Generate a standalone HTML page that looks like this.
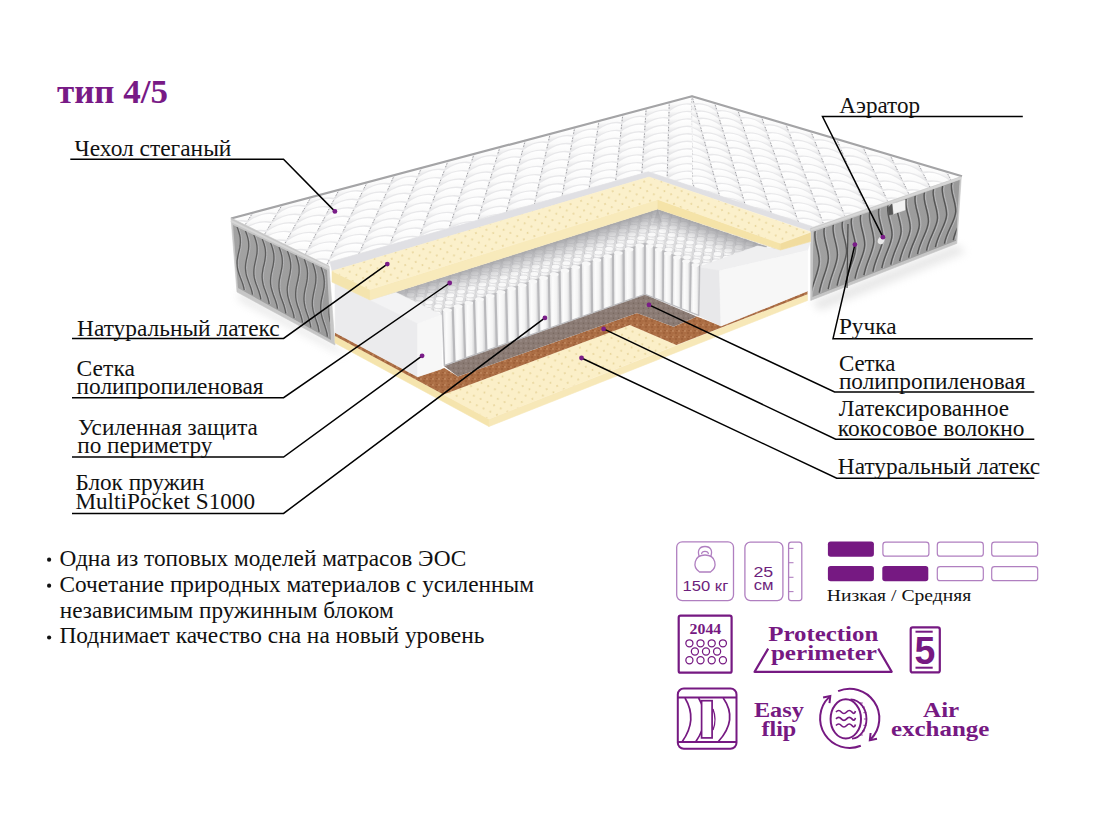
<!DOCTYPE html>
<html><head><meta charset="utf-8"><title>тип 4/5</title>
<style>
html,body{margin:0;padding:0;background:#fff;}
body{width:1100px;height:814px;overflow:hidden;font-family:"Liberation Serif",serif;}
svg{display:block;}
</style></head><body>
<svg width="1100" height="814" viewBox="0 0 1100 814">
<rect width="1100" height="814" fill="#fff"/>

<defs>
  <filter id="blur4" x="-20%" y="-20%" width="140%" height="140%"><feGaussianBlur stdDeviation="4"/></filter>
  <filter id="blur2" x="-20%" y="-20%" width="140%" height="140%"><feGaussianBlur stdDeviation="1.5"/></filter>
  <filter id="blur1" x="-20%" y="-20%" width="140%" height="140%"><feGaussianBlur stdDeviation="0.6"/></filter>
  <pattern id="latexdots" patternUnits="userSpaceOnUse" width="11" height="10" patternTransform="rotate(-17)">
    <rect width="11" height="10" fill="none"/>
    <circle cx="2" cy="2" r="0.95" fill="#e6d398"/>
    <circle cx="7.5" cy="7" r="0.95" fill="#e6d398"/>
  </pattern>
  <pattern id="coco" patternUnits="userSpaceOnUse" width="6" height="6">
    <rect width="6" height="6" fill="#ab6d44"/>
    <circle cx="1" cy="1" r="0.9" fill="#c18a60"/>
    <circle cx="4" cy="3" r="0.8" fill="#92552f"/>
    <circle cx="2" cy="5" r="0.7" fill="#b98054"/>
    <circle cx="5" cy="0.5" r="0.6" fill="#93552f"/>
  </pattern>
  <pattern id="mesh" patternUnits="userSpaceOnUse" width="5" height="5">
    <rect width="5" height="5" fill="#8b7b74"/>
    <circle cx="1" cy="1" r="0.8" fill="#a0928c"/>
    <circle cx="3.5" cy="3.2" r="0.8" fill="#76675f"/>
  </pattern>
  <linearGradient id="gPanelL" x1="0" y1="0" x2="1" y2="0">
    <stop offset="0" stop-color="#a2a2a2"/>
    <stop offset="1" stop-color="#9a9a9a"/>
  </linearGradient>
  <linearGradient id="gPanelR" x1="0" y1="0" x2="1" y2="0">
    <stop offset="0" stop-color="#a0a0a0"/>
    <stop offset="1" stop-color="#9a9a9a"/>
  </linearGradient>
  <linearGradient id="gSpringTop" x1="0" y1="0" x2="0" y2="1">
    <stop offset="0" stop-color="#b5b5b8"/>
    <stop offset="0.5" stop-color="#d2d2d4"/>
    <stop offset="1" stop-color="#e8e8ea"/>
  </linearGradient>
  <linearGradient id="gPillow" x1="0" y1="0" x2="0" y2="1">
    <stop offset="0" stop-color="#ffffff"/>
    <stop offset="0.55" stop-color="#fafafa"/>
    <stop offset="1" stop-color="#e4e4e6"/>
  </linearGradient>
  <linearGradient id="gShL" gradientUnits="userSpaceOnUse" x1="514" y1="254.5" x2="520" y2="274">
    <stop offset="0" stop-color="#9c9ca0" stop-opacity="0.85"/>
    <stop offset="1" stop-color="#b0b0b4" stop-opacity="0"/>
  </linearGradient>
  <linearGradient id="gShR" gradientUnits="userSpaceOnUse" x1="712" y1="228" x2="705.5" y2="247">
    <stop offset="0" stop-color="#9c9ca0" stop-opacity="0.85"/>
    <stop offset="1" stop-color="#b0b0b4" stop-opacity="0"/>
  </linearGradient>
  <linearGradient id="gCyl" x1="0" y1="0" x2="1" y2="0">
    <stop offset="0" stop-color="#e9e9ea"/>
    <stop offset="0.3" stop-color="#fcfcfc"/>
    <stop offset="0.7" stop-color="#f3f3f3"/>
    <stop offset="1" stop-color="#d2d2d4"/>
  </linearGradient>
</defs>

<g filter="url(#blur4)" opacity="0.35">
<polygon points="238.0,292.0 335.0,346.0 345.0,356.0 240.0,300.0" fill="#b0b0b0"  stroke="#b0b0b0" stroke-width="0.6" stroke-linejoin="round"/>
<polygon points="812.0,302.0 957.0,245.0 965.0,252.0 820.0,310.0" fill="#b8b8b8"  stroke="#b8b8b8" stroke-width="0.6" stroke-linejoin="round"/>
</g>
<polygon points="231.0,218.0 692.0,96.0 962.0,176.0 812.0,227.0 648.2,171.8 330.0,262.0 328.0,266.0" fill="#f4f4f4"  stroke="#f4f4f4" stroke-width="0.6" stroke-linejoin="round"/>
<clipPath id="cpTop"><polygon points="231.0,218.0 692.0,96.0 962.0,176.0 812.0,227.0 648.2,171.8 330.0,262.0 328.0,266.0"/></clipPath>
<g clip-path="url(#cpTop)">
<clipPath id="cpQL"><polygon points="150.0,60.0 692.0,96.0 696.9,496.0 150.0,500.0"/></clipPath>
<clipPath id="cpQR"><polygon points="692.0,96.0 1000.0,60.0 1000.0,500.0 696.9,496.0"/></clipPath>
<g clip-path="url(#cpQL)">
<rect x="200" y="80" width="800" height="240" fill="#e8e8ea"/>
<path d="M193.6,229.5 Q208.0,218.1 222.5,221.5 L217.3,228.5 Q202.7,225.9 188.2,236.3 Z" fill="url(#gPillow)"/>
<path d="M223.7,221.5 Q237.9,210.4 252.1,213.7 L247.2,220.6 Q232.9,218.1 218.6,228.3 Z" fill="url(#gPillow)"/>
<path d="M253.3,213.7 Q267.3,202.7 281.3,206.0 L276.7,212.9 Q262.6,210.4 248.5,220.5 Z" fill="url(#gPillow)"/>
<path d="M282.5,206.0 Q296.3,195.2 310.0,198.4 L305.7,205.3 Q291.8,202.9 277.9,212.7 Z" fill="url(#gPillow)"/>
<path d="M311.2,198.4 Q324.8,187.8 338.3,190.9 L334.3,197.8 Q320.6,195.4 307.0,205.1 Z" fill="url(#gPillow)"/>
<path d="M339.5,190.9 Q352.9,180.5 366.2,183.6 L362.4,190.4 Q349.0,188.1 335.5,197.6 Z" fill="url(#gPillow)"/>
<path d="M367.4,183.6 Q380.5,173.3 393.6,176.4 L390.1,183.1 Q376.9,180.9 363.7,190.3 Z" fill="url(#gPillow)"/>
<path d="M394.8,176.4 Q407.7,166.2 420.6,169.2 L417.4,176.0 Q404.4,173.8 391.4,183.0 Z" fill="url(#gPillow)"/>
<path d="M421.8,169.2 Q434.5,159.2 447.2,162.2 L444.3,168.9 Q431.5,166.8 418.7,175.8 Z" fill="url(#gPillow)"/>
<path d="M448.4,162.2 Q460.9,152.4 473.3,155.3 L470.8,161.9 Q458.2,159.9 445.6,168.8 Z" fill="url(#gPillow)"/>
<path d="M474.5,155.3 Q486.8,145.6 499.1,148.5 L496.9,155.1 Q484.4,153.1 472.0,161.8 Z" fill="url(#gPillow)"/>
<path d="M500.3,148.5 Q512.4,139.0 524.5,141.8 L522.5,148.3 Q510.3,146.3 498.1,154.9 Z" fill="url(#gPillow)"/>
<path d="M525.7,141.8 Q537.6,132.4 549.4,135.2 L547.8,141.6 Q535.8,139.7 523.8,148.2 Z" fill="url(#gPillow)"/>
<path d="M550.6,135.2 Q562.3,126.0 574.0,128.7 L572.7,135.1 Q560.9,133.2 549.0,141.5 Z" fill="url(#gPillow)"/>
<path d="M575.2,128.7 Q586.7,119.6 598.2,122.3 L597.2,128.6 Q585.6,126.8 573.9,134.9 Z" fill="url(#gPillow)"/>
<path d="M599.4,122.3 Q610.8,113.4 622.1,116.0 L621.3,122.2 Q609.9,120.4 598.4,128.5 Z" fill="url(#gPillow)"/>
<path d="M623.3,116.0 Q634.4,107.2 645.6,109.8 L645.1,115.9 Q633.8,114.2 622.5,122.1 Z" fill="url(#gPillow)"/>
<path d="M646.8,109.8 Q657.7,101.1 668.7,103.7 L668.5,109.7 Q657.4,108.0 646.3,115.8 Z" fill="url(#gPillow)"/>
<path d="M669.9,103.7 Q680.6,95.2 691.4,97.7 L691.5,103.5 Q680.6,101.9 669.7,109.5 Z" fill="url(#gPillow)"/>
<path d="M692.6,97.7 Q692.0,92.2 691.4,97.7 L691.5,103.5 Q692.1,98.9 692.7,103.5 Z" fill="url(#gPillow)"/>
<path d="M187.6,238.0 Q202.1,226.8 216.7,230.2 L211.4,237.2 Q196.8,234.5 182.1,244.8 Z" fill="url(#gPillow)"/>
<path d="M218.0,230.1 Q232.3,219.0 246.6,222.4 L241.7,229.3 Q227.3,226.7 212.8,236.9 Z" fill="url(#gPillow)"/>
<path d="M247.9,222.2 Q262.0,211.3 276.1,214.7 L271.5,221.5 Q257.3,219.0 243.1,229.0 Z" fill="url(#gPillow)"/>
<path d="M277.4,214.5 Q291.3,203.7 305.2,207.0 L300.8,213.9 Q286.9,211.4 272.9,221.2 Z" fill="url(#gPillow)"/>
<path d="M306.5,206.9 Q320.2,196.3 333.8,199.5 L329.8,206.4 Q316.0,204.0 302.2,213.6 Z" fill="url(#gPillow)"/>
<path d="M335.1,199.4 Q348.6,189.0 362.0,192.2 L358.2,199.0 Q344.7,196.6 331.1,206.1 Z" fill="url(#gPillow)"/>
<path d="M363.3,192.0 Q376.5,181.7 389.8,184.9 L386.3,191.7 Q372.9,189.4 359.6,198.7 Z" fill="url(#gPillow)"/>
<path d="M391.0,184.7 Q404.1,174.6 417.1,177.7 L413.9,184.4 Q400.8,182.2 387.6,191.4 Z" fill="url(#gPillow)"/>
<path d="M418.3,177.6 Q431.2,167.6 444.0,170.6 L441.1,177.3 Q428.2,175.2 415.3,184.1 Z" fill="url(#gPillow)"/>
<path d="M445.3,170.5 Q457.9,160.7 470.5,163.7 L468.0,170.3 Q455.2,168.2 442.5,177.0 Z" fill="url(#gPillow)"/>
<path d="M471.8,163.5 Q484.2,153.9 496.6,156.8 L494.4,163.4 Q481.8,161.3 469.3,170.0 Z" fill="url(#gPillow)"/>
<path d="M497.9,156.7 Q510.1,147.2 522.3,150.0 L520.4,156.6 Q508.0,154.5 495.7,163.1 Z" fill="url(#gPillow)"/>
<path d="M523.6,149.9 Q535.6,140.5 547.6,143.4 L546.0,149.8 Q533.8,147.8 521.6,156.3 Z" fill="url(#gPillow)"/>
<path d="M548.9,143.2 Q560.7,134.0 572.5,136.8 L571.2,143.1 Q559.2,141.2 547.2,149.5 Z" fill="url(#gPillow)"/>
<path d="M573.8,136.6 Q585.4,127.6 597.1,130.3 L596.0,136.6 Q584.2,134.7 572.5,142.9 Z" fill="url(#gPillow)"/>
<path d="M598.3,130.1 Q609.8,121.2 621.2,123.9 L620.5,130.0 Q608.9,128.3 597.3,136.3 Z" fill="url(#gPillow)"/>
<path d="M622.5,123.7 Q633.7,114.9 645.0,117.6 L644.6,123.6 Q633.1,121.9 621.7,129.8 Z" fill="url(#gPillow)"/>
<path d="M646.2,117.4 Q657.3,108.7 668.5,111.3 L668.3,117.3 Q657.0,115.6 645.8,123.3 Z" fill="url(#gPillow)"/>
<path d="M669.7,111.2 Q680.6,102.6 691.5,105.2 L691.6,111.0 Q680.5,109.4 669.5,117.0 Z" fill="url(#gPillow)"/>
<path d="M692.7,105.1 Q692.1,99.6 691.5,105.1 L691.6,110.9 Q692.2,106.3 692.8,110.9 Z" fill="url(#gPillow)"/>
<path d="M181.5,246.6 Q196.2,235.4 210.9,238.9 L205.6,245.9 Q190.9,243.1 176.1,253.4 Z" fill="url(#gPillow)"/>
<path d="M212.3,238.6 Q226.7,227.6 241.1,231.1 L236.2,238.0 Q221.7,235.3 207.1,245.4 Z" fill="url(#gPillow)"/>
<path d="M242.6,230.7 Q256.8,219.9 271.0,223.3 L266.3,230.2 Q252.0,227.6 237.7,237.5 Z" fill="url(#gPillow)"/>
<path d="M272.4,223.0 Q286.4,212.3 300.4,215.7 L296.0,222.5 Q281.9,220.0 267.8,229.7 Z" fill="url(#gPillow)"/>
<path d="M301.7,215.4 Q315.5,204.8 329.3,208.1 L325.3,215.0 Q311.4,212.5 297.5,222.1 Z" fill="url(#gPillow)"/>
<path d="M330.7,207.8 Q344.3,197.5 357.8,200.7 L354.1,207.5 Q340.4,205.1 326.7,214.5 Z" fill="url(#gPillow)"/>
<path d="M359.2,200.4 Q372.5,190.2 385.9,193.4 L382.5,200.2 Q369.0,197.8 355.5,207.1 Z" fill="url(#gPillow)"/>
<path d="M387.3,193.1 Q400.4,183.1 413.6,186.2 L410.4,192.9 Q397.1,190.6 383.9,199.7 Z" fill="url(#gPillow)"/>
<path d="M414.9,185.9 Q427.9,176.0 440.8,179.1 L438.0,185.8 Q424.9,183.5 411.8,192.5 Z" fill="url(#gPillow)"/>
<path d="M442.1,178.8 Q454.9,169.0 467.7,172.1 L465.1,178.7 Q452.2,176.5 439.3,185.3 Z" fill="url(#gPillow)"/>
<path d="M469.0,171.7 Q481.5,162.1 494.1,165.1 L491.9,171.7 Q479.2,169.6 466.5,178.2 Z" fill="url(#gPillow)"/>
<path d="M495.4,164.8 Q507.8,155.4 520.2,158.3 L518.2,164.8 Q505.7,162.7 493.2,171.3 Z" fill="url(#gPillow)"/>
<path d="M521.4,158.0 Q533.6,148.7 545.8,151.5 L544.2,158.0 Q531.8,156.0 519.5,164.3 Z" fill="url(#gPillow)"/>
<path d="M547.1,151.2 Q559.1,142.0 571.1,144.8 L569.7,151.2 Q557.6,149.3 545.5,157.5 Z" fill="url(#gPillow)"/>
<path d="M572.3,144.5 Q584.1,135.5 595.9,138.2 L594.9,144.5 Q582.9,142.7 571.0,150.8 Z" fill="url(#gPillow)"/>
<path d="M597.2,138.0 Q608.8,129.0 620.4,131.7 L619.7,137.9 Q607.9,136.1 596.1,144.1 Z" fill="url(#gPillow)"/>
<path d="M621.6,131.4 Q633.1,122.7 644.5,125.3 L644.0,131.4 Q632.5,129.6 620.9,137.5 Z" fill="url(#gPillow)"/>
<path d="M645.7,125.0 Q657.0,116.3 668.2,118.9 L668.1,124.9 Q656.7,123.2 645.3,130.9 Z" fill="url(#gPillow)"/>
<path d="M669.4,118.6 Q680.5,110.1 691.6,112.6 L691.7,118.5 Q680.5,116.8 669.3,124.5 Z" fill="url(#gPillow)"/>
<path d="M692.8,112.5 Q692.2,107.0 691.6,112.5 L691.7,118.3 Q692.3,113.7 692.9,118.3 Z" fill="url(#gPillow)"/>
<path d="M175.5,255.2 Q190.3,244.0 205.0,247.6 L199.8,254.6 Q185.0,251.8 170.1,262.0 Z" fill="url(#gPillow)"/>
<path d="M206.6,247.1 Q221.1,236.2 235.7,239.7 L230.7,246.7 Q216.1,243.9 201.4,253.9 Z" fill="url(#gPillow)"/>
<path d="M237.2,239.3 Q251.5,228.5 265.8,232.0 L261.2,238.9 Q246.7,236.2 232.3,246.0 Z" fill="url(#gPillow)"/>
<path d="M267.3,231.5 Q281.4,220.9 295.5,224.3 L291.2,231.2 Q277.0,228.6 262.7,238.2 Z" fill="url(#gPillow)"/>
<path d="M297.0,223.8 Q310.9,213.4 324.8,216.7 L320.7,223.6 Q306.7,221.0 292.7,230.5 Z" fill="url(#gPillow)"/>
<path d="M326.3,216.3 Q339.9,206.0 353.6,209.3 L349.9,216.1 Q336.1,213.6 322.3,223.0 Z" fill="url(#gPillow)"/>
<path d="M355.1,208.8 Q368.6,198.7 382.1,201.9 L378.6,208.7 Q365.0,206.3 351.4,215.5 Z" fill="url(#gPillow)"/>
<path d="M383.5,201.5 Q396.8,191.5 410.1,194.7 L406.9,201.4 Q393.5,199.1 380.1,208.1 Z" fill="url(#gPillow)"/>
<path d="M411.5,194.2 Q424.6,184.4 437.7,187.5 L434.8,194.2 Q421.6,191.9 408.4,200.8 Z" fill="url(#gPillow)"/>
<path d="M439.0,187.0 Q451.9,177.3 464.8,180.4 L462.3,187.1 Q449.3,184.8 436.2,193.6 Z" fill="url(#gPillow)"/>
<path d="M466.2,180.0 Q478.9,170.4 491.6,173.4 L489.4,180.0 Q476.5,177.9 463.7,186.5 Z" fill="url(#gPillow)"/>
<path d="M493.0,173.0 Q505.5,163.6 518.0,166.5 L516.1,173.0 Q503.4,170.9 490.8,179.4 Z" fill="url(#gPillow)"/>
<path d="M519.3,166.1 Q531.6,156.8 544.0,159.7 L542.3,166.1 Q529.9,164.1 517.4,172.4 Z" fill="url(#gPillow)"/>
<path d="M545.3,159.2 Q557.4,150.1 569.6,152.9 L568.2,159.3 Q555.9,157.3 543.7,165.5 Z" fill="url(#gPillow)"/>
<path d="M570.9,152.5 Q582.8,143.4 594.8,146.2 L593.7,152.5 Q581.6,150.6 569.5,158.7 Z" fill="url(#gPillow)"/>
<path d="M596.0,145.8 Q607.8,136.9 619.6,139.6 L618.8,145.8 Q606.9,143.9 595.0,151.9 Z" fill="url(#gPillow)"/>
<path d="M620.8,139.2 Q632.4,130.4 644.0,133.0 L643.5,139.1 Q631.8,137.3 620.1,145.2 Z" fill="url(#gPillow)"/>
<path d="M645.2,132.6 Q656.6,123.9 668.0,126.5 L667.8,132.5 Q656.3,130.8 644.8,138.5 Z" fill="url(#gPillow)"/>
<path d="M669.2,126.1 Q680.5,117.6 691.7,120.1 L691.8,125.9 Q680.4,124.3 669.1,131.9 Z" fill="url(#gPillow)"/>
<path d="M692.9,119.9 Q692.3,114.4 691.7,119.9 L691.8,125.7 Q692.4,121.1 693.0,125.7 Z" fill="url(#gPillow)"/>
<path d="M169.5,263.7 Q184.4,252.6 199.2,256.3 L194.0,263.3 Q179.0,260.4 164.1,270.5 Z" fill="url(#gPillow)"/>
<path d="M200.9,255.7 Q215.5,244.8 230.2,248.4 L225.2,255.3 Q210.5,252.5 195.7,262.5 Z" fill="url(#gPillow)"/>
<path d="M231.8,247.8 Q246.2,237.0 260.6,240.6 L256.0,247.5 Q241.5,244.8 226.9,254.5 Z" fill="url(#gPillow)"/>
<path d="M262.2,240.0 Q276.5,229.4 290.7,232.9 L286.3,239.8 Q272.0,237.1 257.7,246.7 Z" fill="url(#gPillow)"/>
<path d="M292.2,232.3 Q306.3,221.9 320.3,225.3 L316.2,232.2 Q302.1,229.6 288.0,239.0 Z" fill="url(#gPillow)"/>
<path d="M321.8,224.7 Q335.6,214.5 349.5,217.9 L345.7,224.7 Q331.8,222.1 317.8,231.4 Z" fill="url(#gPillow)"/>
<path d="M351.0,217.2 Q364.6,207.1 378.2,210.5 L374.8,217.2 Q361.0,214.8 347.3,223.9 Z" fill="url(#gPillow)"/>
<path d="M379.7,209.8 Q393.1,199.9 406.6,203.2 L403.4,209.9 Q389.9,207.5 376.3,216.5 Z" fill="url(#gPillow)"/>
<path d="M408.0,202.5 Q421.3,192.7 434.5,195.9 L431.6,202.6 Q418.3,200.3 404.9,209.1 Z" fill="url(#gPillow)"/>
<path d="M435.9,195.3 Q449.0,185.7 462.0,188.8 L459.5,195.4 Q446.3,193.2 433.1,201.9 Z" fill="url(#gPillow)"/>
<path d="M463.4,188.2 Q476.3,178.7 489.1,181.7 L486.9,188.3 Q473.9,186.1 460.9,194.7 Z" fill="url(#gPillow)"/>
<path d="M490.5,181.1 Q503.2,171.8 515.8,174.8 L513.9,181.3 Q501.1,179.1 488.3,187.6 Z" fill="url(#gPillow)"/>
<path d="M517.2,174.1 Q529.7,164.9 542.2,167.8 L540.5,174.3 Q527.9,172.2 515.3,180.5 Z" fill="url(#gPillow)"/>
<path d="M543.5,167.2 Q555.8,158.1 568.1,161.0 L566.7,167.3 Q554.3,165.3 541.9,173.5 Z" fill="url(#gPillow)"/>
<path d="M569.4,160.4 Q581.5,151.4 593.6,154.2 L592.6,160.5 Q580.3,158.5 568.1,166.6 Z" fill="url(#gPillow)"/>
<path d="M594.9,153.6 Q606.8,144.7 618.7,147.4 L618.0,153.6 Q605.9,151.8 593.9,159.7 Z" fill="url(#gPillow)"/>
<path d="M620.0,146.9 Q631.7,138.1 643.5,140.8 L643.0,146.8 Q631.1,145.1 619.3,152.9 Z" fill="url(#gPillow)"/>
<path d="M644.7,140.2 Q656.3,131.5 667.8,134.1 L667.6,140.1 Q655.9,138.4 644.3,146.1 Z" fill="url(#gPillow)"/>
<path d="M669.0,133.6 Q680.4,125.0 691.8,127.6 L691.9,133.4 Q680.4,131.8 668.9,139.4 Z" fill="url(#gPillow)"/>
<path d="M693.0,127.3 Q692.4,121.8 691.8,127.3 L691.9,133.1 Q692.5,128.5 693.1,133.1 Z" fill="url(#gPillow)"/>
<path d="M163.5,272.3 Q178.4,261.3 193.4,265.0 L188.2,272.0 Q173.1,269.0 158.0,279.1 Z" fill="url(#gPillow)"/>
<path d="M195.2,264.2 Q209.9,253.4 224.7,257.1 L219.7,264.0 Q204.9,261.1 190.0,271.0 Z" fill="url(#gPillow)"/>
<path d="M226.4,256.3 Q240.9,245.6 255.5,249.3 L250.8,256.2 Q236.2,253.4 221.5,263.1 Z" fill="url(#gPillow)"/>
<path d="M257.2,248.5 Q271.5,238.0 285.8,241.6 L281.5,248.4 Q267.0,245.7 252.6,255.2 Z" fill="url(#gPillow)"/>
<path d="M287.5,240.8 Q301.6,230.4 315.8,233.9 L311.7,240.8 Q297.5,238.1 283.2,247.5 Z" fill="url(#gPillow)"/>
<path d="M317.4,233.1 Q331.3,223.0 345.3,226.4 L341.5,233.2 Q327.5,230.6 313.4,239.8 Z" fill="url(#gPillow)"/>
<path d="M346.9,225.6 Q360.6,215.6 374.4,219.0 L370.9,225.8 Q357.1,223.2 343.2,232.3 Z" fill="url(#gPillow)"/>
<path d="M375.9,218.2 Q389.5,208.3 403.1,211.6 L399.9,218.4 Q386.2,215.9 372.5,224.8 Z" fill="url(#gPillow)"/>
<path d="M404.6,210.9 Q418.0,201.1 431.3,204.4 L428.5,211.1 Q415.0,208.7 401.5,217.4 Z" fill="url(#gPillow)"/>
<path d="M432.8,203.6 Q446.0,194.0 459.2,197.2 L456.6,203.8 Q443.3,201.5 430.0,210.1 Z" fill="url(#gPillow)"/>
<path d="M460.6,196.4 Q473.6,186.9 486.6,190.1 L484.4,196.6 Q471.3,194.4 458.1,202.9 Z" fill="url(#gPillow)"/>
<path d="M488.1,189.3 Q500.9,180.0 513.7,183.0 L511.7,189.5 Q498.8,187.3 485.9,195.7 Z" fill="url(#gPillow)"/>
<path d="M515.1,182.2 Q527.7,173.0 540.3,176.0 L538.7,182.4 Q525.9,180.3 513.2,188.6 Z" fill="url(#gPillow)"/>
<path d="M541.7,175.2 Q554.1,166.2 566.6,169.0 L565.2,175.4 Q552.7,173.4 540.1,181.5 Z" fill="url(#gPillow)"/>
<path d="M567.9,168.3 Q580.2,159.3 592.4,162.1 L591.4,168.4 Q579.0,166.5 566.6,174.5 Z" fill="url(#gPillow)"/>
<path d="M593.8,161.4 Q605.8,152.6 617.9,155.3 L617.1,161.5 Q604.9,159.6 592.7,167.5 Z" fill="url(#gPillow)"/>
<path d="M619.2,154.6 Q631.1,145.8 643.0,148.5 L642.5,154.6 Q630.5,152.8 618.4,160.6 Z" fill="url(#gPillow)"/>
<path d="M644.2,147.8 Q655.9,139.2 667.6,141.8 L667.4,147.7 Q655.6,146.0 643.7,153.7 Z" fill="url(#gPillow)"/>
<path d="M668.8,141.0 Q680.4,132.5 691.9,135.0 L692.0,140.9 Q680.3,139.2 668.6,146.9 Z" fill="url(#gPillow)"/>
<path d="M693.1,134.7 Q692.5,129.2 691.9,134.7 L691.9,140.5 Q692.5,135.9 693.1,140.5 Z" fill="url(#gPillow)"/>
<path d="M157.4,280.8 Q172.5,269.9 187.6,273.7 L182.4,280.7 Q167.2,277.7 152.0,287.6 Z" fill="url(#gPillow)"/>
<path d="M189.4,272.8 Q204.3,262.0 219.2,265.8 L214.2,272.7 Q199.3,269.7 184.3,279.5 Z" fill="url(#gPillow)"/>
<path d="M221.0,264.8 Q235.6,254.2 250.3,257.9 L245.7,264.8 Q230.9,261.9 216.1,271.6 Z" fill="url(#gPillow)"/>
<path d="M252.1,257.0 Q266.5,246.5 281.0,250.2 L276.7,257.1 Q262.1,254.2 247.5,263.7 Z" fill="url(#gPillow)"/>
<path d="M282.7,249.2 Q297.0,239.0 311.3,242.5 L307.2,249.4 Q292.8,246.6 278.5,255.9 Z" fill="url(#gPillow)"/>
<path d="M313.0,241.6 Q327.0,231.5 341.1,235.0 L337.4,241.8 Q323.2,239.1 309.0,248.3 Z" fill="url(#gPillow)"/>
<path d="M342.8,234.0 Q356.7,224.1 370.5,227.5 L367.1,234.3 Q353.1,231.7 339.1,240.7 Z" fill="url(#gPillow)"/>
<path d="M372.2,226.6 Q385.9,216.8 399.6,220.1 L396.4,226.9 Q382.6,224.3 368.8,233.2 Z" fill="url(#gPillow)"/>
<path d="M401.1,219.2 Q414.6,209.5 428.2,212.8 L425.3,219.5 Q411.7,217.0 398.0,225.8 Z" fill="url(#gPillow)"/>
<path d="M429.7,211.9 Q443.0,202.3 456.3,205.6 L453.8,212.2 Q440.4,209.8 426.9,218.4 Z" fill="url(#gPillow)"/>
<path d="M457.9,204.6 Q471.0,195.2 484.1,198.4 L481.9,204.9 Q468.6,202.7 455.4,211.1 Z" fill="url(#gPillow)"/>
<path d="M485.6,197.4 Q498.6,188.2 511.5,191.2 L509.6,197.7 Q496.5,195.5 483.4,203.9 Z" fill="url(#gPillow)"/>
<path d="M513.0,190.3 Q525.7,181.1 538.5,184.1 L536.9,190.6 Q524.0,188.5 511.1,196.7 Z" fill="url(#gPillow)"/>
<path d="M539.9,183.2 Q552.5,174.2 565.1,177.1 L563.8,183.5 Q551.0,181.4 538.3,189.5 Z" fill="url(#gPillow)"/>
<path d="M566.5,176.2 Q578.9,167.3 591.3,170.1 L590.2,176.4 Q577.7,174.4 565.2,182.4 Z" fill="url(#gPillow)"/>
<path d="M592.6,169.2 Q604.8,160.4 617.1,163.2 L616.3,169.3 Q603.9,167.4 591.6,175.4 Z" fill="url(#gPillow)"/>
<path d="M618.4,162.3 Q630.4,153.6 642.4,156.2 L642.0,162.3 Q629.8,160.5 617.6,168.3 Z" fill="url(#gPillow)"/>
<path d="M643.7,155.4 Q655.6,146.8 667.4,149.4 L667.2,155.3 Q655.2,153.6 643.2,161.3 Z" fill="url(#gPillow)"/>
<path d="M668.6,148.5 Q680.3,140.0 692.0,142.5 L692.0,148.3 Q680.2,146.7 668.4,154.3 Z" fill="url(#gPillow)"/>
<path d="M693.2,142.1 Q692.6,136.6 692.0,142.1 L692.0,147.9 Q692.6,143.3 693.2,147.9 Z" fill="url(#gPillow)"/>
<path d="M151.4,289.4 Q166.6,278.5 181.8,282.4 L176.5,289.4 Q161.3,286.3 146.0,296.2 Z" fill="url(#gPillow)"/>
<path d="M183.7,281.3 Q198.7,270.6 213.7,274.5 L208.7,281.4 Q193.7,278.4 178.6,288.1 Z" fill="url(#gPillow)"/>
<path d="M215.6,273.3 Q230.4,262.8 245.1,266.6 L240.5,273.5 Q225.6,270.5 210.7,280.1 Z" fill="url(#gPillow)"/>
<path d="M247.0,265.5 Q261.6,255.1 276.2,258.8 L271.8,265.7 Q257.1,262.8 242.4,272.2 Z" fill="url(#gPillow)"/>
<path d="M278.0,257.7 Q292.4,247.5 306.8,251.1 L302.7,258.0 Q288.2,255.2 273.7,264.4 Z" fill="url(#gPillow)"/>
<path d="M308.6,250.0 Q322.7,240.0 336.9,243.5 L333.2,250.4 Q318.9,247.6 304.6,256.7 Z" fill="url(#gPillow)"/>
<path d="M338.7,242.4 Q352.7,232.5 366.7,236.0 L363.2,242.8 Q349.1,240.2 335.0,249.1 Z" fill="url(#gPillow)"/>
<path d="M368.4,234.9 Q382.2,225.2 396.0,228.6 L392.9,235.3 Q379.0,232.8 365.0,241.6 Z" fill="url(#gPillow)"/>
<path d="M397.7,227.5 Q411.3,217.9 425.0,221.2 L422.1,227.9 Q408.4,225.4 394.6,234.1 Z" fill="url(#gPillow)"/>
<path d="M426.6,220.1 Q440.1,210.7 453.5,213.9 L451.0,220.6 Q437.4,218.1 423.8,226.7 Z" fill="url(#gPillow)"/>
<path d="M455.1,212.8 Q468.4,203.5 481.6,206.7 L479.4,213.3 Q466.0,210.9 452.6,219.3 Z" fill="url(#gPillow)"/>
<path d="M483.2,205.6 Q496.3,196.4 509.4,199.5 L507.4,206.0 Q494.2,203.7 481.0,212.0 Z" fill="url(#gPillow)"/>
<path d="M510.9,198.4 Q523.8,189.3 536.7,192.3 L535.1,198.7 Q522.0,196.6 508.9,204.8 Z" fill="url(#gPillow)"/>
<path d="M538.1,191.2 Q550.9,182.2 563.6,185.2 L562.3,191.5 Q549.4,189.5 536.5,197.5 Z" fill="url(#gPillow)"/>
<path d="M565.0,184.1 Q577.6,175.2 590.1,178.1 L589.1,184.4 Q576.4,182.4 563.7,190.4 Z" fill="url(#gPillow)"/>
<path d="M591.5,177.0 Q603.8,168.2 616.2,171.0 L615.5,177.2 Q603.0,175.3 590.4,183.2 Z" fill="url(#gPillow)"/>
<path d="M617.5,170.0 Q629.7,161.3 641.9,164.0 L641.5,170.0 Q629.1,168.2 616.8,176.0 Z" fill="url(#gPillow)"/>
<path d="M643.2,163.0 Q655.2,154.4 667.2,157.0 L667.0,162.9 Q654.9,161.2 642.7,168.9 Z" fill="url(#gPillow)"/>
<path d="M668.4,156.0 Q680.2,147.5 692.1,150.0 L692.1,155.8 Q680.2,154.2 668.2,161.8 Z" fill="url(#gPillow)"/>
<path d="M693.3,149.5 Q692.7,144.0 692.1,149.5 L692.1,155.3 Q692.7,150.7 693.3,155.3 Z" fill="url(#gPillow)"/>
<path d="M145.4,297.9 Q160.7,287.1 176.0,291.1 L170.7,298.1 Q155.3,294.9 140.0,304.7 Z" fill="url(#gPillow)"/>
<path d="M178.0,289.8 Q193.1,279.2 208.2,283.1 L203.2,290.0 Q188.1,287.0 172.9,296.6 Z" fill="url(#gPillow)"/>
<path d="M210.2,281.8 Q225.1,271.4 240.0,275.2 L235.3,282.1 Q220.3,279.1 205.4,288.6 Z" fill="url(#gPillow)"/>
<path d="M241.9,274.0 Q256.6,263.7 271.3,267.4 L267.0,274.3 Q252.2,271.4 237.4,280.7 Z" fill="url(#gPillow)"/>
<path d="M273.2,266.2 Q287.8,256.0 302.3,259.7 L298.2,266.6 Q283.6,263.7 269.0,272.9 Z" fill="url(#gPillow)"/>
<path d="M304.1,258.5 Q318.4,248.5 332.8,252.1 L329.0,258.9 Q314.6,256.1 300.1,265.2 Z" fill="url(#gPillow)"/>
<path d="M334.6,250.8 Q348.7,241.0 362.9,244.6 L359.4,251.3 Q345.2,248.6 330.9,257.5 Z" fill="url(#gPillow)"/>
<path d="M364.6,243.3 Q378.6,233.6 392.5,237.1 L389.4,243.8 Q375.3,241.2 361.2,249.9 Z" fill="url(#gPillow)"/>
<path d="M394.3,235.8 Q408.0,226.3 421.8,229.7 L419.0,236.4 Q405.1,233.8 391.2,242.4 Z" fill="url(#gPillow)"/>
<path d="M423.5,228.4 Q437.1,219.0 450.7,222.3 L448.1,228.9 Q434.4,226.5 420.7,235.0 Z" fill="url(#gPillow)"/>
<path d="M452.3,221.1 Q465.7,211.7 479.2,215.0 L476.9,221.6 Q463.4,219.2 449.8,227.6 Z" fill="url(#gPillow)"/>
<path d="M480.7,213.8 Q494.0,204.5 507.2,207.7 L505.3,214.2 Q491.9,211.9 478.5,220.2 Z" fill="url(#gPillow)"/>
<path d="M508.7,206.5 Q521.8,197.4 534.9,200.5 L533.2,206.9 Q520.0,204.7 506.8,212.9 Z" fill="url(#gPillow)"/>
<path d="M536.3,199.2 Q549.2,190.3 562.1,193.2 L560.8,199.6 Q547.8,197.5 534.7,205.6 Z" fill="url(#gPillow)"/>
<path d="M563.5,192.0 Q576.3,183.2 589.0,186.0 L587.9,192.3 Q575.1,190.3 562.2,198.3 Z" fill="url(#gPillow)"/>
<path d="M590.3,184.9 Q602.9,176.1 615.4,178.9 L614.6,185.0 Q602.0,183.1 589.3,191.0 Z" fill="url(#gPillow)"/>
<path d="M616.7,177.7 Q629.1,169.0 641.4,171.7 L640.9,177.8 Q628.5,176.0 616.0,183.7 Z" fill="url(#gPillow)"/>
<path d="M642.7,170.6 Q654.8,162.0 667.0,164.6 L666.8,170.5 Q654.5,168.8 642.2,176.5 Z" fill="url(#gPillow)"/>
<path d="M668.2,163.4 Q680.2,154.9 692.1,157.5 L692.2,163.3 Q680.1,161.6 668.0,169.3 Z" fill="url(#gPillow)"/>
<path d="M693.3,156.9 Q692.7,151.4 692.1,156.9 L692.2,162.7 Q692.8,158.1 693.4,162.7 Z" fill="url(#gPillow)"/>
<path d="M139.4,306.5 Q154.8,295.8 170.1,299.8 L164.9,306.7 Q149.4,303.5 133.9,313.3 Z" fill="url(#gPillow)"/>
<path d="M172.3,298.4 Q187.5,287.8 202.7,291.8 L197.8,298.7 Q182.5,295.6 167.2,305.2 Z" fill="url(#gPillow)"/>
<path d="M204.8,290.4 Q219.8,280.0 234.8,283.9 L230.2,290.8 Q215.1,287.7 200.0,297.1 Z" fill="url(#gPillow)"/>
<path d="M236.9,282.4 Q251.7,272.2 266.5,276.1 L262.1,282.9 Q247.2,279.9 232.3,289.2 Z" fill="url(#gPillow)"/>
<path d="M268.5,274.6 Q283.1,264.6 297.8,268.3 L293.7,275.2 Q279.0,272.2 264.2,281.4 Z" fill="url(#gPillow)"/>
<path d="M299.7,266.9 Q314.1,257.0 328.6,260.7 L324.8,267.5 Q310.3,264.6 295.7,273.6 Z" fill="url(#gPillow)"/>
<path d="M330.5,259.2 Q344.8,249.5 359.0,253.1 L355.6,259.9 Q341.2,257.1 326.8,265.9 Z" fill="url(#gPillow)"/>
<path d="M360.9,251.7 Q374.9,242.0 389.0,245.6 L385.9,252.3 Q371.7,249.6 357.5,258.3 Z" fill="url(#gPillow)"/>
<path d="M390.8,244.2 Q404.7,234.6 418.6,238.1 L415.8,244.8 Q401.8,242.2 387.7,250.7 Z" fill="url(#gPillow)"/>
<path d="M420.4,236.7 Q434.1,227.3 447.9,230.7 L445.3,237.3 Q431.4,234.8 417.6,243.2 Z" fill="url(#gPillow)"/>
<path d="M449.5,229.3 Q463.1,220.0 476.7,223.3 L474.4,229.9 Q460.7,227.4 447.0,235.8 Z" fill="url(#gPillow)"/>
<path d="M478.3,221.9 Q491.7,212.7 505.1,215.9 L503.1,222.5 Q489.6,220.1 476.1,228.3 Z" fill="url(#gPillow)"/>
<path d="M506.6,214.6 Q519.8,205.5 533.0,208.6 L531.4,215.1 Q518.1,212.8 504.7,220.9 Z" fill="url(#gPillow)"/>
<path d="M534.6,207.3 Q547.6,198.3 560.6,201.3 L559.3,207.7 Q546.1,205.5 532.9,213.6 Z" fill="url(#gPillow)"/>
<path d="M562.1,200.0 Q574.9,191.1 587.8,194.0 L586.8,200.3 Q573.8,198.2 560.8,206.2 Z" fill="url(#gPillow)"/>
<path d="M589.2,192.7 Q601.9,183.9 614.6,186.7 L613.8,192.9 Q601.0,191.0 588.2,198.8 Z" fill="url(#gPillow)"/>
<path d="M615.9,185.4 Q628.4,176.7 640.9,179.5 L640.4,185.5 Q627.8,183.7 615.2,191.5 Z" fill="url(#gPillow)"/>
<path d="M642.2,178.2 Q654.5,169.6 666.8,172.2 L666.6,178.1 Q654.1,176.4 641.7,184.1 Z" fill="url(#gPillow)"/>
<path d="M668.0,170.9 Q680.1,162.4 692.2,164.9 L692.3,170.7 Q680.1,169.1 667.8,176.7 Z" fill="url(#gPillow)"/>
<path d="M693.4,164.3 Q692.8,158.8 692.2,164.3 L692.3,170.1 Q692.9,165.5 693.5,170.1 Z" fill="url(#gPillow)"/>
<path d="M133.3,315.0 Q148.8,304.4 164.3,308.5 L159.1,315.4 Q143.5,312.2 127.9,321.8 Z" fill="url(#gPillow)"/>
<path d="M166.6,306.9 Q181.9,296.4 197.2,300.5 L192.3,307.4 Q176.9,304.2 161.5,313.7 Z" fill="url(#gPillow)"/>
<path d="M199.4,298.9 Q214.5,288.6 229.6,292.5 L225.0,299.4 Q209.8,296.3 194.6,305.6 Z" fill="url(#gPillow)"/>
<path d="M231.8,290.9 Q246.7,280.8 261.7,284.7 L257.3,291.6 Q242.3,288.5 227.2,297.7 Z" fill="url(#gPillow)"/>
<path d="M263.8,283.1 Q278.5,273.1 293.2,276.9 L289.2,283.8 Q274.3,280.8 259.5,289.8 Z" fill="url(#gPillow)"/>
<path d="M295.3,275.3 Q309.8,265.5 324.4,269.2 L320.7,276.1 Q306.0,273.1 291.3,282.0 Z" fill="url(#gPillow)"/>
<path d="M326.4,267.7 Q340.8,257.9 355.2,261.6 L351.7,268.4 Q337.2,265.6 322.7,274.3 Z" fill="url(#gPillow)"/>
<path d="M357.1,260.0 Q371.3,250.5 385.5,254.1 L382.4,260.8 Q368.0,258.0 353.7,266.7 Z" fill="url(#gPillow)"/>
<path d="M387.4,252.5 Q401.4,243.0 415.5,246.5 L412.6,253.2 Q398.5,250.6 384.3,259.1 Z" fill="url(#gPillow)"/>
<path d="M417.3,245.0 Q431.1,235.6 445.0,239.1 L442.5,245.7 Q428.5,243.1 414.5,251.5 Z" fill="url(#gPillow)"/>
<path d="M446.7,237.5 Q460.5,228.3 474.2,231.6 L471.9,238.2 Q458.1,235.7 444.2,244.0 Z" fill="url(#gPillow)"/>
<path d="M475.8,230.1 Q489.4,220.9 502.9,224.2 L501.0,230.7 Q487.3,228.3 473.6,236.5 Z" fill="url(#gPillow)"/>
<path d="M504.5,222.7 Q517.9,213.6 531.2,216.8 L529.6,223.2 Q516.1,220.9 502.6,229.0 Z" fill="url(#gPillow)"/>
<path d="M532.8,215.3 Q546.0,206.3 559.1,209.4 L557.8,215.7 Q544.5,213.6 531.2,221.6 Z" fill="url(#gPillow)"/>
<path d="M560.6,207.9 Q573.6,199.0 586.6,202.0 L585.6,208.3 Q572.5,206.2 559.3,214.1 Z" fill="url(#gPillow)"/>
<path d="M588.1,200.5 Q600.9,191.7 613.7,194.6 L613.0,200.8 Q600.0,198.8 587.0,206.6 Z" fill="url(#gPillow)"/>
<path d="M615.1,193.1 Q627.7,184.5 640.4,187.2 L639.9,193.3 Q627.1,191.4 614.3,199.2 Z" fill="url(#gPillow)"/>
<path d="M641.7,185.8 Q654.1,177.2 666.6,179.8 L666.4,185.7 Q653.8,184.0 641.2,191.7 Z" fill="url(#gPillow)"/>
<path d="M667.8,178.4 Q680.1,169.9 692.3,172.4 L692.4,178.2 Q680.0,176.6 667.6,184.2 Z" fill="url(#gPillow)"/>
<path d="M693.5,171.7 Q692.9,166.2 692.3,171.7 L692.4,177.5 Q693.0,172.9 693.6,177.5 Z" fill="url(#gPillow)"/>
<path d="M127.3,323.6 Q142.9,313.0 158.5,317.2 L153.3,324.1 Q137.6,320.8 121.9,330.4 Z" fill="url(#gPillow)"/>
<path d="M160.9,315.4 Q176.3,305.0 191.7,309.2 L186.8,316.1 Q171.3,312.8 155.8,322.2 Z" fill="url(#gPillow)"/>
<path d="M194.0,307.4 Q209.3,297.1 224.5,301.2 L219.8,308.1 Q204.5,304.9 189.2,314.2 Z" fill="url(#gPillow)"/>
<path d="M226.7,299.4 Q241.8,289.3 256.8,293.3 L252.5,300.2 Q237.3,297.1 222.2,306.2 Z" fill="url(#gPillow)"/>
<path d="M259.0,291.6 Q273.9,281.6 288.7,285.5 L284.7,292.4 Q269.7,289.3 254.7,298.3 Z" fill="url(#gPillow)"/>
<path d="M290.9,283.8 Q305.5,274.0 320.2,277.8 L316.5,284.6 Q301.7,281.6 286.9,290.5 Z" fill="url(#gPillow)"/>
<path d="M322.3,276.1 Q336.8,266.4 351.3,270.1 L347.9,276.9 Q333.2,274.0 318.6,282.7 Z" fill="url(#gPillow)"/>
<path d="M353.3,268.4 Q367.7,258.9 382.0,262.5 L378.9,269.3 Q364.4,266.5 349.9,275.0 Z" fill="url(#gPillow)"/>
<path d="M383.9,260.8 Q398.1,251.4 412.3,255.0 L409.5,261.7 Q395.2,258.9 380.8,267.4 Z" fill="url(#gPillow)"/>
<path d="M414.2,253.2 Q428.2,244.0 442.2,247.4 L439.6,254.1 Q425.5,251.4 411.4,259.8 Z" fill="url(#gPillow)"/>
<path d="M444.0,245.7 Q457.8,236.5 471.7,239.9 L469.4,246.5 Q455.4,244.0 441.5,252.2 Z" fill="url(#gPillow)"/>
<path d="M473.4,238.2 Q487.1,229.1 500.7,232.4 L498.8,238.9 Q485.0,236.5 471.2,244.7 Z" fill="url(#gPillow)"/>
<path d="M502.4,230.7 Q515.9,221.8 529.4,224.9 L527.8,231.4 Q514.1,229.1 500.5,237.1 Z" fill="url(#gPillow)"/>
<path d="M531.0,223.3 Q544.3,214.4 557.7,217.4 L556.3,223.8 Q542.8,221.6 529.4,229.6 Z" fill="url(#gPillow)"/>
<path d="M559.2,215.8 Q572.3,207.0 585.5,209.9 L584.4,216.2 Q571.1,214.1 557.8,222.0 Z" fill="url(#gPillow)"/>
<path d="M586.9,208.3 Q599.9,199.6 612.9,202.4 L612.1,208.6 Q599.0,206.6 585.9,214.5 Z" fill="url(#gPillow)"/>
<path d="M614.2,200.8 Q627.0,192.2 639.8,194.9 L639.4,201.0 Q626.4,199.1 613.5,206.9 Z" fill="url(#gPillow)"/>
<path d="M641.1,193.4 Q653.8,184.8 666.4,187.4 L666.2,193.3 Q653.4,191.6 640.7,199.3 Z" fill="url(#gPillow)"/>
<path d="M667.6,185.8 Q680.0,177.3 692.4,179.9 L692.5,185.7 Q680.0,184.0 667.4,191.7 Z" fill="url(#gPillow)"/>
<path d="M693.6,179.1 Q693.0,173.6 692.4,179.1 L692.5,184.9 Q693.1,180.3 693.7,184.9 Z" fill="url(#gPillow)"/>
<path d="M155.2,324.0 Q170.7,313.6 186.2,317.8 L181.3,324.7 Q165.7,321.4 150.0,330.8 Z" fill="url(#gPillow)"/>
<path d="M188.6,315.9 Q204.0,305.7 219.3,309.9 L214.7,316.7 Q199.2,313.5 183.8,322.7 Z" fill="url(#gPillow)"/>
<path d="M221.7,307.9 Q236.8,297.9 252.0,302.0 L247.6,308.8 Q232.4,305.6 217.1,314.7 Z" fill="url(#gPillow)"/>
<path d="M254.3,300.0 Q269.2,290.2 284.2,294.1 L280.2,301.0 Q265.1,297.8 250.0,306.8 Z" fill="url(#gPillow)"/>
<path d="M286.4,292.2 Q301.2,282.5 316.1,286.4 L312.3,293.2 Q297.4,290.1 282.4,298.9 Z" fill="url(#gPillow)"/>
<path d="M318.2,284.5 Q332.8,274.9 347.5,278.7 L344.0,285.4 Q329.3,282.5 314.5,291.1 Z" fill="url(#gPillow)"/>
<path d="M349.5,276.8 Q364.0,267.3 378.5,271.0 L375.4,277.8 Q360.8,274.9 346.2,283.4 Z" fill="url(#gPillow)"/>
<path d="M380.5,269.1 Q394.8,259.8 409.1,263.4 L406.3,270.1 Q391.8,267.3 377.4,275.7 Z" fill="url(#gPillow)"/>
<path d="M411.0,261.5 Q425.2,252.3 439.4,255.8 L436.8,262.4 Q422.5,259.8 408.2,268.1 Z" fill="url(#gPillow)"/>
<path d="M441.2,253.9 Q455.2,244.8 469.2,248.2 L466.9,254.8 Q452.8,252.2 438.7,260.4 Z" fill="url(#gPillow)"/>
<path d="M470.9,246.4 Q484.8,237.3 498.6,240.7 L496.6,247.2 Q482.7,244.7 468.7,252.8 Z" fill="url(#gPillow)"/>
<path d="M500.3,238.8 Q513.9,229.9 527.6,233.1 L525.9,239.5 Q512.2,237.2 498.4,245.2 Z" fill="url(#gPillow)"/>
<path d="M529.2,231.3 Q542.7,222.4 556.2,225.5 L554.8,231.9 Q541.2,229.6 527.6,237.6 Z" fill="url(#gPillow)"/>
<path d="M557.7,223.7 Q571.0,214.9 584.3,217.9 L583.3,224.2 Q569.8,222.1 556.4,229.9 Z" fill="url(#gPillow)"/>
<path d="M585.8,216.1 Q598.9,207.4 612.0,210.3 L611.3,216.5 Q598.0,214.5 584.8,222.3 Z" fill="url(#gPillow)"/>
<path d="M613.4,208.6 Q626.4,199.9 639.3,202.7 L638.9,208.7 Q625.8,206.9 612.7,214.6 Z" fill="url(#gPillow)"/>
<path d="M640.6,200.9 Q653.4,192.4 666.2,195.0 L666.0,201.0 Q653.1,199.2 640.2,206.9 Z" fill="url(#gPillow)"/>
<path d="M667.4,193.3 Q680.0,184.8 692.5,187.3 L692.6,193.2 Q679.9,191.5 667.2,199.1 Z" fill="url(#gPillow)"/>
<path d="M693.7,186.5 Q693.1,181.0 692.5,186.5 L692.6,192.3 Q693.2,187.7 693.8,192.3 Z" fill="url(#gPillow)"/>
<path d="M183.2,324.4 Q198.7,314.3 214.1,318.5 L209.5,325.4 Q193.9,322.0 178.4,331.2 Z" fill="url(#gPillow)"/>
<path d="M216.6,316.4 Q231.9,306.5 247.1,310.6 L242.8,317.4 Q227.4,314.2 212.0,323.2 Z" fill="url(#gPillow)"/>
<path d="M249.5,308.5 Q264.6,298.7 279.7,302.7 L275.7,309.6 Q260.4,306.4 245.2,315.2 Z" fill="url(#gPillow)"/>
<path d="M282.0,300.7 Q296.9,291.0 311.9,294.9 L308.1,301.7 Q293.1,298.6 278.0,307.4 Z" fill="url(#gPillow)"/>
<path d="M314.1,292.9 Q328.9,283.3 343.7,287.2 L340.2,294.0 Q325.3,291.0 310.4,299.5 Z" fill="url(#gPillow)"/>
<path d="M345.8,285.1 Q360.4,275.7 375.0,279.5 L371.9,286.2 Q357.1,283.3 342.4,291.8 Z" fill="url(#gPillow)"/>
<path d="M377.1,277.5 Q391.5,268.2 406.0,271.8 L403.1,278.5 Q388.5,275.7 374.0,284.0 Z" fill="url(#gPillow)"/>
<path d="M407.9,269.8 Q422.2,260.6 436.5,264.2 L434.0,270.8 Q419.6,268.1 405.1,276.3 Z" fill="url(#gPillow)"/>
<path d="M438.4,262.2 Q452.5,253.1 466.7,256.5 L464.4,263.1 Q450.2,260.5 435.9,268.7 Z" fill="url(#gPillow)"/>
<path d="M468.5,254.5 Q482.5,245.5 496.4,248.9 L494.5,255.4 Q480.4,252.9 466.3,261.0 Z" fill="url(#gPillow)"/>
<path d="M498.2,246.9 Q512.0,238.0 525.8,241.2 L524.1,247.7 Q510.2,245.3 496.2,253.3 Z" fill="url(#gPillow)"/>
<path d="M527.4,239.3 Q541.0,230.4 554.7,233.6 L553.3,239.9 Q539.6,237.7 525.8,245.6 Z" fill="url(#gPillow)"/>
<path d="M556.2,231.6 Q569.7,222.9 583.2,225.9 L582.1,232.2 Q568.5,230.0 554.9,237.9 Z" fill="url(#gPillow)"/>
<path d="M584.6,224.0 Q597.9,215.3 611.2,218.2 L610.5,224.3 Q597.0,222.3 583.6,230.1 Z" fill="url(#gPillow)"/>
<path d="M612.6,216.3 Q625.7,207.6 638.8,210.4 L638.3,216.5 Q625.1,214.6 611.9,222.3 Z" fill="url(#gPillow)"/>
<path d="M640.1,208.5 Q653.0,200.0 665.9,202.6 L665.8,208.6 Q652.7,206.8 639.7,214.5 Z" fill="url(#gPillow)"/>
<path d="M667.2,200.8 Q679.9,192.3 692.6,194.8 L692.7,200.6 Q679.9,199.0 667.0,206.6 Z" fill="url(#gPillow)"/>
<path d="M693.8,193.9 Q693.2,188.4 692.6,193.9 L692.7,199.7 Q693.3,195.1 693.9,199.7 Z" fill="url(#gPillow)"/>
<path d="M211.5,324.9 Q226.9,315.0 242.3,319.2 L237.9,326.1 Q222.4,322.7 207.0,331.7 Z" fill="url(#gPillow)"/>
<path d="M244.8,317.0 Q260.0,307.2 275.2,311.3 L271.2,318.2 Q255.8,314.9 240.5,323.7 Z" fill="url(#gPillow)"/>
<path d="M277.6,309.1 Q292.6,299.5 307.7,303.5 L304.0,310.3 Q288.8,307.1 273.6,315.8 Z" fill="url(#gPillow)"/>
<path d="M310.0,301.3 Q324.9,291.8 339.8,295.7 L336.4,302.5 Q321.3,299.4 306.3,307.9 Z" fill="url(#gPillow)"/>
<path d="M342.0,293.5 Q356.8,284.2 371.5,288.0 L368.4,294.7 Q353.5,291.7 338.6,300.1 Z" fill="url(#gPillow)"/>
<path d="M373.6,285.8 Q388.2,276.5 402.8,280.3 L400.0,287.0 Q385.2,284.1 370.5,292.4 Z" fill="url(#gPillow)"/>
<path d="M404.8,278.1 Q419.3,268.9 433.7,272.6 L431.2,279.2 Q416.6,276.4 402.0,284.6 Z" fill="url(#gPillow)"/>
<path d="M435.6,270.4 Q449.9,261.3 464.2,264.9 L461.9,271.4 Q447.5,268.8 433.1,276.9 Z" fill="url(#gPillow)"/>
<path d="M466.0,262.7 Q480.2,253.7 494.3,257.1 L492.3,263.7 Q478.1,261.1 463.8,269.1 Z" fill="url(#gPillow)"/>
<path d="M496.0,255.0 Q510.0,246.1 523.9,249.4 L522.3,255.8 Q508.2,253.4 494.1,261.4 Z" fill="url(#gPillow)"/>
<path d="M525.6,247.3 Q539.4,238.5 553.2,241.6 L551.8,248.0 Q537.9,245.7 524.0,253.6 Z" fill="url(#gPillow)"/>
<path d="M554.8,239.5 Q568.4,230.8 582.0,233.8 L581.0,240.1 Q567.2,238.0 553.5,245.8 Z" fill="url(#gPillow)"/>
<path d="M583.5,231.8 Q596.9,223.1 610.4,226.0 L609.6,232.2 Q596.0,230.2 582.5,237.9 Z" fill="url(#gPillow)"/>
<path d="M611.8,224.0 Q625.0,215.4 638.3,218.1 L637.8,224.2 Q624.4,222.3 611.0,230.0 Z" fill="url(#gPillow)"/>
<path d="M639.6,216.1 Q652.7,207.6 665.7,210.2 L665.5,216.2 Q652.4,214.4 639.2,222.1 Z" fill="url(#gPillow)"/>
<path d="M667.0,208.3 Q679.8,199.7 692.7,202.3 L692.8,208.1 Q679.8,206.5 666.8,214.1 Z" fill="url(#gPillow)"/>
<path d="M693.9,201.3 Q693.3,195.8 692.7,201.3 L692.8,207.1 Q693.4,202.5 694.0,207.1 Z" fill="url(#gPillow)"/>
<path d="M240.0,325.4 Q255.4,315.8 270.7,319.9 L266.6,326.8 Q251.2,323.4 235.7,332.2 Z" fill="url(#gPillow)"/>
<path d="M273.2,317.5 Q288.3,308.0 303.5,312.1 L299.8,318.9 Q284.5,315.6 269.2,324.2 Z" fill="url(#gPillow)"/>
<path d="M305.9,309.7 Q320.9,300.3 336.0,304.3 L332.5,311.0 Q317.4,307.9 302.2,316.4 Z" fill="url(#gPillow)"/>
<path d="M338.2,301.9 Q353.1,292.6 368.0,296.5 L364.8,303.2 Q349.8,300.2 334.8,308.5 Z" fill="url(#gPillow)"/>
<path d="M370.2,294.1 Q384.9,284.9 399.6,288.7 L396.8,295.4 Q381.9,292.5 367.1,300.7 Z" fill="url(#gPillow)"/>
<path d="M401.7,286.3 Q416.3,277.3 430.9,280.9 L428.3,287.6 Q413.6,284.8 398.9,292.9 Z" fill="url(#gPillow)"/>
<path d="M432.9,278.6 Q447.3,269.6 461.7,273.2 L459.5,279.7 Q444.9,277.0 430.4,285.1 Z" fill="url(#gPillow)"/>
<path d="M463.6,270.8 Q477.9,261.9 492.1,265.4 L490.2,271.9 Q475.8,269.3 461.4,277.3 Z" fill="url(#gPillow)"/>
<path d="M493.9,263.1 Q508.0,254.2 522.1,257.6 L520.5,264.0 Q506.2,261.5 492.0,269.5 Z" fill="url(#gPillow)"/>
<path d="M523.8,255.3 Q537.8,246.5 551.7,249.7 L550.4,256.1 Q536.3,253.7 522.2,261.6 Z" fill="url(#gPillow)"/>
<path d="M553.3,247.5 Q567.1,238.7 580.8,241.8 L579.8,248.1 Q565.9,245.9 552.0,253.7 Z" fill="url(#gPillow)"/>
<path d="M582.4,239.6 Q595.9,230.9 609.5,233.9 L608.8,240.0 Q595.1,238.0 581.3,245.7 Z" fill="url(#gPillow)"/>
<path d="M611.0,231.7 Q624.4,223.1 637.8,225.9 L637.3,231.9 Q623.8,230.0 610.2,237.7 Z" fill="url(#gPillow)"/>
<path d="M639.1,223.7 Q652.3,215.2 665.5,217.8 L665.3,223.8 Q652.0,222.0 638.7,229.7 Z" fill="url(#gPillow)"/>
<path d="M666.8,215.7 Q679.8,207.2 692.8,209.7 L692.9,215.6 Q679.7,213.9 666.6,221.5 Z" fill="url(#gPillow)"/>
<path d="M694.0,208.7 Q693.4,203.2 692.8,208.7 L692.9,214.5 Q693.5,209.9 694.1,214.5 Z" fill="url(#gPillow)"/>
<path d="M268.7,326.0 Q284.0,316.5 299.4,320.6 L295.6,327.4 Q280.2,324.1 264.7,332.7 Z" fill="url(#gPillow)"/>
<path d="M301.8,318.1 Q317.0,308.7 332.1,312.8 L328.7,319.6 Q313.4,316.4 298.1,324.8 Z" fill="url(#gPillow)"/>
<path d="M334.5,310.2 Q349.5,301.0 364.5,304.9 L361.3,311.7 Q346.2,308.6 331.1,316.9 Z" fill="url(#gPillow)"/>
<path d="M366.7,302.4 Q381.6,293.3 396.5,297.1 L393.6,303.8 Q378.6,300.8 363.6,309.0 Z" fill="url(#gPillow)"/>
<path d="M398.6,294.6 Q413.3,285.6 428.0,289.3 L425.5,295.9 Q410.6,293.1 395.8,301.2 Z" fill="url(#gPillow)"/>
<path d="M430.1,286.8 Q444.6,277.9 459.2,281.5 L457.0,288.1 Q442.3,285.3 427.6,293.3 Z" fill="url(#gPillow)"/>
<path d="M461.1,279.0 Q475.6,270.1 490.0,273.6 L488.0,280.1 Q473.5,277.5 458.9,285.4 Z" fill="url(#gPillow)"/>
<path d="M491.8,271.2 Q506.0,262.4 520.3,265.7 L518.7,272.2 Q504.3,269.7 489.9,277.5 Z" fill="url(#gPillow)"/>
<path d="M522.0,263.3 Q536.1,254.6 550.2,257.8 L548.9,264.1 Q534.6,261.8 520.4,269.6 Z" fill="url(#gPillow)"/>
<path d="M551.8,255.4 Q565.8,246.7 579.7,249.8 L578.6,256.1 Q564.6,253.8 550.5,261.6 Z" fill="url(#gPillow)"/>
<path d="M581.2,247.4 Q595.0,238.8 608.7,241.7 L607.9,247.9 Q594.1,245.8 580.2,253.6 Z" fill="url(#gPillow)"/>
<path d="M610.1,239.4 Q623.7,230.8 637.2,233.6 L636.8,239.7 Q623.1,237.8 609.4,245.4 Z" fill="url(#gPillow)"/>
<path d="M638.6,231.3 Q652.0,222.8 665.3,225.4 L665.1,231.4 Q651.6,229.6 638.1,237.3 Z" fill="url(#gPillow)"/>
<path d="M666.6,223.2 Q679.7,214.7 692.9,217.2 L693.0,223.0 Q679.7,221.4 666.4,229.0 Z" fill="url(#gPillow)"/>
<path d="M694.1,216.1 Q693.5,210.6 692.9,216.1 L693.0,221.9 Q693.6,217.3 694.2,221.9 Z" fill="url(#gPillow)"/>
<path d="M330.7,318.6 Q345.8,309.4 361.0,313.4 L357.8,320.2 Q342.6,317.0 327.3,325.2 Z" fill="url(#gPillow)"/>
<path d="M363.3,310.8 Q378.3,301.7 393.3,305.6 L390.4,312.3 Q375.3,309.2 360.2,317.3 Z" fill="url(#gPillow)"/>
<path d="M395.5,302.9 Q410.4,293.9 425.2,297.7 L422.7,304.3 Q407.7,301.4 392.7,309.5 Z" fill="url(#gPillow)"/>
<path d="M427.3,295.0 Q442.0,286.1 456.7,289.8 L454.5,296.4 Q439.6,293.6 424.8,301.5 Z" fill="url(#gPillow)"/>
<path d="M458.7,287.2 Q473.2,278.3 487.8,281.9 L485.9,288.4 Q471.2,285.7 456.5,293.6 Z" fill="url(#gPillow)"/>
<path d="M489.7,279.3 Q504.1,270.5 518.5,273.9 L516.8,280.3 Q502.3,277.8 487.8,285.6 Z" fill="url(#gPillow)"/>
<path d="M520.3,271.3 Q534.5,262.6 548.7,265.8 L547.4,272.2 Q533.0,269.8 518.6,277.6 Z" fill="url(#gPillow)"/>
<path d="M550.4,263.3 Q564.5,254.6 578.5,257.7 L577.5,264.0 Q563.3,261.8 549.1,269.5 Z" fill="url(#gPillow)"/>
<path d="M580.1,255.2 Q594.0,246.6 607.9,249.6 L607.1,255.8 Q593.1,253.7 579.1,261.4 Z" fill="url(#gPillow)"/>
<path d="M609.3,247.1 Q623.0,238.5 636.7,241.4 L636.3,247.4 Q622.4,245.5 608.6,253.2 Z" fill="url(#gPillow)"/>
<path d="M638.1,238.9 Q651.6,230.4 665.1,233.1 L664.9,239.0 Q651.3,237.2 637.6,244.8 Z" fill="url(#gPillow)"/>
<path d="M666.4,230.7 Q679.7,222.1 693.0,224.7 L693.1,230.5 Q679.6,228.9 666.2,236.5 Z" fill="url(#gPillow)"/>
<path d="M694.2,223.5 Q693.6,218.0 693.0,223.5 L693.0,229.2 Q693.6,224.7 694.2,229.2 Z" fill="url(#gPillow)"/>
<path d="M359.9,319.1 Q375.0,310.1 390.1,314.0 L387.3,320.7 Q372.0,317.6 356.8,325.7 Z" fill="url(#gPillow)"/>
<path d="M392.4,311.2 Q407.4,302.2 422.4,306.1 L419.8,312.7 Q404.7,309.7 389.6,317.7 Z" fill="url(#gPillow)"/>
<path d="M424.5,303.3 Q439.4,294.4 454.2,298.1 L452.0,304.7 Q437.0,301.8 422.0,309.8 Z" fill="url(#gPillow)"/>
<path d="M456.2,295.3 Q470.9,286.5 485.6,290.1 L483.7,296.6 Q468.9,293.9 454.0,301.8 Z" fill="url(#gPillow)"/>
<path d="M487.6,287.3 Q502.1,278.6 516.7,282.0 L515.0,288.5 Q500.3,285.9 485.7,293.7 Z" fill="url(#gPillow)"/>
<path d="M518.5,279.3 Q532.8,270.6 547.2,273.9 L545.9,280.3 Q531.4,277.9 516.9,285.6 Z" fill="url(#gPillow)"/>
<path d="M548.9,271.2 Q563.1,262.6 577.4,265.7 L576.3,272.0 Q562.0,269.7 547.6,277.4 Z" fill="url(#gPillow)"/>
<path d="M578.9,263.1 Q593.0,254.5 607.0,257.4 L606.3,263.6 Q592.1,261.5 577.9,269.2 Z" fill="url(#gPillow)"/>
<path d="M608.5,254.8 Q622.4,246.2 636.2,249.1 L635.7,255.2 Q621.8,253.2 607.8,260.9 Z" fill="url(#gPillow)"/>
<path d="M637.6,246.5 Q651.2,238.0 664.9,240.7 L664.7,246.6 Q650.9,244.8 637.1,252.4 Z" fill="url(#gPillow)"/>
<path d="M666.2,238.1 Q679.6,229.6 693.1,232.1 L693.2,238.0 Q679.6,236.3 666.0,243.9 Z" fill="url(#gPillow)"/>
<path d="M694.3,230.9 Q693.7,225.4 693.1,230.9 L693.1,236.6 Q693.7,232.1 694.3,236.6 Z" fill="url(#gPillow)"/>
<path d="M389.3,319.5 Q404.4,310.6 419.5,314.4 L417.0,321.1 Q401.7,318.1 386.5,326.0 Z" fill="url(#gPillow)"/>
<path d="M421.7,311.5 Q436.7,302.7 451.7,306.4 L449.5,313.0 Q434.4,310.1 419.2,318.0 Z" fill="url(#gPillow)"/>
<path d="M453.8,303.5 Q468.6,294.7 483.5,298.3 L481.5,304.8 Q466.6,302.1 451.6,309.9 Z" fill="url(#gPillow)"/>
<path d="M485.4,295.4 Q500.1,286.7 514.8,290.2 L513.2,296.6 Q498.4,294.0 483.5,301.8 Z" fill="url(#gPillow)"/>
<path d="M516.7,287.3 Q531.2,278.7 545.7,282.0 L544.4,288.3 Q529.7,285.9 515.1,293.6 Z" fill="url(#gPillow)"/>
<path d="M547.5,279.1 Q561.8,270.5 576.2,273.7 L575.2,280.0 Q560.7,277.7 546.1,285.4 Z" fill="url(#gPillow)"/>
<path d="M577.8,270.9 Q592.0,262.3 606.2,265.3 L605.4,271.5 Q591.1,269.3 576.8,277.0 Z" fill="url(#gPillow)"/>
<path d="M607.7,262.5 Q621.7,254.0 635.7,256.8 L635.2,262.9 Q621.1,260.9 606.9,268.6 Z" fill="url(#gPillow)"/>
<path d="M637.1,254.1 Q650.9,245.6 664.7,248.3 L664.5,254.2 Q650.6,252.4 636.6,260.0 Z" fill="url(#gPillow)"/>
<path d="M666.0,245.6 Q679.6,237.1 693.2,239.6 L693.2,245.4 Q679.5,243.8 665.8,251.4 Z" fill="url(#gPillow)"/>
<path d="M694.3,238.3 Q693.7,232.8 693.1,238.3 L693.2,244.0 Q693.8,239.5 694.4,244.0 Z" fill="url(#gPillow)"/>
<path d="M419.0,319.7 Q434.1,310.9 449.2,314.7 L447.0,321.3 Q431.7,318.4 416.5,326.2 Z" fill="url(#gPillow)"/>
<path d="M451.4,311.6 Q466.3,302.9 481.3,306.6 L479.4,313.1 Q464.3,310.3 449.2,318.1 Z" fill="url(#gPillow)"/>
<path d="M483.3,303.5 Q498.2,294.8 513.0,298.3 L511.4,304.8 Q496.4,302.2 481.4,309.9 Z" fill="url(#gPillow)"/>
<path d="M514.9,295.3 Q529.6,286.7 544.3,290.0 L542.9,296.4 Q528.1,293.9 513.3,301.6 Z" fill="url(#gPillow)"/>
<path d="M546.0,287.1 Q560.5,278.5 575.0,281.6 L574.0,287.9 Q559.3,285.6 544.7,293.3 Z" fill="url(#gPillow)"/>
<path d="M576.7,278.7 Q591.0,270.1 605.3,273.2 L604.6,279.3 Q590.1,277.2 575.6,284.8 Z" fill="url(#gPillow)"/>
<path d="M606.9,270.2 Q621.0,261.7 635.2,264.6 L634.7,270.6 Q620.4,268.6 606.1,276.3 Z" fill="url(#gPillow)"/>
<path d="M636.6,261.7 Q650.5,253.2 664.5,255.9 L664.3,261.8 Q650.2,260.0 636.1,267.6 Z" fill="url(#gPillow)"/>
<path d="M665.8,253.1 Q679.5,244.5 693.3,247.1 L693.3,252.9 Q679.5,251.3 665.6,258.9 Z" fill="url(#gPillow)"/>
<path d="M694.4,245.7 Q693.8,240.2 693.2,245.7 L693.3,251.4 Q693.9,246.9 694.5,251.4 Z" fill="url(#gPillow)"/>
<path d="M448.9,319.8 Q464.0,311.1 479.2,314.8 L477.2,321.3 Q462.0,318.5 446.7,326.2 Z" fill="url(#gPillow)"/>
<path d="M481.2,311.6 Q496.2,303.0 511.2,306.5 L509.5,312.9 Q494.4,310.3 479.3,318.0 Z" fill="url(#gPillow)"/>
<path d="M513.1,303.3 Q527.9,294.7 542.8,298.1 L541.4,304.5 Q526.5,302.0 511.5,309.6 Z" fill="url(#gPillow)"/>
<path d="M544.5,295.0 Q559.2,286.4 573.9,289.6 L572.8,295.9 Q558.0,293.5 543.2,301.2 Z" fill="url(#gPillow)"/>
<path d="M575.5,286.5 Q590.0,278.0 604.5,281.0 L603.8,287.2 Q589.1,285.0 574.5,292.6 Z" fill="url(#gPillow)"/>
<path d="M606.0,278.0 Q620.3,269.4 634.6,272.3 L634.2,278.4 Q619.7,276.4 605.3,284.0 Z" fill="url(#gPillow)"/>
<path d="M636.1,269.3 Q650.2,260.8 664.3,263.5 L664.1,269.4 Q649.8,267.6 635.6,275.2 Z" fill="url(#gPillow)"/>
<path d="M665.6,260.5 Q679.5,252.0 693.3,254.6 L693.4,260.4 Q679.4,258.7 665.4,266.3 Z" fill="url(#gPillow)"/>
<path d="M694.5,253.1 Q693.9,247.6 693.3,253.1 L693.4,258.8 Q694.0,254.3 694.6,258.8 Z" fill="url(#gPillow)"/>
<path d="M479.1,319.7 Q494.2,311.1 509.4,314.7 L507.7,321.1 Q492.5,318.4 477.2,326.1 Z" fill="url(#gPillow)"/>
<path d="M511.3,311.3 Q526.3,302.8 541.3,306.2 L539.9,312.5 Q524.8,310.0 509.7,317.6 Z" fill="url(#gPillow)"/>
<path d="M543.1,302.9 Q557.9,294.3 572.7,297.6 L571.7,303.9 Q556.7,301.5 541.8,309.1 Z" fill="url(#gPillow)"/>
<path d="M574.4,294.3 Q589.0,285.8 603.7,288.9 L602.9,295.0 Q588.1,292.9 573.4,300.5 Z" fill="url(#gPillow)"/>
<path d="M605.2,285.7 Q619.7,277.1 634.1,280.0 L633.7,286.1 Q619.1,284.1 604.5,291.7 Z" fill="url(#gPillow)"/>
<path d="M635.5,276.9 Q649.8,268.4 664.1,271.1 L663.9,277.0 Q649.5,275.2 635.1,282.8 Z" fill="url(#gPillow)"/>
<path d="M665.3,268.0 Q679.4,259.5 693.4,262.0 L693.5,267.8 Q679.3,266.2 665.2,273.8 Z" fill="url(#gPillow)"/>
<path d="M694.6,260.5 Q694.0,255.0 693.4,260.5 L693.5,266.2 Q694.1,261.7 694.7,266.2 Z" fill="url(#gPillow)"/>
<path d="M509.5,319.3 Q524.7,310.8 539.8,314.2 L538.4,320.6 Q523.2,318.0 507.9,325.6 Z" fill="url(#gPillow)"/>
<path d="M541.6,310.8 Q556.6,302.3 571.6,305.6 L570.5,311.8 Q555.4,309.4 540.3,317.0 Z" fill="url(#gPillow)"/>
<path d="M573.2,302.2 Q588.0,293.6 602.8,296.7 L602.1,302.9 Q587.2,300.7 572.2,308.3 Z" fill="url(#gPillow)"/>
<path d="M604.4,293.4 Q619.0,284.9 633.6,287.8 L633.1,293.8 Q618.4,291.8 603.7,299.4 Z" fill="url(#gPillow)"/>
<path d="M635.0,284.5 Q649.4,276.0 663.9,278.7 L663.7,284.6 Q649.1,282.8 634.6,290.4 Z" fill="url(#gPillow)"/>
<path d="M665.1,275.5 Q679.3,266.9 693.5,269.5 L693.6,275.3 Q679.3,273.7 665.0,281.3 Z" fill="url(#gPillow)"/>
<path d="M694.7,267.9 Q694.1,262.4 693.5,267.9 L693.6,273.6 Q694.2,269.1 694.8,273.6 Z" fill="url(#gPillow)"/>
<path d="M540.2,318.7 Q555.3,310.2 570.4,313.5 L569.3,319.8 Q554.1,317.4 538.8,324.9 Z" fill="url(#gPillow)"/>
<path d="M572.1,310.0 Q587.1,301.5 602.0,304.6 L601.2,310.8 Q586.2,308.5 571.1,316.1 Z" fill="url(#gPillow)"/>
<path d="M603.6,301.1 Q618.3,292.6 633.1,295.5 L632.6,301.6 Q617.7,299.5 602.8,307.1 Z" fill="url(#gPillow)"/>
<path d="M634.5,292.1 Q649.1,283.6 663.6,286.3 L663.5,292.3 Q648.8,290.4 634.1,298.0 Z" fill="url(#gPillow)"/>
<path d="M664.9,282.9 Q679.3,274.4 693.6,277.0 L693.7,282.8 Q679.2,281.1 664.8,288.7 Z" fill="url(#gPillow)"/>
<path d="M694.8,275.3 Q694.2,269.8 693.6,275.3 L693.7,281.0 Q694.3,276.5 694.9,281.0 Z" fill="url(#gPillow)"/>
<path d="M571.0,317.8 Q586.1,309.3 601.2,312.4 L600.4,318.6 Q585.2,316.4 569.9,323.9 Z" fill="url(#gPillow)"/>
<path d="M602.8,308.8 Q617.7,300.3 632.6,303.3 L632.1,309.3 Q617.1,307.3 602.0,314.8 Z" fill="url(#gPillow)"/>
<path d="M634.0,299.7 Q648.7,291.2 663.4,293.9 L663.2,299.9 Q648.4,298.0 633.6,305.6 Z" fill="url(#gPillow)"/>
<path d="M664.7,290.4 Q679.2,281.9 693.7,284.4 L693.8,290.3 Q679.2,288.6 664.5,296.2 Z" fill="url(#gPillow)"/>
<path d="M694.9,282.7 Q694.3,277.2 693.7,282.7 L693.8,288.4 Q694.4,283.9 695.0,288.4 Z" fill="url(#gPillow)"/>
<path d="M569.8,325.6 Q585.1,317.2 600.3,320.3 L599.6,326.5 Q584.2,324.2 568.8,331.7 Z" fill="url(#gPillow)"/>
<path d="M601.9,316.5 Q617.0,308.0 632.1,311.0 L631.6,317.1 Q616.4,315.0 601.2,322.6 Z" fill="url(#gPillow)"/>
<path d="M633.5,307.3 Q648.4,298.8 663.2,301.5 L663.0,307.5 Q648.0,305.6 633.0,313.2 Z" fill="url(#gPillow)"/>
<path d="M664.5,297.9 Q679.2,289.3 693.8,291.9 L693.9,297.7 Q679.1,296.1 664.3,303.7 Z" fill="url(#gPillow)"/>
<path d="M695.0,290.1 Q694.4,284.6 693.8,290.1 L693.9,295.8 Q694.5,291.3 695.1,295.8 Z" fill="url(#gPillow)"/>
<path d="M601.1,324.2 Q616.3,315.8 631.5,318.7 L631.1,324.8 Q615.7,322.7 600.4,330.3 Z" fill="url(#gPillow)"/>
<path d="M633.0,314.9 Q648.0,306.4 663.0,309.1 L662.8,315.1 Q647.7,313.2 632.5,320.8 Z" fill="url(#gPillow)"/>
<path d="M664.3,305.3 Q679.1,296.8 693.9,299.4 L694.0,305.2 Q679.1,303.5 664.1,311.1 Z" fill="url(#gPillow)"/>
<path d="M695.1,297.5 Q694.5,292.0 693.9,297.5 L694.0,303.2 Q694.6,298.7 695.2,303.2 Z" fill="url(#gPillow)"/>
<path d="M632.5,322.4 Q647.6,314.0 662.8,316.7 L662.6,322.7 Q647.3,320.8 632.0,328.4 Z" fill="url(#gPillow)"/>
<path d="M664.1,312.8 Q679.1,304.3 694.0,306.8 L694.1,312.7 Q679.0,311.0 663.9,318.6 Z" fill="url(#gPillow)"/>
<path d="M695.2,304.9 Q694.6,299.4 694.0,304.9 L694.1,310.6 Q694.7,306.1 695.3,310.6 Z" fill="url(#gPillow)"/>
<path d="M663.9,320.3 Q679.0,311.8 694.1,314.3 L694.2,320.1 Q678.9,318.5 663.7,326.1 Z" fill="url(#gPillow)"/>
<path d="M695.3,312.3 Q694.7,306.8 694.1,312.3 L694.1,318.0 Q694.7,313.5 695.3,318.0 Z" fill="url(#gPillow)"/>
<path d="M695.4,319.7 Q694.8,314.2 694.2,319.7 L694.2,325.4 Q694.8,320.9 695.4,325.4 Z" fill="url(#gPillow)"/>
<line x1="191.6" y1="230.5" x2="187.8" y2="235.9" stroke="#a2a2a6" stroke-width="1.0" stroke-dasharray="1.5 1.3"/>
<line x1="221.8" y1="222.6" x2="218.2" y2="227.9" stroke="#a2a2a6" stroke-width="1.0" stroke-dasharray="1.5 1.3"/>
<line x1="251.5" y1="214.7" x2="248.1" y2="220.1" stroke="#a2a2a6" stroke-width="1.0" stroke-dasharray="1.5 1.3"/>
<line x1="280.8" y1="207.0" x2="277.6" y2="212.4" stroke="#a2a2a6" stroke-width="1.0" stroke-dasharray="1.5 1.3"/>
<line x1="309.6" y1="199.4" x2="306.6" y2="204.8" stroke="#a2a2a6" stroke-width="1.0" stroke-dasharray="1.5 1.3"/>
<line x1="337.9" y1="191.9" x2="335.1" y2="197.3" stroke="#a2a2a6" stroke-width="1.0" stroke-dasharray="1.5 1.3"/>
<line x1="365.9" y1="184.6" x2="363.3" y2="189.9" stroke="#a2a2a6" stroke-width="1.0" stroke-dasharray="1.5 1.3"/>
<line x1="393.3" y1="177.3" x2="391.0" y2="182.6" stroke="#a2a2a6" stroke-width="1.0" stroke-dasharray="1.5 1.3"/>
<line x1="420.4" y1="170.2" x2="418.2" y2="175.4" stroke="#a2a2a6" stroke-width="1.0" stroke-dasharray="1.5 1.3"/>
<line x1="447.1" y1="163.2" x2="445.1" y2="168.4" stroke="#a2a2a6" stroke-width="1.0" stroke-dasharray="1.5 1.3"/>
<line x1="473.3" y1="156.2" x2="471.6" y2="161.4" stroke="#a2a2a6" stroke-width="1.0" stroke-dasharray="1.5 1.3"/>
<line x1="499.2" y1="149.4" x2="497.6" y2="154.6" stroke="#a2a2a6" stroke-width="1.0" stroke-dasharray="1.5 1.3"/>
<line x1="524.6" y1="142.7" x2="523.3" y2="147.8" stroke="#a2a2a6" stroke-width="1.0" stroke-dasharray="1.5 1.3"/>
<line x1="549.6" y1="136.1" x2="548.5" y2="141.1" stroke="#a2a2a6" stroke-width="1.0" stroke-dasharray="1.5 1.3"/>
<line x1="574.3" y1="129.6" x2="573.4" y2="134.6" stroke="#a2a2a6" stroke-width="1.0" stroke-dasharray="1.5 1.3"/>
<line x1="598.6" y1="123.2" x2="597.9" y2="128.1" stroke="#a2a2a6" stroke-width="1.0" stroke-dasharray="1.5 1.3"/>
<line x1="622.5" y1="116.9" x2="622.0" y2="121.7" stroke="#a2a2a6" stroke-width="1.0" stroke-dasharray="1.5 1.3"/>
<line x1="646.0" y1="110.6" x2="645.7" y2="115.4" stroke="#a2a2a6" stroke-width="1.0" stroke-dasharray="1.5 1.3"/>
<line x1="669.2" y1="104.5" x2="669.1" y2="109.2" stroke="#a2a2a6" stroke-width="1.0" stroke-dasharray="1.5 1.3"/>
<line x1="692.0" y1="98.5" x2="692.1" y2="103.1" stroke="#a2a2a6" stroke-width="1.0" stroke-dasharray="1.5 1.3"/>
<line x1="185.6" y1="239.1" x2="181.8" y2="244.5" stroke="#a2a2a6" stroke-width="1.0" stroke-dasharray="1.5 1.3"/>
<line x1="216.1" y1="231.1" x2="212.5" y2="236.5" stroke="#a2a2a6" stroke-width="1.0" stroke-dasharray="1.5 1.3"/>
<line x1="246.1" y1="223.2" x2="242.7" y2="228.6" stroke="#a2a2a6" stroke-width="1.0" stroke-dasharray="1.5 1.3"/>
<line x1="275.7" y1="215.5" x2="272.5" y2="220.9" stroke="#a2a2a6" stroke-width="1.0" stroke-dasharray="1.5 1.3"/>
<line x1="304.8" y1="207.9" x2="301.8" y2="213.2" stroke="#a2a2a6" stroke-width="1.0" stroke-dasharray="1.5 1.3"/>
<line x1="333.5" y1="200.4" x2="330.7" y2="205.7" stroke="#a2a2a6" stroke-width="1.0" stroke-dasharray="1.5 1.3"/>
<line x1="361.8" y1="193.0" x2="359.2" y2="198.3" stroke="#a2a2a6" stroke-width="1.0" stroke-dasharray="1.5 1.3"/>
<line x1="389.6" y1="185.7" x2="387.2" y2="191.0" stroke="#a2a2a6" stroke-width="1.0" stroke-dasharray="1.5 1.3"/>
<line x1="417.0" y1="178.5" x2="414.8" y2="183.8" stroke="#a2a2a6" stroke-width="1.0" stroke-dasharray="1.5 1.3"/>
<line x1="444.0" y1="171.4" x2="442.0" y2="176.7" stroke="#a2a2a6" stroke-width="1.0" stroke-dasharray="1.5 1.3"/>
<line x1="470.5" y1="164.5" x2="468.8" y2="169.6" stroke="#a2a2a6" stroke-width="1.0" stroke-dasharray="1.5 1.3"/>
<line x1="496.7" y1="157.6" x2="495.2" y2="162.7" stroke="#a2a2a6" stroke-width="1.0" stroke-dasharray="1.5 1.3"/>
<line x1="522.5" y1="150.8" x2="521.1" y2="155.9" stroke="#a2a2a6" stroke-width="1.0" stroke-dasharray="1.5 1.3"/>
<line x1="547.9" y1="144.1" x2="546.7" y2="149.2" stroke="#a2a2a6" stroke-width="1.0" stroke-dasharray="1.5 1.3"/>
<line x1="572.8" y1="137.5" x2="571.9" y2="142.5" stroke="#a2a2a6" stroke-width="1.0" stroke-dasharray="1.5 1.3"/>
<line x1="597.5" y1="131.0" x2="596.7" y2="135.9" stroke="#a2a2a6" stroke-width="1.0" stroke-dasharray="1.5 1.3"/>
<line x1="621.7" y1="124.6" x2="621.2" y2="129.4" stroke="#a2a2a6" stroke-width="1.0" stroke-dasharray="1.5 1.3"/>
<line x1="645.5" y1="118.2" x2="645.2" y2="123.0" stroke="#a2a2a6" stroke-width="1.0" stroke-dasharray="1.5 1.3"/>
<line x1="669.0" y1="112.0" x2="668.9" y2="116.7" stroke="#a2a2a6" stroke-width="1.0" stroke-dasharray="1.5 1.3"/>
<line x1="692.1" y1="105.9" x2="692.2" y2="110.5" stroke="#a2a2a6" stroke-width="1.0" stroke-dasharray="1.5 1.3"/>
<line x1="179.6" y1="247.6" x2="175.8" y2="253.0" stroke="#a2a2a6" stroke-width="1.0" stroke-dasharray="1.5 1.3"/>
<line x1="210.4" y1="239.6" x2="206.8" y2="245.0" stroke="#a2a2a6" stroke-width="1.0" stroke-dasharray="1.5 1.3"/>
<line x1="240.7" y1="231.8" x2="237.3" y2="237.1" stroke="#a2a2a6" stroke-width="1.0" stroke-dasharray="1.5 1.3"/>
<line x1="270.6" y1="224.0" x2="267.4" y2="229.4" stroke="#a2a2a6" stroke-width="1.0" stroke-dasharray="1.5 1.3"/>
<line x1="300.1" y1="216.4" x2="297.1" y2="221.7" stroke="#a2a2a6" stroke-width="1.0" stroke-dasharray="1.5 1.3"/>
<line x1="329.1" y1="208.8" x2="326.3" y2="214.1" stroke="#a2a2a6" stroke-width="1.0" stroke-dasharray="1.5 1.3"/>
<line x1="357.7" y1="201.4" x2="355.1" y2="206.7" stroke="#a2a2a6" stroke-width="1.0" stroke-dasharray="1.5 1.3"/>
<line x1="385.8" y1="194.1" x2="383.4" y2="199.3" stroke="#a2a2a6" stroke-width="1.0" stroke-dasharray="1.5 1.3"/>
<line x1="413.5" y1="186.9" x2="411.4" y2="192.1" stroke="#a2a2a6" stroke-width="1.0" stroke-dasharray="1.5 1.3"/>
<line x1="440.8" y1="179.7" x2="438.9" y2="184.9" stroke="#a2a2a6" stroke-width="1.0" stroke-dasharray="1.5 1.3"/>
<line x1="467.8" y1="172.7" x2="466.0" y2="177.9" stroke="#a2a2a6" stroke-width="1.0" stroke-dasharray="1.5 1.3"/>
<line x1="494.3" y1="165.7" x2="492.7" y2="170.9" stroke="#a2a2a6" stroke-width="1.0" stroke-dasharray="1.5 1.3"/>
<line x1="520.4" y1="158.9" x2="519.0" y2="164.0" stroke="#a2a2a6" stroke-width="1.0" stroke-dasharray="1.5 1.3"/>
<line x1="546.1" y1="152.1" x2="544.9" y2="157.2" stroke="#a2a2a6" stroke-width="1.0" stroke-dasharray="1.5 1.3"/>
<line x1="571.4" y1="145.4" x2="570.5" y2="150.4" stroke="#a2a2a6" stroke-width="1.0" stroke-dasharray="1.5 1.3"/>
<line x1="596.3" y1="138.8" x2="595.6" y2="143.7" stroke="#a2a2a6" stroke-width="1.0" stroke-dasharray="1.5 1.3"/>
<line x1="620.9" y1="132.3" x2="620.3" y2="137.1" stroke="#a2a2a6" stroke-width="1.0" stroke-dasharray="1.5 1.3"/>
<line x1="645.0" y1="125.8" x2="644.7" y2="130.6" stroke="#a2a2a6" stroke-width="1.0" stroke-dasharray="1.5 1.3"/>
<line x1="668.8" y1="119.4" x2="668.7" y2="124.1" stroke="#a2a2a6" stroke-width="1.0" stroke-dasharray="1.5 1.3"/>
<line x1="692.2" y1="113.3" x2="692.3" y2="117.9" stroke="#a2a2a6" stroke-width="1.0" stroke-dasharray="1.5 1.3"/>
<line x1="173.6" y1="256.2" x2="169.8" y2="261.6" stroke="#a2a2a6" stroke-width="1.0" stroke-dasharray="1.5 1.3"/>
<line x1="204.7" y1="248.2" x2="201.1" y2="253.5" stroke="#a2a2a6" stroke-width="1.0" stroke-dasharray="1.5 1.3"/>
<line x1="235.3" y1="240.3" x2="232.0" y2="245.6" stroke="#a2a2a6" stroke-width="1.0" stroke-dasharray="1.5 1.3"/>
<line x1="265.6" y1="232.5" x2="262.4" y2="237.8" stroke="#a2a2a6" stroke-width="1.0" stroke-dasharray="1.5 1.3"/>
<line x1="295.3" y1="224.8" x2="292.3" y2="230.2" stroke="#a2a2a6" stroke-width="1.0" stroke-dasharray="1.5 1.3"/>
<line x1="324.7" y1="217.3" x2="321.9" y2="222.6" stroke="#a2a2a6" stroke-width="1.0" stroke-dasharray="1.5 1.3"/>
<line x1="353.6" y1="209.8" x2="351.0" y2="215.1" stroke="#a2a2a6" stroke-width="1.0" stroke-dasharray="1.5 1.3"/>
<line x1="382.0" y1="202.4" x2="379.7" y2="207.7" stroke="#a2a2a6" stroke-width="1.0" stroke-dasharray="1.5 1.3"/>
<line x1="410.1" y1="195.2" x2="407.9" y2="200.4" stroke="#a2a2a6" stroke-width="1.0" stroke-dasharray="1.5 1.3"/>
<line x1="437.7" y1="188.0" x2="435.8" y2="193.2" stroke="#a2a2a6" stroke-width="1.0" stroke-dasharray="1.5 1.3"/>
<line x1="465.0" y1="180.9" x2="463.2" y2="186.1" stroke="#a2a2a6" stroke-width="1.0" stroke-dasharray="1.5 1.3"/>
<line x1="491.8" y1="173.9" x2="490.3" y2="179.0" stroke="#a2a2a6" stroke-width="1.0" stroke-dasharray="1.5 1.3"/>
<line x1="518.2" y1="167.0" x2="516.9" y2="172.1" stroke="#a2a2a6" stroke-width="1.0" stroke-dasharray="1.5 1.3"/>
<line x1="544.3" y1="160.1" x2="543.2" y2="165.2" stroke="#a2a2a6" stroke-width="1.0" stroke-dasharray="1.5 1.3"/>
<line x1="569.9" y1="153.3" x2="569.0" y2="158.3" stroke="#a2a2a6" stroke-width="1.0" stroke-dasharray="1.5 1.3"/>
<line x1="595.2" y1="146.6" x2="594.5" y2="151.6" stroke="#a2a2a6" stroke-width="1.0" stroke-dasharray="1.5 1.3"/>
<line x1="620.0" y1="140.0" x2="619.5" y2="144.8" stroke="#a2a2a6" stroke-width="1.0" stroke-dasharray="1.5 1.3"/>
<line x1="644.5" y1="133.4" x2="644.2" y2="138.2" stroke="#a2a2a6" stroke-width="1.0" stroke-dasharray="1.5 1.3"/>
<line x1="668.6" y1="126.9" x2="668.5" y2="131.6" stroke="#a2a2a6" stroke-width="1.0" stroke-dasharray="1.5 1.3"/>
<line x1="692.3" y1="120.7" x2="692.4" y2="125.3" stroke="#a2a2a6" stroke-width="1.0" stroke-dasharray="1.5 1.3"/>
<line x1="167.5" y1="264.7" x2="163.7" y2="270.1" stroke="#a2a2a6" stroke-width="1.0" stroke-dasharray="1.5 1.3"/>
<line x1="199.0" y1="256.7" x2="195.4" y2="262.1" stroke="#a2a2a6" stroke-width="1.0" stroke-dasharray="1.5 1.3"/>
<line x1="230.0" y1="248.8" x2="226.6" y2="254.2" stroke="#a2a2a6" stroke-width="1.0" stroke-dasharray="1.5 1.3"/>
<line x1="260.5" y1="241.0" x2="257.3" y2="246.3" stroke="#a2a2a6" stroke-width="1.0" stroke-dasharray="1.5 1.3"/>
<line x1="290.6" y1="233.3" x2="287.6" y2="238.6" stroke="#a2a2a6" stroke-width="1.0" stroke-dasharray="1.5 1.3"/>
<line x1="320.2" y1="225.7" x2="317.4" y2="231.0" stroke="#a2a2a6" stroke-width="1.0" stroke-dasharray="1.5 1.3"/>
<line x1="349.5" y1="218.2" x2="346.9" y2="223.5" stroke="#a2a2a6" stroke-width="1.0" stroke-dasharray="1.5 1.3"/>
<line x1="378.3" y1="210.8" x2="375.9" y2="216.1" stroke="#a2a2a6" stroke-width="1.0" stroke-dasharray="1.5 1.3"/>
<line x1="406.7" y1="203.5" x2="404.5" y2="208.7" stroke="#a2a2a6" stroke-width="1.0" stroke-dasharray="1.5 1.3"/>
<line x1="434.6" y1="196.3" x2="432.7" y2="201.5" stroke="#a2a2a6" stroke-width="1.0" stroke-dasharray="1.5 1.3"/>
<line x1="462.2" y1="189.1" x2="460.4" y2="194.3" stroke="#a2a2a6" stroke-width="1.0" stroke-dasharray="1.5 1.3"/>
<line x1="489.4" y1="182.1" x2="487.8" y2="187.2" stroke="#a2a2a6" stroke-width="1.0" stroke-dasharray="1.5 1.3"/>
<line x1="516.1" y1="175.1" x2="514.8" y2="180.2" stroke="#a2a2a6" stroke-width="1.0" stroke-dasharray="1.5 1.3"/>
<line x1="542.5" y1="168.1" x2="541.4" y2="173.2" stroke="#a2a2a6" stroke-width="1.0" stroke-dasharray="1.5 1.3"/>
<line x1="568.5" y1="161.3" x2="567.5" y2="166.2" stroke="#a2a2a6" stroke-width="1.0" stroke-dasharray="1.5 1.3"/>
<line x1="594.0" y1="154.4" x2="593.3" y2="159.4" stroke="#a2a2a6" stroke-width="1.0" stroke-dasharray="1.5 1.3"/>
<line x1="619.2" y1="147.7" x2="618.7" y2="152.6" stroke="#a2a2a6" stroke-width="1.0" stroke-dasharray="1.5 1.3"/>
<line x1="644.0" y1="141.0" x2="643.7" y2="145.8" stroke="#a2a2a6" stroke-width="1.0" stroke-dasharray="1.5 1.3"/>
<line x1="668.4" y1="134.4" x2="668.3" y2="139.1" stroke="#a2a2a6" stroke-width="1.0" stroke-dasharray="1.5 1.3"/>
<line x1="692.4" y1="128.1" x2="692.5" y2="132.7" stroke="#a2a2a6" stroke-width="1.0" stroke-dasharray="1.5 1.3"/>
<line x1="161.5" y1="273.3" x2="157.7" y2="278.7" stroke="#a2a2a6" stroke-width="1.0" stroke-dasharray="1.5 1.3"/>
<line x1="193.3" y1="265.2" x2="189.7" y2="270.6" stroke="#a2a2a6" stroke-width="1.0" stroke-dasharray="1.5 1.3"/>
<line x1="224.6" y1="257.3" x2="221.2" y2="262.7" stroke="#a2a2a6" stroke-width="1.0" stroke-dasharray="1.5 1.3"/>
<line x1="255.4" y1="249.5" x2="252.2" y2="254.8" stroke="#a2a2a6" stroke-width="1.0" stroke-dasharray="1.5 1.3"/>
<line x1="285.8" y1="241.8" x2="282.8" y2="247.1" stroke="#a2a2a6" stroke-width="1.0" stroke-dasharray="1.5 1.3"/>
<line x1="315.8" y1="234.1" x2="313.0" y2="239.5" stroke="#a2a2a6" stroke-width="1.0" stroke-dasharray="1.5 1.3"/>
<line x1="345.4" y1="226.6" x2="342.8" y2="231.9" stroke="#a2a2a6" stroke-width="1.0" stroke-dasharray="1.5 1.3"/>
<line x1="374.5" y1="219.2" x2="372.1" y2="224.5" stroke="#a2a2a6" stroke-width="1.0" stroke-dasharray="1.5 1.3"/>
<line x1="403.2" y1="211.8" x2="401.0" y2="217.1" stroke="#a2a2a6" stroke-width="1.0" stroke-dasharray="1.5 1.3"/>
<line x1="431.5" y1="204.6" x2="429.6" y2="209.8" stroke="#a2a2a6" stroke-width="1.0" stroke-dasharray="1.5 1.3"/>
<line x1="459.4" y1="197.3" x2="457.7" y2="202.5" stroke="#a2a2a6" stroke-width="1.0" stroke-dasharray="1.5 1.3"/>
<line x1="486.9" y1="190.2" x2="485.4" y2="195.4" stroke="#a2a2a6" stroke-width="1.0" stroke-dasharray="1.5 1.3"/>
<line x1="514.0" y1="183.1" x2="512.7" y2="188.2" stroke="#a2a2a6" stroke-width="1.0" stroke-dasharray="1.5 1.3"/>
<line x1="540.7" y1="176.1" x2="539.6" y2="181.2" stroke="#a2a2a6" stroke-width="1.0" stroke-dasharray="1.5 1.3"/>
<line x1="567.0" y1="169.2" x2="566.1" y2="174.2" stroke="#a2a2a6" stroke-width="1.0" stroke-dasharray="1.5 1.3"/>
<line x1="592.9" y1="162.3" x2="592.2" y2="167.2" stroke="#a2a2a6" stroke-width="1.0" stroke-dasharray="1.5 1.3"/>
<line x1="618.4" y1="155.4" x2="617.9" y2="160.3" stroke="#a2a2a6" stroke-width="1.0" stroke-dasharray="1.5 1.3"/>
<line x1="643.5" y1="148.6" x2="643.2" y2="153.4" stroke="#a2a2a6" stroke-width="1.0" stroke-dasharray="1.5 1.3"/>
<line x1="668.2" y1="141.8" x2="668.1" y2="146.5" stroke="#a2a2a6" stroke-width="1.0" stroke-dasharray="1.5 1.3"/>
<line x1="692.5" y1="135.5" x2="692.5" y2="140.1" stroke="#a2a2a6" stroke-width="1.0" stroke-dasharray="1.5 1.3"/>
<line x1="155.5" y1="281.8" x2="151.7" y2="287.2" stroke="#a2a2a6" stroke-width="1.0" stroke-dasharray="1.5 1.3"/>
<line x1="187.6" y1="273.8" x2="184.0" y2="279.2" stroke="#a2a2a6" stroke-width="1.0" stroke-dasharray="1.5 1.3"/>
<line x1="219.2" y1="265.8" x2="215.8" y2="271.2" stroke="#a2a2a6" stroke-width="1.0" stroke-dasharray="1.5 1.3"/>
<line x1="250.3" y1="258.0" x2="247.1" y2="263.3" stroke="#a2a2a6" stroke-width="1.0" stroke-dasharray="1.5 1.3"/>
<line x1="281.1" y1="250.2" x2="278.1" y2="255.6" stroke="#a2a2a6" stroke-width="1.0" stroke-dasharray="1.5 1.3"/>
<line x1="311.4" y1="242.6" x2="308.6" y2="247.9" stroke="#a2a2a6" stroke-width="1.0" stroke-dasharray="1.5 1.3"/>
<line x1="341.3" y1="235.0" x2="338.7" y2="240.3" stroke="#a2a2a6" stroke-width="1.0" stroke-dasharray="1.5 1.3"/>
<line x1="370.7" y1="227.5" x2="368.3" y2="232.8" stroke="#a2a2a6" stroke-width="1.0" stroke-dasharray="1.5 1.3"/>
<line x1="399.8" y1="220.2" x2="397.6" y2="225.4" stroke="#a2a2a6" stroke-width="1.0" stroke-dasharray="1.5 1.3"/>
<line x1="428.4" y1="212.8" x2="426.4" y2="218.0" stroke="#a2a2a6" stroke-width="1.0" stroke-dasharray="1.5 1.3"/>
<line x1="456.6" y1="205.6" x2="454.9" y2="210.7" stroke="#a2a2a6" stroke-width="1.0" stroke-dasharray="1.5 1.3"/>
<line x1="484.5" y1="198.4" x2="482.9" y2="203.5" stroke="#a2a2a6" stroke-width="1.0" stroke-dasharray="1.5 1.3"/>
<line x1="511.9" y1="191.2" x2="510.6" y2="196.3" stroke="#a2a2a6" stroke-width="1.0" stroke-dasharray="1.5 1.3"/>
<line x1="538.9" y1="184.1" x2="537.8" y2="189.2" stroke="#a2a2a6" stroke-width="1.0" stroke-dasharray="1.5 1.3"/>
<line x1="565.5" y1="177.1" x2="564.6" y2="182.1" stroke="#a2a2a6" stroke-width="1.0" stroke-dasharray="1.5 1.3"/>
<line x1="591.8" y1="170.1" x2="591.0" y2="175.0" stroke="#a2a2a6" stroke-width="1.0" stroke-dasharray="1.5 1.3"/>
<line x1="617.6" y1="163.1" x2="617.1" y2="168.0" stroke="#a2a2a6" stroke-width="1.0" stroke-dasharray="1.5 1.3"/>
<line x1="643.0" y1="156.2" x2="642.7" y2="161.0" stroke="#a2a2a6" stroke-width="1.0" stroke-dasharray="1.5 1.3"/>
<line x1="668.0" y1="149.3" x2="667.9" y2="154.0" stroke="#a2a2a6" stroke-width="1.0" stroke-dasharray="1.5 1.3"/>
<line x1="692.6" y1="142.9" x2="692.6" y2="147.5" stroke="#a2a2a6" stroke-width="1.0" stroke-dasharray="1.5 1.3"/>
<line x1="149.5" y1="290.4" x2="145.7" y2="295.8" stroke="#a2a2a6" stroke-width="1.0" stroke-dasharray="1.5 1.3"/>
<line x1="181.8" y1="282.3" x2="178.3" y2="287.7" stroke="#a2a2a6" stroke-width="1.0" stroke-dasharray="1.5 1.3"/>
<line x1="213.8" y1="274.3" x2="210.4" y2="279.7" stroke="#a2a2a6" stroke-width="1.0" stroke-dasharray="1.5 1.3"/>
<line x1="245.3" y1="266.5" x2="242.1" y2="271.8" stroke="#a2a2a6" stroke-width="1.0" stroke-dasharray="1.5 1.3"/>
<line x1="276.3" y1="258.7" x2="273.3" y2="264.0" stroke="#a2a2a6" stroke-width="1.0" stroke-dasharray="1.5 1.3"/>
<line x1="307.0" y1="251.0" x2="304.2" y2="256.3" stroke="#a2a2a6" stroke-width="1.0" stroke-dasharray="1.5 1.3"/>
<line x1="337.2" y1="243.4" x2="334.6" y2="248.7" stroke="#a2a2a6" stroke-width="1.0" stroke-dasharray="1.5 1.3"/>
<line x1="367.0" y1="235.9" x2="364.6" y2="241.2" stroke="#a2a2a6" stroke-width="1.0" stroke-dasharray="1.5 1.3"/>
<line x1="396.3" y1="228.5" x2="394.2" y2="233.7" stroke="#a2a2a6" stroke-width="1.0" stroke-dasharray="1.5 1.3"/>
<line x1="425.3" y1="221.1" x2="423.3" y2="226.3" stroke="#a2a2a6" stroke-width="1.0" stroke-dasharray="1.5 1.3"/>
<line x1="453.9" y1="213.8" x2="452.1" y2="219.0" stroke="#a2a2a6" stroke-width="1.0" stroke-dasharray="1.5 1.3"/>
<line x1="482.0" y1="206.5" x2="480.5" y2="211.7" stroke="#a2a2a6" stroke-width="1.0" stroke-dasharray="1.5 1.3"/>
<line x1="509.8" y1="199.3" x2="508.4" y2="204.4" stroke="#a2a2a6" stroke-width="1.0" stroke-dasharray="1.5 1.3"/>
<line x1="537.1" y1="192.1" x2="536.0" y2="197.2" stroke="#a2a2a6" stroke-width="1.0" stroke-dasharray="1.5 1.3"/>
<line x1="564.1" y1="185.0" x2="563.2" y2="190.0" stroke="#a2a2a6" stroke-width="1.0" stroke-dasharray="1.5 1.3"/>
<line x1="590.6" y1="177.9" x2="589.9" y2="182.8" stroke="#a2a2a6" stroke-width="1.0" stroke-dasharray="1.5 1.3"/>
<line x1="616.8" y1="170.8" x2="616.2" y2="175.7" stroke="#a2a2a6" stroke-width="1.0" stroke-dasharray="1.5 1.3"/>
<line x1="642.5" y1="163.8" x2="642.2" y2="168.6" stroke="#a2a2a6" stroke-width="1.0" stroke-dasharray="1.5 1.3"/>
<line x1="667.8" y1="156.8" x2="667.6" y2="161.5" stroke="#a2a2a6" stroke-width="1.0" stroke-dasharray="1.5 1.3"/>
<line x1="692.7" y1="150.3" x2="692.7" y2="154.9" stroke="#a2a2a6" stroke-width="1.0" stroke-dasharray="1.5 1.3"/>
<line x1="143.4" y1="299.0" x2="139.6" y2="304.3" stroke="#a2a2a6" stroke-width="1.0" stroke-dasharray="1.5 1.3"/>
<line x1="176.1" y1="290.9" x2="172.5" y2="296.2" stroke="#a2a2a6" stroke-width="1.0" stroke-dasharray="1.5 1.3"/>
<line x1="208.4" y1="282.9" x2="205.0" y2="288.2" stroke="#a2a2a6" stroke-width="1.0" stroke-dasharray="1.5 1.3"/>
<line x1="240.2" y1="275.0" x2="237.0" y2="280.3" stroke="#a2a2a6" stroke-width="1.0" stroke-dasharray="1.5 1.3"/>
<line x1="271.6" y1="267.2" x2="268.6" y2="272.5" stroke="#a2a2a6" stroke-width="1.0" stroke-dasharray="1.5 1.3"/>
<line x1="302.5" y1="259.5" x2="299.7" y2="264.8" stroke="#a2a2a6" stroke-width="1.0" stroke-dasharray="1.5 1.3"/>
<line x1="333.1" y1="251.8" x2="330.5" y2="257.1" stroke="#a2a2a6" stroke-width="1.0" stroke-dasharray="1.5 1.3"/>
<line x1="363.2" y1="244.3" x2="360.8" y2="249.6" stroke="#a2a2a6" stroke-width="1.0" stroke-dasharray="1.5 1.3"/>
<line x1="392.9" y1="236.8" x2="390.7" y2="242.0" stroke="#a2a2a6" stroke-width="1.0" stroke-dasharray="1.5 1.3"/>
<line x1="422.2" y1="229.4" x2="420.2" y2="234.6" stroke="#a2a2a6" stroke-width="1.0" stroke-dasharray="1.5 1.3"/>
<line x1="451.1" y1="222.0" x2="449.3" y2="227.2" stroke="#a2a2a6" stroke-width="1.0" stroke-dasharray="1.5 1.3"/>
<line x1="479.6" y1="214.7" x2="478.0" y2="219.8" stroke="#a2a2a6" stroke-width="1.0" stroke-dasharray="1.5 1.3"/>
<line x1="507.7" y1="207.4" x2="506.3" y2="212.5" stroke="#a2a2a6" stroke-width="1.0" stroke-dasharray="1.5 1.3"/>
<line x1="535.3" y1="200.2" x2="534.2" y2="205.2" stroke="#a2a2a6" stroke-width="1.0" stroke-dasharray="1.5 1.3"/>
<line x1="562.6" y1="192.9" x2="561.7" y2="197.9" stroke="#a2a2a6" stroke-width="1.0" stroke-dasharray="1.5 1.3"/>
<line x1="589.5" y1="185.7" x2="588.8" y2="190.7" stroke="#a2a2a6" stroke-width="1.0" stroke-dasharray="1.5 1.3"/>
<line x1="615.9" y1="178.5" x2="615.4" y2="183.4" stroke="#a2a2a6" stroke-width="1.0" stroke-dasharray="1.5 1.3"/>
<line x1="642.0" y1="171.4" x2="641.6" y2="176.2" stroke="#a2a2a6" stroke-width="1.0" stroke-dasharray="1.5 1.3"/>
<line x1="667.6" y1="164.2" x2="667.4" y2="168.9" stroke="#a2a2a6" stroke-width="1.0" stroke-dasharray="1.5 1.3"/>
<line x1="692.8" y1="157.7" x2="692.8" y2="162.3" stroke="#a2a2a6" stroke-width="1.0" stroke-dasharray="1.5 1.3"/>
<line x1="137.4" y1="307.5" x2="133.6" y2="312.9" stroke="#a2a2a6" stroke-width="1.0" stroke-dasharray="1.5 1.3"/>
<line x1="170.4" y1="299.4" x2="166.8" y2="304.8" stroke="#a2a2a6" stroke-width="1.0" stroke-dasharray="1.5 1.3"/>
<line x1="203.0" y1="291.4" x2="199.6" y2="296.7" stroke="#a2a2a6" stroke-width="1.0" stroke-dasharray="1.5 1.3"/>
<line x1="235.1" y1="283.5" x2="231.9" y2="288.8" stroke="#a2a2a6" stroke-width="1.0" stroke-dasharray="1.5 1.3"/>
<line x1="266.8" y1="275.6" x2="263.8" y2="281.0" stroke="#a2a2a6" stroke-width="1.0" stroke-dasharray="1.5 1.3"/>
<line x1="298.1" y1="267.9" x2="295.3" y2="273.2" stroke="#a2a2a6" stroke-width="1.0" stroke-dasharray="1.5 1.3"/>
<line x1="329.0" y1="260.2" x2="326.4" y2="265.5" stroke="#a2a2a6" stroke-width="1.0" stroke-dasharray="1.5 1.3"/>
<line x1="359.4" y1="252.7" x2="357.0" y2="257.9" stroke="#a2a2a6" stroke-width="1.0" stroke-dasharray="1.5 1.3"/>
<line x1="389.4" y1="245.1" x2="387.3" y2="250.4" stroke="#a2a2a6" stroke-width="1.0" stroke-dasharray="1.5 1.3"/>
<line x1="419.1" y1="237.7" x2="417.1" y2="242.9" stroke="#a2a2a6" stroke-width="1.0" stroke-dasharray="1.5 1.3"/>
<line x1="448.3" y1="230.2" x2="446.6" y2="235.4" stroke="#a2a2a6" stroke-width="1.0" stroke-dasharray="1.5 1.3"/>
<line x1="477.1" y1="222.8" x2="475.6" y2="228.0" stroke="#a2a2a6" stroke-width="1.0" stroke-dasharray="1.5 1.3"/>
<line x1="505.5" y1="215.5" x2="504.2" y2="220.6" stroke="#a2a2a6" stroke-width="1.0" stroke-dasharray="1.5 1.3"/>
<line x1="533.6" y1="208.2" x2="532.4" y2="213.2" stroke="#a2a2a6" stroke-width="1.0" stroke-dasharray="1.5 1.3"/>
<line x1="561.2" y1="200.8" x2="560.2" y2="205.8" stroke="#a2a2a6" stroke-width="1.0" stroke-dasharray="1.5 1.3"/>
<line x1="588.3" y1="193.5" x2="587.6" y2="198.5" stroke="#a2a2a6" stroke-width="1.0" stroke-dasharray="1.5 1.3"/>
<line x1="615.1" y1="186.3" x2="614.6" y2="191.1" stroke="#a2a2a6" stroke-width="1.0" stroke-dasharray="1.5 1.3"/>
<line x1="641.5" y1="179.0" x2="641.1" y2="183.8" stroke="#a2a2a6" stroke-width="1.0" stroke-dasharray="1.5 1.3"/>
<line x1="667.4" y1="171.7" x2="667.2" y2="176.4" stroke="#a2a2a6" stroke-width="1.0" stroke-dasharray="1.5 1.3"/>
<line x1="692.9" y1="165.1" x2="692.9" y2="169.7" stroke="#a2a2a6" stroke-width="1.0" stroke-dasharray="1.5 1.3"/>
<line x1="131.4" y1="316.1" x2="127.6" y2="321.5" stroke="#a2a2a6" stroke-width="1.0" stroke-dasharray="1.5 1.3"/>
<line x1="164.7" y1="307.9" x2="161.1" y2="313.3" stroke="#a2a2a6" stroke-width="1.0" stroke-dasharray="1.5 1.3"/>
<line x1="197.6" y1="299.9" x2="194.2" y2="305.3" stroke="#a2a2a6" stroke-width="1.0" stroke-dasharray="1.5 1.3"/>
<line x1="230.1" y1="292.0" x2="226.9" y2="297.3" stroke="#a2a2a6" stroke-width="1.0" stroke-dasharray="1.5 1.3"/>
<line x1="262.1" y1="284.1" x2="259.1" y2="289.4" stroke="#a2a2a6" stroke-width="1.0" stroke-dasharray="1.5 1.3"/>
<line x1="293.7" y1="276.3" x2="290.9" y2="281.7" stroke="#a2a2a6" stroke-width="1.0" stroke-dasharray="1.5 1.3"/>
<line x1="324.9" y1="268.6" x2="322.3" y2="273.9" stroke="#a2a2a6" stroke-width="1.0" stroke-dasharray="1.5 1.3"/>
<line x1="355.6" y1="261.0" x2="353.3" y2="266.3" stroke="#a2a2a6" stroke-width="1.0" stroke-dasharray="1.5 1.3"/>
<line x1="386.0" y1="253.5" x2="383.8" y2="258.7" stroke="#a2a2a6" stroke-width="1.0" stroke-dasharray="1.5 1.3"/>
<line x1="416.0" y1="245.9" x2="414.0" y2="251.1" stroke="#a2a2a6" stroke-width="1.0" stroke-dasharray="1.5 1.3"/>
<line x1="445.5" y1="238.5" x2="443.8" y2="243.6" stroke="#a2a2a6" stroke-width="1.0" stroke-dasharray="1.5 1.3"/>
<line x1="474.7" y1="231.0" x2="473.1" y2="236.1" stroke="#a2a2a6" stroke-width="1.0" stroke-dasharray="1.5 1.3"/>
<line x1="503.4" y1="223.6" x2="502.1" y2="228.7" stroke="#a2a2a6" stroke-width="1.0" stroke-dasharray="1.5 1.3"/>
<line x1="531.8" y1="216.2" x2="530.6" y2="221.2" stroke="#a2a2a6" stroke-width="1.0" stroke-dasharray="1.5 1.3"/>
<line x1="559.7" y1="208.8" x2="558.8" y2="213.7" stroke="#a2a2a6" stroke-width="1.0" stroke-dasharray="1.5 1.3"/>
<line x1="587.2" y1="201.4" x2="586.5" y2="206.3" stroke="#a2a2a6" stroke-width="1.0" stroke-dasharray="1.5 1.3"/>
<line x1="614.3" y1="194.0" x2="613.8" y2="198.8" stroke="#a2a2a6" stroke-width="1.0" stroke-dasharray="1.5 1.3"/>
<line x1="640.9" y1="186.6" x2="640.6" y2="191.3" stroke="#a2a2a6" stroke-width="1.0" stroke-dasharray="1.5 1.3"/>
<line x1="667.2" y1="179.2" x2="667.0" y2="183.9" stroke="#a2a2a6" stroke-width="1.0" stroke-dasharray="1.5 1.3"/>
<line x1="692.9" y1="172.5" x2="693.0" y2="177.1" stroke="#a2a2a6" stroke-width="1.0" stroke-dasharray="1.5 1.3"/>
<line x1="125.4" y1="324.6" x2="121.6" y2="330.0" stroke="#a2a2a6" stroke-width="1.0" stroke-dasharray="1.5 1.3"/>
<line x1="159.0" y1="316.5" x2="155.4" y2="321.8" stroke="#a2a2a6" stroke-width="1.0" stroke-dasharray="1.5 1.3"/>
<line x1="192.2" y1="308.4" x2="188.8" y2="313.8" stroke="#a2a2a6" stroke-width="1.0" stroke-dasharray="1.5 1.3"/>
<line x1="225.0" y1="300.4" x2="221.8" y2="305.8" stroke="#a2a2a6" stroke-width="1.0" stroke-dasharray="1.5 1.3"/>
<line x1="257.3" y1="292.6" x2="254.3" y2="297.9" stroke="#a2a2a6" stroke-width="1.0" stroke-dasharray="1.5 1.3"/>
<line x1="289.3" y1="284.8" x2="286.5" y2="290.1" stroke="#a2a2a6" stroke-width="1.0" stroke-dasharray="1.5 1.3"/>
<line x1="320.8" y1="277.1" x2="318.2" y2="282.3" stroke="#a2a2a6" stroke-width="1.0" stroke-dasharray="1.5 1.3"/>
<line x1="351.9" y1="269.4" x2="349.5" y2="274.7" stroke="#a2a2a6" stroke-width="1.0" stroke-dasharray="1.5 1.3"/>
<line x1="382.6" y1="261.8" x2="380.4" y2="267.0" stroke="#a2a2a6" stroke-width="1.0" stroke-dasharray="1.5 1.3"/>
<line x1="412.9" y1="254.2" x2="410.9" y2="259.4" stroke="#a2a2a6" stroke-width="1.0" stroke-dasharray="1.5 1.3"/>
<line x1="442.7" y1="246.7" x2="441.0" y2="251.8" stroke="#a2a2a6" stroke-width="1.0" stroke-dasharray="1.5 1.3"/>
<line x1="472.2" y1="239.2" x2="470.7" y2="244.3" stroke="#a2a2a6" stroke-width="1.0" stroke-dasharray="1.5 1.3"/>
<line x1="501.3" y1="231.7" x2="500.0" y2="236.8" stroke="#a2a2a6" stroke-width="1.0" stroke-dasharray="1.5 1.3"/>
<line x1="530.0" y1="224.2" x2="528.8" y2="229.2" stroke="#a2a2a6" stroke-width="1.0" stroke-dasharray="1.5 1.3"/>
<line x1="558.2" y1="216.7" x2="557.3" y2="221.7" stroke="#a2a2a6" stroke-width="1.0" stroke-dasharray="1.5 1.3"/>
<line x1="586.1" y1="209.2" x2="585.3" y2="214.1" stroke="#a2a2a6" stroke-width="1.0" stroke-dasharray="1.5 1.3"/>
<line x1="613.5" y1="201.7" x2="612.9" y2="206.5" stroke="#a2a2a6" stroke-width="1.0" stroke-dasharray="1.5 1.3"/>
<line x1="640.4" y1="194.2" x2="640.1" y2="198.9" stroke="#a2a2a6" stroke-width="1.0" stroke-dasharray="1.5 1.3"/>
<line x1="667.0" y1="186.6" x2="666.8" y2="191.3" stroke="#a2a2a6" stroke-width="1.0" stroke-dasharray="1.5 1.3"/>
<line x1="693.0" y1="179.9" x2="693.1" y2="184.5" stroke="#a2a2a6" stroke-width="1.0" stroke-dasharray="1.5 1.3"/>
<line x1="153.3" y1="325.0" x2="149.7" y2="330.4" stroke="#a2a2a6" stroke-width="1.0" stroke-dasharray="1.5 1.3"/>
<line x1="186.8" y1="316.9" x2="183.4" y2="322.3" stroke="#a2a2a6" stroke-width="1.0" stroke-dasharray="1.5 1.3"/>
<line x1="219.9" y1="308.9" x2="216.7" y2="314.3" stroke="#a2a2a6" stroke-width="1.0" stroke-dasharray="1.5 1.3"/>
<line x1="252.6" y1="301.0" x2="249.6" y2="306.4" stroke="#a2a2a6" stroke-width="1.0" stroke-dasharray="1.5 1.3"/>
<line x1="284.8" y1="293.2" x2="282.0" y2="298.5" stroke="#a2a2a6" stroke-width="1.0" stroke-dasharray="1.5 1.3"/>
<line x1="316.7" y1="285.5" x2="314.1" y2="290.8" stroke="#a2a2a6" stroke-width="1.0" stroke-dasharray="1.5 1.3"/>
<line x1="348.1" y1="277.8" x2="345.7" y2="283.0" stroke="#a2a2a6" stroke-width="1.0" stroke-dasharray="1.5 1.3"/>
<line x1="379.1" y1="270.1" x2="377.0" y2="275.3" stroke="#a2a2a6" stroke-width="1.0" stroke-dasharray="1.5 1.3"/>
<line x1="409.7" y1="262.5" x2="407.8" y2="267.7" stroke="#a2a2a6" stroke-width="1.0" stroke-dasharray="1.5 1.3"/>
<line x1="440.0" y1="254.9" x2="438.2" y2="260.1" stroke="#a2a2a6" stroke-width="1.0" stroke-dasharray="1.5 1.3"/>
<line x1="469.8" y1="247.3" x2="468.2" y2="252.5" stroke="#a2a2a6" stroke-width="1.0" stroke-dasharray="1.5 1.3"/>
<line x1="499.2" y1="239.7" x2="497.9" y2="244.8" stroke="#a2a2a6" stroke-width="1.0" stroke-dasharray="1.5 1.3"/>
<line x1="528.2" y1="232.2" x2="527.1" y2="237.2" stroke="#a2a2a6" stroke-width="1.0" stroke-dasharray="1.5 1.3"/>
<line x1="556.8" y1="224.6" x2="555.8" y2="229.6" stroke="#a2a2a6" stroke-width="1.0" stroke-dasharray="1.5 1.3"/>
<line x1="584.9" y1="217.0" x2="584.2" y2="221.9" stroke="#a2a2a6" stroke-width="1.0" stroke-dasharray="1.5 1.3"/>
<line x1="612.6" y1="209.4" x2="612.1" y2="214.2" stroke="#a2a2a6" stroke-width="1.0" stroke-dasharray="1.5 1.3"/>
<line x1="639.9" y1="201.8" x2="639.6" y2="206.5" stroke="#a2a2a6" stroke-width="1.0" stroke-dasharray="1.5 1.3"/>
<line x1="666.8" y1="194.1" x2="666.6" y2="198.8" stroke="#a2a2a6" stroke-width="1.0" stroke-dasharray="1.5 1.3"/>
<line x1="693.1" y1="187.3" x2="693.2" y2="191.9" stroke="#a2a2a6" stroke-width="1.0" stroke-dasharray="1.5 1.3"/>
<line x1="181.4" y1="325.4" x2="178.0" y2="330.8" stroke="#a2a2a6" stroke-width="1.0" stroke-dasharray="1.5 1.3"/>
<line x1="214.8" y1="317.4" x2="211.6" y2="322.8" stroke="#a2a2a6" stroke-width="1.0" stroke-dasharray="1.5 1.3"/>
<line x1="247.8" y1="309.5" x2="244.8" y2="314.8" stroke="#a2a2a6" stroke-width="1.0" stroke-dasharray="1.5 1.3"/>
<line x1="280.4" y1="301.7" x2="277.6" y2="307.0" stroke="#a2a2a6" stroke-width="1.0" stroke-dasharray="1.5 1.3"/>
<line x1="312.6" y1="293.9" x2="310.0" y2="299.2" stroke="#a2a2a6" stroke-width="1.0" stroke-dasharray="1.5 1.3"/>
<line x1="344.3" y1="286.1" x2="342.0" y2="291.4" stroke="#a2a2a6" stroke-width="1.0" stroke-dasharray="1.5 1.3"/>
<line x1="375.7" y1="278.4" x2="373.5" y2="283.7" stroke="#a2a2a6" stroke-width="1.0" stroke-dasharray="1.5 1.3"/>
<line x1="406.6" y1="270.8" x2="404.7" y2="276.0" stroke="#a2a2a6" stroke-width="1.0" stroke-dasharray="1.5 1.3"/>
<line x1="437.2" y1="263.1" x2="435.4" y2="268.3" stroke="#a2a2a6" stroke-width="1.0" stroke-dasharray="1.5 1.3"/>
<line x1="467.3" y1="255.5" x2="465.8" y2="260.6" stroke="#a2a2a6" stroke-width="1.0" stroke-dasharray="1.5 1.3"/>
<line x1="497.1" y1="247.8" x2="495.7" y2="252.9" stroke="#a2a2a6" stroke-width="1.0" stroke-dasharray="1.5 1.3"/>
<line x1="526.4" y1="240.2" x2="525.3" y2="245.2" stroke="#a2a2a6" stroke-width="1.0" stroke-dasharray="1.5 1.3"/>
<line x1="555.3" y1="232.5" x2="554.4" y2="237.5" stroke="#a2a2a6" stroke-width="1.0" stroke-dasharray="1.5 1.3"/>
<line x1="583.8" y1="224.8" x2="583.1" y2="229.7" stroke="#a2a2a6" stroke-width="1.0" stroke-dasharray="1.5 1.3"/>
<line x1="611.8" y1="217.1" x2="611.3" y2="222.0" stroke="#a2a2a6" stroke-width="1.0" stroke-dasharray="1.5 1.3"/>
<line x1="639.4" y1="209.3" x2="639.1" y2="214.1" stroke="#a2a2a6" stroke-width="1.0" stroke-dasharray="1.5 1.3"/>
<line x1="666.5" y1="201.6" x2="666.4" y2="206.3" stroke="#a2a2a6" stroke-width="1.0" stroke-dasharray="1.5 1.3"/>
<line x1="693.2" y1="194.7" x2="693.3" y2="199.3" stroke="#a2a2a6" stroke-width="1.0" stroke-dasharray="1.5 1.3"/>
<line x1="209.8" y1="325.9" x2="206.6" y2="331.3" stroke="#a2a2a6" stroke-width="1.0" stroke-dasharray="1.5 1.3"/>
<line x1="243.1" y1="318.0" x2="240.1" y2="323.3" stroke="#a2a2a6" stroke-width="1.0" stroke-dasharray="1.5 1.3"/>
<line x1="276.0" y1="310.1" x2="273.2" y2="315.4" stroke="#a2a2a6" stroke-width="1.0" stroke-dasharray="1.5 1.3"/>
<line x1="308.5" y1="302.3" x2="305.9" y2="307.6" stroke="#a2a2a6" stroke-width="1.0" stroke-dasharray="1.5 1.3"/>
<line x1="340.6" y1="294.5" x2="338.2" y2="299.8" stroke="#a2a2a6" stroke-width="1.0" stroke-dasharray="1.5 1.3"/>
<line x1="372.2" y1="286.8" x2="370.1" y2="292.0" stroke="#a2a2a6" stroke-width="1.0" stroke-dasharray="1.5 1.3"/>
<line x1="403.5" y1="279.0" x2="401.6" y2="284.2" stroke="#a2a2a6" stroke-width="1.0" stroke-dasharray="1.5 1.3"/>
<line x1="434.4" y1="271.3" x2="432.7" y2="276.5" stroke="#a2a2a6" stroke-width="1.0" stroke-dasharray="1.5 1.3"/>
<line x1="464.9" y1="263.6" x2="463.3" y2="268.8" stroke="#a2a2a6" stroke-width="1.0" stroke-dasharray="1.5 1.3"/>
<line x1="495.0" y1="255.9" x2="493.6" y2="261.0" stroke="#a2a2a6" stroke-width="1.0" stroke-dasharray="1.5 1.3"/>
<line x1="524.6" y1="248.2" x2="523.5" y2="253.2" stroke="#a2a2a6" stroke-width="1.0" stroke-dasharray="1.5 1.3"/>
<line x1="553.8" y1="240.4" x2="552.9" y2="245.4" stroke="#a2a2a6" stroke-width="1.0" stroke-dasharray="1.5 1.3"/>
<line x1="582.6" y1="232.6" x2="581.9" y2="237.6" stroke="#a2a2a6" stroke-width="1.0" stroke-dasharray="1.5 1.3"/>
<line x1="611.0" y1="224.8" x2="610.5" y2="229.7" stroke="#a2a2a6" stroke-width="1.0" stroke-dasharray="1.5 1.3"/>
<line x1="638.9" y1="216.9" x2="638.6" y2="221.7" stroke="#a2a2a6" stroke-width="1.0" stroke-dasharray="1.5 1.3"/>
<line x1="666.3" y1="209.0" x2="666.2" y2="213.7" stroke="#a2a2a6" stroke-width="1.0" stroke-dasharray="1.5 1.3"/>
<line x1="693.3" y1="202.1" x2="693.4" y2="206.7" stroke="#a2a2a6" stroke-width="1.0" stroke-dasharray="1.5 1.3"/>
<line x1="238.3" y1="326.4" x2="235.3" y2="331.8" stroke="#a2a2a6" stroke-width="1.0" stroke-dasharray="1.5 1.3"/>
<line x1="271.6" y1="318.5" x2="268.8" y2="323.9" stroke="#a2a2a6" stroke-width="1.0" stroke-dasharray="1.5 1.3"/>
<line x1="304.4" y1="310.7" x2="301.8" y2="316.0" stroke="#a2a2a6" stroke-width="1.0" stroke-dasharray="1.5 1.3"/>
<line x1="336.8" y1="302.9" x2="334.4" y2="308.1" stroke="#a2a2a6" stroke-width="1.0" stroke-dasharray="1.5 1.3"/>
<line x1="368.8" y1="295.1" x2="366.6" y2="300.3" stroke="#a2a2a6" stroke-width="1.0" stroke-dasharray="1.5 1.3"/>
<line x1="400.4" y1="287.3" x2="398.5" y2="292.5" stroke="#a2a2a6" stroke-width="1.0" stroke-dasharray="1.5 1.3"/>
<line x1="431.6" y1="279.6" x2="429.9" y2="284.7" stroke="#a2a2a6" stroke-width="1.0" stroke-dasharray="1.5 1.3"/>
<line x1="462.4" y1="271.8" x2="460.9" y2="276.9" stroke="#a2a2a6" stroke-width="1.0" stroke-dasharray="1.5 1.3"/>
<line x1="492.8" y1="264.0" x2="491.5" y2="269.1" stroke="#a2a2a6" stroke-width="1.0" stroke-dasharray="1.5 1.3"/>
<line x1="522.8" y1="256.2" x2="521.7" y2="261.2" stroke="#a2a2a6" stroke-width="1.0" stroke-dasharray="1.5 1.3"/>
<line x1="552.4" y1="248.3" x2="551.5" y2="253.3" stroke="#a2a2a6" stroke-width="1.0" stroke-dasharray="1.5 1.3"/>
<line x1="581.5" y1="240.5" x2="580.8" y2="245.4" stroke="#a2a2a6" stroke-width="1.0" stroke-dasharray="1.5 1.3"/>
<line x1="610.2" y1="232.5" x2="609.7" y2="237.4" stroke="#a2a2a6" stroke-width="1.0" stroke-dasharray="1.5 1.3"/>
<line x1="638.4" y1="224.5" x2="638.1" y2="229.3" stroke="#a2a2a6" stroke-width="1.0" stroke-dasharray="1.5 1.3"/>
<line x1="666.1" y1="216.5" x2="666.0" y2="221.2" stroke="#a2a2a6" stroke-width="1.0" stroke-dasharray="1.5 1.3"/>
<line x1="693.4" y1="209.5" x2="693.5" y2="214.1" stroke="#a2a2a6" stroke-width="1.0" stroke-dasharray="1.5 1.3"/>
<line x1="267.1" y1="327.0" x2="264.3" y2="332.3" stroke="#a2a2a6" stroke-width="1.0" stroke-dasharray="1.5 1.3"/>
<line x1="300.3" y1="319.1" x2="297.7" y2="324.4" stroke="#a2a2a6" stroke-width="1.0" stroke-dasharray="1.5 1.3"/>
<line x1="333.0" y1="311.2" x2="330.6" y2="316.5" stroke="#a2a2a6" stroke-width="1.0" stroke-dasharray="1.5 1.3"/>
<line x1="365.4" y1="303.4" x2="363.2" y2="308.6" stroke="#a2a2a6" stroke-width="1.0" stroke-dasharray="1.5 1.3"/>
<line x1="397.3" y1="295.6" x2="395.3" y2="300.8" stroke="#a2a2a6" stroke-width="1.0" stroke-dasharray="1.5 1.3"/>
<line x1="428.9" y1="287.8" x2="427.1" y2="293.0" stroke="#a2a2a6" stroke-width="1.0" stroke-dasharray="1.5 1.3"/>
<line x1="460.0" y1="279.9" x2="458.5" y2="285.1" stroke="#a2a2a6" stroke-width="1.0" stroke-dasharray="1.5 1.3"/>
<line x1="490.7" y1="272.1" x2="489.4" y2="277.2" stroke="#a2a2a6" stroke-width="1.0" stroke-dasharray="1.5 1.3"/>
<line x1="521.0" y1="264.2" x2="519.9" y2="269.2" stroke="#a2a2a6" stroke-width="1.0" stroke-dasharray="1.5 1.3"/>
<line x1="550.9" y1="256.3" x2="550.0" y2="261.3" stroke="#a2a2a6" stroke-width="1.0" stroke-dasharray="1.5 1.3"/>
<line x1="580.4" y1="248.3" x2="579.6" y2="253.2" stroke="#a2a2a6" stroke-width="1.0" stroke-dasharray="1.5 1.3"/>
<line x1="609.4" y1="240.2" x2="608.8" y2="245.1" stroke="#a2a2a6" stroke-width="1.0" stroke-dasharray="1.5 1.3"/>
<line x1="637.9" y1="232.1" x2="637.6" y2="236.9" stroke="#a2a2a6" stroke-width="1.0" stroke-dasharray="1.5 1.3"/>
<line x1="665.9" y1="224.0" x2="665.8" y2="228.7" stroke="#a2a2a6" stroke-width="1.0" stroke-dasharray="1.5 1.3"/>
<line x1="693.5" y1="216.9" x2="693.6" y2="221.5" stroke="#a2a2a6" stroke-width="1.0" stroke-dasharray="1.5 1.3"/>
<line x1="329.2" y1="319.6" x2="326.9" y2="324.9" stroke="#a2a2a6" stroke-width="1.0" stroke-dasharray="1.5 1.3"/>
<line x1="361.9" y1="311.7" x2="359.8" y2="317.0" stroke="#a2a2a6" stroke-width="1.0" stroke-dasharray="1.5 1.3"/>
<line x1="394.2" y1="303.9" x2="392.2" y2="309.1" stroke="#a2a2a6" stroke-width="1.0" stroke-dasharray="1.5 1.3"/>
<line x1="426.1" y1="296.0" x2="424.3" y2="301.2" stroke="#a2a2a6" stroke-width="1.0" stroke-dasharray="1.5 1.3"/>
<line x1="457.5" y1="288.1" x2="456.0" y2="293.2" stroke="#a2a2a6" stroke-width="1.0" stroke-dasharray="1.5 1.3"/>
<line x1="488.6" y1="280.2" x2="487.3" y2="285.3" stroke="#a2a2a6" stroke-width="1.0" stroke-dasharray="1.5 1.3"/>
<line x1="519.2" y1="272.2" x2="518.1" y2="277.2" stroke="#a2a2a6" stroke-width="1.0" stroke-dasharray="1.5 1.3"/>
<line x1="549.5" y1="264.2" x2="548.5" y2="269.2" stroke="#a2a2a6" stroke-width="1.0" stroke-dasharray="1.5 1.3"/>
<line x1="579.2" y1="256.1" x2="578.5" y2="261.0" stroke="#a2a2a6" stroke-width="1.0" stroke-dasharray="1.5 1.3"/>
<line x1="608.5" y1="247.9" x2="608.0" y2="252.8" stroke="#a2a2a6" stroke-width="1.0" stroke-dasharray="1.5 1.3"/>
<line x1="637.4" y1="239.7" x2="637.1" y2="244.5" stroke="#a2a2a6" stroke-width="1.0" stroke-dasharray="1.5 1.3"/>
<line x1="665.7" y1="231.4" x2="665.6" y2="236.1" stroke="#a2a2a6" stroke-width="1.0" stroke-dasharray="1.5 1.3"/>
<line x1="693.6" y1="224.3" x2="693.6" y2="228.9" stroke="#a2a2a6" stroke-width="1.0" stroke-dasharray="1.5 1.3"/>
<line x1="358.5" y1="320.1" x2="356.3" y2="325.3" stroke="#a2a2a6" stroke-width="1.0" stroke-dasharray="1.5 1.3"/>
<line x1="391.1" y1="312.1" x2="389.1" y2="317.4" stroke="#a2a2a6" stroke-width="1.0" stroke-dasharray="1.5 1.3"/>
<line x1="423.3" y1="304.2" x2="421.5" y2="309.4" stroke="#a2a2a6" stroke-width="1.0" stroke-dasharray="1.5 1.3"/>
<line x1="455.1" y1="296.3" x2="453.6" y2="301.4" stroke="#a2a2a6" stroke-width="1.0" stroke-dasharray="1.5 1.3"/>
<line x1="486.5" y1="288.3" x2="485.2" y2="293.4" stroke="#a2a2a6" stroke-width="1.0" stroke-dasharray="1.5 1.3"/>
<line x1="517.5" y1="280.2" x2="516.3" y2="285.3" stroke="#a2a2a6" stroke-width="1.0" stroke-dasharray="1.5 1.3"/>
<line x1="548.0" y1="272.1" x2="547.1" y2="277.1" stroke="#a2a2a6" stroke-width="1.0" stroke-dasharray="1.5 1.3"/>
<line x1="578.1" y1="263.9" x2="577.4" y2="268.8" stroke="#a2a2a6" stroke-width="1.0" stroke-dasharray="1.5 1.3"/>
<line x1="607.7" y1="255.7" x2="607.2" y2="260.5" stroke="#a2a2a6" stroke-width="1.0" stroke-dasharray="1.5 1.3"/>
<line x1="636.9" y1="247.3" x2="636.5" y2="252.1" stroke="#a2a2a6" stroke-width="1.0" stroke-dasharray="1.5 1.3"/>
<line x1="665.5" y1="238.9" x2="665.4" y2="243.6" stroke="#a2a2a6" stroke-width="1.0" stroke-dasharray="1.5 1.3"/>
<line x1="693.7" y1="231.7" x2="693.7" y2="236.3" stroke="#a2a2a6" stroke-width="1.0" stroke-dasharray="1.5 1.3"/>
<line x1="388.0" y1="320.4" x2="386.0" y2="325.6" stroke="#a2a2a6" stroke-width="1.0" stroke-dasharray="1.5 1.3"/>
<line x1="420.5" y1="312.4" x2="418.8" y2="317.6" stroke="#a2a2a6" stroke-width="1.0" stroke-dasharray="1.5 1.3"/>
<line x1="452.7" y1="304.4" x2="451.1" y2="309.6" stroke="#a2a2a6" stroke-width="1.0" stroke-dasharray="1.5 1.3"/>
<line x1="484.4" y1="296.3" x2="483.0" y2="301.4" stroke="#a2a2a6" stroke-width="1.0" stroke-dasharray="1.5 1.3"/>
<line x1="515.7" y1="288.2" x2="514.5" y2="293.3" stroke="#a2a2a6" stroke-width="1.0" stroke-dasharray="1.5 1.3"/>
<line x1="546.5" y1="280.0" x2="545.6" y2="285.0" stroke="#a2a2a6" stroke-width="1.0" stroke-dasharray="1.5 1.3"/>
<line x1="576.9" y1="271.7" x2="576.2" y2="276.7" stroke="#a2a2a6" stroke-width="1.0" stroke-dasharray="1.5 1.3"/>
<line x1="606.9" y1="263.4" x2="606.4" y2="268.2" stroke="#a2a2a6" stroke-width="1.0" stroke-dasharray="1.5 1.3"/>
<line x1="636.4" y1="254.9" x2="636.0" y2="259.7" stroke="#a2a2a6" stroke-width="1.0" stroke-dasharray="1.5 1.3"/>
<line x1="665.3" y1="246.4" x2="665.2" y2="251.1" stroke="#a2a2a6" stroke-width="1.0" stroke-dasharray="1.5 1.3"/>
<line x1="693.8" y1="239.1" x2="693.8" y2="243.7" stroke="#a2a2a6" stroke-width="1.0" stroke-dasharray="1.5 1.3"/>
<line x1="417.7" y1="320.7" x2="416.0" y2="325.8" stroke="#a2a2a6" stroke-width="1.0" stroke-dasharray="1.5 1.3"/>
<line x1="450.2" y1="312.6" x2="448.7" y2="317.7" stroke="#a2a2a6" stroke-width="1.0" stroke-dasharray="1.5 1.3"/>
<line x1="482.3" y1="304.4" x2="480.9" y2="309.5" stroke="#a2a2a6" stroke-width="1.0" stroke-dasharray="1.5 1.3"/>
<line x1="513.9" y1="296.2" x2="512.8" y2="301.3" stroke="#a2a2a6" stroke-width="1.0" stroke-dasharray="1.5 1.3"/>
<line x1="545.1" y1="287.9" x2="544.2" y2="292.9" stroke="#a2a2a6" stroke-width="1.0" stroke-dasharray="1.5 1.3"/>
<line x1="575.8" y1="279.6" x2="575.1" y2="284.5" stroke="#a2a2a6" stroke-width="1.0" stroke-dasharray="1.5 1.3"/>
<line x1="606.1" y1="271.1" x2="605.6" y2="275.9" stroke="#a2a2a6" stroke-width="1.0" stroke-dasharray="1.5 1.3"/>
<line x1="635.8" y1="262.5" x2="635.5" y2="267.3" stroke="#a2a2a6" stroke-width="1.0" stroke-dasharray="1.5 1.3"/>
<line x1="665.1" y1="253.8" x2="665.0" y2="258.5" stroke="#a2a2a6" stroke-width="1.0" stroke-dasharray="1.5 1.3"/>
<line x1="693.9" y1="246.5" x2="693.9" y2="251.1" stroke="#a2a2a6" stroke-width="1.0" stroke-dasharray="1.5 1.3"/>
<line x1="447.8" y1="320.7" x2="446.2" y2="325.9" stroke="#a2a2a6" stroke-width="1.0" stroke-dasharray="1.5 1.3"/>
<line x1="480.1" y1="312.5" x2="478.8" y2="317.6" stroke="#a2a2a6" stroke-width="1.0" stroke-dasharray="1.5 1.3"/>
<line x1="512.1" y1="304.2" x2="511.0" y2="309.3" stroke="#a2a2a6" stroke-width="1.0" stroke-dasharray="1.5 1.3"/>
<line x1="543.6" y1="295.8" x2="542.7" y2="300.8" stroke="#a2a2a6" stroke-width="1.0" stroke-dasharray="1.5 1.3"/>
<line x1="574.7" y1="287.4" x2="574.0" y2="292.3" stroke="#a2a2a6" stroke-width="1.0" stroke-dasharray="1.5 1.3"/>
<line x1="605.3" y1="278.8" x2="604.7" y2="283.6" stroke="#a2a2a6" stroke-width="1.0" stroke-dasharray="1.5 1.3"/>
<line x1="635.3" y1="270.1" x2="635.0" y2="274.9" stroke="#a2a2a6" stroke-width="1.0" stroke-dasharray="1.5 1.3"/>
<line x1="664.9" y1="261.3" x2="664.8" y2="266.0" stroke="#a2a2a6" stroke-width="1.0" stroke-dasharray="1.5 1.3"/>
<line x1="694.0" y1="253.9" x2="694.0" y2="258.5" stroke="#a2a2a6" stroke-width="1.0" stroke-dasharray="1.5 1.3"/>
<line x1="478.0" y1="320.6" x2="476.7" y2="325.7" stroke="#a2a2a6" stroke-width="1.0" stroke-dasharray="1.5 1.3"/>
<line x1="510.3" y1="312.2" x2="509.2" y2="317.3" stroke="#a2a2a6" stroke-width="1.0" stroke-dasharray="1.5 1.3"/>
<line x1="542.2" y1="303.8" x2="541.2" y2="308.8" stroke="#a2a2a6" stroke-width="1.0" stroke-dasharray="1.5 1.3"/>
<line x1="573.5" y1="295.2" x2="572.8" y2="300.1" stroke="#a2a2a6" stroke-width="1.0" stroke-dasharray="1.5 1.3"/>
<line x1="604.4" y1="286.5" x2="603.9" y2="291.4" stroke="#a2a2a6" stroke-width="1.0" stroke-dasharray="1.5 1.3"/>
<line x1="634.8" y1="277.7" x2="634.5" y2="282.5" stroke="#a2a2a6" stroke-width="1.0" stroke-dasharray="1.5 1.3"/>
<line x1="664.7" y1="268.8" x2="664.6" y2="273.5" stroke="#a2a2a6" stroke-width="1.0" stroke-dasharray="1.5 1.3"/>
<line x1="694.0" y1="261.3" x2="694.1" y2="265.9" stroke="#a2a2a6" stroke-width="1.0" stroke-dasharray="1.5 1.3"/>
<line x1="508.5" y1="320.2" x2="507.4" y2="325.3" stroke="#a2a2a6" stroke-width="1.0" stroke-dasharray="1.5 1.3"/>
<line x1="540.7" y1="311.7" x2="539.8" y2="316.7" stroke="#a2a2a6" stroke-width="1.0" stroke-dasharray="1.5 1.3"/>
<line x1="572.4" y1="303.0" x2="571.7" y2="307.9" stroke="#a2a2a6" stroke-width="1.0" stroke-dasharray="1.5 1.3"/>
<line x1="603.6" y1="294.2" x2="603.1" y2="299.1" stroke="#a2a2a6" stroke-width="1.0" stroke-dasharray="1.5 1.3"/>
<line x1="634.3" y1="285.3" x2="634.0" y2="290.1" stroke="#a2a2a6" stroke-width="1.0" stroke-dasharray="1.5 1.3"/>
<line x1="664.5" y1="276.2" x2="664.4" y2="280.9" stroke="#a2a2a6" stroke-width="1.0" stroke-dasharray="1.5 1.3"/>
<line x1="694.1" y1="268.7" x2="694.2" y2="273.3" stroke="#a2a2a6" stroke-width="1.0" stroke-dasharray="1.5 1.3"/>
<line x1="539.2" y1="319.6" x2="538.3" y2="324.6" stroke="#a2a2a6" stroke-width="1.0" stroke-dasharray="1.5 1.3"/>
<line x1="571.3" y1="310.8" x2="570.5" y2="315.8" stroke="#a2a2a6" stroke-width="1.0" stroke-dasharray="1.5 1.3"/>
<line x1="602.8" y1="301.9" x2="602.3" y2="306.8" stroke="#a2a2a6" stroke-width="1.0" stroke-dasharray="1.5 1.3"/>
<line x1="633.8" y1="292.9" x2="633.5" y2="297.7" stroke="#a2a2a6" stroke-width="1.0" stroke-dasharray="1.5 1.3"/>
<line x1="664.3" y1="283.7" x2="664.2" y2="288.4" stroke="#a2a2a6" stroke-width="1.0" stroke-dasharray="1.5 1.3"/>
<line x1="694.2" y1="276.1" x2="694.3" y2="280.7" stroke="#a2a2a6" stroke-width="1.0" stroke-dasharray="1.5 1.3"/>
<line x1="570.1" y1="318.6" x2="569.4" y2="323.6" stroke="#a2a2a6" stroke-width="1.0" stroke-dasharray="1.5 1.3"/>
<line x1="602.0" y1="309.6" x2="601.4" y2="314.5" stroke="#a2a2a6" stroke-width="1.0" stroke-dasharray="1.5 1.3"/>
<line x1="633.3" y1="300.5" x2="633.0" y2="305.3" stroke="#a2a2a6" stroke-width="1.0" stroke-dasharray="1.5 1.3"/>
<line x1="664.1" y1="291.2" x2="664.0" y2="295.9" stroke="#a2a2a6" stroke-width="1.0" stroke-dasharray="1.5 1.3"/>
<line x1="694.3" y1="283.5" x2="694.4" y2="288.1" stroke="#a2a2a6" stroke-width="1.0" stroke-dasharray="1.5 1.3"/>
<line x1="569.0" y1="326.5" x2="568.3" y2="331.4" stroke="#a2a2a6" stroke-width="1.0" stroke-dasharray="1.5 1.3"/>
<line x1="601.1" y1="317.3" x2="600.6" y2="322.2" stroke="#a2a2a6" stroke-width="1.0" stroke-dasharray="1.5 1.3"/>
<line x1="632.8" y1="308.1" x2="632.5" y2="312.9" stroke="#a2a2a6" stroke-width="1.0" stroke-dasharray="1.5 1.3"/>
<line x1="663.9" y1="298.6" x2="663.7" y2="303.3" stroke="#a2a2a6" stroke-width="1.0" stroke-dasharray="1.5 1.3"/>
<line x1="694.4" y1="290.9" x2="694.5" y2="295.5" stroke="#a2a2a6" stroke-width="1.0" stroke-dasharray="1.5 1.3"/>
<line x1="600.3" y1="325.1" x2="599.8" y2="329.9" stroke="#a2a2a6" stroke-width="1.0" stroke-dasharray="1.5 1.3"/>
<line x1="632.3" y1="315.7" x2="632.0" y2="320.4" stroke="#a2a2a6" stroke-width="1.0" stroke-dasharray="1.5 1.3"/>
<line x1="663.7" y1="306.1" x2="663.5" y2="310.8" stroke="#a2a2a6" stroke-width="1.0" stroke-dasharray="1.5 1.3"/>
<line x1="694.5" y1="298.2" x2="694.6" y2="302.9" stroke="#a2a2a6" stroke-width="1.0" stroke-dasharray="1.5 1.3"/>
<line x1="631.8" y1="323.3" x2="631.4" y2="328.0" stroke="#a2a2a6" stroke-width="1.0" stroke-dasharray="1.5 1.3"/>
<line x1="663.5" y1="313.6" x2="663.3" y2="318.3" stroke="#a2a2a6" stroke-width="1.0" stroke-dasharray="1.5 1.3"/>
<line x1="694.6" y1="305.6" x2="694.7" y2="310.3" stroke="#a2a2a6" stroke-width="1.0" stroke-dasharray="1.5 1.3"/>
<line x1="663.3" y1="321.0" x2="663.1" y2="325.7" stroke="#a2a2a6" stroke-width="1.0" stroke-dasharray="1.5 1.3"/>
<line x1="694.7" y1="313.0" x2="694.7" y2="317.7" stroke="#a2a2a6" stroke-width="1.0" stroke-dasharray="1.5 1.3"/>
<line x1="694.8" y1="320.4" x2="694.8" y2="325.1" stroke="#a2a2a6" stroke-width="1.0" stroke-dasharray="1.5 1.3"/>
</g>
<g clip-path="url(#cpQR)">
<rect x="200" y="80" width="800" height="240" fill="#e8e8ea"/>
<path d="M670.3,91.0 Q680.9,88.8 691.6,97.7 L693.4,103.2 Q682.6,95.3 671.9,96.6 Z" fill="url(#gPillow)"/>
<path d="M692.8,97.7 Q703.5,95.4 714.2,104.3 L716.1,109.9 Q705.4,101.9 694.6,103.3 Z" fill="url(#gPillow)"/>
<path d="M715.4,104.3 Q726.3,102.1 737.3,111.2 L739.5,116.9 Q728.4,108.7 717.4,110.1 Z" fill="url(#gPillow)"/>
<path d="M738.5,111.2 Q749.8,108.8 761.1,118.2 L763.5,124.1 Q752.1,115.7 740.7,117.1 Z" fill="url(#gPillow)"/>
<path d="M762.3,118.2 Q773.9,115.8 785.5,125.4 L788.1,131.5 Q776.4,122.8 764.7,124.3 Z" fill="url(#gPillow)"/>
<path d="M786.7,125.4 Q798.6,123.0 810.5,132.8 L813.4,139.1 Q801.4,130.1 789.4,131.7 Z" fill="url(#gPillow)"/>
<path d="M811.7,132.8 Q824.0,130.3 836.2,140.5 L839.3,146.8 Q827.0,137.6 814.7,139.3 Z" fill="url(#gPillow)"/>
<path d="M837.4,140.5 Q850.0,137.8 862.6,148.3 L866.0,154.8 Q853.3,145.3 840.6,147.1 Z" fill="url(#gPillow)"/>
<path d="M863.8,148.3 Q876.8,145.6 889.7,156.3 L893.4,163.0 Q880.4,153.2 867.3,155.0 Z" fill="url(#gPillow)"/>
<path d="M890.9,156.3 Q904.2,153.5 917.5,164.5 L921.5,171.4 Q908.1,161.3 894.7,163.2 Z" fill="url(#gPillow)"/>
<path d="M918.7,164.5 Q932.4,161.6 946.1,173.0 L950.3,180.0 Q936.6,169.6 922.8,171.6 Z" fill="url(#gPillow)"/>
<path d="M947.3,173.0 Q961.4,170.0 975.4,181.6 L980.0,188.8 Q965.8,178.1 951.7,180.2 Z" fill="url(#gPillow)"/>
<path d="M976.6,181.6 Q976.0,174.2 975.4,181.6 L980.0,189.0 Q980.6,182.5 981.2,189.0 Z" fill="url(#gPillow)"/>
<path d="M672.1,98.2 Q682.8,96.0 693.6,104.8 L695.4,110.3 Q684.5,102.4 673.7,103.7 Z" fill="url(#gPillow)"/>
<path d="M694.8,104.9 Q705.6,102.7 716.3,111.5 L718.3,117.1 Q707.4,109.2 696.6,110.5 Z" fill="url(#gPillow)"/>
<path d="M717.6,111.8 Q728.7,109.5 739.7,118.6 L741.9,124.3 Q730.7,116.1 719.6,117.6 Z" fill="url(#gPillow)"/>
<path d="M741.0,118.8 Q752.4,116.4 763.7,125.8 L766.1,131.7 Q754.7,123.3 743.2,124.8 Z" fill="url(#gPillow)"/>
<path d="M765.0,126.0 Q776.7,123.6 788.4,133.2 L791.0,139.2 Q779.2,130.6 767.5,132.1 Z" fill="url(#gPillow)"/>
<path d="M789.7,133.4 Q801.7,130.9 813.7,140.8 L816.6,147.0 Q804.5,138.1 792.4,139.7 Z" fill="url(#gPillow)"/>
<path d="M815.0,141.0 Q827.3,138.4 839.7,148.5 L842.8,154.9 Q830.4,145.7 818.0,147.5 Z" fill="url(#gPillow)"/>
<path d="M841.0,148.8 Q853.7,146.1 866.4,156.5 L869.8,163.1 Q857.0,153.6 844.2,155.4 Z" fill="url(#gPillow)"/>
<path d="M867.7,156.8 Q880.7,154.1 893.8,164.7 L897.4,171.4 Q884.3,161.7 871.2,163.6 Z" fill="url(#gPillow)"/>
<path d="M895.1,165.0 Q908.5,162.2 921.9,173.1 L925.9,180.0 Q912.4,170.0 898.9,172.0 Z" fill="url(#gPillow)"/>
<path d="M923.3,173.4 Q937.0,170.5 950.8,181.8 L955.0,188.8 Q941.2,178.5 927.3,180.5 Z" fill="url(#gPillow)"/>
<path d="M952.2,182.1 Q966.3,179.1 980.5,190.6 L985.0,197.8 Q970.8,187.2 956.5,189.3 Z" fill="url(#gPillow)"/>
<path d="M981.7,190.8 Q981.1,183.4 980.5,190.8 L985.2,198.1 Q985.8,191.6 986.4,198.1 Z" fill="url(#gPillow)"/>
<path d="M673.9,105.4 Q684.7,103.2 695.5,111.9 L697.3,117.5 Q686.4,109.6 675.5,110.9 Z" fill="url(#gPillow)"/>
<path d="M696.8,112.2 Q707.7,109.9 718.5,118.7 L720.4,124.3 Q709.5,116.4 698.6,117.8 Z" fill="url(#gPillow)"/>
<path d="M719.8,119.2 Q731.0,116.9 742.1,125.9 L744.3,131.7 Q733.1,123.5 721.8,125.0 Z" fill="url(#gPillow)"/>
<path d="M743.5,126.4 Q754.9,124.0 766.4,133.3 L768.8,139.2 Q757.2,130.8 745.7,132.4 Z" fill="url(#gPillow)"/>
<path d="M767.7,133.8 Q779.5,131.3 791.3,140.9 L793.9,147.0 Q782.1,138.3 770.2,139.9 Z" fill="url(#gPillow)"/>
<path d="M792.7,141.4 Q804.8,138.9 816.9,148.7 L819.7,154.9 Q807.6,146.0 795.4,147.7 Z" fill="url(#gPillow)"/>
<path d="M818.3,149.2 Q830.7,146.6 843.2,156.6 L846.3,163.0 Q833.8,153.9 821.2,155.6 Z" fill="url(#gPillow)"/>
<path d="M844.6,157.2 Q857.4,154.5 870.1,164.8 L873.5,171.4 Q860.7,161.9 847.8,163.8 Z" fill="url(#gPillow)"/>
<path d="M871.6,165.3 Q884.7,162.5 897.8,173.2 L901.5,179.9 Q888.3,170.2 875.1,172.1 Z" fill="url(#gPillow)"/>
<path d="M899.3,173.7 Q912.8,170.9 926.3,181.8 L930.2,188.6 Q916.7,178.7 903.1,180.7 Z" fill="url(#gPillow)"/>
<path d="M927.8,182.3 Q941.6,179.4 955.5,190.6 L959.7,197.6 Q945.8,187.3 931.8,189.4 Z" fill="url(#gPillow)"/>
<path d="M957.0,191.1 Q971.3,188.1 985.5,199.6 L990.0,206.8 Q975.7,196.2 961.4,198.4 Z" fill="url(#gPillow)"/>
<path d="M986.9,199.9 Q986.3,192.5 985.7,199.9 L990.3,207.2 Q990.9,200.7 991.5,207.2 Z" fill="url(#gPillow)"/>
<path d="M675.7,112.5 Q686.6,110.3 697.5,119.1 L699.3,124.6 Q688.3,116.8 677.3,118.1 Z" fill="url(#gPillow)"/>
<path d="M698.8,119.4 Q709.7,117.1 720.7,125.9 L722.6,131.5 Q711.6,123.6 700.6,125.0 Z" fill="url(#gPillow)"/>
<path d="M722.1,126.6 Q733.3,124.3 744.5,133.3 L746.7,139.1 Q735.4,130.9 724.1,132.4 Z" fill="url(#gPillow)"/>
<path d="M745.9,134.0 Q757.5,131.6 769.0,140.9 L771.4,146.8 Q759.8,138.4 748.2,140.0 Z" fill="url(#gPillow)"/>
<path d="M770.5,141.6 Q782.3,139.1 794.2,148.6 L796.8,154.7 Q784.9,146.1 772.9,147.7 Z" fill="url(#gPillow)"/>
<path d="M795.7,149.4 Q807.9,146.8 820.1,156.6 L822.9,162.8 Q810.7,154.0 798.4,155.7 Z" fill="url(#gPillow)"/>
<path d="M821.6,157.4 Q834.1,154.7 846.6,164.7 L849.7,171.1 Q837.1,162.0 824.5,163.8 Z" fill="url(#gPillow)"/>
<path d="M848.2,165.5 Q861.0,162.8 873.9,173.1 L877.3,179.6 Q864.3,170.2 851.4,172.1 Z" fill="url(#gPillow)"/>
<path d="M875.5,173.9 Q888.7,171.0 901.9,181.6 L905.6,188.3 Q892.3,178.7 878.9,180.7 Z" fill="url(#gPillow)"/>
<path d="M903.5,182.4 Q917.1,179.5 930.7,190.4 L934.6,197.3 Q920.9,187.3 907.3,189.4 Z" fill="url(#gPillow)"/>
<path d="M932.3,191.2 Q946.3,188.2 960.2,199.4 L964.5,206.4 Q950.4,196.2 936.4,198.4 Z" fill="url(#gPillow)"/>
<path d="M961.9,200.2 Q976.2,197.1 990.6,208.6 L995.1,215.8 Q980.7,205.3 966.2,207.5 Z" fill="url(#gPillow)"/>
<path d="M992.0,209.0 Q991.4,201.6 990.8,209.0 L995.4,216.3 Q996.0,209.9 996.6,216.3 Z" fill="url(#gPillow)"/>
<path d="M677.5,119.7 Q688.5,117.5 699.5,126.2 L701.3,131.7 Q690.2,123.9 679.1,125.3 Z" fill="url(#gPillow)"/>
<path d="M700.8,126.7 Q711.8,124.3 722.8,133.1 L724.8,138.7 Q713.7,130.8 702.6,132.3 Z" fill="url(#gPillow)"/>
<path d="M724.3,134.1 Q735.6,131.7 746.9,140.7 L749.1,146.4 Q737.7,138.3 726.3,139.9 Z" fill="url(#gPillow)"/>
<path d="M748.4,141.6 Q760.1,139.2 771.7,148.4 L774.1,154.3 Q762.4,146.0 750.7,147.6 Z" fill="url(#gPillow)"/>
<path d="M773.2,149.4 Q785.2,146.9 797.1,156.4 L799.7,162.4 Q787.7,153.9 775.7,155.5 Z" fill="url(#gPillow)"/>
<path d="M798.7,157.4 Q811.0,154.7 823.2,164.5 L826.1,170.7 Q813.8,161.9 801.4,163.7 Z" fill="url(#gPillow)"/>
<path d="M824.9,165.5 Q837.5,162.8 850.1,172.8 L853.2,179.2 Q840.5,170.1 827.8,172.0 Z" fill="url(#gPillow)"/>
<path d="M851.7,173.9 Q864.7,171.1 877.7,181.4 L881.0,187.9 Q868.0,178.6 854.9,180.5 Z" fill="url(#gPillow)"/>
<path d="M879.3,182.4 Q892.7,179.5 906.0,190.1 L909.6,196.8 Q896.2,187.2 882.8,189.2 Z" fill="url(#gPillow)"/>
<path d="M907.7,191.2 Q921.4,188.2 935.1,199.0 L939.0,205.9 Q925.2,196.0 911.5,198.1 Z" fill="url(#gPillow)"/>
<path d="M936.8,200.1 Q950.9,197.1 964.9,208.2 L969.2,215.2 Q955.0,205.1 940.9,207.3 Z" fill="url(#gPillow)"/>
<path d="M966.7,209.3 Q981.2,206.2 995.6,217.6 L1000.1,224.8 Q985.6,214.3 971.1,216.6 Z" fill="url(#gPillow)"/>
<path d="M997.1,218.2 Q996.5,210.8 995.9,218.2 L1000.5,225.5 Q1001.1,219.0 1001.7,225.5 Z" fill="url(#gPillow)"/>
<path d="M679.3,126.9 Q690.4,124.6 701.5,133.3 L703.2,138.9 Q692.1,131.1 680.9,132.4 Z" fill="url(#gPillow)"/>
<path d="M702.8,133.9 Q713.9,131.6 725.0,140.3 L726.9,145.9 Q715.8,138.1 704.6,139.5 Z" fill="url(#gPillow)"/>
<path d="M726.5,141.5 Q737.9,139.1 749.3,148.1 L751.5,153.8 Q740.0,145.7 728.5,147.3 Z" fill="url(#gPillow)"/>
<path d="M750.9,149.3 Q762.6,146.8 774.3,156.0 L776.7,161.9 Q764.9,153.6 753.1,155.2 Z" fill="url(#gPillow)"/>
<path d="M776.0,157.2 Q788.0,154.6 800.0,164.1 L802.6,170.2 Q790.5,161.6 778.4,163.3 Z" fill="url(#gPillow)"/>
<path d="M801.7,165.4 Q814.1,162.7 826.4,172.4 L829.3,178.6 Q816.8,169.9 804.4,171.6 Z" fill="url(#gPillow)"/>
<path d="M828.1,173.7 Q840.8,170.9 853.5,180.9 L856.7,187.3 Q843.9,178.3 831.1,180.1 Z" fill="url(#gPillow)"/>
<path d="M855.3,182.2 Q868.4,179.4 881.4,189.6 L884.8,196.2 Q871.7,186.9 858.5,188.8 Z" fill="url(#gPillow)"/>
<path d="M883.2,190.9 Q896.6,188.0 910.0,198.5 L913.7,205.2 Q900.2,195.7 886.7,197.7 Z" fill="url(#gPillow)"/>
<path d="M911.9,199.9 Q925.7,196.9 939.4,207.7 L943.4,214.5 Q929.5,204.7 915.7,206.8 Z" fill="url(#gPillow)"/>
<path d="M941.3,209.0 Q955.5,205.9 969.6,217.0 L973.9,224.0 Q959.6,213.9 945.4,216.2 Z" fill="url(#gPillow)"/>
<path d="M971.6,218.4 Q986.1,215.2 1000.6,226.6 L1005.2,233.8 Q990.6,223.4 975.9,225.7 Z" fill="url(#gPillow)"/>
<path d="M1002.2,227.3 Q1001.6,219.9 1001.0,227.3 L1005.6,234.6 Q1006.2,228.1 1006.8,234.6 Z" fill="url(#gPillow)"/>
<path d="M681.1,134.1 Q692.2,131.8 703.4,140.5 L705.2,146.0 Q693.9,138.2 682.7,139.6 Z" fill="url(#gPillow)"/>
<path d="M704.8,141.2 Q716.0,138.8 727.1,147.5 L729.1,153.1 Q717.9,145.3 706.6,146.8 Z" fill="url(#gPillow)"/>
<path d="M728.8,148.9 Q740.2,146.5 751.7,155.5 L753.9,161.2 Q742.3,153.1 730.8,154.7 Z" fill="url(#gPillow)"/>
<path d="M753.4,156.9 Q765.2,154.4 777.0,163.6 L779.4,169.5 Q767.5,161.2 755.6,162.8 Z" fill="url(#gPillow)"/>
<path d="M778.7,165.0 Q790.8,162.4 802.9,171.8 L805.6,177.9 Q793.4,169.4 781.2,171.1 Z" fill="url(#gPillow)"/>
<path d="M804.7,173.3 Q817.2,170.6 829.6,180.3 L832.5,186.6 Q819.9,177.8 807.4,179.6 Z" fill="url(#gPillow)"/>
<path d="M831.4,181.9 Q844.2,179.1 857.0,189.0 L860.1,195.4 Q847.3,186.4 834.4,188.3 Z" fill="url(#gPillow)"/>
<path d="M858.9,190.6 Q872.0,187.7 885.2,197.9 L888.5,204.4 Q875.3,195.2 862.1,197.2 Z" fill="url(#gPillow)"/>
<path d="M887.1,199.5 Q900.6,196.5 914.1,207.0 L917.7,213.7 Q904.2,204.2 890.6,206.3 Z" fill="url(#gPillow)"/>
<path d="M916.1,208.6 Q929.9,205.6 943.8,216.3 L947.7,223.2 Q933.8,213.4 919.8,215.6 Z" fill="url(#gPillow)"/>
<path d="M945.8,218.0 Q960.1,214.8 974.3,225.8 L978.6,232.9 Q964.2,222.8 949.9,225.1 Z" fill="url(#gPillow)"/>
<path d="M976.4,227.5 Q991.1,224.3 1005.7,235.6 L1010.2,242.8 Q995.5,232.4 980.8,234.8 Z" fill="url(#gPillow)"/>
<path d="M1007.4,236.4 Q1006.8,229.0 1006.2,236.4 L1010.8,243.7 Q1011.4,237.3 1012.0,243.7 Z" fill="url(#gPillow)"/>
<path d="M682.9,141.2 Q694.1,138.9 705.4,147.6 L707.2,153.1 Q695.8,145.4 684.5,146.8 Z" fill="url(#gPillow)"/>
<path d="M706.8,148.4 Q718.1,146.0 729.3,154.7 L731.3,160.3 Q719.9,152.5 708.6,154.0 Z" fill="url(#gPillow)"/>
<path d="M731.0,156.4 Q742.6,153.9 754.1,162.8 L756.3,168.6 Q744.7,160.6 733.0,162.1 Z" fill="url(#gPillow)"/>
<path d="M755.9,164.5 Q767.8,161.9 779.6,171.1 L782.0,177.0 Q770.1,168.8 758.1,170.4 Z" fill="url(#gPillow)"/>
<path d="M781.4,172.8 Q793.6,170.2 805.8,179.6 L808.5,185.6 Q796.2,177.2 783.9,178.9 Z" fill="url(#gPillow)"/>
<path d="M807.7,181.3 Q820.2,178.6 832.8,188.2 L835.7,194.5 Q823.0,185.7 810.4,187.6 Z" fill="url(#gPillow)"/>
<path d="M834.7,190.0 Q847.6,187.2 860.5,197.1 L863.6,203.5 Q850.6,194.5 837.7,196.5 Z" fill="url(#gPillow)"/>
<path d="M862.5,198.9 Q875.7,196.0 888.9,206.2 L892.3,212.7 Q879.0,203.5 865.7,205.5 Z" fill="url(#gPillow)"/>
<path d="M891.0,208.0 Q904.6,205.0 918.2,215.4 L921.8,222.1 Q908.1,212.7 894.5,214.8 Z" fill="url(#gPillow)"/>
<path d="M920.3,217.3 Q934.2,214.2 948.2,224.9 L952.1,231.8 Q938.1,222.0 924.0,224.3 Z" fill="url(#gPillow)"/>
<path d="M950.4,226.9 Q964.7,223.7 979.0,234.6 L983.3,241.7 Q968.8,231.6 954.4,234.0 Z" fill="url(#gPillow)"/>
<path d="M981.3,236.6 Q996.0,233.3 1010.7,244.6 L1015.3,251.8 Q1000.5,241.4 985.7,243.9 Z" fill="url(#gPillow)"/>
<path d="M1012.5,245.6 Q1011.9,238.2 1011.3,245.6 L1015.9,252.9 Q1016.5,246.4 1017.1,252.9 Z" fill="url(#gPillow)"/>
<path d="M684.7,148.4 Q696.0,146.1 707.4,154.7 L709.1,160.3 Q697.7,152.5 686.3,154.0 Z" fill="url(#gPillow)"/>
<path d="M708.8,155.7 Q720.1,153.2 731.5,161.9 L733.4,167.5 Q722.0,159.7 710.6,161.3 Z" fill="url(#gPillow)"/>
<path d="M733.2,163.8 Q744.9,161.3 756.5,170.2 L758.7,176.0 Q747.0,168.0 735.2,169.6 Z" fill="url(#gPillow)"/>
<path d="M758.3,172.1 Q770.3,169.5 782.3,178.7 L784.7,184.6 Q772.6,176.4 760.6,178.1 Z" fill="url(#gPillow)"/>
<path d="M784.2,180.6 Q796.5,177.9 808.8,187.3 L811.4,193.4 Q799.0,184.9 786.6,186.7 Z" fill="url(#gPillow)"/>
<path d="M810.7,189.3 Q823.3,186.5 836.0,196.2 L838.8,202.4 Q826.1,193.7 813.4,195.6 Z" fill="url(#gPillow)"/>
<path d="M838.0,198.2 Q851.0,195.3 863.9,205.2 L867.1,211.6 Q854.0,202.7 840.9,204.6 Z" fill="url(#gPillow)"/>
<path d="M866.0,207.3 Q879.4,204.3 892.7,214.4 L896.1,221.0 Q882.7,211.8 869.2,213.9 Z" fill="url(#gPillow)"/>
<path d="M894.8,216.6 Q908.5,213.5 922.2,223.9 L925.9,230.6 Q912.1,221.2 898.3,223.3 Z" fill="url(#gPillow)"/>
<path d="M924.5,226.1 Q938.5,222.9 952.6,233.6 L956.5,240.4 Q942.4,230.7 928.2,233.0 Z" fill="url(#gPillow)"/>
<path d="M954.9,235.8 Q969.3,232.5 983.7,243.4 L988.0,250.5 Q973.5,240.5 958.9,242.9 Z" fill="url(#gPillow)"/>
<path d="M986.1,245.7 Q1001.0,242.3 1015.8,253.6 L1020.3,260.7 Q1005.4,250.5 990.5,253.0 Z" fill="url(#gPillow)"/>
<path d="M1017.6,254.7 Q1017.0,247.3 1016.4,254.7 L1021.0,262.0 Q1021.6,255.5 1022.2,262.0 Z" fill="url(#gPillow)"/>
<path d="M686.5,155.6 Q697.9,153.2 709.3,161.9 L711.1,167.4 Q699.6,159.7 688.1,161.2 Z" fill="url(#gPillow)"/>
<path d="M710.8,162.9 Q722.2,160.5 733.6,169.1 L735.6,174.7 Q724.1,167.0 712.6,168.5 Z" fill="url(#gPillow)"/>
<path d="M735.5,171.2 Q747.2,168.7 758.9,177.6 L761.1,183.3 Q749.3,175.4 737.5,177.0 Z" fill="url(#gPillow)"/>
<path d="M760.8,179.7 Q772.9,177.1 784.9,186.2 L787.3,192.1 Q775.2,183.9 763.1,185.7 Z" fill="url(#gPillow)"/>
<path d="M786.9,188.4 Q799.3,185.7 811.7,195.1 L814.3,201.1 Q801.8,192.7 789.4,194.5 Z" fill="url(#gPillow)"/>
<path d="M813.7,197.3 Q826.4,194.5 839.2,204.1 L842.0,210.3 Q829.2,201.6 816.4,203.6 Z" fill="url(#gPillow)"/>
<path d="M841.3,206.4 Q854.3,203.5 867.4,213.3 L870.5,219.7 Q857.4,210.8 844.2,212.8 Z" fill="url(#gPillow)"/>
<path d="M869.6,215.6 Q883.0,212.6 896.4,222.7 L899.8,229.3 Q886.3,220.1 872.8,222.2 Z" fill="url(#gPillow)"/>
<path d="M898.7,225.1 Q912.5,222.0 926.3,232.3 L929.9,239.0 Q916.1,229.7 902.2,231.9 Z" fill="url(#gPillow)"/>
<path d="M928.6,234.8 Q942.8,231.6 956.9,242.2 L960.9,249.1 Q946.6,239.4 932.4,241.7 Z" fill="url(#gPillow)"/>
<path d="M959.4,244.7 Q973.9,241.4 988.4,252.3 L992.7,259.3 Q978.1,249.3 963.5,251.8 Z" fill="url(#gPillow)"/>
<path d="M991.0,254.8 Q1005.9,251.4 1020.8,262.5 L1025.3,269.7 Q1010.4,259.5 995.4,262.1 Z" fill="url(#gPillow)"/>
<path d="M1022.7,263.8 Q1022.1,256.4 1021.5,263.8 L1026.1,271.1 Q1026.7,264.6 1027.3,271.1 Z" fill="url(#gPillow)"/>
<path d="M688.3,162.8 Q699.8,160.4 711.3,169.0 L713.1,174.5 Q701.5,166.8 689.9,168.3 Z" fill="url(#gPillow)"/>
<path d="M712.8,170.1 Q724.3,167.7 735.8,176.3 L737.8,181.9 Q726.2,174.2 714.6,175.8 Z" fill="url(#gPillow)"/>
<path d="M737.7,178.7 Q749.5,176.1 761.3,185.0 L763.5,190.7 Q751.6,182.8 739.7,184.4 Z" fill="url(#gPillow)"/>
<path d="M763.3,187.3 Q775.4,184.7 787.6,193.8 L790.0,199.7 Q777.8,191.5 765.5,193.3 Z" fill="url(#gPillow)"/>
<path d="M789.6,196.2 Q802.1,193.5 814.6,202.8 L817.2,208.9 Q804.7,200.5 792.1,202.3 Z" fill="url(#gPillow)"/>
<path d="M816.7,205.3 Q829.5,202.4 842.3,212.0 L845.2,218.2 Q832.3,209.6 819.4,211.6 Z" fill="url(#gPillow)"/>
<path d="M844.6,214.5 Q857.7,211.6 870.9,221.4 L874.0,227.8 Q860.7,218.9 847.5,221.0 Z" fill="url(#gPillow)"/>
<path d="M873.2,224.0 Q886.7,220.9 900.2,231.0 L903.6,237.5 Q890.0,228.4 876.4,230.6 Z" fill="url(#gPillow)"/>
<path d="M902.6,233.6 Q916.5,230.5 930.3,240.8 L934.0,247.5 Q920.0,238.1 906.1,240.4 Z" fill="url(#gPillow)"/>
<path d="M932.8,243.5 Q947.1,240.3 961.3,250.8 L965.2,257.7 Q950.9,248.1 936.6,250.5 Z" fill="url(#gPillow)"/>
<path d="M963.9,253.6 Q978.5,250.2 993.1,261.1 L997.4,268.1 Q982.7,258.2 968.0,260.7 Z" fill="url(#gPillow)"/>
<path d="M995.8,263.9 Q1010.8,260.4 1025.8,271.5 L1030.4,278.7 Q1015.3,268.6 1000.2,271.2 Z" fill="url(#gPillow)"/>
<path d="M1027.8,273.0 Q1027.2,265.6 1026.6,273.0 L1031.2,280.3 Q1031.8,273.8 1032.4,280.3 Z" fill="url(#gPillow)"/>
<path d="M690.1,170.0 Q701.7,167.6 713.3,176.1 L715.0,181.7 Q703.4,174.0 691.7,175.5 Z" fill="url(#gPillow)"/>
<path d="M714.8,177.4 Q726.4,174.9 738.0,183.5 L739.9,189.1 Q728.3,181.4 716.6,183.0 Z" fill="url(#gPillow)"/>
<path d="M739.9,186.1 Q751.8,183.5 763.7,192.3 L765.9,198.1 Q753.9,190.2 741.9,191.9 Z" fill="url(#gPillow)"/>
<path d="M765.8,194.9 Q778.0,192.3 790.2,201.3 L792.6,207.2 Q780.3,199.1 768.0,200.9 Z" fill="url(#gPillow)"/>
<path d="M792.4,204.0 Q804.9,201.2 817.5,210.5 L820.1,216.6 Q807.5,208.2 794.8,210.1 Z" fill="url(#gPillow)"/>
<path d="M819.7,213.3 Q832.6,210.4 845.5,219.9 L848.4,226.1 Q835.4,217.5 822.4,219.5 Z" fill="url(#gPillow)"/>
<path d="M847.8,222.7 Q861.1,219.7 874.3,229.5 L877.4,235.9 Q864.1,227.0 850.8,229.1 Z" fill="url(#gPillow)"/>
<path d="M876.7,232.3 Q890.3,229.3 903.9,239.3 L907.3,245.8 Q893.6,236.7 880.0,238.9 Z" fill="url(#gPillow)"/>
<path d="M906.5,242.2 Q920.4,239.0 934.4,249.2 L938.0,255.9 Q924.0,246.6 910.0,249.0 Z" fill="url(#gPillow)"/>
<path d="M937.0,252.2 Q951.4,248.9 965.7,259.4 L969.6,266.3 Q955.2,256.7 940.8,259.2 Z" fill="url(#gPillow)"/>
<path d="M968.4,262.5 Q983.1,259.1 997.8,269.9 L1002.1,276.9 Q987.3,267.1 972.5,269.6 Z" fill="url(#gPillow)"/>
<path d="M1000.7,273.0 Q1015.8,269.5 1030.9,280.5 L1035.4,287.7 Q1020.2,277.6 1005.1,280.3 Z" fill="url(#gPillow)"/>
<path d="M1033.0,282.1 Q1032.4,274.7 1031.8,282.1 L1036.4,289.4 Q1037.0,282.9 1037.6,289.4 Z" fill="url(#gPillow)"/>
<path d="M691.9,177.1 Q703.5,174.7 715.2,183.3 L717.0,188.8 Q705.2,181.2 693.5,182.7 Z" fill="url(#gPillow)"/>
<path d="M716.8,184.6 Q728.5,182.1 740.1,190.7 L742.1,196.3 Q730.3,188.6 718.6,190.3 Z" fill="url(#gPillow)"/>
<path d="M742.2,193.5 Q754.2,190.9 766.1,199.7 L768.3,205.5 Q756.2,197.6 744.2,199.3 Z" fill="url(#gPillow)"/>
<path d="M768.3,202.6 Q780.6,199.9 792.9,208.9 L795.3,214.8 Q782.9,206.7 770.5,208.5 Z" fill="url(#gPillow)"/>
<path d="M795.1,211.8 Q807.8,209.0 820.4,218.3 L823.0,224.3 Q810.3,216.0 797.6,217.9 Z" fill="url(#gPillow)"/>
<path d="M822.7,221.2 Q835.7,218.3 848.7,227.8 L851.6,234.0 Q838.5,225.5 825.4,227.5 Z" fill="url(#gPillow)"/>
<path d="M851.1,230.9 Q864.5,227.9 877.8,237.6 L880.9,244.0 Q867.5,235.2 854.1,237.3 Z" fill="url(#gPillow)"/>
<path d="M880.3,240.7 Q894.0,237.6 907.7,247.5 L911.1,254.1 Q897.3,245.1 883.5,247.3 Z" fill="url(#gPillow)"/>
<path d="M910.3,250.7 Q924.4,247.5 938.5,257.7 L942.1,264.4 Q928.0,255.1 913.8,257.5 Z" fill="url(#gPillow)"/>
<path d="M941.2,260.9 Q955.6,257.6 970.1,268.1 L974.0,274.9 Q959.5,265.4 945.0,267.9 Z" fill="url(#gPillow)"/>
<path d="M972.9,271.4 Q987.7,267.9 1002.5,278.7 L1006.8,285.7 Q991.9,275.9 977.0,278.5 Z" fill="url(#gPillow)"/>
<path d="M1005.6,282.1 Q1020.7,278.5 1035.9,289.5 L1040.5,296.7 Q1025.2,286.6 1009.9,289.3 Z" fill="url(#gPillow)"/>
<path d="M1038.1,291.2 Q1037.5,283.8 1036.9,291.2 L1041.5,298.5 Q1042.1,292.0 1042.7,298.5 Z" fill="url(#gPillow)"/>
<path d="M693.7,184.3 Q705.4,181.9 717.2,190.4 L719.0,195.9 Q707.1,188.3 695.3,189.9 Z" fill="url(#gPillow)"/>
<path d="M718.8,191.9 Q730.6,189.4 742.3,197.9 L744.2,203.5 Q732.4,195.9 720.6,197.5 Z" fill="url(#gPillow)"/>
<path d="M744.4,200.9 Q756.5,198.3 768.5,207.1 L770.7,212.8 Q758.6,205.0 746.4,206.7 Z" fill="url(#gPillow)"/>
<path d="M770.7,210.2 Q783.1,207.5 795.5,216.5 L797.9,222.4 Q785.5,214.3 773.0,216.1 Z" fill="url(#gPillow)"/>
<path d="M797.8,219.6 Q810.6,216.8 823.3,226.0 L825.9,232.1 Q813.1,223.8 800.3,225.7 Z" fill="url(#gPillow)"/>
<path d="M825.7,229.2 Q838.8,226.3 851.9,235.7 L854.7,242.0 Q841.6,233.4 828.4,235.5 Z" fill="url(#gPillow)"/>
<path d="M854.4,239.0 Q867.8,236.0 881.3,245.7 L884.4,252.0 Q870.9,243.3 857.4,245.5 Z" fill="url(#gPillow)"/>
<path d="M883.9,249.0 Q897.7,245.9 911.5,255.8 L914.8,262.3 Q901.0,253.4 887.1,255.7 Z" fill="url(#gPillow)"/>
<path d="M914.2,259.2 Q928.4,256.0 942.5,266.1 L946.2,272.9 Q931.9,263.6 917.7,266.0 Z" fill="url(#gPillow)"/>
<path d="M945.4,269.7 Q959.9,266.3 974.4,276.7 L978.4,283.6 Q963.8,274.1 949.2,276.6 Z" fill="url(#gPillow)"/>
<path d="M977.5,280.3 Q992.4,276.8 1007.2,287.5 L1011.5,294.5 Q996.5,284.8 981.5,287.4 Z" fill="url(#gPillow)"/>
<path d="M1010.4,291.2 Q1025.7,287.5 1041.0,298.5 L1045.5,305.7 Q1030.1,295.7 1014.8,298.4 Z" fill="url(#gPillow)"/>
<path d="M1043.2,300.3 Q1042.6,293.0 1042.0,300.3 L1046.6,307.7 Q1047.2,301.2 1047.8,307.7 Z" fill="url(#gPillow)"/>
<path d="M695.5,191.5 Q707.3,189.0 719.2,197.5 L720.9,203.1 Q709.0,195.5 697.1,197.0 Z" fill="url(#gPillow)"/>
<path d="M720.8,199.1 Q732.6,196.6 744.5,205.1 L746.4,210.7 Q734.5,203.1 722.6,204.8 Z" fill="url(#gPillow)"/>
<path d="M746.6,208.4 Q758.8,205.7 770.9,214.5 L773.1,220.2 Q760.9,212.4 748.6,214.2 Z" fill="url(#gPillow)"/>
<path d="M773.2,217.8 Q785.7,215.0 798.2,224.0 L800.6,229.9 Q788.0,221.9 775.5,223.7 Z" fill="url(#gPillow)"/>
<path d="M800.6,227.4 Q813.4,224.5 826.2,233.7 L828.8,239.8 Q815.9,231.5 803.0,233.5 Z" fill="url(#gPillow)"/>
<path d="M828.7,237.2 Q841.9,234.2 855.1,243.6 L857.9,249.9 Q844.7,241.4 831.4,243.5 Z" fill="url(#gPillow)"/>
<path d="M857.7,247.2 Q871.2,244.1 884.7,253.8 L887.8,260.1 Q874.2,251.4 860.6,253.6 Z" fill="url(#gPillow)"/>
<path d="M887.5,257.4 Q901.3,254.2 915.2,264.1 L918.6,270.6 Q904.6,261.7 890.7,264.0 Z" fill="url(#gPillow)"/>
<path d="M918.1,267.8 Q932.3,264.5 946.6,274.6 L950.2,281.3 Q935.9,272.1 921.6,274.6 Z" fill="url(#gPillow)"/>
<path d="M949.6,278.4 Q964.2,275.0 978.8,285.3 L982.8,292.2 Q968.1,282.8 953.4,285.3 Z" fill="url(#gPillow)"/>
<path d="M982.0,289.2 Q997.0,285.7 1012.0,296.3 L1016.2,303.3 Q1001.1,293.6 986.0,296.3 Z" fill="url(#gPillow)"/>
<path d="M1015.3,300.3 Q1030.6,296.6 1046.0,307.5 L1050.5,314.7 Q1035.1,304.7 1019.6,307.5 Z" fill="url(#gPillow)"/>
<path d="M1048.3,309.5 Q1047.7,302.1 1047.1,309.5 L1051.7,316.8 Q1052.3,310.3 1052.9,316.8 Z" fill="url(#gPillow)"/>
<path d="M697.3,198.7 Q709.2,196.2 721.1,204.7 L722.9,210.2 Q710.9,202.6 698.9,204.2 Z" fill="url(#gPillow)"/>
<path d="M722.8,206.4 Q734.7,203.8 746.6,212.3 L748.6,217.9 Q736.6,210.3 724.6,212.0 Z" fill="url(#gPillow)"/>
<path d="M748.9,215.8 Q761.1,213.1 773.3,221.9 L775.5,227.6 Q763.2,219.8 750.9,221.6 Z" fill="url(#gPillow)"/>
<path d="M775.7,225.4 Q788.3,222.6 800.8,231.6 L803.2,237.5 Q790.6,229.4 777.9,231.4 Z" fill="url(#gPillow)"/>
<path d="M803.3,235.2 Q816.2,232.3 829.1,241.5 L831.8,247.5 Q818.8,239.3 805.8,241.3 Z" fill="url(#gPillow)"/>
<path d="M831.7,245.2 Q845.0,242.2 858.2,251.6 L861.1,257.8 Q847.8,249.3 834.4,251.5 Z" fill="url(#gPillow)"/>
<path d="M861.0,255.4 Q874.6,252.2 888.2,261.8 L891.3,268.2 Q877.6,259.6 863.9,261.8 Z" fill="url(#gPillow)"/>
<path d="M891.0,265.7 Q905.0,262.5 919.0,272.3 L922.4,278.9 Q908.3,270.0 894.3,272.4 Z" fill="url(#gPillow)"/>
<path d="M922.0,276.3 Q936.3,273.0 950.6,283.0 L954.3,289.8 Q939.9,280.6 925.5,283.1 Z" fill="url(#gPillow)"/>
<path d="M953.8,287.1 Q968.5,283.6 983.2,294.0 L987.1,300.8 Q972.3,291.4 957.6,294.1 Z" fill="url(#gPillow)"/>
<path d="M986.5,298.1 Q1001.6,294.5 1016.7,305.1 L1020.9,312.1 Q1005.7,302.5 990.6,305.2 Z" fill="url(#gPillow)"/>
<path d="M1020.1,309.3 Q1035.6,305.6 1051.1,316.5 L1055.6,323.7 Q1040.0,313.8 1024.5,316.6 Z" fill="url(#gPillow)"/>
<path d="M1053.4,318.6 Q1052.8,311.2 1052.2,318.6 L1056.9,325.9 Q1057.5,319.4 1058.1,325.9 Z" fill="url(#gPillow)"/>
<path d="M699.1,205.8 Q711.1,203.3 723.1,211.8 L724.9,217.3 Q712.8,209.8 700.7,211.4 Z" fill="url(#gPillow)"/>
<path d="M724.8,213.6 Q736.8,211.0 748.8,219.5 L750.7,225.1 Q738.7,217.5 726.6,219.3 Z" fill="url(#gPillow)"/>
<path d="M751.1,223.2 Q763.4,220.5 775.7,229.2 L777.9,235.0 Q765.5,227.2 753.1,229.0 Z" fill="url(#gPillow)"/>
<path d="M778.2,233.0 Q790.8,230.2 803.5,239.1 L805.9,245.0 Q793.1,237.0 780.4,239.0 Z" fill="url(#gPillow)"/>
<path d="M806.1,243.0 Q819.0,240.1 832.0,249.2 L834.7,255.3 Q821.6,247.1 808.5,249.1 Z" fill="url(#gPillow)"/>
<path d="M834.7,253.2 Q848.1,250.1 861.4,259.5 L864.3,265.7 Q850.9,257.3 837.4,259.5 Z" fill="url(#gPillow)"/>
<path d="M864.3,263.5 Q877.9,260.4 891.6,269.9 L894.8,276.3 Q881.0,267.7 867.2,270.0 Z" fill="url(#gPillow)"/>
<path d="M894.6,274.1 Q908.7,270.8 922.7,280.6 L926.1,287.2 Q912.0,278.3 897.8,280.7 Z" fill="url(#gPillow)"/>
<path d="M925.9,284.9 Q940.3,281.5 954.7,291.5 L958.4,298.2 Q943.8,289.1 929.3,291.6 Z" fill="url(#gPillow)"/>
<path d="M958.0,295.8 Q972.8,292.3 987.6,302.6 L991.5,309.5 Q976.6,300.1 961.8,302.8 Z" fill="url(#gPillow)"/>
<path d="M991.0,307.0 Q1006.2,303.4 1021.4,313.9 L1025.6,320.9 Q1010.3,311.4 995.1,314.1 Z" fill="url(#gPillow)"/>
<path d="M1025.0,318.4 Q1040.5,314.7 1056.1,325.5 L1060.6,332.7 Q1045.0,322.8 1029.3,325.7 Z" fill="url(#gPillow)"/>
<path d="M700.9,213.0 Q713.0,210.5 725.1,218.9 L726.8,224.5 Q714.7,216.9 702.5,218.6 Z" fill="url(#gPillow)"/>
<path d="M726.8,220.9 Q738.9,218.3 751.0,226.7 L752.9,232.3 Q740.8,224.8 728.6,226.5 Z" fill="url(#gPillow)"/>
<path d="M753.3,230.7 Q765.7,227.9 778.2,236.6 L780.3,242.4 Q767.8,234.6 755.3,236.5 Z" fill="url(#gPillow)"/>
<path d="M780.7,240.6 Q793.4,237.8 806.1,246.7 L808.5,252.6 Q795.7,244.6 782.9,246.6 Z" fill="url(#gPillow)"/>
<path d="M808.8,250.8 Q821.9,247.8 835.0,256.9 L837.6,263.0 Q824.4,254.8 811.3,256.9 Z" fill="url(#gPillow)"/>
<path d="M837.7,261.1 Q851.2,258.1 864.6,267.4 L867.5,273.6 Q854.0,265.2 840.4,267.4 Z" fill="url(#gPillow)"/>
<path d="M867.5,271.7 Q881.3,268.5 895.1,278.0 L898.2,284.4 Q884.4,275.8 870.5,278.1 Z" fill="url(#gPillow)"/>
<path d="M898.2,282.4 Q912.3,279.1 926.5,288.9 L929.9,295.4 Q915.6,286.6 901.4,289.1 Z" fill="url(#gPillow)"/>
<path d="M929.7,293.4 Q944.2,290.0 958.8,300.0 L962.4,306.7 Q947.8,297.6 933.2,300.2 Z" fill="url(#gPillow)"/>
<path d="M962.2,304.6 Q977.1,301.0 991.9,311.2 L995.9,318.1 Q980.9,308.8 965.9,311.5 Z" fill="url(#gPillow)"/>
<path d="M995.5,315.9 Q1010.8,312.2 1026.1,322.7 L1030.3,329.8 Q1014.9,320.2 999.6,323.0 Z" fill="url(#gPillow)"/>
<path d="M702.7,220.2 Q714.9,217.6 727.0,226.1 L728.8,231.6 Q716.5,224.1 704.3,225.8 Z" fill="url(#gPillow)"/>
<path d="M728.8,228.1 Q741.0,225.5 753.1,233.9 L755.1,239.5 Q742.8,232.0 730.6,233.8 Z" fill="url(#gPillow)"/>
<path d="M755.6,238.1 Q768.1,235.3 780.6,244.0 L782.7,249.7 Q770.1,242.0 757.6,243.9 Z" fill="url(#gPillow)"/>
<path d="M783.1,248.3 Q796.0,245.4 808.8,254.2 L811.2,260.1 Q798.3,252.2 785.4,254.2 Z" fill="url(#gPillow)"/>
<path d="M811.5,258.6 Q824.7,255.6 837.9,264.7 L840.5,270.7 Q827.2,262.6 814.0,264.7 Z" fill="url(#gPillow)"/>
<path d="M840.7,269.1 Q854.3,266.0 867.8,275.3 L870.6,281.5 Q857.0,273.2 843.4,275.4 Z" fill="url(#gPillow)"/>
<path d="M870.8,279.9 Q884.7,276.6 898.6,286.1 L901.7,292.5 Q887.7,284.0 873.8,286.3 Z" fill="url(#gPillow)"/>
<path d="M901.8,290.8 Q916.0,287.4 930.2,297.2 L933.6,303.7 Q919.3,294.9 905.0,297.4 Z" fill="url(#gPillow)"/>
<path d="M933.6,301.9 Q948.2,298.5 962.8,308.4 L966.5,315.1 Q951.8,306.1 937.1,308.7 Z" fill="url(#gPillow)"/>
<path d="M966.4,313.3 Q981.3,309.7 996.3,319.9 L1000.3,326.7 Q985.2,317.5 970.1,320.2 Z" fill="url(#gPillow)"/>
<path d="M704.5,227.4 Q716.7,224.8 729.0,233.2 L730.8,238.7 Q718.4,231.2 706.1,232.9 Z" fill="url(#gPillow)"/>
<path d="M730.8,235.4 Q743.0,232.7 755.3,241.1 L757.2,246.7 Q744.9,239.2 732.6,241.0 Z" fill="url(#gPillow)"/>
<path d="M757.8,245.5 Q770.4,242.7 783.0,251.4 L785.1,257.1 Q772.5,249.4 759.8,251.3 Z" fill="url(#gPillow)"/>
<path d="M785.6,255.9 Q798.5,253.0 811.4,261.8 L813.8,267.7 Q800.8,259.8 787.9,261.8 Z" fill="url(#gPillow)"/>
<path d="M814.3,266.4 Q827.5,263.4 840.8,272.4 L843.4,278.5 Q830.1,270.4 816.7,272.5 Z" fill="url(#gPillow)"/>
<path d="M843.8,277.1 Q857.4,274.0 871.0,283.2 L873.8,289.4 Q860.1,281.1 846.5,283.4 Z" fill="url(#gPillow)"/>
<path d="M874.1,288.0 Q888.1,284.8 902.0,294.2 L905.2,300.6 Q891.1,292.1 877.1,294.5 Z" fill="url(#gPillow)"/>
<path d="M905.3,299.1 Q919.7,295.8 934.0,305.4 L937.4,312.0 Q923.0,303.2 908.6,305.8 Z" fill="url(#gPillow)"/>
<path d="M937.5,310.5 Q952.2,306.9 966.9,316.9 L970.5,323.6 Q955.8,314.6 941.0,317.3 Z" fill="url(#gPillow)"/>
<path d="M706.3,234.6 Q718.6,232.0 731.0,240.3 L732.7,245.9 Q720.3,238.4 707.9,240.1 Z" fill="url(#gPillow)"/>
<path d="M732.8,242.6 Q745.1,239.9 757.5,248.3 L759.4,253.9 Q747.0,246.4 734.6,248.2 Z" fill="url(#gPillow)"/>
<path d="M760.0,253.0 Q772.7,250.1 785.4,258.8 L787.5,264.5 Q774.8,256.8 762.1,258.7 Z" fill="url(#gPillow)"/>
<path d="M788.1,263.5 Q801.1,260.6 814.1,269.3 L816.5,275.3 Q803.4,267.4 790.3,269.4 Z" fill="url(#gPillow)"/>
<path d="M817.0,274.2 Q830.3,271.1 843.7,280.1 L846.3,286.2 Q832.9,278.1 819.5,280.3 Z" fill="url(#gPillow)"/>
<path d="M846.8,285.1 Q860.5,281.9 874.1,291.1 L877.0,297.3 Q863.2,289.1 849.5,291.4 Z" fill="url(#gPillow)"/>
<path d="M877.4,296.2 Q891.4,292.9 905.5,302.3 L908.6,308.7 Q894.5,300.2 880.3,302.6 Z" fill="url(#gPillow)"/>
<path d="M908.9,307.5 Q923.3,304.1 937.8,313.7 L941.1,320.2 Q926.6,311.5 912.1,314.1 Z" fill="url(#gPillow)"/>
<path d="M941.4,319.0 Q956.2,315.4 970.9,325.3 L974.6,332.0 Q959.7,323.1 944.9,325.8 Z" fill="url(#gPillow)"/>
<path d="M708.1,241.7 Q720.5,239.1 732.9,247.5 L734.7,253.0 Q722.2,245.6 709.7,247.3 Z" fill="url(#gPillow)"/>
<path d="M734.8,249.9 Q747.2,247.1 759.6,255.5 L761.6,261.1 Q749.1,253.6 736.6,255.5 Z" fill="url(#gPillow)"/>
<path d="M762.3,260.4 Q775.0,257.5 787.8,266.1 L789.9,271.9 Q777.1,264.2 764.3,266.2 Z" fill="url(#gPillow)"/>
<path d="M790.6,271.1 Q803.7,268.1 816.7,276.9 L819.1,282.8 Q806.0,275.0 792.8,277.0 Z" fill="url(#gPillow)"/>
<path d="M819.7,282.0 Q833.2,278.9 846.6,287.9 L849.2,293.9 Q835.7,285.9 822.2,288.1 Z" fill="url(#gPillow)"/>
<path d="M849.8,293.1 Q863.5,289.9 877.3,299.0 L880.2,305.3 Q866.3,297.0 852.5,299.4 Z" fill="url(#gPillow)"/>
<path d="M880.7,304.4 Q894.8,301.0 909.0,310.4 L912.1,316.8 Q897.9,308.3 883.6,310.8 Z" fill="url(#gPillow)"/>
<path d="M912.5,315.9 Q927.0,312.4 941.5,322.0 L944.9,328.5 Q930.3,319.9 915.7,322.5 Z" fill="url(#gPillow)"/>
<path d="M709.9,248.9 Q722.4,246.3 734.9,254.6 L736.7,260.1 Q724.1,252.7 711.5,254.5 Z" fill="url(#gPillow)"/>
<path d="M736.8,257.1 Q749.3,254.4 761.8,262.7 L763.7,268.3 Q751.2,260.9 738.6,262.7 Z" fill="url(#gPillow)"/>
<path d="M764.5,267.8 Q777.3,265.0 790.2,273.5 L792.3,279.2 Q779.4,271.6 766.5,273.6 Z" fill="url(#gPillow)"/>
<path d="M793.1,278.7 Q806.2,275.7 819.4,284.5 L821.8,290.4 Q808.5,282.5 795.3,284.7 Z" fill="url(#gPillow)"/>
<path d="M822.5,289.8 Q836.0,286.7 849.5,295.6 L852.1,301.7 Q838.5,293.7 824.9,295.9 Z" fill="url(#gPillow)"/>
<path d="M852.8,301.1 Q866.6,297.8 880.5,307.0 L883.4,313.2 Q869.4,305.0 855.5,307.3 Z" fill="url(#gPillow)"/>
<path d="M884.0,312.5 Q898.2,309.2 912.4,318.5 L915.5,324.9 Q901.2,316.5 886.9,319.0 Z" fill="url(#gPillow)"/>
<path d="M711.7,256.1 Q724.3,253.4 736.9,261.7 L738.7,267.3 Q726.0,259.9 713.3,261.6 Z" fill="url(#gPillow)"/>
<path d="M738.8,264.4 Q751.4,261.6 763.9,269.9 L765.9,275.5 Q753.2,268.1 740.6,270.0 Z" fill="url(#gPillow)"/>
<path d="M766.7,275.3 Q779.7,272.4 792.6,280.9 L794.7,286.6 Q781.7,279.0 768.8,281.0 Z" fill="url(#gPillow)"/>
<path d="M795.5,286.3 Q808.8,283.3 822.1,292.0 L824.4,297.9 Q811.1,290.1 797.8,292.3 Z" fill="url(#gPillow)"/>
<path d="M825.2,297.6 Q838.8,294.4 852.4,303.3 L855.0,309.4 Q841.4,301.4 827.7,303.7 Z" fill="url(#gPillow)"/>
<path d="M855.8,309.0 Q869.7,305.8 883.7,314.9 L886.6,321.1 Q872.5,312.9 858.5,315.3 Z" fill="url(#gPillow)"/>
<path d="M887.2,320.7 Q901.6,317.3 915.9,326.6 L919.0,333.0 Q904.6,324.6 890.2,327.2 Z" fill="url(#gPillow)"/>
<path d="M713.5,263.3 Q726.2,260.6 738.8,268.9 L740.6,274.4 Q727.9,267.0 715.1,268.8 Z" fill="url(#gPillow)"/>
<path d="M740.8,271.6 Q753.5,268.8 766.1,277.1 L768.1,282.7 Q755.3,275.3 742.6,277.2 Z" fill="url(#gPillow)"/>
<path d="M769.0,282.7 Q782.0,279.8 795.0,288.3 L797.1,294.0 Q784.1,286.4 771.0,288.5 Z" fill="url(#gPillow)"/>
<path d="M798.0,293.9 Q811.4,290.9 824.7,299.6 L827.1,305.5 Q813.7,297.7 800.2,299.9 Z" fill="url(#gPillow)"/>
<path d="M827.9,305.4 Q841.6,302.2 855.3,311.1 L858.0,317.1 Q844.2,309.2 830.4,311.5 Z" fill="url(#gPillow)"/>
<path d="M858.8,317.0 Q872.8,313.7 886.9,322.8 L889.7,329.0 Q875.6,320.9 861.5,323.3 Z" fill="url(#gPillow)"/>
<path d="M715.3,270.4 Q728.0,267.7 740.8,276.0 L742.6,281.5 Q729.7,274.2 716.9,276.0 Z" fill="url(#gPillow)"/>
<path d="M742.8,278.9 Q755.5,276.0 768.3,284.3 L770.2,289.9 Q757.4,282.5 744.6,284.5 Z" fill="url(#gPillow)"/>
<path d="M771.2,290.1 Q784.3,287.2 797.4,295.6 L799.5,301.4 Q786.4,293.8 773.2,295.9 Z" fill="url(#gPillow)"/>
<path d="M800.5,301.6 Q813.9,298.5 827.4,307.1 L829.7,313.0 Q816.2,305.3 802.7,307.5 Z" fill="url(#gPillow)"/>
<path d="M830.7,313.2 Q844.5,310.0 858.2,318.8 L860.9,324.9 Q847.0,317.0 833.1,319.3 Z" fill="url(#gPillow)"/>
<path d="M717.1,277.6 Q729.9,274.9 742.8,283.1 L744.6,288.7 Q731.6,281.3 718.7,283.2 Z" fill="url(#gPillow)"/>
<path d="M744.8,286.1 Q757.6,283.3 770.4,291.5 L772.4,297.1 Q759.5,289.8 746.6,291.7 Z" fill="url(#gPillow)"/>
<path d="M773.4,297.5 Q786.6,294.6 799.8,303.0 L801.9,308.8 Q788.7,301.2 775.5,303.3 Z" fill="url(#gPillow)"/>
<path d="M803.0,309.2 Q816.5,306.1 830.0,314.7 L832.4,320.6 Q818.8,312.9 805.2,315.1 Z" fill="url(#gPillow)"/>
<path d="M718.9,284.8 Q731.8,282.0 744.8,290.3 L746.5,295.8 Q733.5,288.5 720.5,290.4 Z" fill="url(#gPillow)"/>
<path d="M746.8,293.4 Q759.7,290.5 772.6,298.7 L774.6,304.3 Q761.6,297.0 748.6,299.0 Z" fill="url(#gPillow)"/>
<path d="M775.7,305.0 Q788.9,302.0 802.2,310.4 L804.3,316.1 Q791.0,308.6 777.7,310.8 Z" fill="url(#gPillow)"/>
<path d="M805.5,316.8 Q819.1,313.6 832.7,322.2 L835.0,328.1 Q821.4,320.5 807.7,322.7 Z" fill="url(#gPillow)"/>
<path d="M720.7,292.0 Q733.7,289.2 746.7,297.4 L748.5,302.9 Q735.4,295.6 722.3,297.5 Z" fill="url(#gPillow)"/>
<path d="M748.8,300.6 Q761.8,297.7 774.8,305.9 L776.7,311.5 Q763.7,304.2 750.6,306.2 Z" fill="url(#gPillow)"/>
<path d="M777.9,312.4 Q791.2,309.4 804.6,317.8 L806.7,323.5 Q793.3,316.0 779.9,318.2 Z" fill="url(#gPillow)"/>
<path d="M722.5,299.2 Q735.6,296.4 748.7,304.5 L750.5,310.1 Q737.3,302.8 724.1,304.7 Z" fill="url(#gPillow)"/>
<path d="M750.8,307.9 Q763.9,304.9 776.9,313.1 L778.9,318.7 Q765.7,311.4 752.6,313.5 Z" fill="url(#gPillow)"/>
<path d="M780.1,319.8 Q793.6,316.8 807.0,325.2 L809.1,330.9 Q795.6,323.4 782.2,325.6 Z" fill="url(#gPillow)"/>
<path d="M724.3,306.3 Q737.5,303.5 750.7,311.7 L752.4,317.2 Q739.2,310.0 725.9,311.9 Z" fill="url(#gPillow)"/>
<path d="M752.8,315.1 Q766.0,312.2 779.1,320.3 L781.0,325.9 Q767.8,318.7 754.6,320.7 Z" fill="url(#gPillow)"/>
<path d="M726.1,313.5 Q739.3,310.7 752.6,318.8 L754.4,324.3 Q741.0,317.1 727.7,319.1 Z" fill="url(#gPillow)"/>
<path d="M727.9,320.7 Q741.2,317.8 754.6,325.9 L756.4,331.5 Q742.9,324.3 729.5,326.2 Z" fill="url(#gPillow)"/>
<line x1="670.1" y1="91.7" x2="671.2" y2="96.2" stroke="#a2a2a6" stroke-width="1.0" stroke-dasharray="1.5 1.3"/>
<line x1="692.7" y1="98.4" x2="693.9" y2="103.0" stroke="#a2a2a6" stroke-width="1.0" stroke-dasharray="1.5 1.3"/>
<line x1="715.3" y1="105.1" x2="716.7" y2="109.8" stroke="#a2a2a6" stroke-width="1.0" stroke-dasharray="1.5 1.3"/>
<line x1="738.5" y1="112.0" x2="740.0" y2="116.8" stroke="#a2a2a6" stroke-width="1.0" stroke-dasharray="1.5 1.3"/>
<line x1="762.3" y1="119.1" x2="764.0" y2="124.0" stroke="#a2a2a6" stroke-width="1.0" stroke-dasharray="1.5 1.3"/>
<line x1="786.7" y1="126.3" x2="788.6" y2="131.4" stroke="#a2a2a6" stroke-width="1.0" stroke-dasharray="1.5 1.3"/>
<line x1="811.9" y1="133.8" x2="813.9" y2="138.9" stroke="#a2a2a6" stroke-width="1.0" stroke-dasharray="1.5 1.3"/>
<line x1="837.6" y1="141.4" x2="839.9" y2="146.7" stroke="#a2a2a6" stroke-width="1.0" stroke-dasharray="1.5 1.3"/>
<line x1="864.1" y1="149.3" x2="866.5" y2="154.7" stroke="#a2a2a6" stroke-width="1.0" stroke-dasharray="1.5 1.3"/>
<line x1="891.3" y1="157.3" x2="893.9" y2="162.8" stroke="#a2a2a6" stroke-width="1.0" stroke-dasharray="1.5 1.3"/>
<line x1="919.2" y1="165.6" x2="922.0" y2="171.2" stroke="#a2a2a6" stroke-width="1.0" stroke-dasharray="1.5 1.3"/>
<line x1="947.8" y1="174.1" x2="950.9" y2="179.8" stroke="#a2a2a6" stroke-width="1.0" stroke-dasharray="1.5 1.3"/>
<line x1="977.2" y1="182.8" x2="980.4" y2="188.5" stroke="#a2a2a6" stroke-width="1.0" stroke-dasharray="1.5 1.3"/>
<line x1="671.9" y1="98.9" x2="673.0" y2="103.4" stroke="#a2a2a6" stroke-width="1.0" stroke-dasharray="1.5 1.3"/>
<line x1="694.7" y1="105.6" x2="695.9" y2="110.2" stroke="#a2a2a6" stroke-width="1.0" stroke-dasharray="1.5 1.3"/>
<line x1="717.5" y1="112.5" x2="718.9" y2="117.2" stroke="#a2a2a6" stroke-width="1.0" stroke-dasharray="1.5 1.3"/>
<line x1="740.9" y1="119.6" x2="742.5" y2="124.4" stroke="#a2a2a6" stroke-width="1.0" stroke-dasharray="1.5 1.3"/>
<line x1="765.0" y1="126.9" x2="766.8" y2="131.8" stroke="#a2a2a6" stroke-width="1.0" stroke-dasharray="1.5 1.3"/>
<line x1="789.8" y1="134.3" x2="791.6" y2="139.3" stroke="#a2a2a6" stroke-width="1.0" stroke-dasharray="1.5 1.3"/>
<line x1="815.1" y1="142.0" x2="817.2" y2="147.1" stroke="#a2a2a6" stroke-width="1.0" stroke-dasharray="1.5 1.3"/>
<line x1="841.2" y1="149.8" x2="843.5" y2="155.0" stroke="#a2a2a6" stroke-width="1.0" stroke-dasharray="1.5 1.3"/>
<line x1="868.0" y1="157.8" x2="870.4" y2="163.2" stroke="#a2a2a6" stroke-width="1.0" stroke-dasharray="1.5 1.3"/>
<line x1="895.5" y1="166.1" x2="898.1" y2="171.6" stroke="#a2a2a6" stroke-width="1.0" stroke-dasharray="1.5 1.3"/>
<line x1="923.7" y1="174.5" x2="926.5" y2="180.1" stroke="#a2a2a6" stroke-width="1.0" stroke-dasharray="1.5 1.3"/>
<line x1="952.7" y1="183.2" x2="955.7" y2="188.9" stroke="#a2a2a6" stroke-width="1.0" stroke-dasharray="1.5 1.3"/>
<line x1="982.3" y1="191.9" x2="985.5" y2="197.7" stroke="#a2a2a6" stroke-width="1.0" stroke-dasharray="1.5 1.3"/>
<line x1="673.7" y1="106.1" x2="674.8" y2="110.6" stroke="#a2a2a6" stroke-width="1.0" stroke-dasharray="1.5 1.3"/>
<line x1="696.7" y1="112.9" x2="697.9" y2="117.5" stroke="#a2a2a6" stroke-width="1.0" stroke-dasharray="1.5 1.3"/>
<line x1="719.7" y1="120.0" x2="721.1" y2="124.7" stroke="#a2a2a6" stroke-width="1.0" stroke-dasharray="1.5 1.3"/>
<line x1="743.4" y1="127.2" x2="745.0" y2="132.0" stroke="#a2a2a6" stroke-width="1.0" stroke-dasharray="1.5 1.3"/>
<line x1="767.8" y1="134.7" x2="769.5" y2="139.6" stroke="#a2a2a6" stroke-width="1.0" stroke-dasharray="1.5 1.3"/>
<line x1="792.8" y1="142.3" x2="794.7" y2="147.3" stroke="#a2a2a6" stroke-width="1.0" stroke-dasharray="1.5 1.3"/>
<line x1="818.4" y1="150.1" x2="820.5" y2="155.3" stroke="#a2a2a6" stroke-width="1.0" stroke-dasharray="1.5 1.3"/>
<line x1="844.8" y1="158.1" x2="847.0" y2="163.4" stroke="#a2a2a6" stroke-width="1.0" stroke-dasharray="1.5 1.3"/>
<line x1="871.9" y1="166.4" x2="874.3" y2="171.7" stroke="#a2a2a6" stroke-width="1.0" stroke-dasharray="1.5 1.3"/>
<line x1="899.7" y1="174.8" x2="902.3" y2="180.3" stroke="#a2a2a6" stroke-width="1.0" stroke-dasharray="1.5 1.3"/>
<line x1="928.2" y1="183.4" x2="931.0" y2="189.0" stroke="#a2a2a6" stroke-width="1.0" stroke-dasharray="1.5 1.3"/>
<line x1="957.5" y1="192.3" x2="960.6" y2="198.0" stroke="#a2a2a6" stroke-width="1.0" stroke-dasharray="1.5 1.3"/>
<line x1="987.4" y1="201.1" x2="990.6" y2="206.8" stroke="#a2a2a6" stroke-width="1.0" stroke-dasharray="1.5 1.3"/>
<line x1="675.5" y1="113.2" x2="676.6" y2="117.8" stroke="#a2a2a6" stroke-width="1.0" stroke-dasharray="1.5 1.3"/>
<line x1="698.7" y1="120.1" x2="699.9" y2="124.7" stroke="#a2a2a6" stroke-width="1.0" stroke-dasharray="1.5 1.3"/>
<line x1="722.0" y1="127.4" x2="723.4" y2="132.1" stroke="#a2a2a6" stroke-width="1.0" stroke-dasharray="1.5 1.3"/>
<line x1="745.9" y1="134.8" x2="747.5" y2="139.6" stroke="#a2a2a6" stroke-width="1.0" stroke-dasharray="1.5 1.3"/>
<line x1="770.5" y1="142.5" x2="772.2" y2="147.4" stroke="#a2a2a6" stroke-width="1.0" stroke-dasharray="1.5 1.3"/>
<line x1="795.8" y1="150.3" x2="797.7" y2="155.3" stroke="#a2a2a6" stroke-width="1.0" stroke-dasharray="1.5 1.3"/>
<line x1="821.7" y1="158.3" x2="823.8" y2="163.4" stroke="#a2a2a6" stroke-width="1.0" stroke-dasharray="1.5 1.3"/>
<line x1="848.4" y1="166.5" x2="850.6" y2="171.8" stroke="#a2a2a6" stroke-width="1.0" stroke-dasharray="1.5 1.3"/>
<line x1="875.7" y1="174.9" x2="878.2" y2="180.3" stroke="#a2a2a6" stroke-width="1.0" stroke-dasharray="1.5 1.3"/>
<line x1="903.8" y1="183.5" x2="906.5" y2="189.0" stroke="#a2a2a6" stroke-width="1.0" stroke-dasharray="1.5 1.3"/>
<line x1="932.7" y1="192.3" x2="935.6" y2="197.9" stroke="#a2a2a6" stroke-width="1.0" stroke-dasharray="1.5 1.3"/>
<line x1="962.4" y1="201.4" x2="965.4" y2="207.1" stroke="#a2a2a6" stroke-width="1.0" stroke-dasharray="1.5 1.3"/>
<line x1="992.5" y1="210.2" x2="995.8" y2="215.9" stroke="#a2a2a6" stroke-width="1.0" stroke-dasharray="1.5 1.3"/>
<line x1="677.3" y1="120.4" x2="678.4" y2="124.9" stroke="#a2a2a6" stroke-width="1.0" stroke-dasharray="1.5 1.3"/>
<line x1="700.7" y1="127.4" x2="701.9" y2="132.0" stroke="#a2a2a6" stroke-width="1.0" stroke-dasharray="1.5 1.3"/>
<line x1="724.2" y1="134.8" x2="725.6" y2="139.5" stroke="#a2a2a6" stroke-width="1.0" stroke-dasharray="1.5 1.3"/>
<line x1="748.4" y1="142.5" x2="749.9" y2="147.3" stroke="#a2a2a6" stroke-width="1.0" stroke-dasharray="1.5 1.3"/>
<line x1="773.2" y1="150.3" x2="775.0" y2="155.2" stroke="#a2a2a6" stroke-width="1.0" stroke-dasharray="1.5 1.3"/>
<line x1="798.8" y1="158.3" x2="800.7" y2="163.3" stroke="#a2a2a6" stroke-width="1.0" stroke-dasharray="1.5 1.3"/>
<line x1="825.0" y1="166.5" x2="827.1" y2="171.6" stroke="#a2a2a6" stroke-width="1.0" stroke-dasharray="1.5 1.3"/>
<line x1="851.9" y1="174.8" x2="854.2" y2="180.1" stroke="#a2a2a6" stroke-width="1.0" stroke-dasharray="1.5 1.3"/>
<line x1="879.6" y1="183.4" x2="882.1" y2="188.8" stroke="#a2a2a6" stroke-width="1.0" stroke-dasharray="1.5 1.3"/>
<line x1="908.0" y1="192.2" x2="910.7" y2="197.7" stroke="#a2a2a6" stroke-width="1.0" stroke-dasharray="1.5 1.3"/>
<line x1="937.2" y1="201.2" x2="940.1" y2="206.9" stroke="#a2a2a6" stroke-width="1.0" stroke-dasharray="1.5 1.3"/>
<line x1="967.2" y1="210.5" x2="970.3" y2="216.2" stroke="#a2a2a6" stroke-width="1.0" stroke-dasharray="1.5 1.3"/>
<line x1="997.7" y1="219.3" x2="1000.9" y2="225.1" stroke="#a2a2a6" stroke-width="1.0" stroke-dasharray="1.5 1.3"/>
<line x1="679.1" y1="127.6" x2="680.2" y2="132.1" stroke="#a2a2a6" stroke-width="1.0" stroke-dasharray="1.5 1.3"/>
<line x1="702.7" y1="134.6" x2="703.9" y2="139.2" stroke="#a2a2a6" stroke-width="1.0" stroke-dasharray="1.5 1.3"/>
<line x1="726.4" y1="142.3" x2="727.8" y2="146.9" stroke="#a2a2a6" stroke-width="1.0" stroke-dasharray="1.5 1.3"/>
<line x1="750.9" y1="150.1" x2="752.4" y2="154.9" stroke="#a2a2a6" stroke-width="1.0" stroke-dasharray="1.5 1.3"/>
<line x1="776.0" y1="158.1" x2="777.7" y2="163.0" stroke="#a2a2a6" stroke-width="1.0" stroke-dasharray="1.5 1.3"/>
<line x1="801.8" y1="166.2" x2="803.7" y2="171.3" stroke="#a2a2a6" stroke-width="1.0" stroke-dasharray="1.5 1.3"/>
<line x1="828.3" y1="174.6" x2="830.3" y2="179.8" stroke="#a2a2a6" stroke-width="1.0" stroke-dasharray="1.5 1.3"/>
<line x1="855.5" y1="183.2" x2="857.8" y2="188.5" stroke="#a2a2a6" stroke-width="1.0" stroke-dasharray="1.5 1.3"/>
<line x1="883.5" y1="192.0" x2="885.9" y2="197.3" stroke="#a2a2a6" stroke-width="1.0" stroke-dasharray="1.5 1.3"/>
<line x1="912.2" y1="201.0" x2="914.9" y2="206.4" stroke="#a2a2a6" stroke-width="1.0" stroke-dasharray="1.5 1.3"/>
<line x1="941.7" y1="210.2" x2="944.6" y2="215.8" stroke="#a2a2a6" stroke-width="1.0" stroke-dasharray="1.5 1.3"/>
<line x1="972.1" y1="219.6" x2="975.1" y2="225.3" stroke="#a2a2a6" stroke-width="1.0" stroke-dasharray="1.5 1.3"/>
<line x1="1002.8" y1="228.4" x2="1006.0" y2="234.2" stroke="#a2a2a6" stroke-width="1.0" stroke-dasharray="1.5 1.3"/>
<line x1="680.9" y1="134.8" x2="682.0" y2="139.3" stroke="#a2a2a6" stroke-width="1.0" stroke-dasharray="1.5 1.3"/>
<line x1="704.7" y1="141.9" x2="705.9" y2="146.5" stroke="#a2a2a6" stroke-width="1.0" stroke-dasharray="1.5 1.3"/>
<line x1="728.7" y1="149.7" x2="730.1" y2="154.4" stroke="#a2a2a6" stroke-width="1.0" stroke-dasharray="1.5 1.3"/>
<line x1="753.3" y1="157.7" x2="754.9" y2="162.5" stroke="#a2a2a6" stroke-width="1.0" stroke-dasharray="1.5 1.3"/>
<line x1="778.7" y1="165.9" x2="780.4" y2="170.8" stroke="#a2a2a6" stroke-width="1.0" stroke-dasharray="1.5 1.3"/>
<line x1="804.8" y1="174.2" x2="806.7" y2="179.3" stroke="#a2a2a6" stroke-width="1.0" stroke-dasharray="1.5 1.3"/>
<line x1="831.6" y1="182.8" x2="833.6" y2="187.9" stroke="#a2a2a6" stroke-width="1.0" stroke-dasharray="1.5 1.3"/>
<line x1="859.1" y1="191.5" x2="861.3" y2="196.8" stroke="#a2a2a6" stroke-width="1.0" stroke-dasharray="1.5 1.3"/>
<line x1="887.4" y1="200.5" x2="889.8" y2="205.9" stroke="#a2a2a6" stroke-width="1.0" stroke-dasharray="1.5 1.3"/>
<line x1="916.4" y1="209.7" x2="919.1" y2="215.2" stroke="#a2a2a6" stroke-width="1.0" stroke-dasharray="1.5 1.3"/>
<line x1="946.3" y1="219.1" x2="949.1" y2="224.7" stroke="#a2a2a6" stroke-width="1.0" stroke-dasharray="1.5 1.3"/>
<line x1="976.9" y1="228.7" x2="980.0" y2="234.4" stroke="#a2a2a6" stroke-width="1.0" stroke-dasharray="1.5 1.3"/>
<line x1="1007.9" y1="237.6" x2="1011.1" y2="243.3" stroke="#a2a2a6" stroke-width="1.0" stroke-dasharray="1.5 1.3"/>
<line x1="682.7" y1="142.0" x2="683.8" y2="146.5" stroke="#a2a2a6" stroke-width="1.0" stroke-dasharray="1.5 1.3"/>
<line x1="706.7" y1="149.1" x2="707.9" y2="153.7" stroke="#a2a2a6" stroke-width="1.0" stroke-dasharray="1.5 1.3"/>
<line x1="730.9" y1="157.1" x2="732.3" y2="161.8" stroke="#a2a2a6" stroke-width="1.0" stroke-dasharray="1.5 1.3"/>
<line x1="755.8" y1="165.3" x2="757.4" y2="170.1" stroke="#a2a2a6" stroke-width="1.0" stroke-dasharray="1.5 1.3"/>
<line x1="781.4" y1="173.7" x2="783.2" y2="178.6" stroke="#a2a2a6" stroke-width="1.0" stroke-dasharray="1.5 1.3"/>
<line x1="807.8" y1="182.2" x2="809.7" y2="187.2" stroke="#a2a2a6" stroke-width="1.0" stroke-dasharray="1.5 1.3"/>
<line x1="834.8" y1="191.0" x2="836.9" y2="196.1" stroke="#a2a2a6" stroke-width="1.0" stroke-dasharray="1.5 1.3"/>
<line x1="862.7" y1="199.9" x2="864.9" y2="205.2" stroke="#a2a2a6" stroke-width="1.0" stroke-dasharray="1.5 1.3"/>
<line x1="891.2" y1="209.0" x2="893.7" y2="214.4" stroke="#a2a2a6" stroke-width="1.0" stroke-dasharray="1.5 1.3"/>
<line x1="920.6" y1="218.4" x2="923.2" y2="223.9" stroke="#a2a2a6" stroke-width="1.0" stroke-dasharray="1.5 1.3"/>
<line x1="950.8" y1="228.0" x2="953.6" y2="233.6" stroke="#a2a2a6" stroke-width="1.0" stroke-dasharray="1.5 1.3"/>
<line x1="981.8" y1="237.8" x2="984.8" y2="243.5" stroke="#a2a2a6" stroke-width="1.0" stroke-dasharray="1.5 1.3"/>
<line x1="1013.0" y1="246.7" x2="1016.3" y2="252.5" stroke="#a2a2a6" stroke-width="1.0" stroke-dasharray="1.5 1.3"/>
<line x1="684.5" y1="149.1" x2="685.6" y2="153.7" stroke="#a2a2a6" stroke-width="1.0" stroke-dasharray="1.5 1.3"/>
<line x1="708.7" y1="156.4" x2="709.9" y2="160.9" stroke="#a2a2a6" stroke-width="1.0" stroke-dasharray="1.5 1.3"/>
<line x1="733.1" y1="164.6" x2="734.5" y2="169.2" stroke="#a2a2a6" stroke-width="1.0" stroke-dasharray="1.5 1.3"/>
<line x1="758.3" y1="172.9" x2="759.9" y2="177.7" stroke="#a2a2a6" stroke-width="1.0" stroke-dasharray="1.5 1.3"/>
<line x1="784.2" y1="181.5" x2="785.9" y2="186.4" stroke="#a2a2a6" stroke-width="1.0" stroke-dasharray="1.5 1.3"/>
<line x1="810.8" y1="190.2" x2="812.7" y2="195.2" stroke="#a2a2a6" stroke-width="1.0" stroke-dasharray="1.5 1.3"/>
<line x1="838.1" y1="199.1" x2="840.2" y2="204.3" stroke="#a2a2a6" stroke-width="1.0" stroke-dasharray="1.5 1.3"/>
<line x1="866.2" y1="208.3" x2="868.5" y2="213.5" stroke="#a2a2a6" stroke-width="1.0" stroke-dasharray="1.5 1.3"/>
<line x1="895.1" y1="217.6" x2="897.6" y2="223.0" stroke="#a2a2a6" stroke-width="1.0" stroke-dasharray="1.5 1.3"/>
<line x1="924.8" y1="227.1" x2="927.4" y2="232.6" stroke="#a2a2a6" stroke-width="1.0" stroke-dasharray="1.5 1.3"/>
<line x1="955.3" y1="236.9" x2="958.1" y2="242.5" stroke="#a2a2a6" stroke-width="1.0" stroke-dasharray="1.5 1.3"/>
<line x1="986.6" y1="246.8" x2="989.7" y2="252.6" stroke="#a2a2a6" stroke-width="1.0" stroke-dasharray="1.5 1.3"/>
<line x1="1018.2" y1="255.8" x2="1021.4" y2="261.6" stroke="#a2a2a6" stroke-width="1.0" stroke-dasharray="1.5 1.3"/>
<line x1="686.3" y1="156.3" x2="687.4" y2="160.8" stroke="#a2a2a6" stroke-width="1.0" stroke-dasharray="1.5 1.3"/>
<line x1="710.7" y1="163.6" x2="711.9" y2="168.2" stroke="#a2a2a6" stroke-width="1.0" stroke-dasharray="1.5 1.3"/>
<line x1="735.4" y1="172.0" x2="736.8" y2="176.7" stroke="#a2a2a6" stroke-width="1.0" stroke-dasharray="1.5 1.3"/>
<line x1="760.8" y1="180.5" x2="762.3" y2="185.3" stroke="#a2a2a6" stroke-width="1.0" stroke-dasharray="1.5 1.3"/>
<line x1="786.9" y1="189.3" x2="788.6" y2="194.2" stroke="#a2a2a6" stroke-width="1.0" stroke-dasharray="1.5 1.3"/>
<line x1="813.8" y1="198.2" x2="815.7" y2="203.2" stroke="#a2a2a6" stroke-width="1.0" stroke-dasharray="1.5 1.3"/>
<line x1="841.4" y1="207.3" x2="843.5" y2="212.4" stroke="#a2a2a6" stroke-width="1.0" stroke-dasharray="1.5 1.3"/>
<line x1="869.8" y1="216.6" x2="872.1" y2="221.9" stroke="#a2a2a6" stroke-width="1.0" stroke-dasharray="1.5 1.3"/>
<line x1="899.0" y1="226.1" x2="901.4" y2="231.5" stroke="#a2a2a6" stroke-width="1.0" stroke-dasharray="1.5 1.3"/>
<line x1="929.0" y1="235.8" x2="931.6" y2="241.3" stroke="#a2a2a6" stroke-width="1.0" stroke-dasharray="1.5 1.3"/>
<line x1="959.8" y1="245.8" x2="962.7" y2="251.4" stroke="#a2a2a6" stroke-width="1.0" stroke-dasharray="1.5 1.3"/>
<line x1="991.5" y1="255.9" x2="994.5" y2="261.7" stroke="#a2a2a6" stroke-width="1.0" stroke-dasharray="1.5 1.3"/>
<line x1="1023.3" y1="265.0" x2="1026.5" y2="270.7" stroke="#a2a2a6" stroke-width="1.0" stroke-dasharray="1.5 1.3"/>
<line x1="688.1" y1="163.5" x2="689.2" y2="168.0" stroke="#a2a2a6" stroke-width="1.0" stroke-dasharray="1.5 1.3"/>
<line x1="712.7" y1="170.9" x2="713.9" y2="175.4" stroke="#a2a2a6" stroke-width="1.0" stroke-dasharray="1.5 1.3"/>
<line x1="737.6" y1="179.4" x2="739.0" y2="184.1" stroke="#a2a2a6" stroke-width="1.0" stroke-dasharray="1.5 1.3"/>
<line x1="763.3" y1="188.1" x2="764.8" y2="192.9" stroke="#a2a2a6" stroke-width="1.0" stroke-dasharray="1.5 1.3"/>
<line x1="789.7" y1="197.1" x2="791.4" y2="202.0" stroke="#a2a2a6" stroke-width="1.0" stroke-dasharray="1.5 1.3"/>
<line x1="816.8" y1="206.2" x2="818.7" y2="211.2" stroke="#a2a2a6" stroke-width="1.0" stroke-dasharray="1.5 1.3"/>
<line x1="844.7" y1="215.5" x2="846.8" y2="220.6" stroke="#a2a2a6" stroke-width="1.0" stroke-dasharray="1.5 1.3"/>
<line x1="873.4" y1="225.0" x2="875.6" y2="230.2" stroke="#a2a2a6" stroke-width="1.0" stroke-dasharray="1.5 1.3"/>
<line x1="902.9" y1="234.7" x2="905.3" y2="240.0" stroke="#a2a2a6" stroke-width="1.0" stroke-dasharray="1.5 1.3"/>
<line x1="933.2" y1="244.6" x2="935.8" y2="250.1" stroke="#a2a2a6" stroke-width="1.0" stroke-dasharray="1.5 1.3"/>
<line x1="964.3" y1="254.7" x2="967.2" y2="260.3" stroke="#a2a2a6" stroke-width="1.0" stroke-dasharray="1.5 1.3"/>
<line x1="996.3" y1="265.0" x2="999.4" y2="270.8" stroke="#a2a2a6" stroke-width="1.0" stroke-dasharray="1.5 1.3"/>
<line x1="1028.4" y1="274.1" x2="1031.6" y2="279.9" stroke="#a2a2a6" stroke-width="1.0" stroke-dasharray="1.5 1.3"/>
<line x1="689.9" y1="170.7" x2="691.0" y2="175.2" stroke="#a2a2a6" stroke-width="1.0" stroke-dasharray="1.5 1.3"/>
<line x1="714.7" y1="178.1" x2="715.9" y2="182.7" stroke="#a2a2a6" stroke-width="1.0" stroke-dasharray="1.5 1.3"/>
<line x1="739.8" y1="186.9" x2="741.2" y2="191.5" stroke="#a2a2a6" stroke-width="1.0" stroke-dasharray="1.5 1.3"/>
<line x1="765.7" y1="195.8" x2="767.3" y2="200.6" stroke="#a2a2a6" stroke-width="1.0" stroke-dasharray="1.5 1.3"/>
<line x1="792.4" y1="204.9" x2="794.1" y2="209.8" stroke="#a2a2a6" stroke-width="1.0" stroke-dasharray="1.5 1.3"/>
<line x1="819.8" y1="214.1" x2="821.7" y2="219.2" stroke="#a2a2a6" stroke-width="1.0" stroke-dasharray="1.5 1.3"/>
<line x1="848.0" y1="223.6" x2="850.0" y2="228.8" stroke="#a2a2a6" stroke-width="1.0" stroke-dasharray="1.5 1.3"/>
<line x1="877.0" y1="233.3" x2="879.2" y2="238.6" stroke="#a2a2a6" stroke-width="1.0" stroke-dasharray="1.5 1.3"/>
<line x1="906.7" y1="243.2" x2="909.2" y2="248.6" stroke="#a2a2a6" stroke-width="1.0" stroke-dasharray="1.5 1.3"/>
<line x1="937.4" y1="253.3" x2="940.0" y2="258.8" stroke="#a2a2a6" stroke-width="1.0" stroke-dasharray="1.5 1.3"/>
<line x1="968.8" y1="263.6" x2="971.7" y2="269.2" stroke="#a2a2a6" stroke-width="1.0" stroke-dasharray="1.5 1.3"/>
<line x1="1001.2" y1="274.1" x2="1004.3" y2="279.8" stroke="#a2a2a6" stroke-width="1.0" stroke-dasharray="1.5 1.3"/>
<line x1="1033.5" y1="283.2" x2="1036.7" y2="289.0" stroke="#a2a2a6" stroke-width="1.0" stroke-dasharray="1.5 1.3"/>
<line x1="691.7" y1="177.8" x2="692.8" y2="182.4" stroke="#a2a2a6" stroke-width="1.0" stroke-dasharray="1.5 1.3"/>
<line x1="716.7" y1="185.4" x2="717.9" y2="189.9" stroke="#a2a2a6" stroke-width="1.0" stroke-dasharray="1.5 1.3"/>
<line x1="742.1" y1="194.3" x2="743.5" y2="199.0" stroke="#a2a2a6" stroke-width="1.0" stroke-dasharray="1.5 1.3"/>
<line x1="768.2" y1="203.4" x2="769.8" y2="208.2" stroke="#a2a2a6" stroke-width="1.0" stroke-dasharray="1.5 1.3"/>
<line x1="795.1" y1="212.7" x2="796.8" y2="217.6" stroke="#a2a2a6" stroke-width="1.0" stroke-dasharray="1.5 1.3"/>
<line x1="822.8" y1="222.1" x2="824.7" y2="227.2" stroke="#a2a2a6" stroke-width="1.0" stroke-dasharray="1.5 1.3"/>
<line x1="851.3" y1="231.8" x2="853.3" y2="236.9" stroke="#a2a2a6" stroke-width="1.0" stroke-dasharray="1.5 1.3"/>
<line x1="880.5" y1="241.7" x2="882.8" y2="246.9" stroke="#a2a2a6" stroke-width="1.0" stroke-dasharray="1.5 1.3"/>
<line x1="910.6" y1="251.7" x2="913.1" y2="257.1" stroke="#a2a2a6" stroke-width="1.0" stroke-dasharray="1.5 1.3"/>
<line x1="941.6" y1="262.0" x2="944.2" y2="267.5" stroke="#a2a2a6" stroke-width="1.0" stroke-dasharray="1.5 1.3"/>
<line x1="973.4" y1="272.5" x2="976.2" y2="278.1" stroke="#a2a2a6" stroke-width="1.0" stroke-dasharray="1.5 1.3"/>
<line x1="1006.0" y1="283.2" x2="1009.1" y2="288.9" stroke="#a2a2a6" stroke-width="1.0" stroke-dasharray="1.5 1.3"/>
<line x1="1038.6" y1="292.4" x2="1041.9" y2="298.1" stroke="#a2a2a6" stroke-width="1.0" stroke-dasharray="1.5 1.3"/>
<line x1="693.5" y1="185.0" x2="694.6" y2="189.5" stroke="#a2a2a6" stroke-width="1.0" stroke-dasharray="1.5 1.3"/>
<line x1="718.7" y1="192.6" x2="719.9" y2="197.2" stroke="#a2a2a6" stroke-width="1.0" stroke-dasharray="1.5 1.3"/>
<line x1="744.3" y1="201.7" x2="745.7" y2="206.4" stroke="#a2a2a6" stroke-width="1.0" stroke-dasharray="1.5 1.3"/>
<line x1="770.7" y1="211.0" x2="772.3" y2="215.8" stroke="#a2a2a6" stroke-width="1.0" stroke-dasharray="1.5 1.3"/>
<line x1="797.9" y1="220.5" x2="799.6" y2="225.4" stroke="#a2a2a6" stroke-width="1.0" stroke-dasharray="1.5 1.3"/>
<line x1="825.8" y1="230.1" x2="827.7" y2="235.1" stroke="#a2a2a6" stroke-width="1.0" stroke-dasharray="1.5 1.3"/>
<line x1="854.5" y1="240.0" x2="856.6" y2="245.1" stroke="#a2a2a6" stroke-width="1.0" stroke-dasharray="1.5 1.3"/>
<line x1="884.1" y1="250.0" x2="886.4" y2="255.3" stroke="#a2a2a6" stroke-width="1.0" stroke-dasharray="1.5 1.3"/>
<line x1="914.5" y1="260.3" x2="916.9" y2="265.6" stroke="#a2a2a6" stroke-width="1.0" stroke-dasharray="1.5 1.3"/>
<line x1="945.8" y1="270.7" x2="948.4" y2="276.2" stroke="#a2a2a6" stroke-width="1.0" stroke-dasharray="1.5 1.3"/>
<line x1="977.9" y1="281.4" x2="980.7" y2="287.0" stroke="#a2a2a6" stroke-width="1.0" stroke-dasharray="1.5 1.3"/>
<line x1="1010.9" y1="292.3" x2="1014.0" y2="298.0" stroke="#a2a2a6" stroke-width="1.0" stroke-dasharray="1.5 1.3"/>
<line x1="1043.8" y1="301.5" x2="1047.0" y2="307.3" stroke="#a2a2a6" stroke-width="1.0" stroke-dasharray="1.5 1.3"/>
<line x1="695.3" y1="192.2" x2="696.4" y2="196.7" stroke="#a2a2a6" stroke-width="1.0" stroke-dasharray="1.5 1.3"/>
<line x1="720.7" y1="199.9" x2="721.9" y2="204.4" stroke="#a2a2a6" stroke-width="1.0" stroke-dasharray="1.5 1.3"/>
<line x1="746.5" y1="209.1" x2="747.9" y2="213.8" stroke="#a2a2a6" stroke-width="1.0" stroke-dasharray="1.5 1.3"/>
<line x1="773.2" y1="218.6" x2="774.7" y2="223.4" stroke="#a2a2a6" stroke-width="1.0" stroke-dasharray="1.5 1.3"/>
<line x1="800.6" y1="228.3" x2="802.3" y2="233.2" stroke="#a2a2a6" stroke-width="1.0" stroke-dasharray="1.5 1.3"/>
<line x1="828.8" y1="238.1" x2="830.7" y2="243.1" stroke="#a2a2a6" stroke-width="1.0" stroke-dasharray="1.5 1.3"/>
<line x1="857.8" y1="248.1" x2="859.9" y2="253.3" stroke="#a2a2a6" stroke-width="1.0" stroke-dasharray="1.5 1.3"/>
<line x1="887.7" y1="258.4" x2="889.9" y2="263.6" stroke="#a2a2a6" stroke-width="1.0" stroke-dasharray="1.5 1.3"/>
<line x1="918.4" y1="268.8" x2="920.8" y2="274.2" stroke="#a2a2a6" stroke-width="1.0" stroke-dasharray="1.5 1.3"/>
<line x1="949.9" y1="279.5" x2="952.6" y2="284.9" stroke="#a2a2a6" stroke-width="1.0" stroke-dasharray="1.5 1.3"/>
<line x1="982.4" y1="290.3" x2="985.2" y2="295.9" stroke="#a2a2a6" stroke-width="1.0" stroke-dasharray="1.5 1.3"/>
<line x1="1015.8" y1="301.4" x2="1018.8" y2="307.1" stroke="#a2a2a6" stroke-width="1.0" stroke-dasharray="1.5 1.3"/>
<line x1="1048.9" y1="310.6" x2="1052.1" y2="316.4" stroke="#a2a2a6" stroke-width="1.0" stroke-dasharray="1.5 1.3"/>
<line x1="697.1" y1="199.4" x2="698.2" y2="203.9" stroke="#a2a2a6" stroke-width="1.0" stroke-dasharray="1.5 1.3"/>
<line x1="722.7" y1="207.1" x2="723.9" y2="211.7" stroke="#a2a2a6" stroke-width="1.0" stroke-dasharray="1.5 1.3"/>
<line x1="748.8" y1="216.6" x2="750.2" y2="221.3" stroke="#a2a2a6" stroke-width="1.0" stroke-dasharray="1.5 1.3"/>
<line x1="775.7" y1="226.2" x2="777.2" y2="231.0" stroke="#a2a2a6" stroke-width="1.0" stroke-dasharray="1.5 1.3"/>
<line x1="803.3" y1="236.1" x2="805.1" y2="241.0" stroke="#a2a2a6" stroke-width="1.0" stroke-dasharray="1.5 1.3"/>
<line x1="831.8" y1="246.1" x2="833.7" y2="251.1" stroke="#a2a2a6" stroke-width="1.0" stroke-dasharray="1.5 1.3"/>
<line x1="861.1" y1="256.3" x2="863.2" y2="261.4" stroke="#a2a2a6" stroke-width="1.0" stroke-dasharray="1.5 1.3"/>
<line x1="891.3" y1="266.7" x2="893.5" y2="272.0" stroke="#a2a2a6" stroke-width="1.0" stroke-dasharray="1.5 1.3"/>
<line x1="922.3" y1="277.3" x2="924.7" y2="282.7" stroke="#a2a2a6" stroke-width="1.0" stroke-dasharray="1.5 1.3"/>
<line x1="954.1" y1="288.2" x2="956.8" y2="293.7" stroke="#a2a2a6" stroke-width="1.0" stroke-dasharray="1.5 1.3"/>
<line x1="986.9" y1="299.2" x2="989.8" y2="304.8" stroke="#a2a2a6" stroke-width="1.0" stroke-dasharray="1.5 1.3"/>
<line x1="1020.6" y1="310.5" x2="1023.7" y2="316.2" stroke="#a2a2a6" stroke-width="1.0" stroke-dasharray="1.5 1.3"/>
<line x1="1054.0" y1="319.8" x2="1057.2" y2="325.5" stroke="#a2a2a6" stroke-width="1.0" stroke-dasharray="1.5 1.3"/>
<line x1="698.9" y1="206.6" x2="700.0" y2="211.1" stroke="#a2a2a6" stroke-width="1.0" stroke-dasharray="1.5 1.3"/>
<line x1="724.7" y1="214.4" x2="725.9" y2="218.9" stroke="#a2a2a6" stroke-width="1.0" stroke-dasharray="1.5 1.3"/>
<line x1="751.0" y1="224.0" x2="752.4" y2="228.7" stroke="#a2a2a6" stroke-width="1.0" stroke-dasharray="1.5 1.3"/>
<line x1="778.1" y1="233.8" x2="779.7" y2="238.6" stroke="#a2a2a6" stroke-width="1.0" stroke-dasharray="1.5 1.3"/>
<line x1="806.1" y1="243.9" x2="807.8" y2="248.8" stroke="#a2a2a6" stroke-width="1.0" stroke-dasharray="1.5 1.3"/>
<line x1="834.8" y1="254.1" x2="836.7" y2="259.1" stroke="#a2a2a6" stroke-width="1.0" stroke-dasharray="1.5 1.3"/>
<line x1="864.4" y1="264.5" x2="866.5" y2="269.6" stroke="#a2a2a6" stroke-width="1.0" stroke-dasharray="1.5 1.3"/>
<line x1="894.8" y1="275.1" x2="897.1" y2="280.3" stroke="#a2a2a6" stroke-width="1.0" stroke-dasharray="1.5 1.3"/>
<line x1="926.1" y1="285.9" x2="928.6" y2="291.3" stroke="#a2a2a6" stroke-width="1.0" stroke-dasharray="1.5 1.3"/>
<line x1="958.3" y1="296.9" x2="961.0" y2="302.4" stroke="#a2a2a6" stroke-width="1.0" stroke-dasharray="1.5 1.3"/>
<line x1="991.4" y1="308.1" x2="994.3" y2="313.7" stroke="#a2a2a6" stroke-width="1.0" stroke-dasharray="1.5 1.3"/>
<line x1="1025.5" y1="319.6" x2="1028.5" y2="325.3" stroke="#a2a2a6" stroke-width="1.0" stroke-dasharray="1.5 1.3"/>
<line x1="700.7" y1="213.7" x2="701.8" y2="218.3" stroke="#a2a2a6" stroke-width="1.0" stroke-dasharray="1.5 1.3"/>
<line x1="726.7" y1="221.6" x2="727.9" y2="226.2" stroke="#a2a2a6" stroke-width="1.0" stroke-dasharray="1.5 1.3"/>
<line x1="753.2" y1="231.4" x2="754.6" y2="236.1" stroke="#a2a2a6" stroke-width="1.0" stroke-dasharray="1.5 1.3"/>
<line x1="780.6" y1="241.5" x2="782.2" y2="246.2" stroke="#a2a2a6" stroke-width="1.0" stroke-dasharray="1.5 1.3"/>
<line x1="808.8" y1="251.7" x2="810.5" y2="256.6" stroke="#a2a2a6" stroke-width="1.0" stroke-dasharray="1.5 1.3"/>
<line x1="837.8" y1="262.0" x2="839.7" y2="267.1" stroke="#a2a2a6" stroke-width="1.0" stroke-dasharray="1.5 1.3"/>
<line x1="867.7" y1="272.6" x2="869.7" y2="277.8" stroke="#a2a2a6" stroke-width="1.0" stroke-dasharray="1.5 1.3"/>
<line x1="898.4" y1="283.4" x2="900.7" y2="288.7" stroke="#a2a2a6" stroke-width="1.0" stroke-dasharray="1.5 1.3"/>
<line x1="930.0" y1="294.4" x2="932.4" y2="299.8" stroke="#a2a2a6" stroke-width="1.0" stroke-dasharray="1.5 1.3"/>
<line x1="962.5" y1="305.6" x2="965.2" y2="311.1" stroke="#a2a2a6" stroke-width="1.0" stroke-dasharray="1.5 1.3"/>
<line x1="995.9" y1="317.0" x2="998.8" y2="322.6" stroke="#a2a2a6" stroke-width="1.0" stroke-dasharray="1.5 1.3"/>
<line x1="702.5" y1="220.9" x2="703.6" y2="225.4" stroke="#a2a2a6" stroke-width="1.0" stroke-dasharray="1.5 1.3"/>
<line x1="728.7" y1="228.9" x2="729.9" y2="233.4" stroke="#a2a2a6" stroke-width="1.0" stroke-dasharray="1.5 1.3"/>
<line x1="755.5" y1="238.9" x2="756.9" y2="243.5" stroke="#a2a2a6" stroke-width="1.0" stroke-dasharray="1.5 1.3"/>
<line x1="783.1" y1="249.1" x2="784.7" y2="253.9" stroke="#a2a2a6" stroke-width="1.0" stroke-dasharray="1.5 1.3"/>
<line x1="811.5" y1="259.4" x2="813.3" y2="264.4" stroke="#a2a2a6" stroke-width="1.0" stroke-dasharray="1.5 1.3"/>
<line x1="840.8" y1="270.0" x2="842.7" y2="275.1" stroke="#a2a2a6" stroke-width="1.0" stroke-dasharray="1.5 1.3"/>
<line x1="871.0" y1="280.8" x2="873.0" y2="285.9" stroke="#a2a2a6" stroke-width="1.0" stroke-dasharray="1.5 1.3"/>
<line x1="902.0" y1="291.8" x2="904.2" y2="297.0" stroke="#a2a2a6" stroke-width="1.0" stroke-dasharray="1.5 1.3"/>
<line x1="933.9" y1="303.0" x2="936.3" y2="308.3" stroke="#a2a2a6" stroke-width="1.0" stroke-dasharray="1.5 1.3"/>
<line x1="966.7" y1="314.3" x2="969.3" y2="319.8" stroke="#a2a2a6" stroke-width="1.0" stroke-dasharray="1.5 1.3"/>
<line x1="704.3" y1="228.1" x2="705.4" y2="232.6" stroke="#a2a2a6" stroke-width="1.0" stroke-dasharray="1.5 1.3"/>
<line x1="730.7" y1="236.1" x2="731.9" y2="240.7" stroke="#a2a2a6" stroke-width="1.0" stroke-dasharray="1.5 1.3"/>
<line x1="757.7" y1="246.3" x2="759.1" y2="251.0" stroke="#a2a2a6" stroke-width="1.0" stroke-dasharray="1.5 1.3"/>
<line x1="785.6" y1="256.7" x2="787.1" y2="261.5" stroke="#a2a2a6" stroke-width="1.0" stroke-dasharray="1.5 1.3"/>
<line x1="814.3" y1="267.2" x2="816.0" y2="272.2" stroke="#a2a2a6" stroke-width="1.0" stroke-dasharray="1.5 1.3"/>
<line x1="843.8" y1="278.0" x2="845.7" y2="283.0" stroke="#a2a2a6" stroke-width="1.0" stroke-dasharray="1.5 1.3"/>
<line x1="874.2" y1="289.0" x2="876.3" y2="294.1" stroke="#a2a2a6" stroke-width="1.0" stroke-dasharray="1.5 1.3"/>
<line x1="905.5" y1="300.1" x2="907.8" y2="305.4" stroke="#a2a2a6" stroke-width="1.0" stroke-dasharray="1.5 1.3"/>
<line x1="937.8" y1="311.5" x2="940.2" y2="316.9" stroke="#a2a2a6" stroke-width="1.0" stroke-dasharray="1.5 1.3"/>
<line x1="706.1" y1="235.3" x2="707.2" y2="239.8" stroke="#a2a2a6" stroke-width="1.0" stroke-dasharray="1.5 1.3"/>
<line x1="732.7" y1="243.4" x2="733.9" y2="247.9" stroke="#a2a2a6" stroke-width="1.0" stroke-dasharray="1.5 1.3"/>
<line x1="759.9" y1="253.7" x2="761.4" y2="258.4" stroke="#a2a2a6" stroke-width="1.0" stroke-dasharray="1.5 1.3"/>
<line x1="788.1" y1="264.3" x2="789.6" y2="269.1" stroke="#a2a2a6" stroke-width="1.0" stroke-dasharray="1.5 1.3"/>
<line x1="817.0" y1="275.0" x2="818.7" y2="280.0" stroke="#a2a2a6" stroke-width="1.0" stroke-dasharray="1.5 1.3"/>
<line x1="846.8" y1="286.0" x2="848.7" y2="291.0" stroke="#a2a2a6" stroke-width="1.0" stroke-dasharray="1.5 1.3"/>
<line x1="877.5" y1="297.1" x2="879.6" y2="302.3" stroke="#a2a2a6" stroke-width="1.0" stroke-dasharray="1.5 1.3"/>
<line x1="909.1" y1="308.5" x2="911.4" y2="313.7" stroke="#a2a2a6" stroke-width="1.0" stroke-dasharray="1.5 1.3"/>
<line x1="941.6" y1="320.0" x2="944.1" y2="325.4" stroke="#a2a2a6" stroke-width="1.0" stroke-dasharray="1.5 1.3"/>
<line x1="707.9" y1="242.4" x2="709.0" y2="247.0" stroke="#a2a2a6" stroke-width="1.0" stroke-dasharray="1.5 1.3"/>
<line x1="734.7" y1="250.6" x2="735.9" y2="255.2" stroke="#a2a2a6" stroke-width="1.0" stroke-dasharray="1.5 1.3"/>
<line x1="762.2" y1="261.2" x2="763.6" y2="265.8" stroke="#a2a2a6" stroke-width="1.0" stroke-dasharray="1.5 1.3"/>
<line x1="790.5" y1="271.9" x2="792.1" y2="276.7" stroke="#a2a2a6" stroke-width="1.0" stroke-dasharray="1.5 1.3"/>
<line x1="819.7" y1="282.8" x2="821.5" y2="287.8" stroke="#a2a2a6" stroke-width="1.0" stroke-dasharray="1.5 1.3"/>
<line x1="849.8" y1="294.0" x2="851.7" y2="299.0" stroke="#a2a2a6" stroke-width="1.0" stroke-dasharray="1.5 1.3"/>
<line x1="880.8" y1="305.3" x2="882.9" y2="310.4" stroke="#a2a2a6" stroke-width="1.0" stroke-dasharray="1.5 1.3"/>
<line x1="912.7" y1="316.8" x2="914.9" y2="322.1" stroke="#a2a2a6" stroke-width="1.0" stroke-dasharray="1.5 1.3"/>
<line x1="709.7" y1="249.6" x2="710.8" y2="254.1" stroke="#a2a2a6" stroke-width="1.0" stroke-dasharray="1.5 1.3"/>
<line x1="736.7" y1="257.8" x2="737.9" y2="262.4" stroke="#a2a2a6" stroke-width="1.0" stroke-dasharray="1.5 1.3"/>
<line x1="764.4" y1="268.6" x2="765.8" y2="273.3" stroke="#a2a2a6" stroke-width="1.0" stroke-dasharray="1.5 1.3"/>
<line x1="793.0" y1="279.5" x2="794.6" y2="284.3" stroke="#a2a2a6" stroke-width="1.0" stroke-dasharray="1.5 1.3"/>
<line x1="822.5" y1="290.6" x2="824.2" y2="295.6" stroke="#a2a2a6" stroke-width="1.0" stroke-dasharray="1.5 1.3"/>
<line x1="852.8" y1="302.0" x2="854.7" y2="307.0" stroke="#a2a2a6" stroke-width="1.0" stroke-dasharray="1.5 1.3"/>
<line x1="884.1" y1="313.5" x2="886.2" y2="318.6" stroke="#a2a2a6" stroke-width="1.0" stroke-dasharray="1.5 1.3"/>
<line x1="711.5" y1="256.8" x2="712.6" y2="261.3" stroke="#a2a2a6" stroke-width="1.0" stroke-dasharray="1.5 1.3"/>
<line x1="738.7" y1="265.1" x2="739.9" y2="269.7" stroke="#a2a2a6" stroke-width="1.0" stroke-dasharray="1.5 1.3"/>
<line x1="766.6" y1="276.0" x2="768.1" y2="280.7" stroke="#a2a2a6" stroke-width="1.0" stroke-dasharray="1.5 1.3"/>
<line x1="795.5" y1="287.1" x2="797.1" y2="291.9" stroke="#a2a2a6" stroke-width="1.0" stroke-dasharray="1.5 1.3"/>
<line x1="825.2" y1="298.4" x2="826.9" y2="303.4" stroke="#a2a2a6" stroke-width="1.0" stroke-dasharray="1.5 1.3"/>
<line x1="855.8" y1="309.9" x2="857.7" y2="315.0" stroke="#a2a2a6" stroke-width="1.0" stroke-dasharray="1.5 1.3"/>
<line x1="887.4" y1="321.6" x2="889.4" y2="326.8" stroke="#a2a2a6" stroke-width="1.0" stroke-dasharray="1.5 1.3"/>
<line x1="713.3" y1="264.0" x2="714.4" y2="268.5" stroke="#a2a2a6" stroke-width="1.0" stroke-dasharray="1.5 1.3"/>
<line x1="740.7" y1="272.3" x2="741.9" y2="276.9" stroke="#a2a2a6" stroke-width="1.0" stroke-dasharray="1.5 1.3"/>
<line x1="768.9" y1="283.5" x2="770.3" y2="288.1" stroke="#a2a2a6" stroke-width="1.0" stroke-dasharray="1.5 1.3"/>
<line x1="798.0" y1="294.8" x2="799.5" y2="299.5" stroke="#a2a2a6" stroke-width="1.0" stroke-dasharray="1.5 1.3"/>
<line x1="828.0" y1="306.2" x2="829.7" y2="311.2" stroke="#a2a2a6" stroke-width="1.0" stroke-dasharray="1.5 1.3"/>
<line x1="858.8" y1="317.9" x2="860.7" y2="323.0" stroke="#a2a2a6" stroke-width="1.0" stroke-dasharray="1.5 1.3"/>
<line x1="715.1" y1="271.2" x2="716.2" y2="275.7" stroke="#a2a2a6" stroke-width="1.0" stroke-dasharray="1.5 1.3"/>
<line x1="742.7" y1="279.6" x2="743.9" y2="284.2" stroke="#a2a2a6" stroke-width="1.0" stroke-dasharray="1.5 1.3"/>
<line x1="771.1" y1="290.9" x2="772.5" y2="295.6" stroke="#a2a2a6" stroke-width="1.0" stroke-dasharray="1.5 1.3"/>
<line x1="800.5" y1="302.4" x2="802.0" y2="307.2" stroke="#a2a2a6" stroke-width="1.0" stroke-dasharray="1.5 1.3"/>
<line x1="830.7" y1="314.0" x2="832.4" y2="319.0" stroke="#a2a2a6" stroke-width="1.0" stroke-dasharray="1.5 1.3"/>
<line x1="716.9" y1="278.3" x2="718.0" y2="282.9" stroke="#a2a2a6" stroke-width="1.0" stroke-dasharray="1.5 1.3"/>
<line x1="744.7" y1="286.8" x2="745.9" y2="291.4" stroke="#a2a2a6" stroke-width="1.0" stroke-dasharray="1.5 1.3"/>
<line x1="773.3" y1="298.3" x2="774.8" y2="303.0" stroke="#a2a2a6" stroke-width="1.0" stroke-dasharray="1.5 1.3"/>
<line x1="802.9" y1="310.0" x2="804.5" y2="314.8" stroke="#a2a2a6" stroke-width="1.0" stroke-dasharray="1.5 1.3"/>
<line x1="718.7" y1="285.5" x2="719.8" y2="290.0" stroke="#a2a2a6" stroke-width="1.0" stroke-dasharray="1.5 1.3"/>
<line x1="746.7" y1="294.1" x2="747.9" y2="298.7" stroke="#a2a2a6" stroke-width="1.0" stroke-dasharray="1.5 1.3"/>
<line x1="775.6" y1="305.7" x2="777.0" y2="310.4" stroke="#a2a2a6" stroke-width="1.0" stroke-dasharray="1.5 1.3"/>
<line x1="805.4" y1="317.6" x2="807.0" y2="322.4" stroke="#a2a2a6" stroke-width="1.0" stroke-dasharray="1.5 1.3"/>
<line x1="720.5" y1="292.7" x2="721.6" y2="297.2" stroke="#a2a2a6" stroke-width="1.0" stroke-dasharray="1.5 1.3"/>
<line x1="748.7" y1="301.3" x2="749.9" y2="305.9" stroke="#a2a2a6" stroke-width="1.0" stroke-dasharray="1.5 1.3"/>
<line x1="777.8" y1="313.2" x2="779.2" y2="317.9" stroke="#a2a2a6" stroke-width="1.0" stroke-dasharray="1.5 1.3"/>
<line x1="722.3" y1="299.9" x2="723.4" y2="304.4" stroke="#a2a2a6" stroke-width="1.0" stroke-dasharray="1.5 1.3"/>
<line x1="750.7" y1="308.6" x2="751.9" y2="313.1" stroke="#a2a2a6" stroke-width="1.0" stroke-dasharray="1.5 1.3"/>
<line x1="780.0" y1="320.6" x2="781.5" y2="325.3" stroke="#a2a2a6" stroke-width="1.0" stroke-dasharray="1.5 1.3"/>
<line x1="724.1" y1="307.0" x2="725.2" y2="311.6" stroke="#a2a2a6" stroke-width="1.0" stroke-dasharray="1.5 1.3"/>
<line x1="752.7" y1="315.8" x2="753.9" y2="320.4" stroke="#a2a2a6" stroke-width="1.0" stroke-dasharray="1.5 1.3"/>
<line x1="725.9" y1="314.2" x2="727.0" y2="318.7" stroke="#a2a2a6" stroke-width="1.0" stroke-dasharray="1.5 1.3"/>
<line x1="727.7" y1="321.4" x2="728.8" y2="325.9" stroke="#a2a2a6" stroke-width="1.0" stroke-dasharray="1.5 1.3"/>
</g>
</g>
<polyline points="231.0,218.5 692.0,96.2 962.0,176.2" fill="none" stroke="#a4a4a6" stroke-width="2.2" stroke-linejoin="round"/>
<polygon points="330.0,262.0 648.2,171.8 812.0,226.5 811.0,231.5 649.0,177.0 332.0,271.0" fill="#e0e0e4"  stroke="#e0e0e4" stroke-width="0.6" stroke-linejoin="round"/>
<polygon points="231.0,218.0 329.0,266.0 335.0,345.0 237.0,292.0" fill="#c6c6c6"  stroke="#c6c6c6" stroke-width="0.6" stroke-linejoin="round"/>
<polygon points="233.0,225.0 327.0,270.0 331.0,340.0 238.0,288.0" fill="url(#gPanelL)" />
<clipPath id="cpLP"><polygon points="233.0,225.0 327.0,270.0 331.0,340.0 238.0,288.0"/></clipPath>
<g clip-path="url(#cpLP)" fill="none">
<polyline points="229.8,222.7 230.8,225.4 231.7,228.0 232.5,230.6 233.0,233.2 233.2,235.8 233.2,238.4 233.0,241.0 232.6,243.6 232.0,246.2 231.4,248.8 230.9,251.5 230.4,254.1 230.1,256.7 230.0,259.3 230.2,261.9 230.6,264.5 231.2,267.1 232.1,269.7 233.0,272.3 234.1,275.0 235.1,277.6 235.9,280.2 236.7,282.8 237.2,285.4" stroke="#b6b6b8" stroke-width="0.9"/>
<polyline points="228.5,222.7 229.5,225.4 230.4,228.0 231.2,230.6 231.7,233.2 231.9,235.8 231.9,238.4 231.7,241.0 231.3,243.6 230.7,246.2 230.1,248.8 229.6,251.5 229.1,254.1 228.8,256.7 228.7,259.3 228.9,261.9 229.3,264.5 229.9,267.1 230.8,269.7 231.7,272.3 232.8,275.0 233.8,277.6 234.6,280.2 235.4,282.8 235.9,285.4" stroke="#5c5c5c" stroke-width="1.25"/>
<polyline points="238.3,226.8 239.3,229.4 240.1,232.0 240.9,234.7 241.4,237.3 241.6,240.0 241.6,242.6 241.4,245.2 241.0,247.9 240.4,250.5 239.8,253.1 239.2,255.8 238.8,258.4 238.4,261.0 238.4,263.7 238.5,266.3 238.9,269.0 239.6,271.6 240.4,274.2 241.4,276.9 242.4,279.5 243.4,282.1 244.3,284.8 245.0,287.4 245.5,290.0" stroke="#b6b6b8" stroke-width="0.9"/>
<polyline points="237.0,226.8 238.0,229.4 238.8,232.0 239.6,234.7 240.1,237.3 240.3,240.0 240.3,242.6 240.1,245.2 239.7,247.9 239.1,250.5 238.5,253.1 237.9,255.8 237.5,258.4 237.1,261.0 237.1,263.7 237.2,266.3 237.6,269.0 238.3,271.6 239.1,274.2 240.1,276.9 241.1,279.5 242.1,282.1 243.0,284.8 243.7,287.4 244.2,290.0" stroke="#5c5c5c" stroke-width="1.25"/>
<polyline points="246.7,230.8 247.7,233.5 248.6,236.1 249.3,238.8 249.8,241.4 250.0,244.1 250.0,246.8 249.8,249.4 249.3,252.1 248.8,254.8 248.2,257.4 247.6,260.1 247.1,262.8 246.8,265.4 246.7,268.1 246.9,270.7 247.3,273.4 247.9,276.1 248.8,278.7 249.7,281.4 250.7,284.1 251.7,286.7 252.6,289.4 253.3,292.0 253.8,294.7" stroke="#b6b6b8" stroke-width="0.9"/>
<polyline points="245.4,230.8 246.4,233.5 247.3,236.1 248.0,238.8 248.5,241.4 248.7,244.1 248.7,246.8 248.5,249.4 248.0,252.1 247.5,254.8 246.9,257.4 246.3,260.1 245.8,262.8 245.5,265.4 245.4,268.1 245.6,270.7 246.0,273.4 246.6,276.1 247.5,278.7 248.4,281.4 249.4,284.1 250.4,286.7 251.3,289.4 252.0,292.0 252.5,294.7" stroke="#5c5c5c" stroke-width="1.25"/>
<polyline points="255.1,234.8 256.1,237.5 257.0,240.2 257.7,242.9 258.2,245.6 258.4,248.3 258.4,251.0 258.2,253.6 257.7,256.3 257.2,259.0 256.6,261.7 256.0,264.4 255.5,267.1 255.2,269.8 255.1,272.5 255.2,275.2 255.6,277.8 256.3,280.5 257.1,283.2 258.1,285.9 259.1,288.6 260.1,291.3 260.9,294.0 261.7,296.7 262.1,299.4" stroke="#b6b6b8" stroke-width="0.9"/>
<polyline points="253.8,234.8 254.8,237.5 255.7,240.2 256.4,242.9 256.9,245.6 257.1,248.3 257.1,251.0 256.9,253.6 256.4,256.3 255.9,259.0 255.3,261.7 254.7,264.4 254.2,267.1 253.9,269.8 253.8,272.5 253.9,275.2 254.3,277.8 255.0,280.5 255.8,283.2 256.8,285.9 257.8,288.6 258.8,291.3 259.6,294.0 260.4,296.7 260.8,299.4" stroke="#5c5c5c" stroke-width="1.25"/>
<polyline points="263.5,238.9 264.5,241.6 265.4,244.3 266.1,247.0 266.6,249.7 266.8,252.4 266.8,255.1 266.5,257.9 266.1,260.6 265.6,263.3 264.9,266.0 264.3,268.7 263.9,271.4 263.5,274.1 263.4,276.9 263.6,279.6 264.0,282.3 264.6,285.0 265.4,287.7 266.4,290.4 267.4,293.2 268.4,295.9 269.3,298.6 270.0,301.3 270.5,304.0" stroke="#b6b6b8" stroke-width="0.9"/>
<polyline points="262.2,238.9 263.2,241.6 264.1,244.3 264.8,247.0 265.3,249.7 265.5,252.4 265.5,255.1 265.2,257.9 264.8,260.6 264.3,263.3 263.6,266.0 263.0,268.7 262.6,271.4 262.2,274.1 262.1,276.9 262.3,279.6 262.7,282.3 263.3,285.0 264.1,287.7 265.1,290.4 266.1,293.2 267.1,295.9 268.0,298.6 268.7,301.3 269.2,304.0" stroke="#5c5c5c" stroke-width="1.25"/>
<polyline points="271.9,242.9 272.9,245.6 273.8,248.4 274.5,251.1 275.0,253.8 275.2,256.6 275.2,259.3 274.9,262.1 274.5,264.8 273.9,267.6 273.3,270.3 272.7,273.0 272.2,275.8 271.9,278.5 271.8,281.3 271.9,284.0 272.3,286.7 273.0,289.5 273.8,292.2 274.7,295.0 275.7,297.7 276.7,300.4 277.6,303.2 278.3,305.9 278.8,308.7" stroke="#b6b6b8" stroke-width="0.9"/>
<polyline points="270.6,242.9 271.6,245.6 272.5,248.4 273.2,251.1 273.7,253.8 273.9,256.6 273.9,259.3 273.6,262.1 273.2,264.8 272.6,267.6 272.0,270.3 271.4,273.0 270.9,275.8 270.6,278.5 270.5,281.3 270.6,284.0 271.0,286.7 271.7,289.5 272.5,292.2 273.4,295.0 274.4,297.7 275.4,300.4 276.3,303.2 277.0,305.9 277.5,308.7" stroke="#5c5c5c" stroke-width="1.25"/>
<polyline points="280.3,246.9 281.3,249.7 282.2,252.4 282.9,255.2 283.4,258.0 283.6,260.7 283.6,263.5 283.3,266.3 282.9,269.0 282.3,271.8 281.7,274.6 281.1,277.3 280.6,280.1 280.3,282.9 280.2,285.6 280.3,288.4 280.7,291.2 281.3,293.9 282.1,296.7 283.1,299.5 284.1,302.2 285.1,305.0 285.9,307.8 286.6,310.6 287.1,313.3" stroke="#b6b6b8" stroke-width="0.9"/>
<polyline points="279.0,246.9 280.0,249.7 280.9,252.4 281.6,255.2 282.1,258.0 282.3,260.7 282.3,263.5 282.0,266.3 281.6,269.0 281.0,271.8 280.4,274.6 279.8,277.3 279.3,280.1 279.0,282.9 278.9,285.6 279.0,288.4 279.4,291.2 280.0,293.9 280.8,296.7 281.8,299.5 282.8,302.2 283.8,305.0 284.6,307.8 285.3,310.6 285.8,313.3" stroke="#5c5c5c" stroke-width="1.25"/>
<polyline points="288.7,250.9 289.7,253.7 290.6,256.5 291.3,259.3 291.8,262.1 292.0,264.9 292.0,267.7 291.7,270.5 291.3,273.3 290.7,276.1 290.1,278.9 289.5,281.7 289.0,284.5 288.6,287.2 288.5,290.0 288.7,292.8 289.0,295.6 289.7,298.4 290.5,301.2 291.4,304.0 292.4,306.8 293.4,309.6 294.3,312.4 295.0,315.2 295.4,318.0" stroke="#b6b6b8" stroke-width="0.9"/>
<polyline points="287.4,250.9 288.4,253.7 289.3,256.5 290.0,259.3 290.5,262.1 290.7,264.9 290.7,267.7 290.4,270.5 290.0,273.3 289.4,276.1 288.8,278.9 288.2,281.7 287.7,284.5 287.3,287.2 287.2,290.0 287.4,292.8 287.7,295.6 288.4,298.4 289.2,301.2 290.1,304.0 291.1,306.8 292.1,309.6 293.0,312.4 293.7,315.2 294.1,318.0" stroke="#5c5c5c" stroke-width="1.25"/>
<polyline points="297.2,255.0 298.1,257.8 299.0,260.6 299.7,263.4 300.2,266.2 300.4,269.1 300.4,271.9 300.1,274.7 299.6,277.5 299.1,280.3 298.4,283.2 297.8,286.0 297.3,288.8 297.0,291.6 296.9,294.4 297.0,297.3 297.4,300.1 298.0,302.9 298.8,305.7 299.8,308.5 300.8,311.3 301.7,314.2 302.6,317.0 303.3,319.8 303.8,322.6" stroke="#b6b6b8" stroke-width="0.9"/>
<polyline points="295.9,255.0 296.8,257.8 297.7,260.6 298.4,263.4 298.9,266.2 299.1,269.1 299.1,271.9 298.8,274.7 298.3,277.5 297.8,280.3 297.1,283.2 296.5,286.0 296.0,288.8 295.7,291.6 295.6,294.4 295.7,297.3 296.1,300.1 296.7,302.9 297.5,305.7 298.5,308.5 299.5,311.3 300.4,314.2 301.3,317.0 302.0,319.8 302.5,322.6" stroke="#5c5c5c" stroke-width="1.25"/>
<polyline points="305.6,259.0 306.5,261.8 307.4,264.7 308.1,267.5 308.6,270.4 308.8,273.2 308.7,276.1 308.5,278.9 308.0,281.8 307.5,284.6 306.8,287.4 306.2,290.3 305.7,293.1 305.4,296.0 305.2,298.8 305.4,301.7 305.8,304.5 306.4,307.4 307.2,310.2 308.1,313.1 309.1,315.9 310.1,318.7 310.9,321.6 311.6,324.4 312.1,327.3" stroke="#b6b6b8" stroke-width="0.9"/>
<polyline points="304.3,259.0 305.2,261.8 306.1,264.7 306.8,267.5 307.3,270.4 307.5,273.2 307.4,276.1 307.2,278.9 306.7,281.8 306.2,284.6 305.5,287.4 304.9,290.3 304.4,293.1 304.1,296.0 303.9,298.8 304.1,301.7 304.5,304.5 305.1,307.4 305.9,310.2 306.8,313.1 307.8,315.9 308.8,318.7 309.6,321.6 310.3,324.4 310.8,327.3" stroke="#5c5c5c" stroke-width="1.25"/>
<polyline points="314.0,263.0 314.9,265.9 315.8,268.8 316.5,271.6 317.0,274.5 317.2,277.4 317.1,280.2 316.9,283.1 316.4,286.0 315.8,288.9 315.2,291.7 314.6,294.6 314.1,297.5 313.7,300.3 313.6,303.2 313.7,306.1 314.1,309.0 314.7,311.8 315.5,314.7 316.5,317.6 317.4,320.4 318.4,323.3 319.3,326.2 319.9,329.1 320.4,331.9" stroke="#b6b6b8" stroke-width="0.9"/>
<polyline points="312.7,263.0 313.6,265.9 314.5,268.8 315.2,271.6 315.7,274.5 315.9,277.4 315.8,280.2 315.6,283.1 315.1,286.0 314.5,288.9 313.9,291.7 313.3,294.6 312.8,297.5 312.4,300.3 312.3,303.2 312.4,306.1 312.8,309.0 313.4,311.8 314.2,314.7 315.2,317.6 316.1,320.4 317.1,323.3 318.0,326.2 318.6,329.1 319.1,331.9" stroke="#5c5c5c" stroke-width="1.25"/>
<polyline points="322.4,267.0 323.3,269.9 324.2,272.8 324.9,275.7 325.3,278.6 325.6,281.5 325.5,284.4 325.3,287.3 324.8,290.2 324.2,293.1 323.6,296.0 322.9,298.9 322.4,301.8 322.1,304.7 322.0,307.6 322.1,310.5 322.5,313.4 323.1,316.3 323.9,319.2 324.8,322.1 325.8,325.0 326.7,327.9 327.6,330.8 328.3,333.7 328.7,336.6" stroke="#b6b6b8" stroke-width="0.9"/>
<polyline points="321.1,267.0 322.0,269.9 322.9,272.8 323.6,275.7 324.0,278.6 324.3,281.5 324.2,284.4 324.0,287.3 323.5,290.2 322.9,293.1 322.3,296.0 321.6,298.9 321.1,301.8 320.8,304.7 320.7,307.6 320.8,310.5 321.2,313.4 321.8,316.3 322.6,319.2 323.5,322.1 324.5,325.0 325.4,327.9 326.3,330.8 327.0,333.7 327.4,336.6" stroke="#5c5c5c" stroke-width="1.25"/>
<polyline points="330.8,271.1 331.8,274.0 332.6,276.9 333.3,279.8 333.7,282.8 334.0,285.7 333.9,288.6 333.6,291.5 333.2,294.5 332.6,297.4 331.9,300.3 331.3,303.2 330.8,306.2 330.5,309.1 330.3,312.0 330.4,314.9 330.8,317.9 331.4,320.8 332.2,323.7 333.1,326.6 334.1,329.5 335.1,332.5 335.9,335.4 336.6,338.3 337.1,341.2" stroke="#b6b6b8" stroke-width="0.9"/>
<polyline points="329.5,271.1 330.5,274.0 331.3,276.9 332.0,279.8 332.4,282.8 332.7,285.7 332.6,288.6 332.3,291.5 331.9,294.5 331.3,297.4 330.6,300.3 330.0,303.2 329.5,306.2 329.2,309.1 329.0,312.0 329.1,314.9 329.5,317.9 330.1,320.8 330.9,323.7 331.8,326.6 332.8,329.5 333.8,332.5 334.6,335.4 335.3,338.3 335.8,341.2" stroke="#5c5c5c" stroke-width="1.25"/>
<polyline points="339.2,275.1 340.2,278.1 341.0,281.0 341.7,284.0 342.1,286.9 342.4,289.9 342.3,292.8 342.0,295.8 341.6,298.7 341.0,301.6 340.3,304.6 339.7,307.5 339.2,310.5 338.8,313.4 338.7,316.4 338.8,319.3 339.2,322.3 339.8,325.2 340.6,328.2 341.5,331.1 342.5,334.1 343.4,337.0 344.3,340.0 344.9,342.9 345.4,345.9" stroke="#b6b6b8" stroke-width="0.9"/>
<polyline points="337.9,275.1 338.9,278.1 339.7,281.0 340.4,284.0 340.8,286.9 341.1,289.9 341.0,292.8 340.7,295.8 340.3,298.7 339.7,301.6 339.0,304.6 338.4,307.5 337.9,310.5 337.5,313.4 337.4,316.4 337.5,319.3 337.9,322.3 338.5,325.2 339.3,328.2 340.2,331.1 341.2,334.1 342.1,337.0 343.0,340.0 343.6,342.9 344.1,345.9" stroke="#5c5c5c" stroke-width="1.25"/>
</g>
<line x1="231" y1="221" x2="329" y2="268" stroke="#d6d6d6" stroke-width="2"/>
<polygon points="810.7,228.3 961.3,176.6 956.8,243.4 810.7,300.4" fill="#c6c6c6"  stroke="#c6c6c6" stroke-width="0.6" stroke-linejoin="round"/>
<polygon points="813.4,231.8 959.5,180.0 956.0,240.7 812.5,296.9" fill="url(#gPanelR)" />
<clipPath id="cpRP"><polygon points="813.4,231.8 959.5,180.0 956.0,240.7 812.5,296.9"/></clipPath>
<g clip-path="url(#cpRP)" fill="none">
<path d="M806.1,234.4 C803.9,243.5 810.3,254.0 810.1,265.1 C809.9,274.9 803.3,286.6 801.3,299.7" stroke="#b8b8ba" stroke-width="1.0" transform="translate(1.6,0)"/>
<path d="M806.1,234.4 C803.9,243.5 810.3,254.0 810.1,265.1 C809.9,274.9 803.3,286.6 801.3,299.7" stroke="#555" stroke-width="1.4"/>
<path d="M815.2,231.2 C813.0,240.3 819.4,250.7 819.2,261.7 C819.0,271.5 812.3,283.2 810.3,296.2" stroke="#b8b8ba" stroke-width="1.0" transform="translate(1.6,0)"/>
<path d="M815.2,231.2 C813.0,240.3 819.4,250.7 819.2,261.7 C819.0,271.5 812.3,283.2 810.3,296.2" stroke="#555" stroke-width="1.4"/>
<path d="M824.3,227.9 C822.1,237.0 828.5,247.4 828.3,258.4 C828.1,268.1 821.2,279.7 819.2,292.7" stroke="#b8b8ba" stroke-width="1.0" transform="translate(1.6,0)"/>
<path d="M824.3,227.9 C822.1,237.0 828.5,247.4 828.3,258.4 C828.1,268.1 821.2,279.7 819.2,292.7" stroke="#555" stroke-width="1.4"/>
<path d="M833.4,224.7 C831.2,233.7 837.6,244.1 837.4,255.0 C837.2,264.7 830.2,276.3 828.2,289.2" stroke="#b8b8ba" stroke-width="1.0" transform="translate(1.6,0)"/>
<path d="M833.4,224.7 C831.2,233.7 837.6,244.1 837.4,255.0 C837.2,264.7 830.2,276.3 828.2,289.2" stroke="#555" stroke-width="1.4"/>
<path d="M842.5,221.5 C840.3,230.5 846.7,240.7 846.5,251.7 C846.3,261.3 839.1,272.9 837.1,285.7" stroke="#b8b8ba" stroke-width="1.0" transform="translate(1.6,0)"/>
<path d="M842.5,221.5 C840.3,230.5 846.7,240.7 846.5,251.7 C846.3,261.3 839.1,272.9 837.1,285.7" stroke="#555" stroke-width="1.4"/>
<path d="M851.6,218.2 C849.4,227.2 855.8,237.4 855.6,248.3 C855.4,257.9 848.0,269.4 846.0,282.2" stroke="#b8b8ba" stroke-width="1.0" transform="translate(1.6,0)"/>
<path d="M851.6,218.2 C849.4,227.2 855.8,237.4 855.6,248.3 C855.4,257.9 848.0,269.4 846.0,282.2" stroke="#555" stroke-width="1.4"/>
<path d="M860.7,215.0 C858.5,223.9 864.9,234.1 864.7,244.9 C864.5,254.5 857.0,266.0 855.0,278.7" stroke="#b8b8ba" stroke-width="1.0" transform="translate(1.6,0)"/>
<path d="M860.7,215.0 C858.5,223.9 864.9,234.1 864.7,244.9 C864.5,254.5 857.0,266.0 855.0,278.7" stroke="#555" stroke-width="1.4"/>
<path d="M869.8,211.8 C867.6,220.7 874.0,230.8 873.8,241.6 C873.6,251.1 865.9,262.5 863.9,275.2" stroke="#b8b8ba" stroke-width="1.0" transform="translate(1.6,0)"/>
<path d="M869.8,211.8 C867.6,220.7 874.0,230.8 873.8,241.6 C873.6,251.1 865.9,262.5 863.9,275.2" stroke="#555" stroke-width="1.4"/>
<path d="M878.9,208.6 C876.7,217.4 883.1,227.5 882.9,238.2 C882.7,247.7 874.9,259.1 872.9,271.7" stroke="#b8b8ba" stroke-width="1.0" transform="translate(1.6,0)"/>
<path d="M878.9,208.6 C876.7,217.4 883.1,227.5 882.9,238.2 C882.7,247.7 874.9,259.1 872.9,271.7" stroke="#555" stroke-width="1.4"/>
<path d="M888.0,205.3 C885.8,214.1 892.2,224.2 892.0,234.9 C891.8,244.3 883.8,255.6 881.8,268.2" stroke="#b8b8ba" stroke-width="1.0" transform="translate(1.6,0)"/>
<path d="M888.0,205.3 C885.8,214.1 892.2,224.2 892.0,234.9 C891.8,244.3 883.8,255.6 881.8,268.2" stroke="#555" stroke-width="1.4"/>
<path d="M897.1,202.1 C894.9,210.9 901.3,220.9 901.1,231.5 C900.9,240.9 892.7,252.2 890.7,264.7" stroke="#b8b8ba" stroke-width="1.0" transform="translate(1.6,0)"/>
<path d="M897.1,202.1 C894.9,210.9 901.3,220.9 901.1,231.5 C900.9,240.9 892.7,252.2 890.7,264.7" stroke="#555" stroke-width="1.4"/>
<path d="M906.2,198.9 C904.0,207.6 910.4,217.6 910.2,228.2 C910.0,237.5 901.7,248.7 899.7,261.2" stroke="#b8b8ba" stroke-width="1.0" transform="translate(1.6,0)"/>
<path d="M906.2,198.9 C904.0,207.6 910.4,217.6 910.2,228.2 C910.0,237.5 901.7,248.7 899.7,261.2" stroke="#555" stroke-width="1.4"/>
<path d="M915.3,195.7 C913.1,204.3 919.5,214.3 919.3,224.8 C919.1,234.1 910.6,245.3 908.6,257.7" stroke="#b8b8ba" stroke-width="1.0" transform="translate(1.6,0)"/>
<path d="M915.3,195.7 C913.1,204.3 919.5,214.3 919.3,224.8 C919.1,234.1 910.6,245.3 908.6,257.7" stroke="#555" stroke-width="1.4"/>
<path d="M924.4,192.4 C922.2,201.1 928.6,211.0 928.4,221.5 C928.2,230.7 919.5,241.8 917.5,254.2" stroke="#b8b8ba" stroke-width="1.0" transform="translate(1.6,0)"/>
<path d="M924.4,192.4 C922.2,201.1 928.6,211.0 928.4,221.5 C928.2,230.7 919.5,241.8 917.5,254.2" stroke="#555" stroke-width="1.4"/>
<path d="M933.5,189.2 C931.3,197.8 937.7,207.7 937.5,218.1 C937.3,227.3 928.5,238.4 926.5,250.7" stroke="#b8b8ba" stroke-width="1.0" transform="translate(1.6,0)"/>
<path d="M933.5,189.2 C931.3,197.8 937.7,207.7 937.5,218.1 C937.3,227.3 928.5,238.4 926.5,250.7" stroke="#555" stroke-width="1.4"/>
<path d="M942.6,186.0 C940.4,194.6 946.8,204.3 946.6,214.8 C946.4,223.9 937.4,235.0 935.4,247.2" stroke="#b8b8ba" stroke-width="1.0" transform="translate(1.6,0)"/>
<path d="M942.6,186.0 C940.4,194.6 946.8,204.3 946.6,214.8 C946.4,223.9 937.4,235.0 935.4,247.2" stroke="#555" stroke-width="1.4"/>
<path d="M951.7,182.8 C949.5,191.3 955.9,201.0 955.7,211.4 C955.5,220.5 946.4,231.5 944.4,243.7" stroke="#b8b8ba" stroke-width="1.0" transform="translate(1.6,0)"/>
<path d="M951.7,182.8 C949.5,191.3 955.9,201.0 955.7,211.4 C955.5,220.5 946.4,231.5 944.4,243.7" stroke="#555" stroke-width="1.4"/>
<path d="M960.8,179.5 C958.6,188.0 965.0,197.7 964.8,208.0 C964.6,217.1 955.3,228.1 953.3,240.2" stroke="#b8b8ba" stroke-width="1.0" transform="translate(1.6,0)"/>
<path d="M960.8,179.5 C958.6,188.0 965.0,197.7 964.8,208.0 C964.6,217.1 955.3,228.1 953.3,240.2" stroke="#555" stroke-width="1.4"/>
<path d="M969.9,176.3 C967.7,184.8 974.1,194.4 973.9,204.7 C973.7,213.7 964.2,224.6 962.2,236.7" stroke="#b8b8ba" stroke-width="1.0" transform="translate(1.6,0)"/>
<path d="M969.9,176.3 C967.7,184.8 974.1,194.4 973.9,204.7 C973.7,213.7 964.2,224.6 962.2,236.7" stroke="#555" stroke-width="1.4"/>
</g>
<line x1="811" y1="230" x2="961" y2="178" stroke="#d6d6d6" stroke-width="2"/>
<line x1="848.0" y1="224.0" x2="847.0" y2="288.0" stroke="#4a4a4a" stroke-width="1.2" />
<polygon points="892.0,204.0 905.0,200.0 905.0,210.0 893.0,214.0" fill="#f2f2f2"  stroke="#f2f2f2" stroke-width="0.6" stroke-linejoin="round"/>
<polygon points="888.0,208.0 892.0,204.0 893.0,214.0 889.0,215.0" fill="#555"  stroke="#555" stroke-width="0.6" stroke-linejoin="round"/>
<ellipse cx="881" cy="240.5" rx="3.2" ry="3.8" fill="#e8e8e8" transform="rotate(20 881 240.5)"/>
<polygon points="335.0,336.0 489.0,419.0 489.0,426.5 335.0,343.0" fill="#f5e4ad"  stroke="#f5e4ad" stroke-width="0.6" stroke-linejoin="round"/>
<polygon points="489.0,419.0 807.5,294.3 807.5,300.5 489.0,426.5" fill="#f7e8b8"  stroke="#f7e8b8" stroke-width="0.6" stroke-linejoin="round"/>
<polygon points="443.5,394.5 629.8,325.0 676.4,345.0 489.0,419.0" fill="#fbefc8"  stroke="#fbefc8" stroke-width="0.6" stroke-linejoin="round"/>
<polygon points="443.5,394.5 629.8,325.0 676.4,345.0 489.0,419.0" fill="url(#latexdots)" />
<polygon points="335.0,332.6 417.7,376.8 442.0,368.7 444.3,367.9 458.0,376.6 637.0,313.0 673.5,326.7 696.7,316.5 721.0,326.0 807.5,291.0 807.5,294.3 676.4,345.0 629.8,325.0 443.5,394.5 335.0,336.0" fill="url(#coco)" />
<polygon points="444.0,366.0 645.0,294.5 696.7,316.5 673.5,326.7 637.0,313.0 458.0,376.6" fill="url(#mesh)" />
<polygon points="370.0,300.0 657.7,209.0 780.4,250.5 757.6,246.0 699.0,267.0 645.0,243.0 442.0,311.0 441.3,315.0 395.9,292.4" fill="#cbcbce"  stroke="#cbcbce" stroke-width="0.6" stroke-linejoin="round"/>
<clipPath id="cpST"><polygon points="370.0,300.0 657.7,209.0 780.4,250.5 757.6,246.0 699.0,267.0 645.0,243.0 442.0,311.0 441.3,315.0 395.9,292.4"/></clipPath>
<g clip-path="url(#cpST)">
<rect x="765.1" y="195.2" width="8.6" height="14" fill="url(#gCyl)"/>
<ellipse cx="769.4" cy="195.2" rx="4.3" ry="2.5" fill="#f9f9f9" stroke="#c4c4c8" stroke-width="0.5"/>
<rect x="476.5" y="195.2" width="8.6" height="14" fill="url(#gCyl)"/>
<ellipse cx="480.8" cy="195.2" rx="4.3" ry="2.5" fill="#f9f9f9" stroke="#c4c4c8" stroke-width="0.5"/>
<rect x="784.9" y="195.5" width="8.6" height="14" fill="url(#gCyl)"/>
<ellipse cx="789.2" cy="195.5" rx="4.3" ry="2.5" fill="#f9f9f9" stroke="#c4c4c8" stroke-width="0.5"/>
<rect x="496.3" y="195.5" width="8.6" height="14" fill="url(#gCyl)"/>
<ellipse cx="500.6" cy="195.5" rx="4.3" ry="2.5" fill="#f9f9f9" stroke="#c4c4c8" stroke-width="0.5"/>
<rect x="516.2" y="195.8" width="8.6" height="14" fill="url(#gCyl)"/>
<ellipse cx="520.5" cy="195.8" rx="4.3" ry="2.5" fill="#f9f9f9" stroke="#c4c4c8" stroke-width="0.5"/>
<rect x="536.0" y="196.0" width="8.6" height="14" fill="url(#gCyl)"/>
<ellipse cx="540.3" cy="196.0" rx="4.3" ry="2.5" fill="#f9f9f9" stroke="#c4c4c8" stroke-width="0.5"/>
<rect x="555.9" y="196.3" width="8.6" height="14" fill="url(#gCyl)"/>
<ellipse cx="560.2" cy="196.3" rx="4.3" ry="2.5" fill="#f9f9f9" stroke="#c4c4c8" stroke-width="0.5"/>
<rect x="575.7" y="196.5" width="8.6" height="14" fill="url(#gCyl)"/>
<ellipse cx="580.0" cy="196.5" rx="4.3" ry="2.5" fill="#f9f9f9" stroke="#c4c4c8" stroke-width="0.5"/>
<rect x="595.6" y="196.8" width="8.6" height="14" fill="url(#gCyl)"/>
<ellipse cx="599.9" cy="196.8" rx="4.3" ry="2.5" fill="#f9f9f9" stroke="#c4c4c8" stroke-width="0.5"/>
<rect x="615.4" y="197.0" width="8.6" height="14" fill="url(#gCyl)"/>
<ellipse cx="619.7" cy="197.0" rx="4.3" ry="2.5" fill="#f9f9f9" stroke="#c4c4c8" stroke-width="0.5"/>
<rect x="635.3" y="197.3" width="8.6" height="14" fill="url(#gCyl)"/>
<ellipse cx="639.6" cy="197.3" rx="4.3" ry="2.5" fill="#f9f9f9" stroke="#c4c4c8" stroke-width="0.5"/>
<rect x="655.1" y="197.5" width="8.6" height="14" fill="url(#gCyl)"/>
<ellipse cx="659.4" cy="197.5" rx="4.3" ry="2.5" fill="#f9f9f9" stroke="#c4c4c8" stroke-width="0.5"/>
<rect x="366.6" y="197.6" width="8.6" height="14" fill="url(#gCyl)"/>
<ellipse cx="370.9" cy="197.6" rx="4.3" ry="2.5" fill="#f9f9f9" stroke="#c4c4c8" stroke-width="0.5"/>
<rect x="675.0" y="197.8" width="8.6" height="14" fill="url(#gCyl)"/>
<ellipse cx="679.3" cy="197.8" rx="4.3" ry="2.5" fill="#f9f9f9" stroke="#c4c4c8" stroke-width="0.5"/>
<rect x="386.4" y="197.8" width="8.6" height="14" fill="url(#gCyl)"/>
<ellipse cx="390.7" cy="197.8" rx="4.3" ry="2.5" fill="#f9f9f9" stroke="#c4c4c8" stroke-width="0.5"/>
<rect x="694.8" y="198.0" width="8.6" height="14" fill="url(#gCyl)"/>
<ellipse cx="699.1" cy="198.0" rx="4.3" ry="2.5" fill="#f9f9f9" stroke="#c4c4c8" stroke-width="0.5"/>
<rect x="406.3" y="198.1" width="8.6" height="14" fill="url(#gCyl)"/>
<ellipse cx="410.6" cy="198.1" rx="4.3" ry="2.5" fill="#f9f9f9" stroke="#c4c4c8" stroke-width="0.5"/>
<rect x="714.7" y="198.3" width="8.6" height="14" fill="url(#gCyl)"/>
<ellipse cx="719.0" cy="198.3" rx="4.3" ry="2.5" fill="#f9f9f9" stroke="#c4c4c8" stroke-width="0.5"/>
<rect x="426.1" y="198.3" width="8.6" height="14" fill="url(#gCyl)"/>
<ellipse cx="430.4" cy="198.3" rx="4.3" ry="2.5" fill="#f9f9f9" stroke="#c4c4c8" stroke-width="0.5"/>
<rect x="734.6" y="198.6" width="8.6" height="14" fill="url(#gCyl)"/>
<ellipse cx="738.9" cy="198.6" rx="4.3" ry="2.5" fill="#f9f9f9" stroke="#c4c4c8" stroke-width="0.5"/>
<rect x="446.0" y="198.6" width="8.6" height="14" fill="url(#gCyl)"/>
<ellipse cx="450.3" cy="198.6" rx="4.3" ry="2.5" fill="#f9f9f9" stroke="#c4c4c8" stroke-width="0.5"/>
<rect x="754.4" y="198.8" width="8.6" height="14" fill="url(#gCyl)"/>
<ellipse cx="758.7" cy="198.8" rx="4.3" ry="2.5" fill="#f9f9f9" stroke="#c4c4c8" stroke-width="0.5"/>
<rect x="465.8" y="198.8" width="8.6" height="14" fill="url(#gCyl)"/>
<ellipse cx="470.1" cy="198.8" rx="4.3" ry="2.5" fill="#f9f9f9" stroke="#c4c4c8" stroke-width="0.5"/>
<rect x="774.3" y="199.1" width="8.6" height="14" fill="url(#gCyl)"/>
<ellipse cx="778.6" cy="199.1" rx="4.3" ry="2.5" fill="#f9f9f9" stroke="#c4c4c8" stroke-width="0.5"/>
<rect x="485.7" y="199.1" width="8.6" height="14" fill="url(#gCyl)"/>
<ellipse cx="490.0" cy="199.1" rx="4.3" ry="2.5" fill="#f9f9f9" stroke="#c4c4c8" stroke-width="0.5"/>
<rect x="794.1" y="199.3" width="8.6" height="14" fill="url(#gCyl)"/>
<ellipse cx="798.4" cy="199.3" rx="4.3" ry="2.5" fill="#f9f9f9" stroke="#c4c4c8" stroke-width="0.5"/>
<rect x="505.5" y="199.3" width="8.6" height="14" fill="url(#gCyl)"/>
<ellipse cx="509.8" cy="199.3" rx="4.3" ry="2.5" fill="#f9f9f9" stroke="#c4c4c8" stroke-width="0.5"/>
<rect x="525.4" y="199.6" width="8.6" height="14" fill="url(#gCyl)"/>
<ellipse cx="529.7" cy="199.6" rx="4.3" ry="2.5" fill="#f9f9f9" stroke="#c4c4c8" stroke-width="0.5"/>
<rect x="545.2" y="199.8" width="8.6" height="14" fill="url(#gCyl)"/>
<ellipse cx="549.5" cy="199.8" rx="4.3" ry="2.5" fill="#f9f9f9" stroke="#c4c4c8" stroke-width="0.5"/>
<rect x="565.1" y="200.1" width="8.6" height="14" fill="url(#gCyl)"/>
<ellipse cx="569.4" cy="200.1" rx="4.3" ry="2.5" fill="#f9f9f9" stroke="#c4c4c8" stroke-width="0.5"/>
<rect x="584.9" y="200.4" width="8.6" height="14" fill="url(#gCyl)"/>
<ellipse cx="589.2" cy="200.4" rx="4.3" ry="2.5" fill="#f9f9f9" stroke="#c4c4c8" stroke-width="0.5"/>
<rect x="604.8" y="200.6" width="8.6" height="14" fill="url(#gCyl)"/>
<ellipse cx="609.1" cy="200.6" rx="4.3" ry="2.5" fill="#f9f9f9" stroke="#c4c4c8" stroke-width="0.5"/>
<rect x="624.6" y="200.9" width="8.6" height="14" fill="url(#gCyl)"/>
<ellipse cx="628.9" cy="200.9" rx="4.3" ry="2.5" fill="#f9f9f9" stroke="#c4c4c8" stroke-width="0.5"/>
<rect x="644.5" y="201.1" width="8.6" height="14" fill="url(#gCyl)"/>
<ellipse cx="648.8" cy="201.1" rx="4.3" ry="2.5" fill="#f9f9f9" stroke="#c4c4c8" stroke-width="0.5"/>
<rect x="355.9" y="201.1" width="8.6" height="14" fill="url(#gCyl)"/>
<ellipse cx="360.2" cy="201.1" rx="4.3" ry="2.5" fill="#f9f9f9" stroke="#c4c4c8" stroke-width="0.5"/>
<rect x="664.3" y="201.4" width="8.6" height="14" fill="url(#gCyl)"/>
<ellipse cx="668.6" cy="201.4" rx="4.3" ry="2.5" fill="#f9f9f9" stroke="#c4c4c8" stroke-width="0.5"/>
<rect x="375.7" y="201.4" width="8.6" height="14" fill="url(#gCyl)"/>
<ellipse cx="380.0" cy="201.4" rx="4.3" ry="2.5" fill="#f9f9f9" stroke="#c4c4c8" stroke-width="0.5"/>
<rect x="684.2" y="201.6" width="8.6" height="14" fill="url(#gCyl)"/>
<ellipse cx="688.5" cy="201.6" rx="4.3" ry="2.5" fill="#f9f9f9" stroke="#c4c4c8" stroke-width="0.5"/>
<rect x="395.6" y="201.6" width="8.6" height="14" fill="url(#gCyl)"/>
<ellipse cx="399.9" cy="201.6" rx="4.3" ry="2.5" fill="#f9f9f9" stroke="#c4c4c8" stroke-width="0.5"/>
<rect x="704.0" y="201.9" width="8.6" height="14" fill="url(#gCyl)"/>
<ellipse cx="708.3" cy="201.9" rx="4.3" ry="2.5" fill="#f9f9f9" stroke="#c4c4c8" stroke-width="0.5"/>
<rect x="415.4" y="201.9" width="8.6" height="14" fill="url(#gCyl)"/>
<ellipse cx="419.7" cy="201.9" rx="4.3" ry="2.5" fill="#f9f9f9" stroke="#c4c4c8" stroke-width="0.5"/>
<rect x="723.9" y="202.1" width="8.6" height="14" fill="url(#gCyl)"/>
<ellipse cx="728.2" cy="202.1" rx="4.3" ry="2.5" fill="#f9f9f9" stroke="#c4c4c8" stroke-width="0.5"/>
<rect x="435.3" y="202.2" width="8.6" height="14" fill="url(#gCyl)"/>
<ellipse cx="439.6" cy="202.2" rx="4.3" ry="2.5" fill="#f9f9f9" stroke="#c4c4c8" stroke-width="0.5"/>
<rect x="743.7" y="202.4" width="8.6" height="14" fill="url(#gCyl)"/>
<ellipse cx="748.0" cy="202.4" rx="4.3" ry="2.5" fill="#f9f9f9" stroke="#c4c4c8" stroke-width="0.5"/>
<rect x="455.1" y="202.4" width="8.6" height="14" fill="url(#gCyl)"/>
<ellipse cx="459.4" cy="202.4" rx="4.3" ry="2.5" fill="#f9f9f9" stroke="#c4c4c8" stroke-width="0.5"/>
<rect x="763.6" y="202.6" width="8.6" height="14" fill="url(#gCyl)"/>
<ellipse cx="767.9" cy="202.6" rx="4.3" ry="2.5" fill="#f9f9f9" stroke="#c4c4c8" stroke-width="0.5"/>
<rect x="475.0" y="202.7" width="8.6" height="14" fill="url(#gCyl)"/>
<ellipse cx="479.3" cy="202.7" rx="4.3" ry="2.5" fill="#f9f9f9" stroke="#c4c4c8" stroke-width="0.5"/>
<rect x="783.4" y="202.9" width="8.6" height="14" fill="url(#gCyl)"/>
<ellipse cx="787.7" cy="202.9" rx="4.3" ry="2.5" fill="#f9f9f9" stroke="#c4c4c8" stroke-width="0.5"/>
<rect x="494.8" y="202.9" width="8.6" height="14" fill="url(#gCyl)"/>
<ellipse cx="499.1" cy="202.9" rx="4.3" ry="2.5" fill="#f9f9f9" stroke="#c4c4c8" stroke-width="0.5"/>
<rect x="514.7" y="203.2" width="8.6" height="14" fill="url(#gCyl)"/>
<ellipse cx="519.0" cy="203.2" rx="4.3" ry="2.5" fill="#f9f9f9" stroke="#c4c4c8" stroke-width="0.5"/>
<rect x="534.5" y="203.4" width="8.6" height="14" fill="url(#gCyl)"/>
<ellipse cx="538.8" cy="203.4" rx="4.3" ry="2.5" fill="#f9f9f9" stroke="#c4c4c8" stroke-width="0.5"/>
<rect x="554.4" y="203.7" width="8.6" height="14" fill="url(#gCyl)"/>
<ellipse cx="558.7" cy="203.7" rx="4.3" ry="2.5" fill="#f9f9f9" stroke="#c4c4c8" stroke-width="0.5"/>
<rect x="574.2" y="203.9" width="8.6" height="14" fill="url(#gCyl)"/>
<ellipse cx="578.5" cy="203.9" rx="4.3" ry="2.5" fill="#f9f9f9" stroke="#c4c4c8" stroke-width="0.5"/>
<rect x="594.1" y="204.2" width="8.6" height="14" fill="url(#gCyl)"/>
<ellipse cx="598.4" cy="204.2" rx="4.3" ry="2.5" fill="#f9f9f9" stroke="#c4c4c8" stroke-width="0.5"/>
<rect x="613.9" y="204.4" width="8.6" height="14" fill="url(#gCyl)"/>
<ellipse cx="618.2" cy="204.4" rx="4.3" ry="2.5" fill="#f9f9f9" stroke="#c4c4c8" stroke-width="0.5"/>
<rect x="633.8" y="204.7" width="8.6" height="14" fill="url(#gCyl)"/>
<ellipse cx="638.1" cy="204.7" rx="4.3" ry="2.5" fill="#f9f9f9" stroke="#c4c4c8" stroke-width="0.5"/>
<rect x="653.6" y="204.9" width="8.6" height="14" fill="url(#gCyl)"/>
<ellipse cx="657.9" cy="204.9" rx="4.3" ry="2.5" fill="#f9f9f9" stroke="#c4c4c8" stroke-width="0.5"/>
<rect x="365.0" y="205.0" width="8.6" height="14" fill="url(#gCyl)"/>
<ellipse cx="369.3" cy="205.0" rx="4.3" ry="2.5" fill="#f9f9f9" stroke="#c4c4c8" stroke-width="0.5"/>
<rect x="673.5" y="205.2" width="8.6" height="14" fill="url(#gCyl)"/>
<ellipse cx="677.8" cy="205.2" rx="4.3" ry="2.5" fill="#f9f9f9" stroke="#c4c4c8" stroke-width="0.5"/>
<rect x="384.9" y="205.2" width="8.6" height="14" fill="url(#gCyl)"/>
<ellipse cx="389.2" cy="205.2" rx="4.3" ry="2.5" fill="#f9f9f9" stroke="#c4c4c8" stroke-width="0.5"/>
<rect x="693.3" y="205.5" width="8.6" height="14" fill="url(#gCyl)"/>
<ellipse cx="697.6" cy="205.5" rx="4.3" ry="2.5" fill="#f9f9f9" stroke="#c4c4c8" stroke-width="0.5"/>
<rect x="404.7" y="205.5" width="8.6" height="14" fill="url(#gCyl)"/>
<ellipse cx="409.0" cy="205.5" rx="4.3" ry="2.5" fill="#f9f9f9" stroke="#c4c4c8" stroke-width="0.5"/>
<rect x="713.2" y="205.7" width="8.6" height="14" fill="url(#gCyl)"/>
<ellipse cx="717.5" cy="205.7" rx="4.3" ry="2.5" fill="#f9f9f9" stroke="#c4c4c8" stroke-width="0.5"/>
<rect x="424.6" y="205.7" width="8.6" height="14" fill="url(#gCyl)"/>
<ellipse cx="428.9" cy="205.7" rx="4.3" ry="2.5" fill="#f9f9f9" stroke="#c4c4c8" stroke-width="0.5"/>
<rect x="733.0" y="206.0" width="8.6" height="14" fill="url(#gCyl)"/>
<ellipse cx="737.3" cy="206.0" rx="4.3" ry="2.5" fill="#f9f9f9" stroke="#c4c4c8" stroke-width="0.5"/>
<rect x="444.4" y="206.0" width="8.6" height="14" fill="url(#gCyl)"/>
<ellipse cx="448.7" cy="206.0" rx="4.3" ry="2.5" fill="#f9f9f9" stroke="#c4c4c8" stroke-width="0.5"/>
<rect x="752.9" y="206.2" width="8.6" height="14" fill="url(#gCyl)"/>
<ellipse cx="757.2" cy="206.2" rx="4.3" ry="2.5" fill="#f9f9f9" stroke="#c4c4c8" stroke-width="0.5"/>
<rect x="464.3" y="206.2" width="8.6" height="14" fill="url(#gCyl)"/>
<ellipse cx="468.6" cy="206.2" rx="4.3" ry="2.5" fill="#f9f9f9" stroke="#c4c4c8" stroke-width="0.5"/>
<rect x="772.7" y="206.5" width="8.6" height="14" fill="url(#gCyl)"/>
<ellipse cx="777.0" cy="206.5" rx="4.3" ry="2.5" fill="#f9f9f9" stroke="#c4c4c8" stroke-width="0.5"/>
<rect x="484.1" y="206.5" width="8.6" height="14" fill="url(#gCyl)"/>
<ellipse cx="488.4" cy="206.5" rx="4.3" ry="2.5" fill="#f9f9f9" stroke="#c4c4c8" stroke-width="0.5"/>
<rect x="792.6" y="206.7" width="8.6" height="14" fill="url(#gCyl)"/>
<ellipse cx="796.9" cy="206.7" rx="4.3" ry="2.5" fill="#f9f9f9" stroke="#c4c4c8" stroke-width="0.5"/>
<rect x="504.0" y="206.7" width="8.6" height="14" fill="url(#gCyl)"/>
<ellipse cx="508.3" cy="206.7" rx="4.3" ry="2.5" fill="#f9f9f9" stroke="#c4c4c8" stroke-width="0.5"/>
<rect x="523.8" y="207.0" width="8.6" height="14" fill="url(#gCyl)"/>
<ellipse cx="528.1" cy="207.0" rx="4.3" ry="2.5" fill="#f9f9f9" stroke="#c4c4c8" stroke-width="0.5"/>
<rect x="543.7" y="207.3" width="8.6" height="14" fill="url(#gCyl)"/>
<ellipse cx="548.0" cy="207.3" rx="4.3" ry="2.5" fill="#f9f9f9" stroke="#c4c4c8" stroke-width="0.5"/>
<rect x="563.5" y="207.5" width="8.6" height="14" fill="url(#gCyl)"/>
<ellipse cx="567.8" cy="207.5" rx="4.3" ry="2.5" fill="#f9f9f9" stroke="#c4c4c8" stroke-width="0.5"/>
<rect x="583.4" y="207.8" width="8.6" height="14" fill="url(#gCyl)"/>
<ellipse cx="587.7" cy="207.8" rx="4.3" ry="2.5" fill="#f9f9f9" stroke="#c4c4c8" stroke-width="0.5"/>
<rect x="603.2" y="208.0" width="8.6" height="14" fill="url(#gCyl)"/>
<ellipse cx="607.5" cy="208.0" rx="4.3" ry="2.5" fill="#f9f9f9" stroke="#c4c4c8" stroke-width="0.5"/>
<rect x="623.1" y="208.3" width="8.6" height="14" fill="url(#gCyl)"/>
<ellipse cx="627.4" cy="208.3" rx="4.3" ry="2.5" fill="#f9f9f9" stroke="#c4c4c8" stroke-width="0.5"/>
<rect x="642.9" y="208.5" width="8.6" height="14" fill="url(#gCyl)"/>
<ellipse cx="647.2" cy="208.5" rx="4.3" ry="2.5" fill="#f9f9f9" stroke="#c4c4c8" stroke-width="0.5"/>
<rect x="662.8" y="208.8" width="8.6" height="14" fill="url(#gCyl)"/>
<ellipse cx="667.1" cy="208.8" rx="4.3" ry="2.5" fill="#f9f9f9" stroke="#c4c4c8" stroke-width="0.5"/>
<rect x="374.2" y="208.8" width="8.6" height="14" fill="url(#gCyl)"/>
<ellipse cx="378.5" cy="208.8" rx="4.3" ry="2.5" fill="#f9f9f9" stroke="#c4c4c8" stroke-width="0.5"/>
<rect x="682.6" y="209.0" width="8.6" height="14" fill="url(#gCyl)"/>
<ellipse cx="686.9" cy="209.0" rx="4.3" ry="2.5" fill="#f9f9f9" stroke="#c4c4c8" stroke-width="0.5"/>
<rect x="394.1" y="209.1" width="8.6" height="14" fill="url(#gCyl)"/>
<ellipse cx="398.4" cy="209.1" rx="4.3" ry="2.5" fill="#f9f9f9" stroke="#c4c4c8" stroke-width="0.5"/>
<rect x="702.5" y="209.3" width="8.6" height="14" fill="url(#gCyl)"/>
<ellipse cx="706.8" cy="209.3" rx="4.3" ry="2.5" fill="#f9f9f9" stroke="#c4c4c8" stroke-width="0.5"/>
<rect x="413.9" y="209.3" width="8.6" height="14" fill="url(#gCyl)"/>
<ellipse cx="418.2" cy="209.3" rx="4.3" ry="2.5" fill="#f9f9f9" stroke="#c4c4c8" stroke-width="0.5"/>
<rect x="722.3" y="209.5" width="8.6" height="14" fill="url(#gCyl)"/>
<ellipse cx="726.6" cy="209.5" rx="4.3" ry="2.5" fill="#f9f9f9" stroke="#c4c4c8" stroke-width="0.5"/>
<rect x="433.8" y="209.6" width="8.6" height="14" fill="url(#gCyl)"/>
<ellipse cx="438.1" cy="209.6" rx="4.3" ry="2.5" fill="#f9f9f9" stroke="#c4c4c8" stroke-width="0.5"/>
<rect x="742.2" y="209.8" width="8.6" height="14" fill="url(#gCyl)"/>
<ellipse cx="746.5" cy="209.8" rx="4.3" ry="2.5" fill="#f9f9f9" stroke="#c4c4c8" stroke-width="0.5"/>
<rect x="453.6" y="209.8" width="8.6" height="14" fill="url(#gCyl)"/>
<ellipse cx="457.9" cy="209.8" rx="4.3" ry="2.5" fill="#f9f9f9" stroke="#c4c4c8" stroke-width="0.5"/>
<rect x="762.1" y="210.1" width="8.6" height="14" fill="url(#gCyl)"/>
<ellipse cx="766.4" cy="210.1" rx="4.3" ry="2.5" fill="#f9f9f9" stroke="#c4c4c8" stroke-width="0.5"/>
<rect x="473.5" y="210.1" width="8.6" height="14" fill="url(#gCyl)"/>
<ellipse cx="477.8" cy="210.1" rx="4.3" ry="2.5" fill="#f9f9f9" stroke="#c4c4c8" stroke-width="0.5"/>
<rect x="781.9" y="210.3" width="8.6" height="14" fill="url(#gCyl)"/>
<ellipse cx="786.2" cy="210.3" rx="4.3" ry="2.5" fill="#f9f9f9" stroke="#c4c4c8" stroke-width="0.5"/>
<rect x="493.3" y="210.3" width="8.6" height="14" fill="url(#gCyl)"/>
<ellipse cx="497.6" cy="210.3" rx="4.3" ry="2.5" fill="#f9f9f9" stroke="#c4c4c8" stroke-width="0.5"/>
<rect x="513.2" y="210.6" width="8.6" height="14" fill="url(#gCyl)"/>
<ellipse cx="517.5" cy="210.6" rx="4.3" ry="2.5" fill="#f9f9f9" stroke="#c4c4c8" stroke-width="0.5"/>
<rect x="533.0" y="210.8" width="8.6" height="14" fill="url(#gCyl)"/>
<ellipse cx="537.3" cy="210.8" rx="4.3" ry="2.5" fill="#f9f9f9" stroke="#c4c4c8" stroke-width="0.5"/>
<rect x="552.9" y="211.1" width="8.6" height="14" fill="url(#gCyl)"/>
<ellipse cx="557.2" cy="211.1" rx="4.3" ry="2.5" fill="#f9f9f9" stroke="#c4c4c8" stroke-width="0.5"/>
<rect x="572.7" y="211.3" width="8.6" height="14" fill="url(#gCyl)"/>
<ellipse cx="577.0" cy="211.3" rx="4.3" ry="2.5" fill="#f9f9f9" stroke="#c4c4c8" stroke-width="0.5"/>
<rect x="592.6" y="211.6" width="8.6" height="14" fill="url(#gCyl)"/>
<ellipse cx="596.9" cy="211.6" rx="4.3" ry="2.5" fill="#f9f9f9" stroke="#c4c4c8" stroke-width="0.5"/>
<rect x="612.4" y="211.9" width="8.6" height="14" fill="url(#gCyl)"/>
<ellipse cx="616.7" cy="211.9" rx="4.3" ry="2.5" fill="#f9f9f9" stroke="#c4c4c8" stroke-width="0.5"/>
<rect x="632.3" y="212.1" width="8.6" height="14" fill="url(#gCyl)"/>
<ellipse cx="636.6" cy="212.1" rx="4.3" ry="2.5" fill="#f9f9f9" stroke="#c4c4c8" stroke-width="0.5"/>
<rect x="652.1" y="212.4" width="8.6" height="14" fill="url(#gCyl)"/>
<ellipse cx="656.4" cy="212.4" rx="4.3" ry="2.5" fill="#f9f9f9" stroke="#c4c4c8" stroke-width="0.5"/>
<rect x="363.5" y="212.4" width="8.6" height="14" fill="url(#gCyl)"/>
<ellipse cx="367.8" cy="212.4" rx="4.3" ry="2.5" fill="#f9f9f9" stroke="#c4c4c8" stroke-width="0.5"/>
<rect x="672.0" y="212.6" width="8.6" height="14" fill="url(#gCyl)"/>
<ellipse cx="676.3" cy="212.6" rx="4.3" ry="2.5" fill="#f9f9f9" stroke="#c4c4c8" stroke-width="0.5"/>
<rect x="383.4" y="212.6" width="8.6" height="14" fill="url(#gCyl)"/>
<ellipse cx="387.7" cy="212.6" rx="4.3" ry="2.5" fill="#f9f9f9" stroke="#c4c4c8" stroke-width="0.5"/>
<rect x="691.8" y="212.9" width="8.6" height="14" fill="url(#gCyl)"/>
<ellipse cx="696.1" cy="212.9" rx="4.3" ry="2.5" fill="#f9f9f9" stroke="#c4c4c8" stroke-width="0.5"/>
<rect x="403.2" y="212.9" width="8.6" height="14" fill="url(#gCyl)"/>
<ellipse cx="407.5" cy="212.9" rx="4.3" ry="2.5" fill="#f9f9f9" stroke="#c4c4c8" stroke-width="0.5"/>
<rect x="711.7" y="213.1" width="8.6" height="14" fill="url(#gCyl)"/>
<ellipse cx="716.0" cy="213.1" rx="4.3" ry="2.5" fill="#f9f9f9" stroke="#c4c4c8" stroke-width="0.5"/>
<rect x="423.1" y="213.1" width="8.6" height="14" fill="url(#gCyl)"/>
<ellipse cx="427.4" cy="213.1" rx="4.3" ry="2.5" fill="#f9f9f9" stroke="#c4c4c8" stroke-width="0.5"/>
<rect x="731.5" y="213.4" width="8.6" height="14" fill="url(#gCyl)"/>
<ellipse cx="735.8" cy="213.4" rx="4.3" ry="2.5" fill="#f9f9f9" stroke="#c4c4c8" stroke-width="0.5"/>
<rect x="442.9" y="213.4" width="8.6" height="14" fill="url(#gCyl)"/>
<ellipse cx="447.2" cy="213.4" rx="4.3" ry="2.5" fill="#f9f9f9" stroke="#c4c4c8" stroke-width="0.5"/>
<rect x="751.4" y="213.6" width="8.6" height="14" fill="url(#gCyl)"/>
<ellipse cx="755.7" cy="213.6" rx="4.3" ry="2.5" fill="#f9f9f9" stroke="#c4c4c8" stroke-width="0.5"/>
<rect x="462.8" y="213.7" width="8.6" height="14" fill="url(#gCyl)"/>
<ellipse cx="467.1" cy="213.7" rx="4.3" ry="2.5" fill="#f9f9f9" stroke="#c4c4c8" stroke-width="0.5"/>
<rect x="771.2" y="213.9" width="8.6" height="14" fill="url(#gCyl)"/>
<ellipse cx="775.5" cy="213.9" rx="4.3" ry="2.5" fill="#f9f9f9" stroke="#c4c4c8" stroke-width="0.5"/>
<rect x="482.6" y="213.9" width="8.6" height="14" fill="url(#gCyl)"/>
<ellipse cx="486.9" cy="213.9" rx="4.3" ry="2.5" fill="#f9f9f9" stroke="#c4c4c8" stroke-width="0.5"/>
<rect x="791.1" y="214.1" width="8.6" height="14" fill="url(#gCyl)"/>
<ellipse cx="795.4" cy="214.1" rx="4.3" ry="2.5" fill="#f9f9f9" stroke="#c4c4c8" stroke-width="0.5"/>
<rect x="502.5" y="214.2" width="8.6" height="14" fill="url(#gCyl)"/>
<ellipse cx="506.8" cy="214.2" rx="4.3" ry="2.5" fill="#f9f9f9" stroke="#c4c4c8" stroke-width="0.5"/>
<rect x="522.3" y="214.4" width="8.6" height="14" fill="url(#gCyl)"/>
<ellipse cx="526.6" cy="214.4" rx="4.3" ry="2.5" fill="#f9f9f9" stroke="#c4c4c8" stroke-width="0.5"/>
<rect x="542.2" y="214.7" width="8.6" height="14" fill="url(#gCyl)"/>
<ellipse cx="546.5" cy="214.7" rx="4.3" ry="2.5" fill="#f9f9f9" stroke="#c4c4c8" stroke-width="0.5"/>
<rect x="562.0" y="214.9" width="8.6" height="14" fill="url(#gCyl)"/>
<ellipse cx="566.3" cy="214.9" rx="4.3" ry="2.5" fill="#f9f9f9" stroke="#c4c4c8" stroke-width="0.5"/>
<rect x="581.9" y="215.2" width="8.6" height="14" fill="url(#gCyl)"/>
<ellipse cx="586.2" cy="215.2" rx="4.3" ry="2.5" fill="#f9f9f9" stroke="#c4c4c8" stroke-width="0.5"/>
<rect x="601.7" y="215.4" width="8.6" height="14" fill="url(#gCyl)"/>
<ellipse cx="606.0" cy="215.4" rx="4.3" ry="2.5" fill="#f9f9f9" stroke="#c4c4c8" stroke-width="0.5"/>
<rect x="621.6" y="215.7" width="8.6" height="14" fill="url(#gCyl)"/>
<ellipse cx="625.9" cy="215.7" rx="4.3" ry="2.5" fill="#f9f9f9" stroke="#c4c4c8" stroke-width="0.5"/>
<rect x="641.4" y="215.9" width="8.6" height="14" fill="url(#gCyl)"/>
<ellipse cx="645.7" cy="215.9" rx="4.3" ry="2.5" fill="#f9f9f9" stroke="#c4c4c8" stroke-width="0.5"/>
<rect x="661.3" y="216.2" width="8.6" height="14" fill="url(#gCyl)"/>
<ellipse cx="665.6" cy="216.2" rx="4.3" ry="2.5" fill="#f9f9f9" stroke="#c4c4c8" stroke-width="0.5"/>
<rect x="372.7" y="216.2" width="8.6" height="14" fill="url(#gCyl)"/>
<ellipse cx="377.0" cy="216.2" rx="4.3" ry="2.5" fill="#f9f9f9" stroke="#c4c4c8" stroke-width="0.5"/>
<rect x="681.1" y="216.4" width="8.6" height="14" fill="url(#gCyl)"/>
<ellipse cx="685.4" cy="216.4" rx="4.3" ry="2.5" fill="#f9f9f9" stroke="#c4c4c8" stroke-width="0.5"/>
<rect x="392.5" y="216.5" width="8.6" height="14" fill="url(#gCyl)"/>
<ellipse cx="396.8" cy="216.5" rx="4.3" ry="2.5" fill="#f9f9f9" stroke="#c4c4c8" stroke-width="0.5"/>
<rect x="701.0" y="216.7" width="8.6" height="14" fill="url(#gCyl)"/>
<ellipse cx="705.3" cy="216.7" rx="4.3" ry="2.5" fill="#f9f9f9" stroke="#c4c4c8" stroke-width="0.5"/>
<rect x="412.4" y="216.7" width="8.6" height="14" fill="url(#gCyl)"/>
<ellipse cx="416.7" cy="216.7" rx="4.3" ry="2.5" fill="#f9f9f9" stroke="#c4c4c8" stroke-width="0.5"/>
<rect x="720.8" y="217.0" width="8.6" height="14" fill="url(#gCyl)"/>
<ellipse cx="725.1" cy="217.0" rx="4.3" ry="2.5" fill="#f9f9f9" stroke="#c4c4c8" stroke-width="0.5"/>
<rect x="432.2" y="217.0" width="8.6" height="14" fill="url(#gCyl)"/>
<ellipse cx="436.5" cy="217.0" rx="4.3" ry="2.5" fill="#f9f9f9" stroke="#c4c4c8" stroke-width="0.5"/>
<rect x="740.7" y="217.2" width="8.6" height="14" fill="url(#gCyl)"/>
<ellipse cx="745.0" cy="217.2" rx="4.3" ry="2.5" fill="#f9f9f9" stroke="#c4c4c8" stroke-width="0.5"/>
<rect x="452.1" y="217.2" width="8.6" height="14" fill="url(#gCyl)"/>
<ellipse cx="456.4" cy="217.2" rx="4.3" ry="2.5" fill="#f9f9f9" stroke="#c4c4c8" stroke-width="0.5"/>
<rect x="760.5" y="217.5" width="8.6" height="14" fill="url(#gCyl)"/>
<ellipse cx="764.8" cy="217.5" rx="4.3" ry="2.5" fill="#f9f9f9" stroke="#c4c4c8" stroke-width="0.5"/>
<rect x="471.9" y="217.5" width="8.6" height="14" fill="url(#gCyl)"/>
<ellipse cx="476.2" cy="217.5" rx="4.3" ry="2.5" fill="#f9f9f9" stroke="#c4c4c8" stroke-width="0.5"/>
<rect x="780.4" y="217.7" width="8.6" height="14" fill="url(#gCyl)"/>
<ellipse cx="784.7" cy="217.7" rx="4.3" ry="2.5" fill="#f9f9f9" stroke="#c4c4c8" stroke-width="0.5"/>
<rect x="491.8" y="217.7" width="8.6" height="14" fill="url(#gCyl)"/>
<ellipse cx="496.1" cy="217.7" rx="4.3" ry="2.5" fill="#f9f9f9" stroke="#c4c4c8" stroke-width="0.5"/>
<rect x="511.6" y="218.0" width="8.6" height="14" fill="url(#gCyl)"/>
<ellipse cx="515.9" cy="218.0" rx="4.3" ry="2.5" fill="#f9f9f9" stroke="#c4c4c8" stroke-width="0.5"/>
<rect x="531.5" y="218.2" width="8.6" height="14" fill="url(#gCyl)"/>
<ellipse cx="535.8" cy="218.2" rx="4.3" ry="2.5" fill="#f9f9f9" stroke="#c4c4c8" stroke-width="0.5"/>
<rect x="551.3" y="218.5" width="8.6" height="14" fill="url(#gCyl)"/>
<ellipse cx="555.6" cy="218.5" rx="4.3" ry="2.5" fill="#f9f9f9" stroke="#c4c4c8" stroke-width="0.5"/>
<rect x="571.2" y="218.8" width="8.6" height="14" fill="url(#gCyl)"/>
<ellipse cx="575.5" cy="218.8" rx="4.3" ry="2.5" fill="#f9f9f9" stroke="#c4c4c8" stroke-width="0.5"/>
<rect x="591.0" y="219.0" width="8.6" height="14" fill="url(#gCyl)"/>
<ellipse cx="595.3" cy="219.0" rx="4.3" ry="2.5" fill="#f9f9f9" stroke="#c4c4c8" stroke-width="0.5"/>
<rect x="610.9" y="219.3" width="8.6" height="14" fill="url(#gCyl)"/>
<ellipse cx="615.2" cy="219.3" rx="4.3" ry="2.5" fill="#f9f9f9" stroke="#c4c4c8" stroke-width="0.5"/>
<rect x="630.7" y="219.5" width="8.6" height="14" fill="url(#gCyl)"/>
<ellipse cx="635.0" cy="219.5" rx="4.3" ry="2.5" fill="#f9f9f9" stroke="#c4c4c8" stroke-width="0.5"/>
<rect x="650.6" y="219.8" width="8.6" height="14" fill="url(#gCyl)"/>
<ellipse cx="654.9" cy="219.8" rx="4.3" ry="2.5" fill="#f9f9f9" stroke="#c4c4c8" stroke-width="0.5"/>
<rect x="362.0" y="219.8" width="8.6" height="14" fill="url(#gCyl)"/>
<ellipse cx="366.3" cy="219.8" rx="4.3" ry="2.5" fill="#f9f9f9" stroke="#c4c4c8" stroke-width="0.5"/>
<rect x="670.4" y="220.0" width="8.6" height="14" fill="url(#gCyl)"/>
<ellipse cx="674.7" cy="220.0" rx="4.3" ry="2.5" fill="#f9f9f9" stroke="#c4c4c8" stroke-width="0.5"/>
<rect x="381.8" y="220.0" width="8.6" height="14" fill="url(#gCyl)"/>
<ellipse cx="386.1" cy="220.0" rx="4.3" ry="2.5" fill="#f9f9f9" stroke="#c4c4c8" stroke-width="0.5"/>
<rect x="690.3" y="220.3" width="8.6" height="14" fill="url(#gCyl)"/>
<ellipse cx="694.6" cy="220.3" rx="4.3" ry="2.5" fill="#f9f9f9" stroke="#c4c4c8" stroke-width="0.5"/>
<rect x="401.7" y="220.3" width="8.6" height="14" fill="url(#gCyl)"/>
<ellipse cx="406.0" cy="220.3" rx="4.3" ry="2.5" fill="#f9f9f9" stroke="#c4c4c8" stroke-width="0.5"/>
<rect x="710.1" y="220.5" width="8.6" height="14" fill="url(#gCyl)"/>
<ellipse cx="714.4" cy="220.5" rx="4.3" ry="2.5" fill="#f9f9f9" stroke="#c4c4c8" stroke-width="0.5"/>
<rect x="421.6" y="220.6" width="8.6" height="14" fill="url(#gCyl)"/>
<ellipse cx="425.9" cy="220.6" rx="4.3" ry="2.5" fill="#f9f9f9" stroke="#c4c4c8" stroke-width="0.5"/>
<rect x="730.0" y="220.8" width="8.6" height="14" fill="url(#gCyl)"/>
<ellipse cx="734.3" cy="220.8" rx="4.3" ry="2.5" fill="#f9f9f9" stroke="#c4c4c8" stroke-width="0.5"/>
<rect x="441.4" y="220.8" width="8.6" height="14" fill="url(#gCyl)"/>
<ellipse cx="445.7" cy="220.8" rx="4.3" ry="2.5" fill="#f9f9f9" stroke="#c4c4c8" stroke-width="0.5"/>
<rect x="749.8" y="221.0" width="8.6" height="14" fill="url(#gCyl)"/>
<ellipse cx="754.1" cy="221.0" rx="4.3" ry="2.5" fill="#f9f9f9" stroke="#c4c4c8" stroke-width="0.5"/>
<rect x="461.3" y="221.1" width="8.6" height="14" fill="url(#gCyl)"/>
<ellipse cx="465.6" cy="221.1" rx="4.3" ry="2.5" fill="#f9f9f9" stroke="#c4c4c8" stroke-width="0.5"/>
<rect x="769.7" y="221.3" width="8.6" height="14" fill="url(#gCyl)"/>
<ellipse cx="774.0" cy="221.3" rx="4.3" ry="2.5" fill="#f9f9f9" stroke="#c4c4c8" stroke-width="0.5"/>
<rect x="481.1" y="221.3" width="8.6" height="14" fill="url(#gCyl)"/>
<ellipse cx="485.4" cy="221.3" rx="4.3" ry="2.5" fill="#f9f9f9" stroke="#c4c4c8" stroke-width="0.5"/>
<rect x="789.6" y="221.6" width="8.6" height="14" fill="url(#gCyl)"/>
<ellipse cx="793.9" cy="221.6" rx="4.3" ry="2.5" fill="#f9f9f9" stroke="#c4c4c8" stroke-width="0.5"/>
<rect x="501.0" y="221.6" width="8.6" height="14" fill="url(#gCyl)"/>
<ellipse cx="505.3" cy="221.6" rx="4.3" ry="2.5" fill="#f9f9f9" stroke="#c4c4c8" stroke-width="0.5"/>
<rect x="520.8" y="221.8" width="8.6" height="14" fill="url(#gCyl)"/>
<ellipse cx="525.1" cy="221.8" rx="4.3" ry="2.5" fill="#f9f9f9" stroke="#c4c4c8" stroke-width="0.5"/>
<rect x="540.7" y="222.1" width="8.6" height="14" fill="url(#gCyl)"/>
<ellipse cx="545.0" cy="222.1" rx="4.3" ry="2.5" fill="#f9f9f9" stroke="#c4c4c8" stroke-width="0.5"/>
<rect x="560.5" y="222.3" width="8.6" height="14" fill="url(#gCyl)"/>
<ellipse cx="564.8" cy="222.3" rx="4.3" ry="2.5" fill="#f9f9f9" stroke="#c4c4c8" stroke-width="0.5"/>
<rect x="580.4" y="222.6" width="8.6" height="14" fill="url(#gCyl)"/>
<ellipse cx="584.7" cy="222.6" rx="4.3" ry="2.5" fill="#f9f9f9" stroke="#c4c4c8" stroke-width="0.5"/>
<rect x="600.2" y="222.8" width="8.6" height="14" fill="url(#gCyl)"/>
<ellipse cx="604.5" cy="222.8" rx="4.3" ry="2.5" fill="#f9f9f9" stroke="#c4c4c8" stroke-width="0.5"/>
<rect x="620.1" y="223.1" width="8.6" height="14" fill="url(#gCyl)"/>
<ellipse cx="624.4" cy="223.1" rx="4.3" ry="2.5" fill="#f9f9f9" stroke="#c4c4c8" stroke-width="0.5"/>
<rect x="639.9" y="223.4" width="8.6" height="14" fill="url(#gCyl)"/>
<ellipse cx="644.2" cy="223.4" rx="4.3" ry="2.5" fill="#f9f9f9" stroke="#c4c4c8" stroke-width="0.5"/>
<rect x="659.8" y="223.6" width="8.6" height="14" fill="url(#gCyl)"/>
<ellipse cx="664.1" cy="223.6" rx="4.3" ry="2.5" fill="#f9f9f9" stroke="#c4c4c8" stroke-width="0.5"/>
<rect x="371.2" y="223.6" width="8.6" height="14" fill="url(#gCyl)"/>
<ellipse cx="375.5" cy="223.6" rx="4.3" ry="2.5" fill="#f9f9f9" stroke="#c4c4c8" stroke-width="0.5"/>
<rect x="679.6" y="223.9" width="8.6" height="14" fill="url(#gCyl)"/>
<ellipse cx="683.9" cy="223.9" rx="4.3" ry="2.5" fill="#f9f9f9" stroke="#c4c4c8" stroke-width="0.5"/>
<rect x="391.0" y="223.9" width="8.6" height="14" fill="url(#gCyl)"/>
<ellipse cx="395.3" cy="223.9" rx="4.3" ry="2.5" fill="#f9f9f9" stroke="#c4c4c8" stroke-width="0.5"/>
<rect x="699.5" y="224.1" width="8.6" height="14" fill="url(#gCyl)"/>
<ellipse cx="703.8" cy="224.1" rx="4.3" ry="2.5" fill="#f9f9f9" stroke="#c4c4c8" stroke-width="0.5"/>
<rect x="410.9" y="224.1" width="8.6" height="14" fill="url(#gCyl)"/>
<ellipse cx="415.2" cy="224.1" rx="4.3" ry="2.5" fill="#f9f9f9" stroke="#c4c4c8" stroke-width="0.5"/>
<rect x="719.3" y="224.4" width="8.6" height="14" fill="url(#gCyl)"/>
<ellipse cx="723.6" cy="224.4" rx="4.3" ry="2.5" fill="#f9f9f9" stroke="#c4c4c8" stroke-width="0.5"/>
<rect x="430.7" y="224.4" width="8.6" height="14" fill="url(#gCyl)"/>
<ellipse cx="435.0" cy="224.4" rx="4.3" ry="2.5" fill="#f9f9f9" stroke="#c4c4c8" stroke-width="0.5"/>
<rect x="739.2" y="224.6" width="8.6" height="14" fill="url(#gCyl)"/>
<ellipse cx="743.5" cy="224.6" rx="4.3" ry="2.5" fill="#f9f9f9" stroke="#c4c4c8" stroke-width="0.5"/>
<rect x="450.6" y="224.6" width="8.6" height="14" fill="url(#gCyl)"/>
<ellipse cx="454.9" cy="224.6" rx="4.3" ry="2.5" fill="#f9f9f9" stroke="#c4c4c8" stroke-width="0.5"/>
<rect x="759.0" y="224.9" width="8.6" height="14" fill="url(#gCyl)"/>
<ellipse cx="763.3" cy="224.9" rx="4.3" ry="2.5" fill="#f9f9f9" stroke="#c4c4c8" stroke-width="0.5"/>
<rect x="470.4" y="224.9" width="8.6" height="14" fill="url(#gCyl)"/>
<ellipse cx="474.7" cy="224.9" rx="4.3" ry="2.5" fill="#f9f9f9" stroke="#c4c4c8" stroke-width="0.5"/>
<rect x="778.9" y="225.1" width="8.6" height="14" fill="url(#gCyl)"/>
<ellipse cx="783.2" cy="225.1" rx="4.3" ry="2.5" fill="#f9f9f9" stroke="#c4c4c8" stroke-width="0.5"/>
<rect x="490.3" y="225.2" width="8.6" height="14" fill="url(#gCyl)"/>
<ellipse cx="494.6" cy="225.2" rx="4.3" ry="2.5" fill="#f9f9f9" stroke="#c4c4c8" stroke-width="0.5"/>
<rect x="510.1" y="225.4" width="8.6" height="14" fill="url(#gCyl)"/>
<ellipse cx="514.4" cy="225.4" rx="4.3" ry="2.5" fill="#f9f9f9" stroke="#c4c4c8" stroke-width="0.5"/>
<rect x="530.0" y="225.7" width="8.6" height="14" fill="url(#gCyl)"/>
<ellipse cx="534.3" cy="225.7" rx="4.3" ry="2.5" fill="#f9f9f9" stroke="#c4c4c8" stroke-width="0.5"/>
<rect x="549.8" y="225.9" width="8.6" height="14" fill="url(#gCyl)"/>
<ellipse cx="554.1" cy="225.9" rx="4.3" ry="2.5" fill="#f9f9f9" stroke="#c4c4c8" stroke-width="0.5"/>
<rect x="569.7" y="226.2" width="8.6" height="14" fill="url(#gCyl)"/>
<ellipse cx="574.0" cy="226.2" rx="4.3" ry="2.5" fill="#f9f9f9" stroke="#c4c4c8" stroke-width="0.5"/>
<rect x="589.5" y="226.4" width="8.6" height="14" fill="url(#gCyl)"/>
<ellipse cx="593.8" cy="226.4" rx="4.3" ry="2.5" fill="#f9f9f9" stroke="#c4c4c8" stroke-width="0.5"/>
<rect x="609.4" y="226.7" width="8.6" height="14" fill="url(#gCyl)"/>
<ellipse cx="613.7" cy="226.7" rx="4.3" ry="2.5" fill="#f9f9f9" stroke="#c4c4c8" stroke-width="0.5"/>
<rect x="629.2" y="226.9" width="8.6" height="14" fill="url(#gCyl)"/>
<ellipse cx="633.5" cy="226.9" rx="4.3" ry="2.5" fill="#f9f9f9" stroke="#c4c4c8" stroke-width="0.5"/>
<rect x="649.1" y="227.2" width="8.6" height="14" fill="url(#gCyl)"/>
<ellipse cx="653.4" cy="227.2" rx="4.3" ry="2.5" fill="#f9f9f9" stroke="#c4c4c8" stroke-width="0.5"/>
<rect x="360.5" y="227.2" width="8.6" height="14" fill="url(#gCyl)"/>
<ellipse cx="364.8" cy="227.2" rx="4.3" ry="2.5" fill="#f9f9f9" stroke="#c4c4c8" stroke-width="0.5"/>
<rect x="668.9" y="227.4" width="8.6" height="14" fill="url(#gCyl)"/>
<ellipse cx="673.2" cy="227.4" rx="4.3" ry="2.5" fill="#f9f9f9" stroke="#c4c4c8" stroke-width="0.5"/>
<rect x="380.3" y="227.5" width="8.6" height="14" fill="url(#gCyl)"/>
<ellipse cx="384.6" cy="227.5" rx="4.3" ry="2.5" fill="#f9f9f9" stroke="#c4c4c8" stroke-width="0.5"/>
<rect x="688.8" y="227.7" width="8.6" height="14" fill="url(#gCyl)"/>
<ellipse cx="693.1" cy="227.7" rx="4.3" ry="2.5" fill="#f9f9f9" stroke="#c4c4c8" stroke-width="0.5"/>
<rect x="400.2" y="227.7" width="8.6" height="14" fill="url(#gCyl)"/>
<ellipse cx="404.5" cy="227.7" rx="4.3" ry="2.5" fill="#f9f9f9" stroke="#c4c4c8" stroke-width="0.5"/>
<rect x="708.6" y="227.9" width="8.6" height="14" fill="url(#gCyl)"/>
<ellipse cx="712.9" cy="227.9" rx="4.3" ry="2.5" fill="#f9f9f9" stroke="#c4c4c8" stroke-width="0.5"/>
<rect x="420.0" y="228.0" width="8.6" height="14" fill="url(#gCyl)"/>
<ellipse cx="424.3" cy="228.0" rx="4.3" ry="2.5" fill="#f9f9f9" stroke="#c4c4c8" stroke-width="0.5"/>
<rect x="728.5" y="228.2" width="8.6" height="14" fill="url(#gCyl)"/>
<ellipse cx="732.8" cy="228.2" rx="4.3" ry="2.5" fill="#f9f9f9" stroke="#c4c4c8" stroke-width="0.5"/>
<rect x="439.9" y="228.2" width="8.6" height="14" fill="url(#gCyl)"/>
<ellipse cx="444.2" cy="228.2" rx="4.3" ry="2.5" fill="#f9f9f9" stroke="#c4c4c8" stroke-width="0.5"/>
<rect x="748.3" y="228.5" width="8.6" height="14" fill="url(#gCyl)"/>
<ellipse cx="752.6" cy="228.5" rx="4.3" ry="2.5" fill="#f9f9f9" stroke="#c4c4c8" stroke-width="0.5"/>
<rect x="459.7" y="228.5" width="8.6" height="14" fill="url(#gCyl)"/>
<ellipse cx="464.0" cy="228.5" rx="4.3" ry="2.5" fill="#f9f9f9" stroke="#c4c4c8" stroke-width="0.5"/>
<rect x="768.2" y="228.7" width="8.6" height="14" fill="url(#gCyl)"/>
<ellipse cx="772.5" cy="228.7" rx="4.3" ry="2.5" fill="#f9f9f9" stroke="#c4c4c8" stroke-width="0.5"/>
<rect x="479.6" y="228.7" width="8.6" height="14" fill="url(#gCyl)"/>
<ellipse cx="483.9" cy="228.7" rx="4.3" ry="2.5" fill="#f9f9f9" stroke="#c4c4c8" stroke-width="0.5"/>
<rect x="788.0" y="229.0" width="8.6" height="14" fill="url(#gCyl)"/>
<ellipse cx="792.3" cy="229.0" rx="4.3" ry="2.5" fill="#f9f9f9" stroke="#c4c4c8" stroke-width="0.5"/>
<rect x="499.4" y="229.0" width="8.6" height="14" fill="url(#gCyl)"/>
<ellipse cx="503.7" cy="229.0" rx="4.3" ry="2.5" fill="#f9f9f9" stroke="#c4c4c8" stroke-width="0.5"/>
<rect x="519.3" y="229.2" width="8.6" height="14" fill="url(#gCyl)"/>
<ellipse cx="523.6" cy="229.2" rx="4.3" ry="2.5" fill="#f9f9f9" stroke="#c4c4c8" stroke-width="0.5"/>
<rect x="539.1" y="229.5" width="8.6" height="14" fill="url(#gCyl)"/>
<ellipse cx="543.4" cy="229.5" rx="4.3" ry="2.5" fill="#f9f9f9" stroke="#c4c4c8" stroke-width="0.5"/>
<rect x="559.0" y="229.7" width="8.6" height="14" fill="url(#gCyl)"/>
<ellipse cx="563.3" cy="229.7" rx="4.3" ry="2.5" fill="#f9f9f9" stroke="#c4c4c8" stroke-width="0.5"/>
<rect x="578.8" y="230.0" width="8.6" height="14" fill="url(#gCyl)"/>
<ellipse cx="583.1" cy="230.0" rx="4.3" ry="2.5" fill="#f9f9f9" stroke="#c4c4c8" stroke-width="0.5"/>
<rect x="598.7" y="230.3" width="8.6" height="14" fill="url(#gCyl)"/>
<ellipse cx="603.0" cy="230.3" rx="4.3" ry="2.5" fill="#f9f9f9" stroke="#c4c4c8" stroke-width="0.5"/>
<rect x="618.5" y="230.5" width="8.6" height="14" fill="url(#gCyl)"/>
<ellipse cx="622.8" cy="230.5" rx="4.3" ry="2.5" fill="#f9f9f9" stroke="#c4c4c8" stroke-width="0.5"/>
<rect x="638.4" y="230.8" width="8.6" height="14" fill="url(#gCyl)"/>
<ellipse cx="642.7" cy="230.8" rx="4.3" ry="2.5" fill="#f9f9f9" stroke="#c4c4c8" stroke-width="0.5"/>
<rect x="658.2" y="231.0" width="8.6" height="14" fill="url(#gCyl)"/>
<ellipse cx="662.5" cy="231.0" rx="4.3" ry="2.5" fill="#f9f9f9" stroke="#c4c4c8" stroke-width="0.5"/>
<rect x="369.6" y="231.0" width="8.6" height="14" fill="url(#gCyl)"/>
<ellipse cx="373.9" cy="231.0" rx="4.3" ry="2.5" fill="#f9f9f9" stroke="#c4c4c8" stroke-width="0.5"/>
<rect x="678.1" y="231.3" width="8.6" height="14" fill="url(#gCyl)"/>
<ellipse cx="682.4" cy="231.3" rx="4.3" ry="2.5" fill="#f9f9f9" stroke="#c4c4c8" stroke-width="0.5"/>
<rect x="389.5" y="231.3" width="8.6" height="14" fill="url(#gCyl)"/>
<ellipse cx="393.8" cy="231.3" rx="4.3" ry="2.5" fill="#f9f9f9" stroke="#c4c4c8" stroke-width="0.5"/>
<rect x="697.9" y="231.5" width="8.6" height="14" fill="url(#gCyl)"/>
<ellipse cx="702.2" cy="231.5" rx="4.3" ry="2.5" fill="#f9f9f9" stroke="#c4c4c8" stroke-width="0.5"/>
<rect x="409.3" y="231.5" width="8.6" height="14" fill="url(#gCyl)"/>
<ellipse cx="413.6" cy="231.5" rx="4.3" ry="2.5" fill="#f9f9f9" stroke="#c4c4c8" stroke-width="0.5"/>
<rect x="717.8" y="231.8" width="8.6" height="14" fill="url(#gCyl)"/>
<ellipse cx="722.1" cy="231.8" rx="4.3" ry="2.5" fill="#f9f9f9" stroke="#c4c4c8" stroke-width="0.5"/>
<rect x="429.2" y="231.8" width="8.6" height="14" fill="url(#gCyl)"/>
<ellipse cx="433.5" cy="231.8" rx="4.3" ry="2.5" fill="#f9f9f9" stroke="#c4c4c8" stroke-width="0.5"/>
<rect x="737.6" y="232.0" width="8.6" height="14" fill="url(#gCyl)"/>
<ellipse cx="741.9" cy="232.0" rx="4.3" ry="2.5" fill="#f9f9f9" stroke="#c4c4c8" stroke-width="0.5"/>
<rect x="449.1" y="232.1" width="8.6" height="14" fill="url(#gCyl)"/>
<ellipse cx="453.4" cy="232.1" rx="4.3" ry="2.5" fill="#f9f9f9" stroke="#c4c4c8" stroke-width="0.5"/>
<rect x="757.5" y="232.3" width="8.6" height="14" fill="url(#gCyl)"/>
<ellipse cx="761.8" cy="232.3" rx="4.3" ry="2.5" fill="#f9f9f9" stroke="#c4c4c8" stroke-width="0.5"/>
<rect x="468.9" y="232.3" width="8.6" height="14" fill="url(#gCyl)"/>
<ellipse cx="473.2" cy="232.3" rx="4.3" ry="2.5" fill="#f9f9f9" stroke="#c4c4c8" stroke-width="0.5"/>
<rect x="777.3" y="232.5" width="8.6" height="14" fill="url(#gCyl)"/>
<ellipse cx="781.6" cy="232.5" rx="4.3" ry="2.5" fill="#f9f9f9" stroke="#c4c4c8" stroke-width="0.5"/>
<rect x="488.8" y="232.6" width="8.6" height="14" fill="url(#gCyl)"/>
<ellipse cx="493.1" cy="232.6" rx="4.3" ry="2.5" fill="#f9f9f9" stroke="#c4c4c8" stroke-width="0.5"/>
<rect x="508.6" y="232.8" width="8.6" height="14" fill="url(#gCyl)"/>
<ellipse cx="512.9" cy="232.8" rx="4.3" ry="2.5" fill="#f9f9f9" stroke="#c4c4c8" stroke-width="0.5"/>
<rect x="528.5" y="233.1" width="8.6" height="14" fill="url(#gCyl)"/>
<ellipse cx="532.8" cy="233.1" rx="4.3" ry="2.5" fill="#f9f9f9" stroke="#c4c4c8" stroke-width="0.5"/>
<rect x="548.3" y="233.3" width="8.6" height="14" fill="url(#gCyl)"/>
<ellipse cx="552.6" cy="233.3" rx="4.3" ry="2.5" fill="#f9f9f9" stroke="#c4c4c8" stroke-width="0.5"/>
<rect x="568.2" y="233.6" width="8.6" height="14" fill="url(#gCyl)"/>
<ellipse cx="572.5" cy="233.6" rx="4.3" ry="2.5" fill="#f9f9f9" stroke="#c4c4c8" stroke-width="0.5"/>
<rect x="588.0" y="233.8" width="8.6" height="14" fill="url(#gCyl)"/>
<ellipse cx="592.3" cy="233.8" rx="4.3" ry="2.5" fill="#f9f9f9" stroke="#c4c4c8" stroke-width="0.5"/>
<rect x="607.9" y="234.1" width="8.6" height="14" fill="url(#gCyl)"/>
<ellipse cx="612.2" cy="234.1" rx="4.3" ry="2.5" fill="#f9f9f9" stroke="#c4c4c8" stroke-width="0.5"/>
<rect x="627.7" y="234.3" width="8.6" height="14" fill="url(#gCyl)"/>
<ellipse cx="632.0" cy="234.3" rx="4.3" ry="2.5" fill="#f9f9f9" stroke="#c4c4c8" stroke-width="0.5"/>
<rect x="647.6" y="234.6" width="8.6" height="14" fill="url(#gCyl)"/>
<ellipse cx="651.9" cy="234.6" rx="4.3" ry="2.5" fill="#f9f9f9" stroke="#c4c4c8" stroke-width="0.5"/>
<rect x="359.0" y="234.6" width="8.6" height="14" fill="url(#gCyl)"/>
<ellipse cx="363.3" cy="234.6" rx="4.3" ry="2.5" fill="#f9f9f9" stroke="#c4c4c8" stroke-width="0.5"/>
<rect x="667.4" y="234.9" width="8.6" height="14" fill="url(#gCyl)"/>
<ellipse cx="671.7" cy="234.9" rx="4.3" ry="2.5" fill="#f9f9f9" stroke="#c4c4c8" stroke-width="0.5"/>
<rect x="378.8" y="234.9" width="8.6" height="14" fill="url(#gCyl)"/>
<ellipse cx="383.1" cy="234.9" rx="4.3" ry="2.5" fill="#f9f9f9" stroke="#c4c4c8" stroke-width="0.5"/>
<rect x="687.3" y="235.1" width="8.6" height="14" fill="url(#gCyl)"/>
<ellipse cx="691.6" cy="235.1" rx="4.3" ry="2.5" fill="#f9f9f9" stroke="#c4c4c8" stroke-width="0.5"/>
<rect x="398.7" y="235.1" width="8.6" height="14" fill="url(#gCyl)"/>
<ellipse cx="403.0" cy="235.1" rx="4.3" ry="2.5" fill="#f9f9f9" stroke="#c4c4c8" stroke-width="0.5"/>
<rect x="707.1" y="235.4" width="8.6" height="14" fill="url(#gCyl)"/>
<ellipse cx="711.4" cy="235.4" rx="4.3" ry="2.5" fill="#f9f9f9" stroke="#c4c4c8" stroke-width="0.5"/>
<rect x="418.5" y="235.4" width="8.6" height="14" fill="url(#gCyl)"/>
<ellipse cx="422.8" cy="235.4" rx="4.3" ry="2.5" fill="#f9f9f9" stroke="#c4c4c8" stroke-width="0.5"/>
<rect x="727.0" y="235.6" width="8.6" height="14" fill="url(#gCyl)"/>
<ellipse cx="731.3" cy="235.6" rx="4.3" ry="2.5" fill="#f9f9f9" stroke="#c4c4c8" stroke-width="0.5"/>
<rect x="438.4" y="235.6" width="8.6" height="14" fill="url(#gCyl)"/>
<ellipse cx="442.7" cy="235.6" rx="4.3" ry="2.5" fill="#f9f9f9" stroke="#c4c4c8" stroke-width="0.5"/>
<rect x="746.8" y="235.9" width="8.6" height="14" fill="url(#gCyl)"/>
<ellipse cx="751.1" cy="235.9" rx="4.3" ry="2.5" fill="#f9f9f9" stroke="#c4c4c8" stroke-width="0.5"/>
<rect x="458.2" y="235.9" width="8.6" height="14" fill="url(#gCyl)"/>
<ellipse cx="462.5" cy="235.9" rx="4.3" ry="2.5" fill="#f9f9f9" stroke="#c4c4c8" stroke-width="0.5"/>
<rect x="766.7" y="236.1" width="8.6" height="14" fill="url(#gCyl)"/>
<ellipse cx="771.0" cy="236.1" rx="4.3" ry="2.5" fill="#f9f9f9" stroke="#c4c4c8" stroke-width="0.5"/>
<rect x="478.1" y="236.1" width="8.6" height="14" fill="url(#gCyl)"/>
<ellipse cx="482.4" cy="236.1" rx="4.3" ry="2.5" fill="#f9f9f9" stroke="#c4c4c8" stroke-width="0.5"/>
<rect x="786.5" y="236.4" width="8.6" height="14" fill="url(#gCyl)"/>
<ellipse cx="790.8" cy="236.4" rx="4.3" ry="2.5" fill="#f9f9f9" stroke="#c4c4c8" stroke-width="0.5"/>
<rect x="497.9" y="236.4" width="8.6" height="14" fill="url(#gCyl)"/>
<ellipse cx="502.2" cy="236.4" rx="4.3" ry="2.5" fill="#f9f9f9" stroke="#c4c4c8" stroke-width="0.5"/>
<rect x="517.8" y="236.7" width="8.6" height="14" fill="url(#gCyl)"/>
<ellipse cx="522.1" cy="236.7" rx="4.3" ry="2.5" fill="#f9f9f9" stroke="#c4c4c8" stroke-width="0.5"/>
<rect x="537.6" y="236.9" width="8.6" height="14" fill="url(#gCyl)"/>
<ellipse cx="541.9" cy="236.9" rx="4.3" ry="2.5" fill="#f9f9f9" stroke="#c4c4c8" stroke-width="0.5"/>
<rect x="557.5" y="237.2" width="8.6" height="14" fill="url(#gCyl)"/>
<ellipse cx="561.8" cy="237.2" rx="4.3" ry="2.5" fill="#f9f9f9" stroke="#c4c4c8" stroke-width="0.5"/>
<rect x="577.3" y="237.4" width="8.6" height="14" fill="url(#gCyl)"/>
<ellipse cx="581.6" cy="237.4" rx="4.3" ry="2.5" fill="#f9f9f9" stroke="#c4c4c8" stroke-width="0.5"/>
<rect x="597.2" y="237.7" width="8.6" height="14" fill="url(#gCyl)"/>
<ellipse cx="601.5" cy="237.7" rx="4.3" ry="2.5" fill="#f9f9f9" stroke="#c4c4c8" stroke-width="0.5"/>
<rect x="617.0" y="237.9" width="8.6" height="14" fill="url(#gCyl)"/>
<ellipse cx="621.3" cy="237.9" rx="4.3" ry="2.5" fill="#f9f9f9" stroke="#c4c4c8" stroke-width="0.5"/>
<rect x="636.9" y="238.2" width="8.6" height="14" fill="url(#gCyl)"/>
<ellipse cx="641.2" cy="238.2" rx="4.3" ry="2.5" fill="#f9f9f9" stroke="#c4c4c8" stroke-width="0.5"/>
<rect x="656.7" y="238.4" width="8.6" height="14" fill="url(#gCyl)"/>
<ellipse cx="661.0" cy="238.4" rx="4.3" ry="2.5" fill="#f9f9f9" stroke="#c4c4c8" stroke-width="0.5"/>
<rect x="368.1" y="238.4" width="8.6" height="14" fill="url(#gCyl)"/>
<ellipse cx="372.4" cy="238.4" rx="4.3" ry="2.5" fill="#f9f9f9" stroke="#c4c4c8" stroke-width="0.5"/>
<rect x="676.6" y="238.7" width="8.6" height="14" fill="url(#gCyl)"/>
<ellipse cx="680.9" cy="238.7" rx="4.3" ry="2.5" fill="#f9f9f9" stroke="#c4c4c8" stroke-width="0.5"/>
<rect x="388.0" y="238.7" width="8.6" height="14" fill="url(#gCyl)"/>
<ellipse cx="392.3" cy="238.7" rx="4.3" ry="2.5" fill="#f9f9f9" stroke="#c4c4c8" stroke-width="0.5"/>
<rect x="696.4" y="238.9" width="8.6" height="14" fill="url(#gCyl)"/>
<ellipse cx="700.7" cy="238.9" rx="4.3" ry="2.5" fill="#f9f9f9" stroke="#c4c4c8" stroke-width="0.5"/>
<rect x="407.8" y="239.0" width="8.6" height="14" fill="url(#gCyl)"/>
<ellipse cx="412.1" cy="239.0" rx="4.3" ry="2.5" fill="#f9f9f9" stroke="#c4c4c8" stroke-width="0.5"/>
<rect x="716.3" y="239.2" width="8.6" height="14" fill="url(#gCyl)"/>
<ellipse cx="720.6" cy="239.2" rx="4.3" ry="2.5" fill="#f9f9f9" stroke="#c4c4c8" stroke-width="0.5"/>
<rect x="427.7" y="239.2" width="8.6" height="14" fill="url(#gCyl)"/>
<ellipse cx="432.0" cy="239.2" rx="4.3" ry="2.5" fill="#f9f9f9" stroke="#c4c4c8" stroke-width="0.5"/>
<rect x="736.1" y="239.4" width="8.6" height="14" fill="url(#gCyl)"/>
<ellipse cx="740.4" cy="239.4" rx="4.3" ry="2.5" fill="#f9f9f9" stroke="#c4c4c8" stroke-width="0.5"/>
<rect x="447.5" y="239.5" width="8.6" height="14" fill="url(#gCyl)"/>
<ellipse cx="451.8" cy="239.5" rx="4.3" ry="2.5" fill="#f9f9f9" stroke="#c4c4c8" stroke-width="0.5"/>
<rect x="756.0" y="239.7" width="8.6" height="14" fill="url(#gCyl)"/>
<ellipse cx="760.3" cy="239.7" rx="4.3" ry="2.5" fill="#f9f9f9" stroke="#c4c4c8" stroke-width="0.5"/>
<rect x="467.4" y="239.7" width="8.6" height="14" fill="url(#gCyl)"/>
<ellipse cx="471.7" cy="239.7" rx="4.3" ry="2.5" fill="#f9f9f9" stroke="#c4c4c8" stroke-width="0.5"/>
<rect x="775.8" y="240.0" width="8.6" height="14" fill="url(#gCyl)"/>
<ellipse cx="780.1" cy="240.0" rx="4.3" ry="2.5" fill="#f9f9f9" stroke="#c4c4c8" stroke-width="0.5"/>
<rect x="487.2" y="240.0" width="8.6" height="14" fill="url(#gCyl)"/>
<ellipse cx="491.5" cy="240.0" rx="4.3" ry="2.5" fill="#f9f9f9" stroke="#c4c4c8" stroke-width="0.5"/>
<rect x="507.1" y="240.2" width="8.6" height="14" fill="url(#gCyl)"/>
<ellipse cx="511.4" cy="240.2" rx="4.3" ry="2.5" fill="#f9f9f9" stroke="#c4c4c8" stroke-width="0.5"/>
<rect x="526.9" y="240.5" width="8.6" height="14" fill="url(#gCyl)"/>
<ellipse cx="531.2" cy="240.5" rx="4.3" ry="2.5" fill="#f9f9f9" stroke="#c4c4c8" stroke-width="0.5"/>
<rect x="546.8" y="240.7" width="8.6" height="14" fill="url(#gCyl)"/>
<ellipse cx="551.1" cy="240.7" rx="4.3" ry="2.5" fill="#f9f9f9" stroke="#c4c4c8" stroke-width="0.5"/>
<rect x="566.6" y="241.0" width="8.6" height="14" fill="url(#gCyl)"/>
<ellipse cx="570.9" cy="241.0" rx="4.3" ry="2.5" fill="#f9f9f9" stroke="#c4c4c8" stroke-width="0.5"/>
<rect x="586.5" y="241.2" width="8.6" height="14" fill="url(#gCyl)"/>
<ellipse cx="590.8" cy="241.2" rx="4.3" ry="2.5" fill="#f9f9f9" stroke="#c4c4c8" stroke-width="0.5"/>
<rect x="606.3" y="241.5" width="8.6" height="14" fill="url(#gCyl)"/>
<ellipse cx="610.6" cy="241.5" rx="4.3" ry="2.5" fill="#f9f9f9" stroke="#c4c4c8" stroke-width="0.5"/>
<rect x="626.2" y="241.8" width="8.6" height="14" fill="url(#gCyl)"/>
<ellipse cx="630.5" cy="241.8" rx="4.3" ry="2.5" fill="#f9f9f9" stroke="#c4c4c8" stroke-width="0.5"/>
<rect x="646.0" y="242.0" width="8.6" height="14" fill="url(#gCyl)"/>
<ellipse cx="650.3" cy="242.0" rx="4.3" ry="2.5" fill="#f9f9f9" stroke="#c4c4c8" stroke-width="0.5"/>
<rect x="357.4" y="242.0" width="8.6" height="14" fill="url(#gCyl)"/>
<ellipse cx="361.7" cy="242.0" rx="4.3" ry="2.5" fill="#f9f9f9" stroke="#c4c4c8" stroke-width="0.5"/>
<rect x="665.9" y="242.3" width="8.6" height="14" fill="url(#gCyl)"/>
<ellipse cx="670.2" cy="242.3" rx="4.3" ry="2.5" fill="#f9f9f9" stroke="#c4c4c8" stroke-width="0.5"/>
<rect x="377.3" y="242.3" width="8.6" height="14" fill="url(#gCyl)"/>
<ellipse cx="381.6" cy="242.3" rx="4.3" ry="2.5" fill="#f9f9f9" stroke="#c4c4c8" stroke-width="0.5"/>
<rect x="685.7" y="242.5" width="8.6" height="14" fill="url(#gCyl)"/>
<ellipse cx="690.0" cy="242.5" rx="4.3" ry="2.5" fill="#f9f9f9" stroke="#c4c4c8" stroke-width="0.5"/>
<rect x="397.1" y="242.5" width="8.6" height="14" fill="url(#gCyl)"/>
<ellipse cx="401.4" cy="242.5" rx="4.3" ry="2.5" fill="#f9f9f9" stroke="#c4c4c8" stroke-width="0.5"/>
<rect x="705.6" y="242.8" width="8.6" height="14" fill="url(#gCyl)"/>
<ellipse cx="709.9" cy="242.8" rx="4.3" ry="2.5" fill="#f9f9f9" stroke="#c4c4c8" stroke-width="0.5"/>
<rect x="417.0" y="242.8" width="8.6" height="14" fill="url(#gCyl)"/>
<ellipse cx="421.3" cy="242.8" rx="4.3" ry="2.5" fill="#f9f9f9" stroke="#c4c4c8" stroke-width="0.5"/>
<rect x="725.4" y="243.0" width="8.6" height="14" fill="url(#gCyl)"/>
<ellipse cx="729.7" cy="243.0" rx="4.3" ry="2.5" fill="#f9f9f9" stroke="#c4c4c8" stroke-width="0.5"/>
<rect x="436.8" y="243.0" width="8.6" height="14" fill="url(#gCyl)"/>
<ellipse cx="441.1" cy="243.0" rx="4.3" ry="2.5" fill="#f9f9f9" stroke="#c4c4c8" stroke-width="0.5"/>
<rect x="745.3" y="243.3" width="8.6" height="14" fill="url(#gCyl)"/>
<ellipse cx="749.6" cy="243.3" rx="4.3" ry="2.5" fill="#f9f9f9" stroke="#c4c4c8" stroke-width="0.5"/>
<rect x="456.7" y="243.3" width="8.6" height="14" fill="url(#gCyl)"/>
<ellipse cx="461.0" cy="243.3" rx="4.3" ry="2.5" fill="#f9f9f9" stroke="#c4c4c8" stroke-width="0.5"/>
<rect x="765.1" y="243.5" width="8.6" height="14" fill="url(#gCyl)"/>
<ellipse cx="769.4" cy="243.5" rx="4.3" ry="2.5" fill="#f9f9f9" stroke="#c4c4c8" stroke-width="0.5"/>
<rect x="476.6" y="243.6" width="8.6" height="14" fill="url(#gCyl)"/>
<ellipse cx="480.9" cy="243.6" rx="4.3" ry="2.5" fill="#f9f9f9" stroke="#c4c4c8" stroke-width="0.5"/>
<rect x="496.4" y="243.8" width="8.6" height="14" fill="url(#gCyl)"/>
<ellipse cx="500.7" cy="243.8" rx="4.3" ry="2.5" fill="#f9f9f9" stroke="#c4c4c8" stroke-width="0.5"/>
<rect x="516.3" y="244.1" width="8.6" height="14" fill="url(#gCyl)"/>
<ellipse cx="520.6" cy="244.1" rx="4.3" ry="2.5" fill="#f9f9f9" stroke="#c4c4c8" stroke-width="0.5"/>
<rect x="536.1" y="244.3" width="8.6" height="14" fill="url(#gCyl)"/>
<ellipse cx="540.4" cy="244.3" rx="4.3" ry="2.5" fill="#f9f9f9" stroke="#c4c4c8" stroke-width="0.5"/>
<rect x="556.0" y="244.6" width="8.6" height="14" fill="url(#gCyl)"/>
<ellipse cx="560.3" cy="244.6" rx="4.3" ry="2.5" fill="#f9f9f9" stroke="#c4c4c8" stroke-width="0.5"/>
<rect x="575.8" y="244.8" width="8.6" height="14" fill="url(#gCyl)"/>
<ellipse cx="580.1" cy="244.8" rx="4.3" ry="2.5" fill="#f9f9f9" stroke="#c4c4c8" stroke-width="0.5"/>
<rect x="595.7" y="245.1" width="8.6" height="14" fill="url(#gCyl)"/>
<ellipse cx="600.0" cy="245.1" rx="4.3" ry="2.5" fill="#f9f9f9" stroke="#c4c4c8" stroke-width="0.5"/>
<rect x="615.5" y="245.3" width="8.6" height="14" fill="url(#gCyl)"/>
<ellipse cx="619.8" cy="245.3" rx="4.3" ry="2.5" fill="#f9f9f9" stroke="#c4c4c8" stroke-width="0.5"/>
<rect x="635.4" y="245.6" width="8.6" height="14" fill="url(#gCyl)"/>
<ellipse cx="639.7" cy="245.6" rx="4.3" ry="2.5" fill="#f9f9f9" stroke="#c4c4c8" stroke-width="0.5"/>
<rect x="655.2" y="245.8" width="8.6" height="14" fill="url(#gCyl)"/>
<ellipse cx="659.5" cy="245.8" rx="4.3" ry="2.5" fill="#f9f9f9" stroke="#c4c4c8" stroke-width="0.5"/>
<rect x="366.6" y="245.9" width="8.6" height="14" fill="url(#gCyl)"/>
<ellipse cx="370.9" cy="245.9" rx="4.3" ry="2.5" fill="#f9f9f9" stroke="#c4c4c8" stroke-width="0.5"/>
<rect x="675.1" y="246.1" width="8.6" height="14" fill="url(#gCyl)"/>
<ellipse cx="679.4" cy="246.1" rx="4.3" ry="2.5" fill="#f9f9f9" stroke="#c4c4c8" stroke-width="0.5"/>
<rect x="386.5" y="246.1" width="8.6" height="14" fill="url(#gCyl)"/>
<ellipse cx="390.8" cy="246.1" rx="4.3" ry="2.5" fill="#f9f9f9" stroke="#c4c4c8" stroke-width="0.5"/>
<rect x="694.9" y="246.4" width="8.6" height="14" fill="url(#gCyl)"/>
<ellipse cx="699.2" cy="246.4" rx="4.3" ry="2.5" fill="#f9f9f9" stroke="#c4c4c8" stroke-width="0.5"/>
<rect x="406.3" y="246.4" width="8.6" height="14" fill="url(#gCyl)"/>
<ellipse cx="410.6" cy="246.4" rx="4.3" ry="2.5" fill="#f9f9f9" stroke="#c4c4c8" stroke-width="0.5"/>
<rect x="714.8" y="246.6" width="8.6" height="14" fill="url(#gCyl)"/>
<ellipse cx="719.1" cy="246.6" rx="4.3" ry="2.5" fill="#f9f9f9" stroke="#c4c4c8" stroke-width="0.5"/>
<rect x="426.2" y="246.6" width="8.6" height="14" fill="url(#gCyl)"/>
<ellipse cx="430.5" cy="246.6" rx="4.3" ry="2.5" fill="#f9f9f9" stroke="#c4c4c8" stroke-width="0.5"/>
<rect x="734.6" y="246.9" width="8.6" height="14" fill="url(#gCyl)"/>
<ellipse cx="738.9" cy="246.9" rx="4.3" ry="2.5" fill="#f9f9f9" stroke="#c4c4c8" stroke-width="0.5"/>
<rect x="446.0" y="246.9" width="8.6" height="14" fill="url(#gCyl)"/>
<ellipse cx="450.3" cy="246.9" rx="4.3" ry="2.5" fill="#f9f9f9" stroke="#c4c4c8" stroke-width="0.5"/>
<rect x="754.5" y="247.1" width="8.6" height="14" fill="url(#gCyl)"/>
<ellipse cx="758.8" cy="247.1" rx="4.3" ry="2.5" fill="#f9f9f9" stroke="#c4c4c8" stroke-width="0.5"/>
<rect x="465.9" y="247.1" width="8.6" height="14" fill="url(#gCyl)"/>
<ellipse cx="470.2" cy="247.1" rx="4.3" ry="2.5" fill="#f9f9f9" stroke="#c4c4c8" stroke-width="0.5"/>
<rect x="485.7" y="247.4" width="8.6" height="14" fill="url(#gCyl)"/>
<ellipse cx="490.0" cy="247.4" rx="4.3" ry="2.5" fill="#f9f9f9" stroke="#c4c4c8" stroke-width="0.5"/>
<rect x="505.6" y="247.6" width="8.6" height="14" fill="url(#gCyl)"/>
<ellipse cx="509.9" cy="247.6" rx="4.3" ry="2.5" fill="#f9f9f9" stroke="#c4c4c8" stroke-width="0.5"/>
<rect x="525.4" y="247.9" width="8.6" height="14" fill="url(#gCyl)"/>
<ellipse cx="529.7" cy="247.9" rx="4.3" ry="2.5" fill="#f9f9f9" stroke="#c4c4c8" stroke-width="0.5"/>
<rect x="545.3" y="248.2" width="8.6" height="14" fill="url(#gCyl)"/>
<ellipse cx="549.6" cy="248.2" rx="4.3" ry="2.5" fill="#f9f9f9" stroke="#c4c4c8" stroke-width="0.5"/>
<rect x="565.1" y="248.4" width="8.6" height="14" fill="url(#gCyl)"/>
<ellipse cx="569.4" cy="248.4" rx="4.3" ry="2.5" fill="#f9f9f9" stroke="#c4c4c8" stroke-width="0.5"/>
<rect x="585.0" y="248.7" width="8.6" height="14" fill="url(#gCyl)"/>
<ellipse cx="589.3" cy="248.7" rx="4.3" ry="2.5" fill="#f9f9f9" stroke="#c4c4c8" stroke-width="0.5"/>
<rect x="604.8" y="248.9" width="8.6" height="14" fill="url(#gCyl)"/>
<ellipse cx="609.1" cy="248.9" rx="4.3" ry="2.5" fill="#f9f9f9" stroke="#c4c4c8" stroke-width="0.5"/>
<rect x="624.7" y="249.2" width="8.6" height="14" fill="url(#gCyl)"/>
<ellipse cx="629.0" cy="249.2" rx="4.3" ry="2.5" fill="#f9f9f9" stroke="#c4c4c8" stroke-width="0.5"/>
<rect x="355.9" y="249.4" width="8.6" height="14" fill="url(#gCyl)"/>
<ellipse cx="360.2" cy="249.4" rx="4.3" ry="2.5" fill="#f9f9f9" stroke="#c4c4c8" stroke-width="0.5"/>
<rect x="664.4" y="249.7" width="8.6" height="14" fill="url(#gCyl)"/>
<ellipse cx="668.7" cy="249.7" rx="4.3" ry="2.5" fill="#f9f9f9" stroke="#c4c4c8" stroke-width="0.5"/>
<rect x="375.8" y="249.7" width="8.6" height="14" fill="url(#gCyl)"/>
<ellipse cx="380.1" cy="249.7" rx="4.3" ry="2.5" fill="#f9f9f9" stroke="#c4c4c8" stroke-width="0.5"/>
<rect x="684.2" y="249.9" width="8.6" height="14" fill="url(#gCyl)"/>
<ellipse cx="688.5" cy="249.9" rx="4.3" ry="2.5" fill="#f9f9f9" stroke="#c4c4c8" stroke-width="0.5"/>
<rect x="395.6" y="249.9" width="8.6" height="14" fill="url(#gCyl)"/>
<ellipse cx="399.9" cy="249.9" rx="4.3" ry="2.5" fill="#f9f9f9" stroke="#c4c4c8" stroke-width="0.5"/>
<rect x="704.1" y="250.2" width="8.6" height="14" fill="url(#gCyl)"/>
<ellipse cx="708.4" cy="250.2" rx="4.3" ry="2.5" fill="#f9f9f9" stroke="#c4c4c8" stroke-width="0.5"/>
<rect x="415.5" y="250.2" width="8.6" height="14" fill="url(#gCyl)"/>
<ellipse cx="419.8" cy="250.2" rx="4.3" ry="2.5" fill="#f9f9f9" stroke="#c4c4c8" stroke-width="0.5"/>
<rect x="723.9" y="250.4" width="8.6" height="14" fill="url(#gCyl)"/>
<ellipse cx="728.2" cy="250.4" rx="4.3" ry="2.5" fill="#f9f9f9" stroke="#c4c4c8" stroke-width="0.5"/>
<rect x="435.3" y="250.5" width="8.6" height="14" fill="url(#gCyl)"/>
<ellipse cx="439.6" cy="250.5" rx="4.3" ry="2.5" fill="#f9f9f9" stroke="#c4c4c8" stroke-width="0.5"/>
<rect x="743.8" y="250.7" width="8.6" height="14" fill="url(#gCyl)"/>
<ellipse cx="748.1" cy="250.7" rx="4.3" ry="2.5" fill="#f9f9f9" stroke="#c4c4c8" stroke-width="0.5"/>
<rect x="455.2" y="250.7" width="8.6" height="14" fill="url(#gCyl)"/>
<ellipse cx="459.5" cy="250.7" rx="4.3" ry="2.5" fill="#f9f9f9" stroke="#c4c4c8" stroke-width="0.5"/>
<rect x="475.0" y="251.0" width="8.6" height="14" fill="url(#gCyl)"/>
<ellipse cx="479.3" cy="251.0" rx="4.3" ry="2.5" fill="#f9f9f9" stroke="#c4c4c8" stroke-width="0.5"/>
<rect x="494.9" y="251.2" width="8.6" height="14" fill="url(#gCyl)"/>
<ellipse cx="499.2" cy="251.2" rx="4.3" ry="2.5" fill="#f9f9f9" stroke="#c4c4c8" stroke-width="0.5"/>
<rect x="514.7" y="251.5" width="8.6" height="14" fill="url(#gCyl)"/>
<ellipse cx="519.0" cy="251.5" rx="4.3" ry="2.5" fill="#f9f9f9" stroke="#c4c4c8" stroke-width="0.5"/>
<rect x="534.6" y="251.7" width="8.6" height="14" fill="url(#gCyl)"/>
<ellipse cx="538.9" cy="251.7" rx="4.3" ry="2.5" fill="#f9f9f9" stroke="#c4c4c8" stroke-width="0.5"/>
<rect x="554.4" y="252.0" width="8.6" height="14" fill="url(#gCyl)"/>
<ellipse cx="558.7" cy="252.0" rx="4.3" ry="2.5" fill="#f9f9f9" stroke="#c4c4c8" stroke-width="0.5"/>
<rect x="574.3" y="252.2" width="8.6" height="14" fill="url(#gCyl)"/>
<ellipse cx="578.6" cy="252.2" rx="4.3" ry="2.5" fill="#f9f9f9" stroke="#c4c4c8" stroke-width="0.5"/>
<rect x="594.1" y="252.5" width="8.6" height="14" fill="url(#gCyl)"/>
<ellipse cx="598.4" cy="252.5" rx="4.3" ry="2.5" fill="#f9f9f9" stroke="#c4c4c8" stroke-width="0.5"/>
<rect x="614.0" y="252.7" width="8.6" height="14" fill="url(#gCyl)"/>
<ellipse cx="618.3" cy="252.7" rx="4.3" ry="2.5" fill="#f9f9f9" stroke="#c4c4c8" stroke-width="0.5"/>
<rect x="365.1" y="253.3" width="8.6" height="14" fill="url(#gCyl)"/>
<ellipse cx="369.4" cy="253.3" rx="4.3" ry="2.5" fill="#f9f9f9" stroke="#c4c4c8" stroke-width="0.5"/>
<rect x="673.5" y="253.5" width="8.6" height="14" fill="url(#gCyl)"/>
<ellipse cx="677.8" cy="253.5" rx="4.3" ry="2.5" fill="#f9f9f9" stroke="#c4c4c8" stroke-width="0.5"/>
<rect x="384.9" y="253.5" width="8.6" height="14" fill="url(#gCyl)"/>
<ellipse cx="389.2" cy="253.5" rx="4.3" ry="2.5" fill="#f9f9f9" stroke="#c4c4c8" stroke-width="0.5"/>
<rect x="693.4" y="253.8" width="8.6" height="14" fill="url(#gCyl)"/>
<ellipse cx="697.7" cy="253.8" rx="4.3" ry="2.5" fill="#f9f9f9" stroke="#c4c4c8" stroke-width="0.5"/>
<rect x="404.8" y="253.8" width="8.6" height="14" fill="url(#gCyl)"/>
<ellipse cx="409.1" cy="253.8" rx="4.3" ry="2.5" fill="#f9f9f9" stroke="#c4c4c8" stroke-width="0.5"/>
<rect x="713.2" y="254.0" width="8.6" height="14" fill="url(#gCyl)"/>
<ellipse cx="717.5" cy="254.0" rx="4.3" ry="2.5" fill="#f9f9f9" stroke="#c4c4c8" stroke-width="0.5"/>
<rect x="424.6" y="254.0" width="8.6" height="14" fill="url(#gCyl)"/>
<ellipse cx="428.9" cy="254.0" rx="4.3" ry="2.5" fill="#f9f9f9" stroke="#c4c4c8" stroke-width="0.5"/>
<rect x="733.1" y="254.3" width="8.6" height="14" fill="url(#gCyl)"/>
<ellipse cx="737.4" cy="254.3" rx="4.3" ry="2.5" fill="#f9f9f9" stroke="#c4c4c8" stroke-width="0.5"/>
<rect x="444.5" y="254.3" width="8.6" height="14" fill="url(#gCyl)"/>
<ellipse cx="448.8" cy="254.3" rx="4.3" ry="2.5" fill="#f9f9f9" stroke="#c4c4c8" stroke-width="0.5"/>
<rect x="464.3" y="254.5" width="8.6" height="14" fill="url(#gCyl)"/>
<ellipse cx="468.6" cy="254.5" rx="4.3" ry="2.5" fill="#f9f9f9" stroke="#c4c4c8" stroke-width="0.5"/>
<rect x="484.2" y="254.8" width="8.6" height="14" fill="url(#gCyl)"/>
<ellipse cx="488.5" cy="254.8" rx="4.3" ry="2.5" fill="#f9f9f9" stroke="#c4c4c8" stroke-width="0.5"/>
<rect x="504.1" y="255.1" width="8.6" height="14" fill="url(#gCyl)"/>
<ellipse cx="508.4" cy="255.1" rx="4.3" ry="2.5" fill="#f9f9f9" stroke="#c4c4c8" stroke-width="0.5"/>
<rect x="523.9" y="255.3" width="8.6" height="14" fill="url(#gCyl)"/>
<ellipse cx="528.2" cy="255.3" rx="4.3" ry="2.5" fill="#f9f9f9" stroke="#c4c4c8" stroke-width="0.5"/>
<rect x="543.8" y="255.6" width="8.6" height="14" fill="url(#gCyl)"/>
<ellipse cx="548.1" cy="255.6" rx="4.3" ry="2.5" fill="#f9f9f9" stroke="#c4c4c8" stroke-width="0.5"/>
<rect x="563.6" y="255.8" width="8.6" height="14" fill="url(#gCyl)"/>
<ellipse cx="567.9" cy="255.8" rx="4.3" ry="2.5" fill="#f9f9f9" stroke="#c4c4c8" stroke-width="0.5"/>
<rect x="583.5" y="256.1" width="8.6" height="14" fill="url(#gCyl)"/>
<ellipse cx="587.8" cy="256.1" rx="4.3" ry="2.5" fill="#f9f9f9" stroke="#c4c4c8" stroke-width="0.5"/>
<rect x="603.3" y="256.3" width="8.6" height="14" fill="url(#gCyl)"/>
<ellipse cx="607.6" cy="256.3" rx="4.3" ry="2.5" fill="#f9f9f9" stroke="#c4c4c8" stroke-width="0.5"/>
<rect x="374.3" y="257.1" width="8.6" height="14" fill="url(#gCyl)"/>
<ellipse cx="378.6" cy="257.1" rx="4.3" ry="2.5" fill="#f9f9f9" stroke="#c4c4c8" stroke-width="0.5"/>
<rect x="682.7" y="257.3" width="8.6" height="14" fill="url(#gCyl)"/>
<ellipse cx="687.0" cy="257.3" rx="4.3" ry="2.5" fill="#f9f9f9" stroke="#c4c4c8" stroke-width="0.5"/>
<rect x="394.1" y="257.4" width="8.6" height="14" fill="url(#gCyl)"/>
<ellipse cx="398.4" cy="257.4" rx="4.3" ry="2.5" fill="#f9f9f9" stroke="#c4c4c8" stroke-width="0.5"/>
<rect x="702.6" y="257.6" width="8.6" height="14" fill="url(#gCyl)"/>
<ellipse cx="706.9" cy="257.6" rx="4.3" ry="2.5" fill="#f9f9f9" stroke="#c4c4c8" stroke-width="0.5"/>
<rect x="414.0" y="257.6" width="8.6" height="14" fill="url(#gCyl)"/>
<ellipse cx="418.3" cy="257.6" rx="4.3" ry="2.5" fill="#f9f9f9" stroke="#c4c4c8" stroke-width="0.5"/>
<rect x="722.4" y="257.9" width="8.6" height="14" fill="url(#gCyl)"/>
<ellipse cx="726.7" cy="257.9" rx="4.3" ry="2.5" fill="#f9f9f9" stroke="#c4c4c8" stroke-width="0.5"/>
<rect x="433.8" y="257.9" width="8.6" height="14" fill="url(#gCyl)"/>
<ellipse cx="438.1" cy="257.9" rx="4.3" ry="2.5" fill="#f9f9f9" stroke="#c4c4c8" stroke-width="0.5"/>
<rect x="453.7" y="258.1" width="8.6" height="14" fill="url(#gCyl)"/>
<ellipse cx="458.0" cy="258.1" rx="4.3" ry="2.5" fill="#f9f9f9" stroke="#c4c4c8" stroke-width="0.5"/>
<rect x="473.5" y="258.4" width="8.6" height="14" fill="url(#gCyl)"/>
<ellipse cx="477.8" cy="258.4" rx="4.3" ry="2.5" fill="#f9f9f9" stroke="#c4c4c8" stroke-width="0.5"/>
<rect x="493.4" y="258.6" width="8.6" height="14" fill="url(#gCyl)"/>
<ellipse cx="497.7" cy="258.6" rx="4.3" ry="2.5" fill="#f9f9f9" stroke="#c4c4c8" stroke-width="0.5"/>
<rect x="513.2" y="258.9" width="8.6" height="14" fill="url(#gCyl)"/>
<ellipse cx="517.5" cy="258.9" rx="4.3" ry="2.5" fill="#f9f9f9" stroke="#c4c4c8" stroke-width="0.5"/>
<rect x="533.1" y="259.1" width="8.6" height="14" fill="url(#gCyl)"/>
<ellipse cx="537.4" cy="259.1" rx="4.3" ry="2.5" fill="#f9f9f9" stroke="#c4c4c8" stroke-width="0.5"/>
<rect x="552.9" y="259.4" width="8.6" height="14" fill="url(#gCyl)"/>
<ellipse cx="557.2" cy="259.4" rx="4.3" ry="2.5" fill="#f9f9f9" stroke="#c4c4c8" stroke-width="0.5"/>
<rect x="572.8" y="259.7" width="8.6" height="14" fill="url(#gCyl)"/>
<ellipse cx="577.1" cy="259.7" rx="4.3" ry="2.5" fill="#f9f9f9" stroke="#c4c4c8" stroke-width="0.5"/>
<rect x="592.6" y="259.9" width="8.6" height="14" fill="url(#gCyl)"/>
<ellipse cx="596.9" cy="259.9" rx="4.3" ry="2.5" fill="#f9f9f9" stroke="#c4c4c8" stroke-width="0.5"/>
<rect x="363.6" y="260.7" width="8.6" height="14" fill="url(#gCyl)"/>
<ellipse cx="367.9" cy="260.7" rx="4.3" ry="2.5" fill="#f9f9f9" stroke="#c4c4c8" stroke-width="0.5"/>
<rect x="383.4" y="260.9" width="8.6" height="14" fill="url(#gCyl)"/>
<ellipse cx="387.7" cy="260.9" rx="4.3" ry="2.5" fill="#f9f9f9" stroke="#c4c4c8" stroke-width="0.5"/>
<rect x="691.9" y="261.2" width="8.6" height="14" fill="url(#gCyl)"/>
<ellipse cx="696.2" cy="261.2" rx="4.3" ry="2.5" fill="#f9f9f9" stroke="#c4c4c8" stroke-width="0.5"/>
<rect x="403.3" y="261.2" width="8.6" height="14" fill="url(#gCyl)"/>
<ellipse cx="407.6" cy="261.2" rx="4.3" ry="2.5" fill="#f9f9f9" stroke="#c4c4c8" stroke-width="0.5"/>
<rect x="711.7" y="261.4" width="8.6" height="14" fill="url(#gCyl)"/>
<ellipse cx="716.0" cy="261.4" rx="4.3" ry="2.5" fill="#f9f9f9" stroke="#c4c4c8" stroke-width="0.5"/>
<rect x="423.1" y="261.4" width="8.6" height="14" fill="url(#gCyl)"/>
<ellipse cx="427.4" cy="261.4" rx="4.3" ry="2.5" fill="#f9f9f9" stroke="#c4c4c8" stroke-width="0.5"/>
<rect x="443.0" y="261.7" width="8.6" height="14" fill="url(#gCyl)"/>
<ellipse cx="447.3" cy="261.7" rx="4.3" ry="2.5" fill="#f9f9f9" stroke="#c4c4c8" stroke-width="0.5"/>
<rect x="462.8" y="262.0" width="8.6" height="14" fill="url(#gCyl)"/>
<ellipse cx="467.1" cy="262.0" rx="4.3" ry="2.5" fill="#f9f9f9" stroke="#c4c4c8" stroke-width="0.5"/>
<rect x="482.7" y="262.2" width="8.6" height="14" fill="url(#gCyl)"/>
<ellipse cx="487.0" cy="262.2" rx="4.3" ry="2.5" fill="#f9f9f9" stroke="#c4c4c8" stroke-width="0.5"/>
<rect x="502.5" y="262.5" width="8.6" height="14" fill="url(#gCyl)"/>
<ellipse cx="506.8" cy="262.5" rx="4.3" ry="2.5" fill="#f9f9f9" stroke="#c4c4c8" stroke-width="0.5"/>
<rect x="522.4" y="262.7" width="8.6" height="14" fill="url(#gCyl)"/>
<ellipse cx="526.7" cy="262.7" rx="4.3" ry="2.5" fill="#f9f9f9" stroke="#c4c4c8" stroke-width="0.5"/>
<rect x="542.2" y="263.0" width="8.6" height="14" fill="url(#gCyl)"/>
<ellipse cx="546.5" cy="263.0" rx="4.3" ry="2.5" fill="#f9f9f9" stroke="#c4c4c8" stroke-width="0.5"/>
<rect x="562.1" y="263.2" width="8.6" height="14" fill="url(#gCyl)"/>
<ellipse cx="566.4" cy="263.2" rx="4.3" ry="2.5" fill="#f9f9f9" stroke="#c4c4c8" stroke-width="0.5"/>
<rect x="581.9" y="263.5" width="8.6" height="14" fill="url(#gCyl)"/>
<ellipse cx="586.2" cy="263.5" rx="4.3" ry="2.5" fill="#f9f9f9" stroke="#c4c4c8" stroke-width="0.5"/>
<rect x="372.7" y="264.5" width="8.6" height="14" fill="url(#gCyl)"/>
<ellipse cx="377.0" cy="264.5" rx="4.3" ry="2.5" fill="#f9f9f9" stroke="#c4c4c8" stroke-width="0.5"/>
<rect x="392.6" y="264.8" width="8.6" height="14" fill="url(#gCyl)"/>
<ellipse cx="396.9" cy="264.8" rx="4.3" ry="2.5" fill="#f9f9f9" stroke="#c4c4c8" stroke-width="0.5"/>
<rect x="701.0" y="265.0" width="8.6" height="14" fill="url(#gCyl)"/>
<ellipse cx="705.3" cy="265.0" rx="4.3" ry="2.5" fill="#f9f9f9" stroke="#c4c4c8" stroke-width="0.5"/>
<rect x="412.4" y="265.0" width="8.6" height="14" fill="url(#gCyl)"/>
<ellipse cx="416.7" cy="265.0" rx="4.3" ry="2.5" fill="#f9f9f9" stroke="#c4c4c8" stroke-width="0.5"/>
<rect x="432.3" y="265.3" width="8.6" height="14" fill="url(#gCyl)"/>
<ellipse cx="436.6" cy="265.3" rx="4.3" ry="2.5" fill="#f9f9f9" stroke="#c4c4c8" stroke-width="0.5"/>
<rect x="452.1" y="265.5" width="8.6" height="14" fill="url(#gCyl)"/>
<ellipse cx="456.4" cy="265.5" rx="4.3" ry="2.5" fill="#f9f9f9" stroke="#c4c4c8" stroke-width="0.5"/>
<rect x="472.0" y="265.8" width="8.6" height="14" fill="url(#gCyl)"/>
<ellipse cx="476.3" cy="265.8" rx="4.3" ry="2.5" fill="#f9f9f9" stroke="#c4c4c8" stroke-width="0.5"/>
<rect x="491.8" y="266.0" width="8.6" height="14" fill="url(#gCyl)"/>
<ellipse cx="496.1" cy="266.0" rx="4.3" ry="2.5" fill="#f9f9f9" stroke="#c4c4c8" stroke-width="0.5"/>
<rect x="511.7" y="266.3" width="8.6" height="14" fill="url(#gCyl)"/>
<ellipse cx="516.0" cy="266.3" rx="4.3" ry="2.5" fill="#f9f9f9" stroke="#c4c4c8" stroke-width="0.5"/>
<rect x="531.6" y="266.6" width="8.6" height="14" fill="url(#gCyl)"/>
<ellipse cx="535.9" cy="266.6" rx="4.3" ry="2.5" fill="#f9f9f9" stroke="#c4c4c8" stroke-width="0.5"/>
<rect x="551.4" y="266.8" width="8.6" height="14" fill="url(#gCyl)"/>
<ellipse cx="555.7" cy="266.8" rx="4.3" ry="2.5" fill="#f9f9f9" stroke="#c4c4c8" stroke-width="0.5"/>
<rect x="571.3" y="267.1" width="8.6" height="14" fill="url(#gCyl)"/>
<ellipse cx="575.6" cy="267.1" rx="4.3" ry="2.5" fill="#f9f9f9" stroke="#c4c4c8" stroke-width="0.5"/>
<rect x="362.1" y="268.1" width="8.6" height="14" fill="url(#gCyl)"/>
<ellipse cx="366.4" cy="268.1" rx="4.3" ry="2.5" fill="#f9f9f9" stroke="#c4c4c8" stroke-width="0.5"/>
<rect x="381.9" y="268.4" width="8.6" height="14" fill="url(#gCyl)"/>
<ellipse cx="386.2" cy="268.4" rx="4.3" ry="2.5" fill="#f9f9f9" stroke="#c4c4c8" stroke-width="0.5"/>
<rect x="401.8" y="268.6" width="8.6" height="14" fill="url(#gCyl)"/>
<ellipse cx="406.1" cy="268.6" rx="4.3" ry="2.5" fill="#f9f9f9" stroke="#c4c4c8" stroke-width="0.5"/>
<rect x="421.6" y="268.9" width="8.6" height="14" fill="url(#gCyl)"/>
<ellipse cx="425.9" cy="268.9" rx="4.3" ry="2.5" fill="#f9f9f9" stroke="#c4c4c8" stroke-width="0.5"/>
<rect x="441.5" y="269.1" width="8.6" height="14" fill="url(#gCyl)"/>
<ellipse cx="445.8" cy="269.1" rx="4.3" ry="2.5" fill="#f9f9f9" stroke="#c4c4c8" stroke-width="0.5"/>
<rect x="461.3" y="269.4" width="8.6" height="14" fill="url(#gCyl)"/>
<ellipse cx="465.6" cy="269.4" rx="4.3" ry="2.5" fill="#f9f9f9" stroke="#c4c4c8" stroke-width="0.5"/>
<rect x="481.2" y="269.6" width="8.6" height="14" fill="url(#gCyl)"/>
<ellipse cx="485.5" cy="269.6" rx="4.3" ry="2.5" fill="#f9f9f9" stroke="#c4c4c8" stroke-width="0.5"/>
<rect x="501.0" y="269.9" width="8.6" height="14" fill="url(#gCyl)"/>
<ellipse cx="505.3" cy="269.9" rx="4.3" ry="2.5" fill="#f9f9f9" stroke="#c4c4c8" stroke-width="0.5"/>
<rect x="520.9" y="270.1" width="8.6" height="14" fill="url(#gCyl)"/>
<ellipse cx="525.2" cy="270.1" rx="4.3" ry="2.5" fill="#f9f9f9" stroke="#c4c4c8" stroke-width="0.5"/>
<rect x="540.7" y="270.4" width="8.6" height="14" fill="url(#gCyl)"/>
<ellipse cx="545.0" cy="270.4" rx="4.3" ry="2.5" fill="#f9f9f9" stroke="#c4c4c8" stroke-width="0.5"/>
<rect x="560.6" y="270.6" width="8.6" height="14" fill="url(#gCyl)"/>
<ellipse cx="564.9" cy="270.6" rx="4.3" ry="2.5" fill="#f9f9f9" stroke="#c4c4c8" stroke-width="0.5"/>
<rect x="371.2" y="271.9" width="8.6" height="14" fill="url(#gCyl)"/>
<ellipse cx="375.5" cy="271.9" rx="4.3" ry="2.5" fill="#f9f9f9" stroke="#c4c4c8" stroke-width="0.5"/>
<rect x="391.1" y="272.2" width="8.6" height="14" fill="url(#gCyl)"/>
<ellipse cx="395.4" cy="272.2" rx="4.3" ry="2.5" fill="#f9f9f9" stroke="#c4c4c8" stroke-width="0.5"/>
<rect x="410.9" y="272.4" width="8.6" height="14" fill="url(#gCyl)"/>
<ellipse cx="415.2" cy="272.4" rx="4.3" ry="2.5" fill="#f9f9f9" stroke="#c4c4c8" stroke-width="0.5"/>
<rect x="430.8" y="272.7" width="8.6" height="14" fill="url(#gCyl)"/>
<ellipse cx="435.1" cy="272.7" rx="4.3" ry="2.5" fill="#f9f9f9" stroke="#c4c4c8" stroke-width="0.5"/>
<rect x="450.6" y="272.9" width="8.6" height="14" fill="url(#gCyl)"/>
<ellipse cx="454.9" cy="272.9" rx="4.3" ry="2.5" fill="#f9f9f9" stroke="#c4c4c8" stroke-width="0.5"/>
<rect x="470.5" y="273.2" width="8.6" height="14" fill="url(#gCyl)"/>
<ellipse cx="474.8" cy="273.2" rx="4.3" ry="2.5" fill="#f9f9f9" stroke="#c4c4c8" stroke-width="0.5"/>
<rect x="490.3" y="273.5" width="8.6" height="14" fill="url(#gCyl)"/>
<ellipse cx="494.6" cy="273.5" rx="4.3" ry="2.5" fill="#f9f9f9" stroke="#c4c4c8" stroke-width="0.5"/>
<rect x="510.2" y="273.7" width="8.6" height="14" fill="url(#gCyl)"/>
<ellipse cx="514.5" cy="273.7" rx="4.3" ry="2.5" fill="#f9f9f9" stroke="#c4c4c8" stroke-width="0.5"/>
<rect x="530.0" y="274.0" width="8.6" height="14" fill="url(#gCyl)"/>
<ellipse cx="534.3" cy="274.0" rx="4.3" ry="2.5" fill="#f9f9f9" stroke="#c4c4c8" stroke-width="0.5"/>
<rect x="549.9" y="274.2" width="8.6" height="14" fill="url(#gCyl)"/>
<ellipse cx="554.2" cy="274.2" rx="4.3" ry="2.5" fill="#f9f9f9" stroke="#c4c4c8" stroke-width="0.5"/>
<rect x="360.5" y="275.5" width="8.6" height="14" fill="url(#gCyl)"/>
<ellipse cx="364.8" cy="275.5" rx="4.3" ry="2.5" fill="#f9f9f9" stroke="#c4c4c8" stroke-width="0.5"/>
<rect x="380.4" y="275.8" width="8.6" height="14" fill="url(#gCyl)"/>
<ellipse cx="384.7" cy="275.8" rx="4.3" ry="2.5" fill="#f9f9f9" stroke="#c4c4c8" stroke-width="0.5"/>
<rect x="400.2" y="276.0" width="8.6" height="14" fill="url(#gCyl)"/>
<ellipse cx="404.5" cy="276.0" rx="4.3" ry="2.5" fill="#f9f9f9" stroke="#c4c4c8" stroke-width="0.5"/>
<rect x="420.1" y="276.3" width="8.6" height="14" fill="url(#gCyl)"/>
<ellipse cx="424.4" cy="276.3" rx="4.3" ry="2.5" fill="#f9f9f9" stroke="#c4c4c8" stroke-width="0.5"/>
<rect x="439.9" y="276.5" width="8.6" height="14" fill="url(#gCyl)"/>
<ellipse cx="444.2" cy="276.5" rx="4.3" ry="2.5" fill="#f9f9f9" stroke="#c4c4c8" stroke-width="0.5"/>
<rect x="459.8" y="276.8" width="8.6" height="14" fill="url(#gCyl)"/>
<ellipse cx="464.1" cy="276.8" rx="4.3" ry="2.5" fill="#f9f9f9" stroke="#c4c4c8" stroke-width="0.5"/>
<rect x="479.6" y="277.0" width="8.6" height="14" fill="url(#gCyl)"/>
<ellipse cx="483.9" cy="277.0" rx="4.3" ry="2.5" fill="#f9f9f9" stroke="#c4c4c8" stroke-width="0.5"/>
<rect x="499.5" y="277.3" width="8.6" height="14" fill="url(#gCyl)"/>
<ellipse cx="503.8" cy="277.3" rx="4.3" ry="2.5" fill="#f9f9f9" stroke="#c4c4c8" stroke-width="0.5"/>
<rect x="519.3" y="277.5" width="8.6" height="14" fill="url(#gCyl)"/>
<ellipse cx="523.6" cy="277.5" rx="4.3" ry="2.5" fill="#f9f9f9" stroke="#c4c4c8" stroke-width="0.5"/>
<rect x="539.2" y="277.8" width="8.6" height="14" fill="url(#gCyl)"/>
<ellipse cx="543.5" cy="277.8" rx="4.3" ry="2.5" fill="#f9f9f9" stroke="#c4c4c8" stroke-width="0.5"/>
<rect x="369.7" y="279.3" width="8.6" height="14" fill="url(#gCyl)"/>
<ellipse cx="374.0" cy="279.3" rx="4.3" ry="2.5" fill="#f9f9f9" stroke="#c4c4c8" stroke-width="0.5"/>
<rect x="389.6" y="279.6" width="8.6" height="14" fill="url(#gCyl)"/>
<ellipse cx="393.9" cy="279.6" rx="4.3" ry="2.5" fill="#f9f9f9" stroke="#c4c4c8" stroke-width="0.5"/>
<rect x="409.4" y="279.9" width="8.6" height="14" fill="url(#gCyl)"/>
<ellipse cx="413.7" cy="279.9" rx="4.3" ry="2.5" fill="#f9f9f9" stroke="#c4c4c8" stroke-width="0.5"/>
<rect x="429.3" y="280.1" width="8.6" height="14" fill="url(#gCyl)"/>
<ellipse cx="433.6" cy="280.1" rx="4.3" ry="2.5" fill="#f9f9f9" stroke="#c4c4c8" stroke-width="0.5"/>
<rect x="449.1" y="280.4" width="8.6" height="14" fill="url(#gCyl)"/>
<ellipse cx="453.4" cy="280.4" rx="4.3" ry="2.5" fill="#f9f9f9" stroke="#c4c4c8" stroke-width="0.5"/>
<rect x="469.0" y="280.6" width="8.6" height="14" fill="url(#gCyl)"/>
<ellipse cx="473.3" cy="280.6" rx="4.3" ry="2.5" fill="#f9f9f9" stroke="#c4c4c8" stroke-width="0.5"/>
<rect x="488.8" y="280.9" width="8.6" height="14" fill="url(#gCyl)"/>
<ellipse cx="493.1" cy="280.9" rx="4.3" ry="2.5" fill="#f9f9f9" stroke="#c4c4c8" stroke-width="0.5"/>
<rect x="508.7" y="281.1" width="8.6" height="14" fill="url(#gCyl)"/>
<ellipse cx="513.0" cy="281.1" rx="4.3" ry="2.5" fill="#f9f9f9" stroke="#c4c4c8" stroke-width="0.5"/>
<rect x="528.5" y="281.4" width="8.6" height="14" fill="url(#gCyl)"/>
<ellipse cx="532.8" cy="281.4" rx="4.3" ry="2.5" fill="#f9f9f9" stroke="#c4c4c8" stroke-width="0.5"/>
<rect x="359.0" y="282.9" width="8.6" height="14" fill="url(#gCyl)"/>
<ellipse cx="363.3" cy="282.9" rx="4.3" ry="2.5" fill="#f9f9f9" stroke="#c4c4c8" stroke-width="0.5"/>
<rect x="378.9" y="283.2" width="8.6" height="14" fill="url(#gCyl)"/>
<ellipse cx="383.2" cy="283.2" rx="4.3" ry="2.5" fill="#f9f9f9" stroke="#c4c4c8" stroke-width="0.5"/>
<rect x="398.7" y="283.4" width="8.6" height="14" fill="url(#gCyl)"/>
<ellipse cx="403.0" cy="283.4" rx="4.3" ry="2.5" fill="#f9f9f9" stroke="#c4c4c8" stroke-width="0.5"/>
<rect x="418.6" y="283.7" width="8.6" height="14" fill="url(#gCyl)"/>
<ellipse cx="422.9" cy="283.7" rx="4.3" ry="2.5" fill="#f9f9f9" stroke="#c4c4c8" stroke-width="0.5"/>
<rect x="438.4" y="283.9" width="8.6" height="14" fill="url(#gCyl)"/>
<ellipse cx="442.7" cy="283.9" rx="4.3" ry="2.5" fill="#f9f9f9" stroke="#c4c4c8" stroke-width="0.5"/>
<rect x="458.3" y="284.2" width="8.6" height="14" fill="url(#gCyl)"/>
<ellipse cx="462.6" cy="284.2" rx="4.3" ry="2.5" fill="#f9f9f9" stroke="#c4c4c8" stroke-width="0.5"/>
<rect x="478.1" y="284.4" width="8.6" height="14" fill="url(#gCyl)"/>
<ellipse cx="482.4" cy="284.4" rx="4.3" ry="2.5" fill="#f9f9f9" stroke="#c4c4c8" stroke-width="0.5"/>
<rect x="498.0" y="284.7" width="8.6" height="14" fill="url(#gCyl)"/>
<ellipse cx="502.3" cy="284.7" rx="4.3" ry="2.5" fill="#f9f9f9" stroke="#c4c4c8" stroke-width="0.5"/>
<rect x="517.8" y="285.0" width="8.6" height="14" fill="url(#gCyl)"/>
<ellipse cx="522.1" cy="285.0" rx="4.3" ry="2.5" fill="#f9f9f9" stroke="#c4c4c8" stroke-width="0.5"/>
<rect x="368.2" y="286.8" width="8.6" height="14" fill="url(#gCyl)"/>
<ellipse cx="372.5" cy="286.8" rx="4.3" ry="2.5" fill="#f9f9f9" stroke="#c4c4c8" stroke-width="0.5"/>
<rect x="388.0" y="287.0" width="8.6" height="14" fill="url(#gCyl)"/>
<ellipse cx="392.3" cy="287.0" rx="4.3" ry="2.5" fill="#f9f9f9" stroke="#c4c4c8" stroke-width="0.5"/>
<rect x="407.9" y="287.3" width="8.6" height="14" fill="url(#gCyl)"/>
<ellipse cx="412.2" cy="287.3" rx="4.3" ry="2.5" fill="#f9f9f9" stroke="#c4c4c8" stroke-width="0.5"/>
<rect x="427.7" y="287.5" width="8.6" height="14" fill="url(#gCyl)"/>
<ellipse cx="432.0" cy="287.5" rx="4.3" ry="2.5" fill="#f9f9f9" stroke="#c4c4c8" stroke-width="0.5"/>
<rect x="447.6" y="287.8" width="8.6" height="14" fill="url(#gCyl)"/>
<ellipse cx="451.9" cy="287.8" rx="4.3" ry="2.5" fill="#f9f9f9" stroke="#c4c4c8" stroke-width="0.5"/>
<rect x="467.4" y="288.0" width="8.6" height="14" fill="url(#gCyl)"/>
<ellipse cx="471.7" cy="288.0" rx="4.3" ry="2.5" fill="#f9f9f9" stroke="#c4c4c8" stroke-width="0.5"/>
<rect x="487.3" y="288.3" width="8.6" height="14" fill="url(#gCyl)"/>
<ellipse cx="491.6" cy="288.3" rx="4.3" ry="2.5" fill="#f9f9f9" stroke="#c4c4c8" stroke-width="0.5"/>
<rect x="507.1" y="288.5" width="8.6" height="14" fill="url(#gCyl)"/>
<ellipse cx="511.4" cy="288.5" rx="4.3" ry="2.5" fill="#f9f9f9" stroke="#c4c4c8" stroke-width="0.5"/>
<rect x="357.5" y="290.3" width="8.6" height="14" fill="url(#gCyl)"/>
<ellipse cx="361.8" cy="290.3" rx="4.3" ry="2.5" fill="#f9f9f9" stroke="#c4c4c8" stroke-width="0.5"/>
<rect x="377.4" y="290.6" width="8.6" height="14" fill="url(#gCyl)"/>
<ellipse cx="381.7" cy="290.6" rx="4.3" ry="2.5" fill="#f9f9f9" stroke="#c4c4c8" stroke-width="0.5"/>
<rect x="397.2" y="290.8" width="8.6" height="14" fill="url(#gCyl)"/>
<ellipse cx="401.5" cy="290.8" rx="4.3" ry="2.5" fill="#f9f9f9" stroke="#c4c4c8" stroke-width="0.5"/>
<rect x="417.1" y="291.1" width="8.6" height="14" fill="url(#gCyl)"/>
<ellipse cx="421.4" cy="291.1" rx="4.3" ry="2.5" fill="#f9f9f9" stroke="#c4c4c8" stroke-width="0.5"/>
<rect x="436.9" y="291.4" width="8.6" height="14" fill="url(#gCyl)"/>
<ellipse cx="441.2" cy="291.4" rx="4.3" ry="2.5" fill="#f9f9f9" stroke="#c4c4c8" stroke-width="0.5"/>
<rect x="456.8" y="291.6" width="8.6" height="14" fill="url(#gCyl)"/>
<ellipse cx="461.1" cy="291.6" rx="4.3" ry="2.5" fill="#f9f9f9" stroke="#c4c4c8" stroke-width="0.5"/>
<rect x="476.6" y="291.9" width="8.6" height="14" fill="url(#gCyl)"/>
<ellipse cx="480.9" cy="291.9" rx="4.3" ry="2.5" fill="#f9f9f9" stroke="#c4c4c8" stroke-width="0.5"/>
<rect x="496.5" y="292.1" width="8.6" height="14" fill="url(#gCyl)"/>
<ellipse cx="500.8" cy="292.1" rx="4.3" ry="2.5" fill="#f9f9f9" stroke="#c4c4c8" stroke-width="0.5"/>
<rect x="366.7" y="294.2" width="8.6" height="14" fill="url(#gCyl)"/>
<ellipse cx="371.0" cy="294.2" rx="4.3" ry="2.5" fill="#f9f9f9" stroke="#c4c4c8" stroke-width="0.5"/>
<rect x="386.5" y="294.4" width="8.6" height="14" fill="url(#gCyl)"/>
<ellipse cx="390.8" cy="294.4" rx="4.3" ry="2.5" fill="#f9f9f9" stroke="#c4c4c8" stroke-width="0.5"/>
<rect x="406.4" y="294.7" width="8.6" height="14" fill="url(#gCyl)"/>
<ellipse cx="410.7" cy="294.7" rx="4.3" ry="2.5" fill="#f9f9f9" stroke="#c4c4c8" stroke-width="0.5"/>
<rect x="426.2" y="294.9" width="8.6" height="14" fill="url(#gCyl)"/>
<ellipse cx="430.5" cy="294.9" rx="4.3" ry="2.5" fill="#f9f9f9" stroke="#c4c4c8" stroke-width="0.5"/>
<rect x="446.1" y="295.2" width="8.6" height="14" fill="url(#gCyl)"/>
<ellipse cx="450.4" cy="295.2" rx="4.3" ry="2.5" fill="#f9f9f9" stroke="#c4c4c8" stroke-width="0.5"/>
<rect x="465.9" y="295.4" width="8.6" height="14" fill="url(#gCyl)"/>
<ellipse cx="470.2" cy="295.4" rx="4.3" ry="2.5" fill="#f9f9f9" stroke="#c4c4c8" stroke-width="0.5"/>
<rect x="485.8" y="295.7" width="8.6" height="14" fill="url(#gCyl)"/>
<ellipse cx="490.1" cy="295.7" rx="4.3" ry="2.5" fill="#f9f9f9" stroke="#c4c4c8" stroke-width="0.5"/>
<rect x="356.0" y="297.7" width="8.6" height="14" fill="url(#gCyl)"/>
<ellipse cx="360.3" cy="297.7" rx="4.3" ry="2.5" fill="#f9f9f9" stroke="#c4c4c8" stroke-width="0.5"/>
<rect x="375.8" y="298.0" width="8.6" height="14" fill="url(#gCyl)"/>
<ellipse cx="380.1" cy="298.0" rx="4.3" ry="2.5" fill="#f9f9f9" stroke="#c4c4c8" stroke-width="0.5"/>
<rect x="395.7" y="298.3" width="8.6" height="14" fill="url(#gCyl)"/>
<ellipse cx="400.0" cy="298.3" rx="4.3" ry="2.5" fill="#f9f9f9" stroke="#c4c4c8" stroke-width="0.5"/>
<rect x="415.5" y="298.5" width="8.6" height="14" fill="url(#gCyl)"/>
<ellipse cx="419.8" cy="298.5" rx="4.3" ry="2.5" fill="#f9f9f9" stroke="#c4c4c8" stroke-width="0.5"/>
<rect x="435.4" y="298.8" width="8.6" height="14" fill="url(#gCyl)"/>
<ellipse cx="439.7" cy="298.8" rx="4.3" ry="2.5" fill="#f9f9f9" stroke="#c4c4c8" stroke-width="0.5"/>
<rect x="455.2" y="299.0" width="8.6" height="14" fill="url(#gCyl)"/>
<ellipse cx="459.5" cy="299.0" rx="4.3" ry="2.5" fill="#f9f9f9" stroke="#c4c4c8" stroke-width="0.5"/>
<rect x="475.1" y="299.3" width="8.6" height="14" fill="url(#gCyl)"/>
<ellipse cx="479.4" cy="299.3" rx="4.3" ry="2.5" fill="#f9f9f9" stroke="#c4c4c8" stroke-width="0.5"/>
<rect x="365.2" y="301.6" width="8.6" height="14" fill="url(#gCyl)"/>
<ellipse cx="369.5" cy="301.6" rx="4.3" ry="2.5" fill="#f9f9f9" stroke="#c4c4c8" stroke-width="0.5"/>
<rect x="385.0" y="301.8" width="8.6" height="14" fill="url(#gCyl)"/>
<ellipse cx="389.3" cy="301.8" rx="4.3" ry="2.5" fill="#f9f9f9" stroke="#c4c4c8" stroke-width="0.5"/>
<rect x="404.9" y="302.1" width="8.6" height="14" fill="url(#gCyl)"/>
<ellipse cx="409.2" cy="302.1" rx="4.3" ry="2.5" fill="#f9f9f9" stroke="#c4c4c8" stroke-width="0.5"/>
<rect x="424.7" y="302.3" width="8.6" height="14" fill="url(#gCyl)"/>
<ellipse cx="429.0" cy="302.3" rx="4.3" ry="2.5" fill="#f9f9f9" stroke="#c4c4c8" stroke-width="0.5"/>
<rect x="444.6" y="302.6" width="8.6" height="14" fill="url(#gCyl)"/>
<ellipse cx="448.9" cy="302.6" rx="4.3" ry="2.5" fill="#f9f9f9" stroke="#c4c4c8" stroke-width="0.5"/>
<rect x="464.4" y="302.9" width="8.6" height="14" fill="url(#gCyl)"/>
<ellipse cx="468.7" cy="302.9" rx="4.3" ry="2.5" fill="#f9f9f9" stroke="#c4c4c8" stroke-width="0.5"/>
<rect x="374.3" y="305.4" width="8.6" height="14" fill="url(#gCyl)"/>
<ellipse cx="378.6" cy="305.4" rx="4.3" ry="2.5" fill="#f9f9f9" stroke="#c4c4c8" stroke-width="0.5"/>
<rect x="394.2" y="305.7" width="8.6" height="14" fill="url(#gCyl)"/>
<ellipse cx="398.5" cy="305.7" rx="4.3" ry="2.5" fill="#f9f9f9" stroke="#c4c4c8" stroke-width="0.5"/>
<rect x="414.0" y="305.9" width="8.6" height="14" fill="url(#gCyl)"/>
<ellipse cx="418.3" cy="305.9" rx="4.3" ry="2.5" fill="#f9f9f9" stroke="#c4c4c8" stroke-width="0.5"/>
<rect x="433.9" y="306.2" width="8.6" height="14" fill="url(#gCyl)"/>
<ellipse cx="438.2" cy="306.2" rx="4.3" ry="2.5" fill="#f9f9f9" stroke="#c4c4c8" stroke-width="0.5"/>
<rect x="453.7" y="306.4" width="8.6" height="14" fill="url(#gCyl)"/>
<ellipse cx="458.0" cy="306.4" rx="4.3" ry="2.5" fill="#f9f9f9" stroke="#c4c4c8" stroke-width="0.5"/>
<rect x="363.6" y="309.0" width="8.6" height="14" fill="url(#gCyl)"/>
<ellipse cx="367.9" cy="309.0" rx="4.3" ry="2.5" fill="#f9f9f9" stroke="#c4c4c8" stroke-width="0.5"/>
<rect x="383.5" y="309.2" width="8.6" height="14" fill="url(#gCyl)"/>
<ellipse cx="387.8" cy="309.2" rx="4.3" ry="2.5" fill="#f9f9f9" stroke="#c4c4c8" stroke-width="0.5"/>
<rect x="403.3" y="309.5" width="8.6" height="14" fill="url(#gCyl)"/>
<ellipse cx="407.6" cy="309.5" rx="4.3" ry="2.5" fill="#f9f9f9" stroke="#c4c4c8" stroke-width="0.5"/>
<rect x="423.2" y="309.8" width="8.6" height="14" fill="url(#gCyl)"/>
<ellipse cx="427.5" cy="309.8" rx="4.3" ry="2.5" fill="#f9f9f9" stroke="#c4c4c8" stroke-width="0.5"/>
<rect x="443.0" y="310.0" width="8.6" height="14" fill="url(#gCyl)"/>
<ellipse cx="447.3" cy="310.0" rx="4.3" ry="2.5" fill="#f9f9f9" stroke="#c4c4c8" stroke-width="0.5"/>
<rect x="372.8" y="312.8" width="8.6" height="14" fill="url(#gCyl)"/>
<ellipse cx="377.1" cy="312.8" rx="4.3" ry="2.5" fill="#f9f9f9" stroke="#c4c4c8" stroke-width="0.5"/>
<rect x="392.7" y="313.1" width="8.6" height="14" fill="url(#gCyl)"/>
<ellipse cx="397.0" cy="313.1" rx="4.3" ry="2.5" fill="#f9f9f9" stroke="#c4c4c8" stroke-width="0.5"/>
<rect x="412.5" y="313.3" width="8.6" height="14" fill="url(#gCyl)"/>
<ellipse cx="416.8" cy="313.3" rx="4.3" ry="2.5" fill="#f9f9f9" stroke="#c4c4c8" stroke-width="0.5"/>
<rect x="432.4" y="313.6" width="8.6" height="14" fill="url(#gCyl)"/>
<ellipse cx="436.7" cy="313.6" rx="4.3" ry="2.5" fill="#f9f9f9" stroke="#c4c4c8" stroke-width="0.5"/>
<rect x="362.1" y="316.4" width="8.6" height="14" fill="url(#gCyl)"/>
<ellipse cx="366.4" cy="316.4" rx="4.3" ry="2.5" fill="#f9f9f9" stroke="#c4c4c8" stroke-width="0.5"/>
<rect x="382.0" y="316.7" width="8.6" height="14" fill="url(#gCyl)"/>
<ellipse cx="386.3" cy="316.7" rx="4.3" ry="2.5" fill="#f9f9f9" stroke="#c4c4c8" stroke-width="0.5"/>
<rect x="401.8" y="316.9" width="8.6" height="14" fill="url(#gCyl)"/>
<ellipse cx="406.1" cy="316.9" rx="4.3" ry="2.5" fill="#f9f9f9" stroke="#c4c4c8" stroke-width="0.5"/>
<rect x="421.7" y="317.2" width="8.6" height="14" fill="url(#gCyl)"/>
<ellipse cx="426.0" cy="317.2" rx="4.3" ry="2.5" fill="#f9f9f9" stroke="#c4c4c8" stroke-width="0.5"/>
<rect x="371.3" y="320.2" width="8.6" height="14" fill="url(#gCyl)"/>
<ellipse cx="375.6" cy="320.2" rx="4.3" ry="2.5" fill="#f9f9f9" stroke="#c4c4c8" stroke-width="0.5"/>
<rect x="391.1" y="320.5" width="8.6" height="14" fill="url(#gCyl)"/>
<ellipse cx="395.4" cy="320.5" rx="4.3" ry="2.5" fill="#f9f9f9" stroke="#c4c4c8" stroke-width="0.5"/>
<rect x="411.0" y="320.7" width="8.6" height="14" fill="url(#gCyl)"/>
<ellipse cx="415.3" cy="320.7" rx="4.3" ry="2.5" fill="#f9f9f9" stroke="#c4c4c8" stroke-width="0.5"/>
<rect x="360.6" y="323.8" width="8.6" height="14" fill="url(#gCyl)"/>
<ellipse cx="364.9" cy="323.8" rx="4.3" ry="2.5" fill="#f9f9f9" stroke="#c4c4c8" stroke-width="0.5"/>
<rect x="380.5" y="324.1" width="8.6" height="14" fill="url(#gCyl)"/>
<ellipse cx="384.8" cy="324.1" rx="4.3" ry="2.5" fill="#f9f9f9" stroke="#c4c4c8" stroke-width="0.5"/>
<rect x="400.3" y="324.3" width="8.6" height="14" fill="url(#gCyl)"/>
<ellipse cx="404.6" cy="324.3" rx="4.3" ry="2.5" fill="#f9f9f9" stroke="#c4c4c8" stroke-width="0.5"/>
<rect x="369.8" y="327.7" width="8.6" height="14" fill="url(#gCyl)"/>
<ellipse cx="374.1" cy="327.7" rx="4.3" ry="2.5" fill="#f9f9f9" stroke="#c4c4c8" stroke-width="0.5"/>
<rect x="389.6" y="327.9" width="8.6" height="14" fill="url(#gCyl)"/>
<ellipse cx="393.9" cy="327.9" rx="4.3" ry="2.5" fill="#f9f9f9" stroke="#c4c4c8" stroke-width="0.5"/>
<polygon points="370.0,300.0 657.7,209.0 664.0,229.0 376.0,320.0" fill="url(#gShL)"/>
<polygon points="657.7,209.0 767.0,246.5 760.0,266.0 651.0,229.0" fill="url(#gShR)"/>
</g>
<polygon points="332.0,282.0 370.0,300.0 395.9,292.4 441.3,315.0 417.7,323.8 335.0,283.3" fill="#f3f3f4"  stroke="#f3f3f4" stroke-width="0.6" stroke-linejoin="round"/>
<polygon points="335.0,283.3 417.7,323.8 417.7,376.8 335.2,332.6" fill="#ebebed"  stroke="#ebebed" stroke-width="0.6" stroke-linejoin="round"/>
<polygon points="417.7,323.8 441.3,315.0 442.0,368.7 417.7,376.8" fill="#f7f7f7"  stroke="#f7f7f7" stroke-width="0.6" stroke-linejoin="round"/>
<polygon points="699.0,267.0 757.6,246.0 780.4,250.0 810.5,241.6 807.5,250.5 719.5,270.8" fill="#efeff0"  stroke="#efeff0" stroke-width="0.6" stroke-linejoin="round"/>
<polygon points="699.0,267.3 719.5,270.8 721.0,326.0 699.0,316.0" fill="#e8e8ea"  stroke="#e8e8ea" stroke-width="0.6" stroke-linejoin="round"/>
<polygon points="719.5,270.8 807.5,250.5 807.5,291.0 721.0,326.0" fill="#f7f7f7"  stroke="#f7f7f7" stroke-width="0.6" stroke-linejoin="round"/>
<polygon points="442.0,311.0 645.0,243.0 645.0,294.5 444.0,366.0" fill="#b9b9bc"  stroke="#b9b9bc" stroke-width="0.6" stroke-linejoin="round"/>
<path d="M443.1,311.6 L445.1,364.6 L453.5,361.6 L451.6,308.8 Z" fill="url(#gCyl)"/>
<ellipse cx="447.3" cy="310.2" rx="4.3" ry="2" fill="#f8f8f8"/>
<path d="M453.8,308.1 L455.6,360.9 L464.1,357.9 L462.3,305.2 Z" fill="url(#gCyl)"/>
<ellipse cx="458.0" cy="306.6" rx="4.3" ry="2" fill="#f8f8f8"/>
<path d="M464.4,304.5 L466.2,357.1 L474.7,354.1 L473.0,301.6 Z" fill="url(#gCyl)"/>
<ellipse cx="468.7" cy="303.1" rx="4.3" ry="2" fill="#f8f8f8"/>
<path d="M475.1,300.9 L476.8,353.3 L485.3,350.3 L483.7,298.0 Z" fill="url(#gCyl)"/>
<ellipse cx="479.4" cy="299.5" rx="4.3" ry="2" fill="#f8f8f8"/>
<path d="M485.8,297.3 L487.4,349.6 L495.8,346.6 L494.4,294.5 Z" fill="url(#gCyl)"/>
<ellipse cx="490.1" cy="295.9" rx="4.3" ry="2" fill="#f8f8f8"/>
<path d="M496.5,293.7 L498.0,345.8 L506.4,342.8 L505.0,290.9 Z" fill="url(#gCyl)"/>
<ellipse cx="500.8" cy="292.3" rx="4.3" ry="2" fill="#f8f8f8"/>
<path d="M507.2,290.2 L508.5,342.0 L517.0,339.0 L515.7,287.3 Z" fill="url(#gCyl)"/>
<ellipse cx="511.4" cy="288.7" rx="4.3" ry="2" fill="#f8f8f8"/>
<path d="M517.9,286.6 L519.1,338.3 L527.6,335.3 L526.4,283.7 Z" fill="url(#gCyl)"/>
<ellipse cx="522.1" cy="285.2" rx="4.3" ry="2" fill="#f8f8f8"/>
<path d="M528.5,283.0 L529.7,334.5 L538.2,331.5 L537.1,280.1 Z" fill="url(#gCyl)"/>
<ellipse cx="532.8" cy="281.6" rx="4.3" ry="2" fill="#f8f8f8"/>
<path d="M539.2,279.4 L540.3,330.8 L548.7,327.7 L547.8,276.6 Z" fill="url(#gCyl)"/>
<ellipse cx="543.5" cy="278.0" rx="4.3" ry="2" fill="#f8f8f8"/>
<path d="M549.9,275.9 L550.8,327.0 L559.3,324.0 L558.5,273.0 Z" fill="url(#gCyl)"/>
<ellipse cx="554.2" cy="274.4" rx="4.3" ry="2" fill="#f8f8f8"/>
<path d="M560.6,272.3 L561.4,323.2 L569.9,320.2 L569.1,269.4 Z" fill="url(#gCyl)"/>
<ellipse cx="564.9" cy="270.8" rx="4.3" ry="2" fill="#f8f8f8"/>
<path d="M571.3,268.7 L572.0,319.5 L580.5,316.5 L579.8,265.8 Z" fill="url(#gCyl)"/>
<ellipse cx="575.6" cy="267.3" rx="4.3" ry="2" fill="#f8f8f8"/>
<path d="M582.0,265.1 L582.6,315.7 L591.0,312.7 L590.5,262.3 Z" fill="url(#gCyl)"/>
<ellipse cx="586.2" cy="263.7" rx="4.3" ry="2" fill="#f8f8f8"/>
<path d="M592.6,261.5 L593.2,311.9 L601.6,308.9 L601.2,258.7 Z" fill="url(#gCyl)"/>
<ellipse cx="596.9" cy="260.1" rx="4.3" ry="2" fill="#f8f8f8"/>
<path d="M603.3,258.0 L603.7,308.2 L612.2,305.2 L611.9,255.1 Z" fill="url(#gCyl)"/>
<ellipse cx="607.6" cy="256.5" rx="4.3" ry="2" fill="#f8f8f8"/>
<path d="M614.0,254.4 L614.3,304.4 L622.8,301.4 L622.6,251.5 Z" fill="url(#gCyl)"/>
<ellipse cx="618.3" cy="252.9" rx="4.3" ry="2" fill="#f8f8f8"/>
<path d="M624.7,250.8 L624.9,300.6 L633.4,297.6 L633.2,247.9 Z" fill="url(#gCyl)"/>
<ellipse cx="629.0" cy="249.4" rx="4.3" ry="2" fill="#f8f8f8"/>
<path d="M635.4,247.2 L635.5,296.9 L643.9,293.9 L643.9,244.4 Z" fill="url(#gCyl)"/>
<ellipse cx="639.7" cy="245.8" rx="4.3" ry="2" fill="#f8f8f8"/>
<polygon points="645.0,243.0 700.0,266.0 699.0,316.0 645.0,294.5" fill="#b9b9bc"  stroke="#b9b9bc" stroke-width="0.6" stroke-linejoin="round"/>
<path d="M645.9,244.4 L645.9,293.9 L653.1,296.7 L653.2,247.4 Z" fill="url(#gCyl)"/>
<ellipse cx="649.6" cy="245.9" rx="3.7" ry="2" fill="#f8f8f8"/>
<path d="M655.1,248.2 L654.9,297.4 L662.1,300.3 L662.4,251.3 Z" fill="url(#gCyl)"/>
<ellipse cx="658.8" cy="249.8" rx="3.7" ry="2" fill="#f8f8f8"/>
<path d="M664.2,252.1 L663.9,301.0 L671.1,303.9 L671.6,255.1 Z" fill="url(#gCyl)"/>
<ellipse cx="667.9" cy="253.6" rx="3.7" ry="2" fill="#f8f8f8"/>
<path d="M673.4,255.9 L672.9,304.6 L680.1,307.5 L680.8,258.9 Z" fill="url(#gCyl)"/>
<ellipse cx="677.1" cy="257.4" rx="3.7" ry="2" fill="#f8f8f8"/>
<path d="M682.6,259.7 L681.9,308.2 L689.1,311.1 L689.9,262.8 Z" fill="url(#gCyl)"/>
<ellipse cx="686.2" cy="261.2" rx="3.7" ry="2" fill="#f8f8f8"/>
<path d="M691.8,263.6 L690.9,311.8 L698.1,314.6 L699.1,266.6 Z" fill="url(#gCyl)"/>
<ellipse cx="695.4" cy="265.1" rx="3.7" ry="2" fill="#f8f8f8"/>
<polygon points="332.0,271.0 370.0,289.5 370.0,300.0 332.0,282.0" fill="#f4e4ae"  stroke="#f4e4ae" stroke-width="0.6" stroke-linejoin="round"/>
<polygon points="370.0,289.5 657.7,199.5 657.7,209.0 370.0,300.0" fill="#f8eabb"  stroke="#f8eabb" stroke-width="0.6" stroke-linejoin="round"/>
<polygon points="657.7,199.5 780.4,243.3 780.4,250.0 657.7,209.0" fill="#f5e3a8"  stroke="#f5e3a8" stroke-width="0.6" stroke-linejoin="round"/>
<polygon points="780.4,243.3 810.5,232.6 810.5,241.6 780.4,250.0" fill="#f1dc9e"  stroke="#f1dc9e" stroke-width="0.6" stroke-linejoin="round"/>
<polygon points="332.0,271.0 649.0,177.0 810.5,232.0 780.4,243.3 657.7,199.5 370.0,289.5" fill="#fbf0cb"  stroke="#fbf0cb" stroke-width="0.6" stroke-linejoin="round"/>
<polygon points="332.0,271.0 649.0,177.0 810.5,232.0 780.4,243.3 657.7,199.5 370.0,289.5" fill="url(#latexdots)" />
<polyline points="70.3,159.3 283.5,159.3 334.9,211.4" fill="none" stroke="#000" stroke-width="1.5"/>
<polyline points="72.0,338.4 283.6,338.4 387.3,264.1" fill="none" stroke="#000" stroke-width="1.5"/>
<polyline points="72.0,397.7 283.6,397.7 449.7,283.0" fill="none" stroke="#000" stroke-width="1.5"/>
<polyline points="72.0,457.0 283.6,457.0 422.1,355.8" fill="none" stroke="#000" stroke-width="1.5"/>
<polyline points="72.0,513.4 283.6,513.4 544.9,317.9" fill="none" stroke="#000" stroke-width="1.5"/>
<polyline points="1022.8,116.5 822.5,116.5 882.9,237.2" fill="none" stroke="#000" stroke-width="1.5"/>
<polyline points="1032.8,338.7 833.0,338.7 854.9,244.6" fill="none" stroke="#000" stroke-width="1.5"/>
<polyline points="1034.3,392.0 834.6,392.0 649.0,304.9" fill="none" stroke="#000" stroke-width="1.5"/>
<polyline points="1034.3,439.3 835.7,439.3 603.6,328.9" fill="none" stroke="#000" stroke-width="1.5"/>
<polyline points="1034.3,478.2 836.7,478.2 581.5,358.0" fill="none" stroke="#000" stroke-width="1.5"/>
<circle cx="334.9" cy="211.4" r="2.4" fill="#7a1d88"/>
<circle cx="387.3" cy="264.1" r="2.4" fill="#7a1d88"/>
<circle cx="449.7" cy="283" r="2.4" fill="#7a1d88"/>
<circle cx="422.1" cy="355.8" r="2.4" fill="#7a1d88"/>
<circle cx="544.9" cy="317.9" r="2.4" fill="#7a1d88"/>
<circle cx="882.9" cy="237.2" r="2.4" fill="#7a1d88"/>
<circle cx="854.9" cy="244.6" r="2.4" fill="#7a1d88"/>
<circle cx="649" cy="304.9" r="2.4" fill="#7a1d88"/>
<circle cx="603.6" cy="328.9" r="2.4" fill="#7a1d88"/>
<circle cx="581.5" cy="358" r="2.4" fill="#7a1d88"/>
<text x="74.5" y="155.7" font-family="'Liberation Serif', serif" font-size="22.5" font-weight="normal" fill="#111" textLength="156.9" lengthAdjust="spacingAndGlyphs" text-anchor="start">Чехол стеганый</text>
<text x="77.0" y="336.1" font-family="'Liberation Serif', serif" font-size="22.5" font-weight="normal" fill="#111" textLength="202.7" lengthAdjust="spacingAndGlyphs" text-anchor="start">Натуральный латекс</text>
<text x="76.6" y="375.5" font-family="'Liberation Serif', serif" font-size="22.5" font-weight="normal" fill="#111" textLength="58.4" lengthAdjust="spacingAndGlyphs" text-anchor="start">Сетка</text>
<text x="76.6" y="394.0" font-family="'Liberation Serif', serif" font-size="22.5" font-weight="normal" fill="#111" textLength="186.9" lengthAdjust="spacingAndGlyphs" text-anchor="start">полипропиленовая</text>
<text x="78.0" y="434.5" font-family="'Liberation Serif', serif" font-size="22.5" font-weight="normal" fill="#111" textLength="179.9" lengthAdjust="spacingAndGlyphs" text-anchor="start">Усиленная защита</text>
<text x="77.2" y="453.0" font-family="'Liberation Serif', serif" font-size="22.5" font-weight="normal" fill="#111" textLength="135.2" lengthAdjust="spacingAndGlyphs" text-anchor="start">по периметру</text>
<text x="75.4" y="489.7" font-family="'Liberation Serif', serif" font-size="22.5" font-weight="normal" fill="#111" textLength="129.1" lengthAdjust="spacingAndGlyphs" text-anchor="start">Блок пружин</text>
<text x="75.4" y="509.3" font-family="'Liberation Serif', serif" font-size="22.5" font-weight="normal" fill="#111" textLength="179.6" lengthAdjust="spacingAndGlyphs" text-anchor="start">MultiPocket S1000</text>
<text x="839.3" y="113.4" font-family="'Liberation Serif', serif" font-size="22.5" font-weight="normal" fill="#111" textLength="80.7" lengthAdjust="spacingAndGlyphs" text-anchor="start">Аэратор</text>
<text x="838.9" y="333.5" font-family="'Liberation Serif', serif" font-size="22.5" font-weight="normal" fill="#111" textLength="57.7" lengthAdjust="spacingAndGlyphs" text-anchor="start">Ручка</text>
<text x="838.9" y="371.0" font-family="'Liberation Serif', serif" font-size="22.5" font-weight="normal" fill="#111" textLength="56.6" lengthAdjust="spacingAndGlyphs" text-anchor="start">Сетка</text>
<text x="838.9" y="388.9" font-family="'Liberation Serif', serif" font-size="22.5" font-weight="normal" fill="#111" textLength="186.6" lengthAdjust="spacingAndGlyphs" text-anchor="start">полипропиленовая</text>
<text x="838.8" y="416.4" font-family="'Liberation Serif', serif" font-size="22.5" font-weight="normal" fill="#111" textLength="170.3" lengthAdjust="spacingAndGlyphs" text-anchor="start">Латексированное</text>
<text x="837.8" y="436.4" font-family="'Liberation Serif', serif" font-size="22.5" font-weight="normal" fill="#111" textLength="186.7" lengthAdjust="spacingAndGlyphs" text-anchor="start">кокосовое волокно</text>
<text x="837.8" y="473.6" font-family="'Liberation Serif', serif" font-size="22.5" font-weight="normal" fill="#111" textLength="202.4" lengthAdjust="spacingAndGlyphs" text-anchor="start">Натуральный латекс</text>
<text x="57.0" y="102.7" font-family="'Liberation Serif', serif" font-size="34" font-weight="bold" fill="#781a86" textLength="111.0" lengthAdjust="spacingAndGlyphs" text-anchor="start">тип 4/5</text>
<text x="59.4" y="565.5" font-family="'Liberation Serif', serif" font-size="23.2" font-weight="normal" fill="#111" textLength="407.0" lengthAdjust="spacingAndGlyphs" text-anchor="start">Одна из топовых моделей матрасов ЭОС</text>
<circle cx="49.1" cy="559.7" r="2.1" fill="#111"/>
<text x="59.4" y="591.5" font-family="'Liberation Serif', serif" font-size="23.2" font-weight="normal" fill="#111" textLength="474.5" lengthAdjust="spacingAndGlyphs" text-anchor="start">Сочетание природных материалов с усиленным</text>
<circle cx="49.1" cy="585.7" r="2.1" fill="#111"/>
<text x="59.8" y="617.5" font-family="'Liberation Serif', serif" font-size="23.2" font-weight="normal" fill="#111" textLength="333.8" lengthAdjust="spacingAndGlyphs" text-anchor="start">независимым пружинным блоком</text>
<text x="59.4" y="643.3" font-family="'Liberation Serif', serif" font-size="23.2" font-weight="normal" fill="#111" textLength="425.0" lengthAdjust="spacingAndGlyphs" text-anchor="start">Поднимает качество сна на новый уровень</text>
<circle cx="49.1" cy="637.5" r="2.1" fill="#111"/>
<rect x="676.7" y="541.8" width="56.8" height="58.8" rx="5.5" fill="none" stroke="#b07fc0" stroke-width="1.3"/>
<path d="M699.5,557 C697,551 699,546.5 705,546.5 C711,546.5 713,551 710.5,557" fill="none" stroke="#b07fc0" stroke-width="1.3"/>
<path d="M701.5,554 C702,550.5 708,550.5 708.5,554" fill="none" stroke="#b07fc0" stroke-width="1.1"/>
<path d="M699.5,572 C692,567 694,555 705,555 C716,555 718,567 710.5,572 Z" fill="none" stroke="#b07fc0" stroke-width="1.3"/>
<text x="682.5" y="590.7" font-family="'Liberation Sans', sans-serif" font-size="15" font-weight="normal" fill="#6d1f7c" textLength="45.7" lengthAdjust="spacingAndGlyphs" text-anchor="start">150 кг</text>
<rect x="744.9" y="542.2" width="38" height="58.4" rx="5.5" fill="none" stroke="#b07fc0" stroke-width="1.3"/>
<text x="753.4" y="577.0" font-family="'Liberation Sans', sans-serif" font-size="15.5" font-weight="normal" fill="#6d1f7c" textLength="19.8" lengthAdjust="spacingAndGlyphs" text-anchor="start">25</text>
<text x="753.7" y="589.6" font-family="'Liberation Sans', sans-serif" font-size="15.5" font-weight="normal" fill="#6d1f7c" textLength="19.8" lengthAdjust="spacingAndGlyphs" text-anchor="start">см</text>
<rect x="788.6" y="542.2" width="13.2" height="58.4" rx="2.5" fill="none" stroke="#b07fc0" stroke-width="1.3"/>
<line x1="788.6" y1="548.4" x2="793.5" y2="548.4" stroke="#b07fc0" stroke-width="1.1" />
<line x1="788.6" y1="562.7" x2="793.5" y2="562.7" stroke="#b07fc0" stroke-width="1.1" />
<line x1="788.6" y1="577.3" x2="793.5" y2="577.3" stroke="#b07fc0" stroke-width="1.1" />
<line x1="788.6" y1="591.6" x2="793.5" y2="591.6" stroke="#b07fc0" stroke-width="1.1" />
<rect x="827.9" y="541.5" width="46" height="15.3" rx="2.8" fill="#761982"/>
<rect x="882.9" y="542.1" width="46" height="14.1" rx="2.8" fill="none" stroke="#b07fc0" stroke-width="1.2"/>
<rect x="937.3" y="542.1" width="46" height="14.1" rx="2.8" fill="none" stroke="#b07fc0" stroke-width="1.2"/>
<rect x="991.7" y="542.1" width="46" height="14.1" rx="2.8" fill="none" stroke="#b07fc0" stroke-width="1.2"/>
<rect x="827.9" y="566.0" width="46" height="15.3" rx="2.8" fill="#761982"/>
<rect x="882.3" y="566.0" width="46" height="15.3" rx="2.8" fill="#761982"/>
<rect x="937.3" y="566.6" width="46" height="14.1" rx="2.8" fill="none" stroke="#b07fc0" stroke-width="1.2"/>
<rect x="991.7" y="566.6" width="46" height="14.1" rx="2.8" fill="none" stroke="#b07fc0" stroke-width="1.2"/>
<text x="826.8" y="601.0" font-family="'Liberation Serif', serif" font-size="16" font-weight="normal" fill="#111" textLength="144.4" lengthAdjust="spacingAndGlyphs" text-anchor="start">Низкая / Средняя</text>
<rect x="678.7" y="615.7" width="52.9" height="57" rx="1.8" fill="none" stroke="#761982" stroke-width="2.2"/>
<text x="689.6" y="633.5" font-family="'Liberation Serif', serif" font-size="14.5" font-weight="bold" fill="#761982" textLength="31.7" lengthAdjust="spacingAndGlyphs" text-anchor="start">2044</text>
<circle cx="689.4" cy="643.3" r="3.55" fill="none" stroke="#761982" stroke-width="1.25"/>
<circle cx="700.5" cy="643.3" r="3.55" fill="none" stroke="#761982" stroke-width="1.25"/>
<circle cx="711.7" cy="643.3" r="3.55" fill="none" stroke="#761982" stroke-width="1.25"/>
<circle cx="722.9" cy="643.3" r="3.55" fill="none" stroke="#761982" stroke-width="1.25"/>
<circle cx="694.9" cy="651.5" r="3.55" fill="none" stroke="#761982" stroke-width="1.25"/>
<circle cx="706.0" cy="651.5" r="3.55" fill="none" stroke="#761982" stroke-width="1.25"/>
<circle cx="717.1" cy="651.5" r="3.55" fill="none" stroke="#761982" stroke-width="1.25"/>
<circle cx="689.4" cy="660.2" r="3.55" fill="none" stroke="#761982" stroke-width="1.25"/>
<circle cx="700.5" cy="660.2" r="3.55" fill="none" stroke="#761982" stroke-width="1.25"/>
<circle cx="711.7" cy="660.2" r="3.55" fill="none" stroke="#761982" stroke-width="1.25"/>
<circle cx="722.9" cy="660.2" r="3.55" fill="none" stroke="#761982" stroke-width="1.25"/>
<polyline points="768.2,648.6 754.6,671.8 891.7,671.8 878.2,648.6" fill="none" stroke="#761982" stroke-width="2.2" stroke-linejoin="round"/>
<text x="768.2" y="641.4" font-family="'Liberation Serif', serif" font-size="22" font-weight="bold" fill="#761982" textLength="110.1" lengthAdjust="spacingAndGlyphs" text-anchor="start">Protection</text>
<text x="770.9" y="659.5" font-family="'Liberation Serif', serif" font-size="22" font-weight="bold" fill="#761982" textLength="106.1" lengthAdjust="spacingAndGlyphs" text-anchor="start">perimeter</text>
<rect x="910.7" y="627.4" width="29.1" height="45" rx="2" fill="none" stroke="#761982" stroke-width="2.2"/>
<rect x="915.5" y="630.7" width="17.2" height="2" fill="#761982"/>
<rect x="915.5" y="666.7" width="17.2" height="2" fill="#761982"/>
<text x="914.5" y="664.1" font-family="'Liberation Sans', sans-serif" font-size="38" font-weight="bold" fill="#761982" textLength="20.8" lengthAdjust="spacingAndGlyphs" text-anchor="start">5</text>
<rect x="677.8" y="688.5" width="58.7" height="60.3" rx="6" fill="none" stroke="#761982" stroke-width="2"/>
<line x1="678.0" y1="697.5" x2="736.5" y2="697.5" stroke="#761982" stroke-width="2" />
<line x1="678.0" y1="742.0" x2="736.5" y2="742.0" stroke="#761982" stroke-width="2" />
<path d="M685,698 Q697.9,719.5 682.3,741.5" fill="none" stroke="#761982" stroke-width="1.7"/>
<path d="M698.6,698 Q711.3,719.5 695.9,741.5" fill="none" stroke="#761982" stroke-width="1.7"/>
<path d="M723.2,698 Q738.4,719.5 718.4,741.5" fill="none" stroke="#761982" stroke-width="1.7"/>
<rect x="701.6" y="700.7" width="10.5" height="37.2" fill="#fff" stroke="#761982" stroke-width="1.7"/>
<path d="M713,709 Q717,719.5 713,730" fill="none" stroke="#761982" stroke-width="1.3"/>
<text x="753.9" y="717.1" font-family="'Liberation Serif', serif" font-size="22" font-weight="bold" fill="#761982" textLength="50.0" lengthAdjust="spacingAndGlyphs" text-anchor="start">Easy</text>
<text x="761.4" y="735.9" font-family="'Liberation Serif', serif" font-size="22" font-weight="bold" fill="#761982" textLength="34.9" lengthAdjust="spacingAndGlyphs" text-anchor="start">flip</text>
<path d="M829.1,697.1 A29.6,29.6 0 0 0 860.8,745.8" fill="none" stroke="#761982" stroke-width="2"/>
<path d="M838.1,691.2 A29.6,29.6 0 0 1 871.0,739.0" fill="none" stroke="#761982" stroke-width="2"/>
<path d="M823.1,697.4 L830.3,695.9 L829.5,703.1" fill="none" stroke="#761982" stroke-width="2" stroke-linejoin="miter"/>
<path d="M877.0,738.7 L869.8,740.2 L870.6,733.0" fill="none" stroke="#761982" stroke-width="2" stroke-linejoin="miter"/>
<ellipse cx="845.8" cy="718.9" rx="15.2" ry="19.6" fill="none" stroke="#761982" stroke-width="2"/>
<path d="M850.5,699.4 C861,700 866.5,710 866.5,719 C866.5,728 861,738 852,738.6" fill="none" stroke="#761982" stroke-width="1.8"/>
<line x1="859.8" y1="703.0" x2="862.8" y2="703.0" stroke="#761982" stroke-width="0.8"/>
<line x1="862.0" y1="707.1" x2="865.0" y2="707.1" stroke="#761982" stroke-width="0.8"/>
<line x1="863.4" y1="712.7" x2="866.4" y2="712.7" stroke="#761982" stroke-width="0.8"/>
<line x1="863.9" y1="719.0" x2="866.9" y2="719.0" stroke="#761982" stroke-width="0.8"/>
<line x1="863.4" y1="725.3" x2="866.4" y2="725.3" stroke="#761982" stroke-width="0.8"/>
<line x1="862.0" y1="730.9" x2="865.0" y2="730.9" stroke="#761982" stroke-width="0.8"/>
<line x1="859.8" y1="735.0" x2="862.8" y2="735.0" stroke="#761982" stroke-width="0.8"/>
<path d="M836,712 q2.7,-3 5.3,0 t5.3,0 t5.3,0 t3.5,-1" fill="none" stroke="#761982" stroke-width="1.7"/>
<path d="M836,718.9 q2.7,-3 5.3,0 t5.3,0 t5.3,0 t3.5,-1" fill="none" stroke="#761982" stroke-width="1.7"/>
<path d="M836,725.5 q2.7,-3 5.3,0 t5.3,0 t5.3,0 t3.5,-1" fill="none" stroke="#761982" stroke-width="1.7"/>
<text x="923.1" y="717.1" font-family="'Liberation Serif', serif" font-size="22" font-weight="bold" fill="#761982" textLength="36.1" lengthAdjust="spacingAndGlyphs" text-anchor="start">Air</text>
<text x="890.9" y="736.1" font-family="'Liberation Serif', serif" font-size="22" font-weight="bold" fill="#761982" textLength="98.5" lengthAdjust="spacingAndGlyphs" text-anchor="start">exchange</text>
</svg>
</body></html>
